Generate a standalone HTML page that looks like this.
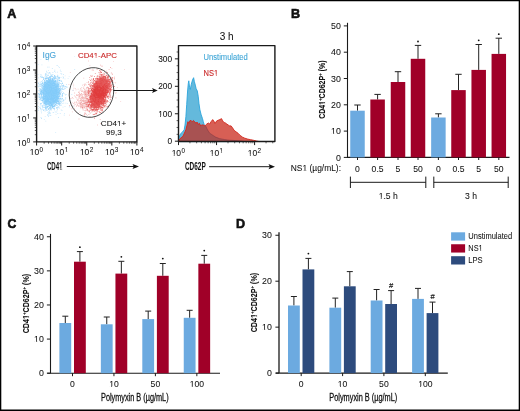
<!DOCTYPE html>
<html><head><meta charset="utf-8"><style>
html,body{margin:0;padding:0;background:#fff;}
svg{display:block;font-family:"Liberation Sans", sans-serif;will-change:transform;}
</style></head><body>
<svg width="520" height="411" viewBox="0 0 520 411">
<rect width="520" height="411" fill="#fff"/>
<text x="7.30" y="18.10" font-size="12.6" text-anchor="start" fill="#111" font-weight="bold" stroke="#111" stroke-width="0.6" >A</text>
<text x="291.10" y="17.90" font-size="12.6" text-anchor="start" fill="#111" font-weight="bold" stroke="#111" stroke-width="0.6" >B</text>
<text x="7.60" y="227.80" font-size="13.0" text-anchor="start" fill="#111" font-weight="bold" stroke="#111" stroke-width="0.6" textLength="8.8" lengthAdjust="spacingAndGlyphs">C</text>
<text x="235.90" y="228.40" font-size="12.6" text-anchor="start" fill="#111" font-weight="bold" stroke="#111" stroke-width="0.6" >D</text>
<path fill="#68c0fa" fill-opacity="0.72" d="M49.4 95.2h0.8v0.8h-0.8zM49.5 90.3h0.8v0.8h-0.8zM46.8 90.9h0.8v0.8h-0.8zM54.7 94.7h0.8v0.8h-0.8zM54.4 93.7h0.8v0.8h-0.8zM51.9 93.3h0.8v0.8h-0.8zM43.9 97.2h0.8v0.8h-0.8zM52.4 95.1h0.8v0.8h-0.8zM43.8 81.9h0.8v0.8h-0.8zM46.9 89.4h0.8v0.8h-0.8zM51.6 91.9h0.8v0.8h-0.8zM52.4 88.4h0.8v0.8h-0.8zM51.6 94.5h0.8v0.8h-0.8zM47.8 102.3h0.8v0.8h-0.8zM52.6 99.3h0.8v0.8h-0.8zM48.0 87.8h0.8v0.8h-0.8zM49.1 91.6h0.8v0.8h-0.8zM52.9 93.7h0.8v0.8h-0.8zM48.7 86.6h0.8v0.8h-0.8zM48.4 99.4h0.8v0.8h-0.8zM47.2 93.6h0.8v0.8h-0.8zM52.1 83.4h0.8v0.8h-0.8zM50.6 99.9h0.8v0.8h-0.8zM42.5 90.3h0.8v0.8h-0.8zM50.0 87.4h0.8v0.8h-0.8zM52.3 91.8h0.8v0.8h-0.8zM44.7 97.1h0.8v0.8h-0.8zM53.0 97.8h0.8v0.8h-0.8zM56.0 94.3h0.8v0.8h-0.8zM50.9 84.5h0.8v0.8h-0.8zM52.8 88.6h0.8v0.8h-0.8zM48.6 84.7h0.8v0.8h-0.8zM46.6 89.1h0.8v0.8h-0.8zM55.4 80.2h0.8v0.8h-0.8zM44.7 93.6h0.8v0.8h-0.8zM56.0 95.6h0.8v0.8h-0.8zM43.0 77.3h0.8v0.8h-0.8zM51.8 87.9h0.8v0.8h-0.8zM46.0 98.0h0.8v0.8h-0.8zM54.7 93.1h0.8v0.8h-0.8zM51.4 94.8h0.8v0.8h-0.8zM56.6 95.9h0.8v0.8h-0.8zM52.4 95.4h0.8v0.8h-0.8zM44.3 99.8h0.8v0.8h-0.8zM54.1 95.3h0.8v0.8h-0.8zM42.7 88.5h0.8v0.8h-0.8zM53.7 81.5h0.8v0.8h-0.8zM49.7 98.2h0.8v0.8h-0.8zM45.3 101.7h0.8v0.8h-0.8zM52.6 91.3h0.8v0.8h-0.8zM51.7 96.0h0.8v0.8h-0.8zM50.9 99.0h0.8v0.8h-0.8zM47.8 89.8h0.8v0.8h-0.8zM54.5 92.4h0.8v0.8h-0.8zM47.0 97.8h0.8v0.8h-0.8zM56.1 89.6h0.8v0.8h-0.8zM45.0 91.4h0.8v0.8h-0.8zM49.8 90.4h0.8v0.8h-0.8zM55.9 86.1h0.8v0.8h-0.8zM55.3 84.7h0.8v0.8h-0.8zM47.3 95.9h0.8v0.8h-0.8zM54.8 97.3h0.8v0.8h-0.8zM51.7 93.0h0.8v0.8h-0.8zM51.0 95.6h0.8v0.8h-0.8zM49.7 93.8h0.8v0.8h-0.8zM52.6 92.2h0.8v0.8h-0.8zM53.4 95.5h0.8v0.8h-0.8zM58.2 94.1h0.8v0.8h-0.8zM48.7 90.0h0.8v0.8h-0.8zM50.3 97.7h0.8v0.8h-0.8zM49.1 94.5h0.8v0.8h-0.8zM57.6 77.1h0.8v0.8h-0.8zM46.0 93.6h0.8v0.8h-0.8zM52.0 93.6h0.8v0.8h-0.8zM48.7 96.1h0.8v0.8h-0.8zM51.5 89.1h0.8v0.8h-0.8zM59.9 94.3h0.8v0.8h-0.8zM48.2 91.6h0.8v0.8h-0.8zM49.5 91.8h0.8v0.8h-0.8zM39.8 89.3h0.8v0.8h-0.8zM54.3 85.3h0.8v0.8h-0.8zM50.1 97.8h0.8v0.8h-0.8zM53.7 101.0h0.8v0.8h-0.8zM43.8 90.1h0.8v0.8h-0.8zM49.1 95.9h0.8v0.8h-0.8zM54.7 76.4h0.8v0.8h-0.8zM54.6 83.7h0.8v0.8h-0.8zM53.1 83.4h0.8v0.8h-0.8zM51.1 99.2h0.8v0.8h-0.8zM49.8 93.3h0.8v0.8h-0.8zM53.5 93.0h0.8v0.8h-0.8zM50.1 101.2h0.8v0.8h-0.8zM54.5 90.5h0.8v0.8h-0.8zM61.1 85.4h0.8v0.8h-0.8zM54.0 90.6h0.8v0.8h-0.8zM50.9 96.4h0.8v0.8h-0.8zM51.3 96.0h0.8v0.8h-0.8zM44.4 83.3h0.8v0.8h-0.8zM52.8 86.5h0.8v0.8h-0.8zM46.4 83.5h0.8v0.8h-0.8zM55.3 96.6h0.8v0.8h-0.8zM56.1 86.7h0.8v0.8h-0.8zM50.4 85.5h0.8v0.8h-0.8zM53.4 101.6h0.8v0.8h-0.8zM46.9 101.4h0.8v0.8h-0.8zM54.3 91.2h0.8v0.8h-0.8zM42.7 100.5h0.8v0.8h-0.8zM50.0 88.6h0.8v0.8h-0.8zM52.0 94.6h0.8v0.8h-0.8zM56.2 86.2h0.8v0.8h-0.8zM54.8 101.0h0.8v0.8h-0.8zM56.1 91.1h0.8v0.8h-0.8zM47.5 98.2h0.8v0.8h-0.8zM50.8 92.9h0.8v0.8h-0.8zM56.0 90.6h0.8v0.8h-0.8zM41.4 89.9h0.8v0.8h-0.8zM43.2 97.0h0.8v0.8h-0.8zM51.6 88.6h0.8v0.8h-0.8zM50.4 97.1h0.8v0.8h-0.8zM50.7 100.0h0.8v0.8h-0.8zM50.2 98.3h0.8v0.8h-0.8zM56.2 101.7h0.8v0.8h-0.8zM47.8 97.4h0.8v0.8h-0.8zM43.1 85.8h0.8v0.8h-0.8zM42.7 98.5h0.8v0.8h-0.8zM45.6 92.1h0.8v0.8h-0.8zM49.7 92.0h0.8v0.8h-0.8zM48.1 93.6h0.8v0.8h-0.8zM57.4 92.5h0.8v0.8h-0.8zM52.5 98.1h0.8v0.8h-0.8zM49.6 84.8h0.8v0.8h-0.8zM48.2 98.5h0.8v0.8h-0.8zM44.0 88.7h0.8v0.8h-0.8zM54.3 96.9h0.8v0.8h-0.8zM50.4 97.0h0.8v0.8h-0.8zM51.0 85.2h0.8v0.8h-0.8zM44.3 88.4h0.8v0.8h-0.8zM54.0 88.9h0.8v0.8h-0.8zM46.9 87.7h0.8v0.8h-0.8zM44.4 91.5h0.8v0.8h-0.8zM45.8 94.3h0.8v0.8h-0.8zM41.2 94.1h0.8v0.8h-0.8zM47.9 80.7h0.8v0.8h-0.8zM53.2 90.6h0.8v0.8h-0.8zM41.7 87.0h0.8v0.8h-0.8zM51.5 89.5h0.8v0.8h-0.8zM53.4 96.6h0.8v0.8h-0.8zM53.0 94.1h0.8v0.8h-0.8zM55.6 96.1h0.8v0.8h-0.8zM52.2 79.9h0.8v0.8h-0.8zM53.9 99.9h0.8v0.8h-0.8zM49.2 89.4h0.8v0.8h-0.8zM58.0 81.8h0.8v0.8h-0.8zM52.2 106.5h0.8v0.8h-0.8zM46.8 96.3h0.8v0.8h-0.8zM57.8 91.5h0.8v0.8h-0.8zM52.6 97.5h0.8v0.8h-0.8zM46.9 91.7h0.8v0.8h-0.8zM51.5 97.1h0.8v0.8h-0.8zM50.3 91.0h0.8v0.8h-0.8zM46.4 90.1h0.8v0.8h-0.8zM53.9 92.8h0.8v0.8h-0.8zM47.1 87.2h0.8v0.8h-0.8zM60.8 98.9h0.8v0.8h-0.8zM52.9 76.9h0.8v0.8h-0.8zM52.8 95.0h0.8v0.8h-0.8zM57.0 94.7h0.8v0.8h-0.8zM50.1 95.3h0.8v0.8h-0.8zM42.8 98.3h0.8v0.8h-0.8zM51.7 88.1h0.8v0.8h-0.8zM55.6 102.9h0.8v0.8h-0.8zM44.9 88.3h0.8v0.8h-0.8zM51.5 93.3h0.8v0.8h-0.8zM48.8 86.5h0.8v0.8h-0.8zM58.7 98.3h0.8v0.8h-0.8zM45.7 84.3h0.8v0.8h-0.8zM57.0 98.0h0.8v0.8h-0.8zM57.5 97.0h0.8v0.8h-0.8zM47.0 93.7h0.8v0.8h-0.8zM42.0 87.8h0.8v0.8h-0.8zM50.2 95.3h0.8v0.8h-0.8zM47.6 91.5h0.8v0.8h-0.8zM52.2 94.4h0.8v0.8h-0.8zM52.9 93.4h0.8v0.8h-0.8zM49.1 96.9h0.8v0.8h-0.8zM50.6 87.3h0.8v0.8h-0.8zM48.0 92.2h0.8v0.8h-0.8zM50.0 93.1h0.8v0.8h-0.8zM50.4 93.2h0.8v0.8h-0.8zM49.9 84.8h0.8v0.8h-0.8zM52.0 98.4h0.8v0.8h-0.8zM52.1 91.1h0.8v0.8h-0.8zM52.1 86.5h0.8v0.8h-0.8zM43.0 92.6h0.8v0.8h-0.8zM46.8 96.6h0.8v0.8h-0.8zM46.2 76.7h0.8v0.8h-0.8zM46.3 101.5h0.8v0.8h-0.8zM48.9 84.1h0.8v0.8h-0.8zM47.4 95.3h0.8v0.8h-0.8zM52.3 93.2h0.8v0.8h-0.8zM56.2 96.4h0.8v0.8h-0.8zM50.3 95.7h0.8v0.8h-0.8zM56.9 97.9h0.8v0.8h-0.8zM54.4 85.8h0.8v0.8h-0.8zM49.8 96.5h0.8v0.8h-0.8zM49.2 98.5h0.8v0.8h-0.8zM52.7 97.6h0.8v0.8h-0.8zM49.6 107.2h0.8v0.8h-0.8zM55.2 90.9h0.8v0.8h-0.8zM50.8 107.5h0.8v0.8h-0.8zM49.1 97.4h0.8v0.8h-0.8zM54.2 92.2h0.8v0.8h-0.8zM45.8 93.3h0.8v0.8h-0.8zM51.8 98.9h0.8v0.8h-0.8zM53.5 92.3h0.8v0.8h-0.8zM53.7 95.4h0.8v0.8h-0.8zM51.2 92.5h0.8v0.8h-0.8zM49.5 96.2h0.8v0.8h-0.8zM46.3 88.5h0.8v0.8h-0.8zM50.4 83.6h0.8v0.8h-0.8zM48.7 80.3h0.8v0.8h-0.8zM47.7 95.6h0.8v0.8h-0.8zM52.6 91.9h0.8v0.8h-0.8zM49.5 83.8h0.8v0.8h-0.8zM57.5 95.2h0.8v0.8h-0.8zM54.7 87.0h0.8v0.8h-0.8zM49.7 81.5h0.8v0.8h-0.8zM53.4 97.7h0.8v0.8h-0.8zM43.0 91.9h0.8v0.8h-0.8zM52.9 81.8h0.8v0.8h-0.8zM43.3 85.9h0.8v0.8h-0.8zM47.9 83.9h0.8v0.8h-0.8zM50.5 93.7h0.8v0.8h-0.8zM52.9 96.3h0.8v0.8h-0.8zM56.3 99.1h0.8v0.8h-0.8zM45.3 89.2h0.8v0.8h-0.8zM46.3 85.8h0.8v0.8h-0.8zM50.1 92.2h0.8v0.8h-0.8zM52.3 82.8h0.8v0.8h-0.8zM45.6 92.1h0.8v0.8h-0.8zM49.6 90.4h0.8v0.8h-0.8zM50.2 87.7h0.8v0.8h-0.8zM53.1 94.3h0.8v0.8h-0.8zM50.1 88.2h0.8v0.8h-0.8zM49.7 76.1h0.8v0.8h-0.8zM46.6 92.4h0.8v0.8h-0.8zM44.5 93.4h0.8v0.8h-0.8zM51.0 84.1h0.8v0.8h-0.8zM49.4 90.3h0.8v0.8h-0.8zM52.2 95.8h0.8v0.8h-0.8zM50.3 87.2h0.8v0.8h-0.8zM49.8 91.8h0.8v0.8h-0.8zM53.3 93.9h0.8v0.8h-0.8zM47.6 84.2h0.8v0.8h-0.8zM48.9 87.8h0.8v0.8h-0.8zM46.1 91.5h0.8v0.8h-0.8zM48.5 92.8h0.8v0.8h-0.8zM52.4 89.8h0.8v0.8h-0.8zM59.5 90.3h0.8v0.8h-0.8zM54.7 92.9h0.8v0.8h-0.8zM54.8 78.2h0.8v0.8h-0.8zM47.5 93.7h0.8v0.8h-0.8zM52.7 106.0h0.8v0.8h-0.8zM51.7 99.8h0.8v0.8h-0.8zM53.4 97.8h0.8v0.8h-0.8zM52.4 91.3h0.8v0.8h-0.8zM52.4 85.8h0.8v0.8h-0.8zM55.0 86.2h0.8v0.8h-0.8zM51.4 104.7h0.8v0.8h-0.8zM49.5 92.3h0.8v0.8h-0.8zM54.9 92.4h0.8v0.8h-0.8zM47.3 93.7h0.8v0.8h-0.8zM52.7 96.4h0.8v0.8h-0.8zM47.4 102.5h0.8v0.8h-0.8zM56.9 92.3h0.8v0.8h-0.8zM51.4 89.7h0.8v0.8h-0.8zM55.9 88.0h0.8v0.8h-0.8zM53.0 89.4h0.8v0.8h-0.8zM47.7 96.4h0.8v0.8h-0.8zM55.6 92.1h0.8v0.8h-0.8zM47.8 97.0h0.8v0.8h-0.8zM50.2 94.0h0.8v0.8h-0.8zM56.3 98.9h0.8v0.8h-0.8zM48.4 105.7h0.8v0.8h-0.8zM50.4 96.8h0.8v0.8h-0.8zM47.9 91.9h0.8v0.8h-0.8zM43.6 102.7h0.8v0.8h-0.8zM55.7 85.0h0.8v0.8h-0.8zM44.5 82.6h0.8v0.8h-0.8zM55.0 89.5h0.8v0.8h-0.8zM50.2 90.4h0.8v0.8h-0.8zM49.9 85.8h0.8v0.8h-0.8zM50.5 83.7h0.8v0.8h-0.8zM50.1 94.0h0.8v0.8h-0.8zM52.2 90.8h0.8v0.8h-0.8zM46.9 93.1h0.8v0.8h-0.8zM48.5 101.4h0.8v0.8h-0.8zM53.4 91.5h0.8v0.8h-0.8zM48.6 88.1h0.8v0.8h-0.8zM46.7 90.1h0.8v0.8h-0.8zM51.5 95.2h0.8v0.8h-0.8zM52.6 104.6h0.8v0.8h-0.8zM47.7 92.3h0.8v0.8h-0.8zM61.3 81.2h0.8v0.8h-0.8zM48.4 93.2h0.8v0.8h-0.8zM51.0 94.6h0.8v0.8h-0.8zM49.5 94.4h0.8v0.8h-0.8zM50.6 96.8h0.8v0.8h-0.8zM43.0 87.0h0.8v0.8h-0.8zM50.4 86.1h0.8v0.8h-0.8zM46.3 95.9h0.8v0.8h-0.8zM47.9 95.9h0.8v0.8h-0.8zM53.3 94.0h0.8v0.8h-0.8zM52.4 91.6h0.8v0.8h-0.8zM44.9 92.0h0.8v0.8h-0.8zM52.2 89.1h0.8v0.8h-0.8zM50.0 96.6h0.8v0.8h-0.8zM47.0 96.0h0.8v0.8h-0.8zM57.7 88.9h0.8v0.8h-0.8zM51.0 91.3h0.8v0.8h-0.8zM56.4 94.1h0.8v0.8h-0.8zM53.9 88.1h0.8v0.8h-0.8zM50.3 92.1h0.8v0.8h-0.8zM43.5 100.7h0.8v0.8h-0.8zM53.9 81.9h0.8v0.8h-0.8zM53.3 91.4h0.8v0.8h-0.8zM52.1 94.4h0.8v0.8h-0.8zM44.6 90.9h0.8v0.8h-0.8zM56.2 88.8h0.8v0.8h-0.8zM46.4 84.2h0.8v0.8h-0.8zM45.6 94.2h0.8v0.8h-0.8zM57.0 94.7h0.8v0.8h-0.8zM51.4 105.4h0.8v0.8h-0.8zM48.4 88.2h0.8v0.8h-0.8zM52.5 95.4h0.8v0.8h-0.8zM46.4 85.3h0.8v0.8h-0.8zM51.5 93.7h0.8v0.8h-0.8zM45.3 91.0h0.8v0.8h-0.8zM48.3 94.9h0.8v0.8h-0.8zM49.9 91.7h0.8v0.8h-0.8zM49.0 98.4h0.8v0.8h-0.8zM55.8 90.0h0.8v0.8h-0.8zM53.7 87.7h0.8v0.8h-0.8zM50.7 96.6h0.8v0.8h-0.8zM56.3 89.9h0.8v0.8h-0.8zM50.1 93.4h0.8v0.8h-0.8zM44.6 92.3h0.8v0.8h-0.8zM47.8 94.4h0.8v0.8h-0.8zM46.0 80.5h0.8v0.8h-0.8zM50.5 93.7h0.8v0.8h-0.8zM48.3 97.4h0.8v0.8h-0.8zM49.3 88.6h0.8v0.8h-0.8zM52.3 82.9h0.8v0.8h-0.8zM47.8 92.1h0.8v0.8h-0.8zM53.7 91.2h0.8v0.8h-0.8zM51.6 88.3h0.8v0.8h-0.8zM51.6 102.0h0.8v0.8h-0.8zM47.7 106.2h0.8v0.8h-0.8zM47.9 92.3h0.8v0.8h-0.8zM51.1 98.2h0.8v0.8h-0.8zM45.6 79.8h0.8v0.8h-0.8zM52.8 96.9h0.8v0.8h-0.8zM52.8 107.7h0.8v0.8h-0.8zM51.2 93.7h0.8v0.8h-0.8zM54.0 94.4h0.8v0.8h-0.8zM56.9 84.9h0.8v0.8h-0.8zM48.9 71.9h0.8v0.8h-0.8zM53.6 90.0h0.8v0.8h-0.8zM54.0 104.9h0.8v0.8h-0.8zM50.4 90.7h0.8v0.8h-0.8zM48.5 87.3h0.8v0.8h-0.8zM47.9 96.0h0.8v0.8h-0.8zM50.5 92.6h0.8v0.8h-0.8zM49.7 97.6h0.8v0.8h-0.8zM52.3 91.4h0.8v0.8h-0.8zM53.0 91.3h0.8v0.8h-0.8zM45.9 100.8h0.8v0.8h-0.8zM52.2 86.6h0.8v0.8h-0.8zM54.6 94.2h0.8v0.8h-0.8zM44.3 101.7h0.8v0.8h-0.8zM51.7 97.5h0.8v0.8h-0.8zM51.2 91.3h0.8v0.8h-0.8zM44.4 97.9h0.8v0.8h-0.8zM50.5 90.5h0.8v0.8h-0.8zM51.8 92.7h0.8v0.8h-0.8zM53.0 90.0h0.8v0.8h-0.8zM50.3 79.6h0.8v0.8h-0.8zM48.7 96.2h0.8v0.8h-0.8zM55.6 90.1h0.8v0.8h-0.8zM49.9 101.5h0.8v0.8h-0.8zM49.1 96.5h0.8v0.8h-0.8zM56.9 92.4h0.8v0.8h-0.8zM55.2 88.0h0.8v0.8h-0.8zM51.2 91.7h0.8v0.8h-0.8zM50.8 98.9h0.8v0.8h-0.8zM59.7 88.3h0.8v0.8h-0.8zM48.2 95.1h0.8v0.8h-0.8zM46.3 95.1h0.8v0.8h-0.8zM52.6 90.6h0.8v0.8h-0.8zM52.5 83.1h0.8v0.8h-0.8zM53.4 83.1h0.8v0.8h-0.8zM47.7 88.9h0.8v0.8h-0.8zM48.8 97.3h0.8v0.8h-0.8zM50.7 89.9h0.8v0.8h-0.8zM52.5 101.5h0.8v0.8h-0.8zM50.4 94.4h0.8v0.8h-0.8zM55.2 93.8h0.8v0.8h-0.8zM45.4 106.9h0.8v0.8h-0.8zM59.0 80.5h0.8v0.8h-0.8zM50.2 94.7h0.8v0.8h-0.8zM54.2 96.1h0.8v0.8h-0.8zM49.3 86.0h0.8v0.8h-0.8zM50.8 98.3h0.8v0.8h-0.8zM46.2 86.1h0.8v0.8h-0.8zM50.3 80.8h0.8v0.8h-0.8zM49.4 89.6h0.8v0.8h-0.8zM52.2 88.1h0.8v0.8h-0.8zM47.0 89.9h0.8v0.8h-0.8zM50.2 88.3h0.8v0.8h-0.8zM50.4 96.6h0.8v0.8h-0.8zM55.0 102.3h0.8v0.8h-0.8zM47.3 89.7h0.8v0.8h-0.8zM40.7 103.4h0.8v0.8h-0.8zM47.6 92.0h0.8v0.8h-0.8zM52.4 84.2h0.8v0.8h-0.8zM52.2 92.0h0.8v0.8h-0.8zM43.3 93.9h0.8v0.8h-0.8zM55.1 81.2h0.8v0.8h-0.8zM53.5 93.4h0.8v0.8h-0.8zM52.3 94.8h0.8v0.8h-0.8zM55.5 90.9h0.8v0.8h-0.8zM53.8 89.8h0.8v0.8h-0.8zM53.2 87.4h0.8v0.8h-0.8zM50.0 102.4h0.8v0.8h-0.8zM52.1 91.3h0.8v0.8h-0.8zM45.9 87.5h0.8v0.8h-0.8zM51.2 97.7h0.8v0.8h-0.8zM52.1 95.3h0.8v0.8h-0.8zM50.2 100.2h0.8v0.8h-0.8zM48.9 89.0h0.8v0.8h-0.8zM53.9 92.6h0.8v0.8h-0.8zM49.3 88.8h0.8v0.8h-0.8zM49.4 95.9h0.8v0.8h-0.8zM51.8 85.1h0.8v0.8h-0.8zM52.1 93.3h0.8v0.8h-0.8zM46.5 96.8h0.8v0.8h-0.8zM49.3 90.2h0.8v0.8h-0.8zM53.5 100.0h0.8v0.8h-0.8zM47.7 94.8h0.8v0.8h-0.8zM47.0 105.9h0.8v0.8h-0.8zM48.5 99.3h0.8v0.8h-0.8zM47.9 97.0h0.8v0.8h-0.8zM59.1 77.2h0.8v0.8h-0.8zM48.7 95.2h0.8v0.8h-0.8zM50.0 88.3h0.8v0.8h-0.8zM58.8 92.7h0.8v0.8h-0.8zM44.0 97.2h0.8v0.8h-0.8zM43.7 99.0h0.8v0.8h-0.8zM48.1 93.1h0.8v0.8h-0.8zM55.3 92.9h0.8v0.8h-0.8zM45.0 82.2h0.8v0.8h-0.8zM55.0 96.6h0.8v0.8h-0.8zM47.2 97.3h0.8v0.8h-0.8zM52.3 96.0h0.8v0.8h-0.8zM41.6 90.4h0.8v0.8h-0.8zM53.9 96.5h0.8v0.8h-0.8zM53.8 77.7h0.8v0.8h-0.8zM51.1 95.1h0.8v0.8h-0.8zM60.4 86.6h0.8v0.8h-0.8zM49.1 92.4h0.8v0.8h-0.8zM53.9 89.6h0.8v0.8h-0.8zM54.9 87.6h0.8v0.8h-0.8zM51.4 89.1h0.8v0.8h-0.8zM51.0 88.1h0.8v0.8h-0.8zM44.2 98.6h0.8v0.8h-0.8zM51.6 88.9h0.8v0.8h-0.8zM51.2 98.0h0.8v0.8h-0.8zM46.6 91.5h0.8v0.8h-0.8zM52.5 95.3h0.8v0.8h-0.8zM49.1 79.8h0.8v0.8h-0.8zM55.2 94.1h0.8v0.8h-0.8zM50.5 90.6h0.8v0.8h-0.8zM51.4 89.7h0.8v0.8h-0.8zM46.4 87.8h0.8v0.8h-0.8zM48.1 88.6h0.8v0.8h-0.8zM45.9 96.0h0.8v0.8h-0.8zM45.3 96.1h0.8v0.8h-0.8zM46.4 94.3h0.8v0.8h-0.8zM55.8 93.4h0.8v0.8h-0.8zM47.5 92.5h0.8v0.8h-0.8zM51.0 82.0h0.8v0.8h-0.8zM48.0 93.2h0.8v0.8h-0.8zM48.6 92.7h0.8v0.8h-0.8zM53.3 96.7h0.8v0.8h-0.8zM53.9 95.7h0.8v0.8h-0.8zM49.3 92.1h0.8v0.8h-0.8zM49.3 90.4h0.8v0.8h-0.8zM49.7 82.0h0.8v0.8h-0.8zM49.1 92.1h0.8v0.8h-0.8zM46.6 92.1h0.8v0.8h-0.8zM52.4 91.2h0.8v0.8h-0.8zM58.5 76.8h0.8v0.8h-0.8zM49.6 81.4h0.8v0.8h-0.8zM54.2 107.9h0.8v0.8h-0.8zM40.6 93.0h0.8v0.8h-0.8zM52.4 90.4h0.8v0.8h-0.8zM52.6 79.0h0.8v0.8h-0.8zM53.7 94.4h0.8v0.8h-0.8zM50.5 88.7h0.8v0.8h-0.8zM52.9 89.3h0.8v0.8h-0.8zM51.3 89.2h0.8v0.8h-0.8zM41.6 92.0h0.8v0.8h-0.8zM51.2 96.7h0.8v0.8h-0.8zM47.0 92.0h0.8v0.8h-0.8zM52.8 93.1h0.8v0.8h-0.8zM55.2 104.0h0.8v0.8h-0.8zM46.9 80.9h0.8v0.8h-0.8zM53.7 101.2h0.8v0.8h-0.8zM54.0 97.0h0.8v0.8h-0.8zM48.0 88.0h0.8v0.8h-0.8zM53.9 86.8h0.8v0.8h-0.8zM43.3 86.3h0.8v0.8h-0.8zM60.1 103.5h0.8v0.8h-0.8zM47.7 87.9h0.8v0.8h-0.8zM51.3 87.8h0.8v0.8h-0.8zM55.5 91.7h0.8v0.8h-0.8zM46.2 99.9h0.8v0.8h-0.8zM48.1 93.5h0.8v0.8h-0.8zM50.4 90.3h0.8v0.8h-0.8zM51.7 88.1h0.8v0.8h-0.8zM43.2 79.2h0.8v0.8h-0.8zM45.5 87.7h0.8v0.8h-0.8zM50.3 92.5h0.8v0.8h-0.8zM52.6 92.9h0.8v0.8h-0.8zM47.3 88.0h0.8v0.8h-0.8zM42.1 91.2h0.8v0.8h-0.8zM52.3 95.3h0.8v0.8h-0.8zM49.9 91.2h0.8v0.8h-0.8zM54.1 92.3h0.8v0.8h-0.8zM53.3 95.6h0.8v0.8h-0.8zM51.2 99.9h0.8v0.8h-0.8zM48.2 90.1h0.8v0.8h-0.8zM47.2 87.5h0.8v0.8h-0.8zM56.5 102.6h0.8v0.8h-0.8zM50.5 95.6h0.8v0.8h-0.8zM55.0 97.0h0.8v0.8h-0.8zM55.1 84.7h0.8v0.8h-0.8zM47.9 94.9h0.8v0.8h-0.8zM56.0 92.8h0.8v0.8h-0.8zM47.1 90.1h0.8v0.8h-0.8zM47.8 87.1h0.8v0.8h-0.8zM56.3 88.5h0.8v0.8h-0.8zM50.5 105.0h0.8v0.8h-0.8zM55.0 94.2h0.8v0.8h-0.8zM48.0 94.6h0.8v0.8h-0.8zM56.7 95.9h0.8v0.8h-0.8zM55.3 92.8h0.8v0.8h-0.8zM52.4 91.0h0.8v0.8h-0.8zM52.1 99.9h0.8v0.8h-0.8zM44.8 91.8h0.8v0.8h-0.8zM51.3 88.8h0.8v0.8h-0.8zM49.2 96.8h0.8v0.8h-0.8zM58.2 95.9h0.8v0.8h-0.8zM51.7 83.0h0.8v0.8h-0.8zM57.9 92.7h0.8v0.8h-0.8zM50.3 85.6h0.8v0.8h-0.8zM50.2 85.7h0.8v0.8h-0.8zM50.7 95.0h0.8v0.8h-0.8zM50.5 93.8h0.8v0.8h-0.8zM47.1 100.6h0.8v0.8h-0.8zM47.9 81.5h0.8v0.8h-0.8zM49.7 87.7h0.8v0.8h-0.8zM46.5 90.1h0.8v0.8h-0.8zM51.5 85.2h0.8v0.8h-0.8zM49.9 100.6h0.8v0.8h-0.8zM53.1 91.3h0.8v0.8h-0.8zM50.9 91.5h0.8v0.8h-0.8zM50.2 96.5h0.8v0.8h-0.8zM50.0 78.0h0.8v0.8h-0.8zM50.3 87.0h0.8v0.8h-0.8zM52.9 88.6h0.8v0.8h-0.8zM51.0 105.0h0.8v0.8h-0.8zM46.3 85.6h0.8v0.8h-0.8zM44.9 78.1h0.8v0.8h-0.8zM43.1 94.4h0.8v0.8h-0.8zM47.9 81.2h0.8v0.8h-0.8zM44.6 95.8h0.8v0.8h-0.8zM47.4 90.0h0.8v0.8h-0.8zM51.7 100.2h0.8v0.8h-0.8zM58.0 98.3h0.8v0.8h-0.8zM51.0 93.3h0.8v0.8h-0.8zM57.4 100.6h0.8v0.8h-0.8zM49.2 94.9h0.8v0.8h-0.8zM51.5 92.5h0.8v0.8h-0.8zM48.4 84.4h0.8v0.8h-0.8zM48.3 83.1h0.8v0.8h-0.8zM55.2 95.4h0.8v0.8h-0.8zM45.7 100.4h0.8v0.8h-0.8zM53.9 80.9h0.8v0.8h-0.8zM57.6 97.0h0.8v0.8h-0.8zM58.5 84.9h0.8v0.8h-0.8zM52.5 94.7h0.8v0.8h-0.8zM51.2 93.2h0.8v0.8h-0.8zM54.5 83.4h0.8v0.8h-0.8zM45.6 84.0h0.8v0.8h-0.8zM48.2 88.6h0.8v0.8h-0.8zM51.8 93.8h0.8v0.8h-0.8zM50.5 88.2h0.8v0.8h-0.8zM48.7 97.8h0.8v0.8h-0.8zM53.4 92.8h0.8v0.8h-0.8zM49.1 101.4h0.8v0.8h-0.8zM48.1 96.0h0.8v0.8h-0.8zM54.9 90.6h0.8v0.8h-0.8zM53.6 85.6h0.8v0.8h-0.8zM54.3 93.4h0.8v0.8h-0.8zM44.2 96.2h0.8v0.8h-0.8zM46.9 99.8h0.8v0.8h-0.8zM47.8 91.2h0.8v0.8h-0.8zM51.5 90.2h0.8v0.8h-0.8zM51.4 88.9h0.8v0.8h-0.8zM53.0 92.2h0.8v0.8h-0.8zM51.2 76.0h0.8v0.8h-0.8zM54.9 92.4h0.8v0.8h-0.8zM43.4 92.8h0.8v0.8h-0.8zM52.2 98.5h0.8v0.8h-0.8zM46.2 101.3h0.8v0.8h-0.8zM49.8 106.3h0.8v0.8h-0.8zM49.8 96.2h0.8v0.8h-0.8zM49.0 85.6h0.8v0.8h-0.8zM54.7 97.5h0.8v0.8h-0.8zM56.4 97.3h0.8v0.8h-0.8zM48.2 82.4h0.8v0.8h-0.8zM47.9 88.2h0.8v0.8h-0.8zM47.2 95.6h0.8v0.8h-0.8zM51.7 90.6h0.8v0.8h-0.8zM51.1 91.3h0.8v0.8h-0.8zM51.2 96.6h0.8v0.8h-0.8zM54.1 88.2h0.8v0.8h-0.8zM44.5 100.6h0.8v0.8h-0.8zM50.8 98.7h0.8v0.8h-0.8zM44.0 90.3h0.8v0.8h-0.8zM50.5 83.7h0.8v0.8h-0.8zM48.4 96.5h0.8v0.8h-0.8zM54.6 101.6h0.8v0.8h-0.8zM47.0 83.9h0.8v0.8h-0.8zM52.4 97.7h0.8v0.8h-0.8zM51.2 84.5h0.8v0.8h-0.8zM53.5 96.9h0.8v0.8h-0.8zM52.6 89.3h0.8v0.8h-0.8zM51.6 96.9h0.8v0.8h-0.8zM48.2 81.3h0.8v0.8h-0.8zM51.7 95.0h0.8v0.8h-0.8zM50.5 97.4h0.8v0.8h-0.8zM48.1 91.7h0.8v0.8h-0.8zM49.2 95.6h0.8v0.8h-0.8zM56.6 90.7h0.8v0.8h-0.8zM58.4 101.2h0.8v0.8h-0.8zM53.5 95.7h0.8v0.8h-0.8zM57.3 91.1h0.8v0.8h-0.8zM50.0 85.9h0.8v0.8h-0.8zM52.2 100.1h0.8v0.8h-0.8zM52.5 94.7h0.8v0.8h-0.8zM49.6 93.2h0.8v0.8h-0.8zM44.8 98.4h0.8v0.8h-0.8zM48.8 85.7h0.8v0.8h-0.8zM47.5 87.3h0.8v0.8h-0.8zM53.7 98.4h0.8v0.8h-0.8zM45.1 97.7h0.8v0.8h-0.8zM53.9 88.8h0.8v0.8h-0.8zM44.6 87.8h0.8v0.8h-0.8zM47.9 94.2h0.8v0.8h-0.8zM49.0 80.2h0.8v0.8h-0.8zM51.3 83.1h0.8v0.8h-0.8zM53.9 85.1h0.8v0.8h-0.8zM47.7 87.2h0.8v0.8h-0.8zM48.3 99.9h0.8v0.8h-0.8zM53.7 95.8h0.8v0.8h-0.8zM51.6 83.1h0.8v0.8h-0.8zM48.4 88.9h0.8v0.8h-0.8zM46.6 95.2h0.8v0.8h-0.8zM47.5 88.0h0.8v0.8h-0.8zM46.3 80.1h0.8v0.8h-0.8zM52.7 100.1h0.8v0.8h-0.8zM51.1 86.4h0.8v0.8h-0.8zM39.9 93.2h0.8v0.8h-0.8zM55.1 94.0h0.8v0.8h-0.8zM54.0 100.9h0.8v0.8h-0.8zM54.8 89.6h0.8v0.8h-0.8zM54.5 96.8h0.8v0.8h-0.8zM44.4 89.8h0.8v0.8h-0.8zM44.8 91.6h0.8v0.8h-0.8zM52.7 85.9h0.8v0.8h-0.8zM42.4 99.9h0.8v0.8h-0.8zM51.9 100.9h0.8v0.8h-0.8zM45.2 98.5h0.8v0.8h-0.8zM58.5 104.0h0.8v0.8h-0.8zM49.6 93.8h0.8v0.8h-0.8zM49.8 98.1h0.8v0.8h-0.8zM54.4 92.7h0.8v0.8h-0.8zM45.1 96.6h0.8v0.8h-0.8zM48.6 95.9h0.8v0.8h-0.8zM51.4 101.8h0.8v0.8h-0.8zM54.8 89.5h0.8v0.8h-0.8zM51.8 102.6h0.8v0.8h-0.8zM48.3 94.8h0.8v0.8h-0.8zM55.0 99.6h0.8v0.8h-0.8zM52.4 84.4h0.8v0.8h-0.8zM45.5 93.7h0.8v0.8h-0.8zM51.9 107.2h0.8v0.8h-0.8zM47.0 98.9h0.8v0.8h-0.8zM53.4 82.3h0.8v0.8h-0.8zM47.2 93.2h0.8v0.8h-0.8zM48.5 91.3h0.8v0.8h-0.8zM52.2 87.4h0.8v0.8h-0.8zM52.2 88.4h0.8v0.8h-0.8zM48.3 95.4h0.8v0.8h-0.8zM48.2 93.9h0.8v0.8h-0.8zM56.6 92.4h0.8v0.8h-0.8zM49.8 96.5h0.8v0.8h-0.8zM49.0 98.6h0.8v0.8h-0.8zM45.4 95.8h0.8v0.8h-0.8zM48.4 87.5h0.8v0.8h-0.8zM57.3 87.2h0.8v0.8h-0.8zM57.3 96.1h0.8v0.8h-0.8zM56.1 86.4h0.8v0.8h-0.8zM55.1 100.8h0.8v0.8h-0.8zM49.9 91.4h0.8v0.8h-0.8zM60.0 93.2h0.8v0.8h-0.8zM48.8 88.5h0.8v0.8h-0.8zM52.1 94.1h0.8v0.8h-0.8zM51.1 102.4h0.8v0.8h-0.8zM49.1 95.0h0.8v0.8h-0.8zM56.1 86.3h0.8v0.8h-0.8zM54.5 103.0h0.8v0.8h-0.8zM45.1 85.7h0.8v0.8h-0.8zM46.4 81.3h0.8v0.8h-0.8zM52.2 81.2h0.8v0.8h-0.8zM52.3 100.8h0.8v0.8h-0.8zM44.1 90.3h0.8v0.8h-0.8zM42.9 96.8h0.8v0.8h-0.8zM47.5 90.6h0.8v0.8h-0.8zM50.6 95.4h0.8v0.8h-0.8zM49.0 92.3h0.8v0.8h-0.8zM48.3 92.9h0.8v0.8h-0.8zM45.8 92.6h0.8v0.8h-0.8zM42.9 89.3h0.8v0.8h-0.8zM57.9 92.7h0.8v0.8h-0.8zM45.5 93.7h0.8v0.8h-0.8zM46.6 82.5h0.8v0.8h-0.8zM47.5 96.5h0.8v0.8h-0.8zM51.9 91.6h0.8v0.8h-0.8zM46.8 85.8h0.8v0.8h-0.8zM55.7 93.6h0.8v0.8h-0.8zM46.7 79.7h0.8v0.8h-0.8zM45.1 106.8h0.8v0.8h-0.8zM45.9 91.7h0.8v0.8h-0.8zM51.2 91.3h0.8v0.8h-0.8zM49.3 84.1h0.8v0.8h-0.8zM46.3 102.2h0.8v0.8h-0.8zM47.5 97.2h0.8v0.8h-0.8zM43.8 90.6h0.8v0.8h-0.8zM51.4 98.3h0.8v0.8h-0.8zM46.0 95.7h0.8v0.8h-0.8zM51.9 87.8h0.8v0.8h-0.8zM52.3 86.9h0.8v0.8h-0.8zM47.3 92.1h0.8v0.8h-0.8zM39.8 91.6h0.8v0.8h-0.8zM46.5 83.6h0.8v0.8h-0.8zM48.7 96.7h0.8v0.8h-0.8zM48.8 99.7h0.8v0.8h-0.8zM45.9 84.5h0.8v0.8h-0.8zM56.4 94.6h0.8v0.8h-0.8zM54.1 87.3h0.8v0.8h-0.8zM53.5 93.7h0.8v0.8h-0.8zM52.9 92.3h0.8v0.8h-0.8zM55.1 88.4h0.8v0.8h-0.8zM46.6 83.5h0.8v0.8h-0.8zM54.9 87.8h0.8v0.8h-0.8zM46.3 86.7h0.8v0.8h-0.8zM48.7 84.7h0.8v0.8h-0.8zM49.3 88.5h0.8v0.8h-0.8zM48.3 86.5h0.8v0.8h-0.8zM50.5 89.5h0.8v0.8h-0.8zM50.8 93.7h0.8v0.8h-0.8zM51.7 79.3h0.8v0.8h-0.8zM48.3 87.5h0.8v0.8h-0.8zM53.4 82.9h0.8v0.8h-0.8zM47.6 90.5h0.8v0.8h-0.8zM49.1 98.0h0.8v0.8h-0.8zM48.7 97.9h0.8v0.8h-0.8zM44.7 81.5h0.8v0.8h-0.8zM55.2 94.8h0.8v0.8h-0.8zM52.3 92.9h0.8v0.8h-0.8zM52.3 85.0h0.8v0.8h-0.8zM54.1 89.1h0.8v0.8h-0.8zM54.2 92.7h0.8v0.8h-0.8zM42.7 84.6h0.8v0.8h-0.8zM54.8 91.4h0.8v0.8h-0.8zM48.9 93.6h0.8v0.8h-0.8zM48.7 89.0h0.8v0.8h-0.8zM50.8 93.1h0.8v0.8h-0.8zM56.3 92.5h0.8v0.8h-0.8zM57.7 102.8h0.8v0.8h-0.8zM57.1 98.5h0.8v0.8h-0.8zM50.9 93.0h0.8v0.8h-0.8zM49.8 87.9h0.8v0.8h-0.8zM50.1 88.4h0.8v0.8h-0.8zM56.8 95.4h0.8v0.8h-0.8zM48.7 80.9h0.8v0.8h-0.8zM50.2 89.7h0.8v0.8h-0.8zM46.2 85.5h0.8v0.8h-0.8zM41.6 95.6h0.8v0.8h-0.8zM50.1 107.4h0.8v0.8h-0.8zM50.3 91.3h0.8v0.8h-0.8zM56.0 93.0h0.8v0.8h-0.8zM51.1 90.0h0.8v0.8h-0.8zM48.0 101.0h0.8v0.8h-0.8zM54.3 102.3h0.8v0.8h-0.8zM49.0 92.4h0.8v0.8h-0.8zM47.0 97.9h0.8v0.8h-0.8zM45.0 95.5h0.8v0.8h-0.8zM54.7 100.5h0.8v0.8h-0.8zM46.7 98.6h0.8v0.8h-0.8zM47.6 87.7h0.8v0.8h-0.8zM45.2 99.0h0.8v0.8h-0.8zM56.8 88.7h0.8v0.8h-0.8zM47.4 90.2h0.8v0.8h-0.8zM60.2 98.1h0.8v0.8h-0.8zM48.3 81.6h0.8v0.8h-0.8zM47.8 99.2h0.8v0.8h-0.8zM57.7 90.6h0.8v0.8h-0.8zM47.7 89.2h0.8v0.8h-0.8zM43.0 97.6h0.8v0.8h-0.8zM46.2 98.5h0.8v0.8h-0.8zM43.7 84.7h0.8v0.8h-0.8zM51.5 87.7h0.8v0.8h-0.8zM53.4 92.2h0.8v0.8h-0.8zM45.8 95.9h0.8v0.8h-0.8zM53.7 80.9h0.8v0.8h-0.8zM57.5 95.1h0.8v0.8h-0.8zM53.4 81.2h0.8v0.8h-0.8zM47.6 90.1h0.8v0.8h-0.8zM54.6 83.6h0.8v0.8h-0.8zM47.0 80.2h0.8v0.8h-0.8zM49.5 94.2h0.8v0.8h-0.8zM43.8 88.7h0.8v0.8h-0.8zM52.4 101.6h0.8v0.8h-0.8zM53.0 90.4h0.8v0.8h-0.8zM45.8 86.7h0.8v0.8h-0.8zM47.8 93.1h0.8v0.8h-0.8zM50.2 102.0h0.8v0.8h-0.8zM51.5 85.9h0.8v0.8h-0.8zM56.4 97.8h0.8v0.8h-0.8zM50.8 87.9h0.8v0.8h-0.8zM43.1 86.2h0.8v0.8h-0.8zM54.0 87.5h0.8v0.8h-0.8zM45.3 93.4h0.8v0.8h-0.8zM51.4 95.8h0.8v0.8h-0.8zM53.0 100.5h0.8v0.8h-0.8zM47.1 98.0h0.8v0.8h-0.8zM46.5 96.3h0.8v0.8h-0.8zM51.1 93.6h0.8v0.8h-0.8zM54.2 92.1h0.8v0.8h-0.8zM54.7 97.4h0.8v0.8h-0.8zM50.9 88.9h0.8v0.8h-0.8zM47.5 89.1h0.8v0.8h-0.8zM49.6 92.1h0.8v0.8h-0.8zM62.0 96.0h0.8v0.8h-0.8zM53.4 87.1h0.8v0.8h-0.8zM47.6 90.3h0.8v0.8h-0.8zM51.1 86.1h0.8v0.8h-0.8zM56.7 88.9h0.8v0.8h-0.8zM54.6 78.4h0.8v0.8h-0.8zM50.4 93.8h0.8v0.8h-0.8zM51.1 95.8h0.8v0.8h-0.8zM51.5 93.2h0.8v0.8h-0.8zM43.0 88.0h0.8v0.8h-0.8zM41.3 95.9h0.8v0.8h-0.8zM51.6 91.0h0.8v0.8h-0.8zM47.2 88.8h0.8v0.8h-0.8zM57.6 102.4h0.8v0.8h-0.8zM50.2 99.8h0.8v0.8h-0.8zM44.2 80.8h0.8v0.8h-0.8zM48.5 87.0h0.8v0.8h-0.8zM48.2 93.3h0.8v0.8h-0.8zM62.2 88.3h0.8v0.8h-0.8zM50.6 93.8h0.8v0.8h-0.8zM50.3 97.7h0.8v0.8h-0.8zM57.3 84.9h0.8v0.8h-0.8zM51.0 90.6h0.8v0.8h-0.8zM51.8 83.2h0.8v0.8h-0.8zM43.5 78.5h0.8v0.8h-0.8zM52.4 93.3h0.8v0.8h-0.8zM50.7 78.2h0.8v0.8h-0.8zM48.9 87.7h0.8v0.8h-0.8zM44.9 86.8h0.8v0.8h-0.8zM53.1 95.4h0.8v0.8h-0.8zM50.3 95.2h0.8v0.8h-0.8zM48.0 92.6h0.8v0.8h-0.8zM50.6 95.5h0.8v0.8h-0.8zM50.1 91.4h0.8v0.8h-0.8zM49.9 88.4h0.8v0.8h-0.8zM59.1 95.2h0.8v0.8h-0.8zM52.1 105.7h0.8v0.8h-0.8zM55.9 83.0h0.8v0.8h-0.8zM53.1 97.1h0.8v0.8h-0.8zM57.8 100.0h0.8v0.8h-0.8zM53.4 85.3h0.8v0.8h-0.8zM47.0 93.8h0.8v0.8h-0.8zM52.4 86.2h0.8v0.8h-0.8zM48.9 89.8h0.8v0.8h-0.8zM50.6 94.2h0.8v0.8h-0.8zM49.3 84.9h0.8v0.8h-0.8zM55.2 101.6h0.8v0.8h-0.8zM50.0 98.2h0.8v0.8h-0.8zM52.1 96.1h0.8v0.8h-0.8zM52.3 87.7h0.8v0.8h-0.8zM52.6 98.2h0.8v0.8h-0.8zM46.9 103.8h0.8v0.8h-0.8zM58.6 103.0h0.8v0.8h-0.8zM58.2 96.6h0.8v0.8h-0.8zM49.1 88.7h0.8v0.8h-0.8zM47.2 92.9h0.8v0.8h-0.8zM50.3 96.2h0.8v0.8h-0.8zM42.5 105.8h0.8v0.8h-0.8zM59.3 92.0h0.8v0.8h-0.8zM53.0 95.0h0.8v0.8h-0.8zM51.5 91.0h0.8v0.8h-0.8zM49.9 87.3h0.8v0.8h-0.8zM51.1 92.1h0.8v0.8h-0.8zM51.6 87.2h0.8v0.8h-0.8zM50.6 92.5h0.8v0.8h-0.8zM52.8 85.9h0.8v0.8h-0.8zM52.0 98.0h0.8v0.8h-0.8zM52.7 90.0h0.8v0.8h-0.8zM48.5 90.8h0.8v0.8h-0.8zM53.2 101.4h0.8v0.8h-0.8zM49.8 88.4h0.8v0.8h-0.8zM51.9 93.4h0.8v0.8h-0.8zM46.9 87.8h0.8v0.8h-0.8zM50.0 96.2h0.8v0.8h-0.8zM45.7 86.2h0.8v0.8h-0.8zM52.3 85.0h0.8v0.8h-0.8zM50.8 94.3h0.8v0.8h-0.8zM50.0 86.2h0.8v0.8h-0.8zM50.2 90.2h0.8v0.8h-0.8zM51.7 87.3h0.8v0.8h-0.8zM54.7 82.3h0.8v0.8h-0.8zM49.7 92.2h0.8v0.8h-0.8zM54.2 88.6h0.8v0.8h-0.8zM52.5 88.9h0.8v0.8h-0.8zM53.3 102.4h0.8v0.8h-0.8zM48.8 94.8h0.8v0.8h-0.8zM46.8 97.9h0.8v0.8h-0.8zM55.1 92.4h0.8v0.8h-0.8zM46.0 94.6h0.8v0.8h-0.8zM54.9 98.6h0.8v0.8h-0.8zM53.6 81.4h0.8v0.8h-0.8zM47.7 100.6h0.8v0.8h-0.8zM45.6 98.9h0.8v0.8h-0.8zM57.7 96.7h0.8v0.8h-0.8zM54.8 90.2h0.8v0.8h-0.8zM45.6 91.6h0.8v0.8h-0.8zM49.6 91.9h0.8v0.8h-0.8zM53.1 91.3h0.8v0.8h-0.8zM51.1 94.7h0.8v0.8h-0.8zM50.4 103.1h0.8v0.8h-0.8zM52.1 92.7h0.8v0.8h-0.8zM49.6 88.5h0.8v0.8h-0.8zM55.6 93.1h0.8v0.8h-0.8zM46.2 88.9h0.8v0.8h-0.8zM49.9 89.6h0.8v0.8h-0.8zM54.6 85.3h0.8v0.8h-0.8zM52.3 93.0h0.8v0.8h-0.8zM45.8 92.5h0.8v0.8h-0.8zM50.0 95.2h0.8v0.8h-0.8zM48.6 94.0h0.8v0.8h-0.8zM43.9 85.8h0.8v0.8h-0.8zM53.5 98.3h0.8v0.8h-0.8zM50.3 88.7h0.8v0.8h-0.8zM54.6 79.9h0.8v0.8h-0.8zM47.3 96.2h0.8v0.8h-0.8zM52.9 86.1h0.8v0.8h-0.8zM43.0 100.8h0.8v0.8h-0.8zM51.0 86.9h0.8v0.8h-0.8zM50.6 97.5h0.8v0.8h-0.8zM40.3 98.8h0.8v0.8h-0.8zM53.3 79.9h0.8v0.8h-0.8zM53.4 81.7h0.8v0.8h-0.8zM54.8 94.6h0.8v0.8h-0.8zM59.2 88.6h0.8v0.8h-0.8zM50.4 98.4h0.8v0.8h-0.8zM47.9 88.0h0.8v0.8h-0.8zM48.9 91.8h0.8v0.8h-0.8zM46.2 95.1h0.8v0.8h-0.8zM52.5 92.6h0.8v0.8h-0.8zM57.0 90.3h0.8v0.8h-0.8zM55.5 89.0h0.8v0.8h-0.8zM53.3 80.8h0.8v0.8h-0.8zM51.2 91.2h0.8v0.8h-0.8zM48.5 88.6h0.8v0.8h-0.8zM49.0 88.0h0.8v0.8h-0.8zM41.8 88.7h0.8v0.8h-0.8zM48.3 89.1h0.8v0.8h-0.8zM46.3 91.4h0.8v0.8h-0.8zM53.5 90.7h0.8v0.8h-0.8zM48.5 100.2h0.8v0.8h-0.8zM54.2 97.6h0.8v0.8h-0.8zM54.9 90.3h0.8v0.8h-0.8zM49.9 98.8h0.8v0.8h-0.8zM48.2 91.5h0.8v0.8h-0.8zM51.9 94.4h0.8v0.8h-0.8zM49.3 98.0h0.8v0.8h-0.8zM49.7 96.5h0.8v0.8h-0.8zM54.6 96.1h0.8v0.8h-0.8zM53.3 85.4h0.8v0.8h-0.8zM45.3 88.5h0.8v0.8h-0.8zM52.3 101.1h0.8v0.8h-0.8zM45.6 94.0h0.8v0.8h-0.8zM47.1 87.9h0.8v0.8h-0.8zM49.3 96.3h0.8v0.8h-0.8zM51.2 99.2h0.8v0.8h-0.8zM46.6 97.4h0.8v0.8h-0.8zM54.0 92.6h0.8v0.8h-0.8zM52.3 88.9h0.8v0.8h-0.8zM46.1 89.8h0.8v0.8h-0.8zM47.9 109.3h0.8v0.8h-0.8zM48.5 101.9h0.8v0.8h-0.8zM51.2 94.0h0.8v0.8h-0.8zM53.3 87.6h0.8v0.8h-0.8zM54.0 94.4h0.8v0.8h-0.8zM44.5 95.7h0.8v0.8h-0.8zM52.6 94.9h0.8v0.8h-0.8zM56.6 89.8h0.8v0.8h-0.8zM52.4 96.6h0.8v0.8h-0.8zM46.9 99.3h0.8v0.8h-0.8zM44.7 84.5h0.8v0.8h-0.8zM52.4 85.8h0.8v0.8h-0.8zM49.9 82.5h0.8v0.8h-0.8zM50.7 85.5h0.8v0.8h-0.8zM51.7 83.2h0.8v0.8h-0.8zM52.1 90.6h0.8v0.8h-0.8zM50.6 91.8h0.8v0.8h-0.8zM50.9 84.4h0.8v0.8h-0.8zM40.4 92.4h0.8v0.8h-0.8zM46.8 89.5h0.8v0.8h-0.8zM52.1 80.5h0.8v0.8h-0.8zM47.4 88.6h0.8v0.8h-0.8zM46.3 94.1h0.8v0.8h-0.8zM49.9 87.4h0.8v0.8h-0.8zM46.6 97.0h0.8v0.8h-0.8zM47.8 95.7h0.8v0.8h-0.8zM52.2 81.0h0.8v0.8h-0.8zM46.2 92.2h0.8v0.8h-0.8zM51.7 96.8h0.8v0.8h-0.8zM53.5 98.3h0.8v0.8h-0.8zM48.9 91.0h0.8v0.8h-0.8zM53.4 89.7h0.8v0.8h-0.8zM54.5 82.8h0.8v0.8h-0.8zM52.9 91.2h0.8v0.8h-0.8zM42.7 98.0h0.8v0.8h-0.8zM51.6 92.3h0.8v0.8h-0.8zM46.2 89.5h0.8v0.8h-0.8zM56.3 87.3h0.8v0.8h-0.8zM45.7 91.4h0.8v0.8h-0.8zM48.9 86.8h0.8v0.8h-0.8zM47.1 98.4h0.8v0.8h-0.8zM44.8 103.7h0.8v0.8h-0.8zM48.3 85.8h0.8v0.8h-0.8zM53.5 95.5h0.8v0.8h-0.8zM46.3 96.6h0.8v0.8h-0.8zM43.2 86.8h0.8v0.8h-0.8zM54.8 90.7h0.8v0.8h-0.8zM45.3 95.2h0.8v0.8h-0.8zM54.0 92.1h0.8v0.8h-0.8zM43.4 90.2h0.8v0.8h-0.8zM52.0 96.7h0.8v0.8h-0.8zM57.6 90.7h0.8v0.8h-0.8zM48.5 92.0h0.8v0.8h-0.8zM55.1 86.6h0.8v0.8h-0.8zM55.5 76.0h0.8v0.8h-0.8zM53.5 88.2h0.8v0.8h-0.8zM52.2 96.3h0.8v0.8h-0.8zM45.8 91.7h0.8v0.8h-0.8zM51.3 95.7h0.8v0.8h-0.8zM46.8 86.3h0.8v0.8h-0.8zM42.9 107.2h0.8v0.8h-0.8zM49.6 90.9h0.8v0.8h-0.8zM44.6 97.7h0.8v0.8h-0.8zM48.3 100.7h0.8v0.8h-0.8zM53.7 92.3h0.8v0.8h-0.8zM53.2 85.6h0.8v0.8h-0.8zM49.1 88.8h0.8v0.8h-0.8zM45.4 92.3h0.8v0.8h-0.8zM49.8 100.7h0.8v0.8h-0.8zM46.8 89.5h0.8v0.8h-0.8zM52.0 94.6h0.8v0.8h-0.8zM50.5 89.4h0.8v0.8h-0.8zM52.3 94.3h0.8v0.8h-0.8zM43.2 90.7h0.8v0.8h-0.8zM45.0 85.2h0.8v0.8h-0.8zM51.0 92.6h0.8v0.8h-0.8zM50.8 87.0h0.8v0.8h-0.8zM49.6 86.8h0.8v0.8h-0.8zM51.9 96.3h0.8v0.8h-0.8zM57.2 99.7h0.8v0.8h-0.8zM47.3 89.5h0.8v0.8h-0.8zM46.7 94.0h0.8v0.8h-0.8zM58.1 96.4h0.8v0.8h-0.8zM41.8 84.8h0.8v0.8h-0.8zM45.4 95.2h0.8v0.8h-0.8zM50.4 94.0h0.8v0.8h-0.8zM57.3 87.3h0.8v0.8h-0.8zM47.1 103.8h0.8v0.8h-0.8zM51.7 87.6h0.8v0.8h-0.8zM42.5 83.2h0.8v0.8h-0.8zM40.9 92.6h0.8v0.8h-0.8zM50.6 98.1h0.8v0.8h-0.8zM49.9 88.1h0.8v0.8h-0.8zM47.5 103.4h0.8v0.8h-0.8zM43.5 93.2h0.8v0.8h-0.8zM50.5 95.8h0.8v0.8h-0.8zM48.8 95.1h0.8v0.8h-0.8zM53.6 91.3h0.8v0.8h-0.8zM48.6 91.1h0.8v0.8h-0.8zM46.6 91.0h0.8v0.8h-0.8zM49.2 93.4h0.8v0.8h-0.8zM55.6 99.9h0.8v0.8h-0.8zM48.7 95.8h0.8v0.8h-0.8zM51.6 96.7h0.8v0.8h-0.8zM50.5 93.8h0.8v0.8h-0.8zM48.6 87.6h0.8v0.8h-0.8zM53.8 99.9h0.8v0.8h-0.8zM53.0 94.8h0.8v0.8h-0.8zM51.4 89.5h0.8v0.8h-0.8zM43.4 96.1h0.8v0.8h-0.8zM51.2 88.9h0.8v0.8h-0.8zM46.6 99.7h0.8v0.8h-0.8zM43.4 102.6h0.8v0.8h-0.8zM52.9 106.2h0.8v0.8h-0.8zM47.6 92.1h0.8v0.8h-0.8zM48.4 93.1h0.8v0.8h-0.8zM49.6 87.8h0.8v0.8h-0.8zM54.6 87.6h0.8v0.8h-0.8zM48.4 95.5h0.8v0.8h-0.8zM48.3 89.6h0.8v0.8h-0.8zM51.8 90.0h0.8v0.8h-0.8zM45.5 91.6h0.8v0.8h-0.8zM49.5 102.3h0.8v0.8h-0.8zM46.1 97.9h0.8v0.8h-0.8zM47.3 90.1h0.8v0.8h-0.8zM49.1 93.8h0.8v0.8h-0.8zM53.8 102.5h0.8v0.8h-0.8zM47.9 100.0h0.8v0.8h-0.8zM54.3 97.0h0.8v0.8h-0.8zM47.4 97.5h0.8v0.8h-0.8zM50.0 94.3h0.8v0.8h-0.8zM49.4 96.1h0.8v0.8h-0.8zM54.7 98.9h0.8v0.8h-0.8zM49.6 98.1h0.8v0.8h-0.8zM56.1 86.7h0.8v0.8h-0.8zM56.1 84.3h0.8v0.8h-0.8zM52.5 95.7h0.8v0.8h-0.8zM56.2 93.8h0.8v0.8h-0.8zM48.5 87.5h0.8v0.8h-0.8zM45.5 96.7h0.8v0.8h-0.8zM49.5 88.0h0.8v0.8h-0.8zM52.5 87.7h0.8v0.8h-0.8zM48.7 89.5h0.8v0.8h-0.8zM56.9 100.8h0.8v0.8h-0.8zM49.8 82.9h0.8v0.8h-0.8zM51.5 92.6h0.8v0.8h-0.8zM51.8 95.5h0.8v0.8h-0.8zM49.2 97.7h0.8v0.8h-0.8zM53.7 93.4h0.8v0.8h-0.8zM48.8 89.4h0.8v0.8h-0.8zM53.1 85.7h0.8v0.8h-0.8zM49.8 87.8h0.8v0.8h-0.8zM45.0 95.8h0.8v0.8h-0.8zM50.3 92.4h0.8v0.8h-0.8zM53.8 83.4h0.8v0.8h-0.8zM50.1 93.9h0.8v0.8h-0.8zM53.6 85.8h0.8v0.8h-0.8zM53.2 93.5h0.8v0.8h-0.8zM55.7 98.9h0.8v0.8h-0.8zM52.5 104.9h0.8v0.8h-0.8zM50.4 89.7h0.8v0.8h-0.8zM49.1 86.7h0.8v0.8h-0.8zM50.3 81.1h0.8v0.8h-0.8zM50.1 94.7h0.8v0.8h-0.8zM54.3 90.2h0.8v0.8h-0.8zM55.8 88.4h0.8v0.8h-0.8zM49.9 81.1h0.8v0.8h-0.8zM47.4 87.5h0.8v0.8h-0.8zM56.1 95.3h0.8v0.8h-0.8zM46.2 95.3h0.8v0.8h-0.8zM52.2 90.9h0.8v0.8h-0.8zM50.5 90.4h0.8v0.8h-0.8zM48.3 82.0h0.8v0.8h-0.8zM50.1 99.6h0.8v0.8h-0.8zM55.9 90.6h0.8v0.8h-0.8zM47.6 91.0h0.8v0.8h-0.8zM53.8 94.2h0.8v0.8h-0.8zM48.2 94.3h0.8v0.8h-0.8zM49.6 95.2h0.8v0.8h-0.8zM48.8 83.7h0.8v0.8h-0.8zM50.6 96.6h0.8v0.8h-0.8zM46.2 91.6h0.8v0.8h-0.8zM53.7 90.0h0.8v0.8h-0.8zM47.9 103.9h0.8v0.8h-0.8zM53.6 98.1h0.8v0.8h-0.8zM46.8 101.6h0.8v0.8h-0.8zM44.1 89.2h0.8v0.8h-0.8zM53.2 99.8h0.8v0.8h-0.8zM46.9 88.4h0.8v0.8h-0.8zM51.1 81.1h0.8v0.8h-0.8zM52.8 95.4h0.8v0.8h-0.8zM48.7 95.3h0.8v0.8h-0.8zM53.3 94.0h0.8v0.8h-0.8zM52.4 100.9h0.8v0.8h-0.8zM48.6 93.1h0.8v0.8h-0.8zM48.4 98.1h0.8v0.8h-0.8zM48.9 94.9h0.8v0.8h-0.8zM50.9 92.6h0.8v0.8h-0.8zM56.9 91.7h0.8v0.8h-0.8zM55.8 96.9h0.8v0.8h-0.8zM55.4 91.3h0.8v0.8h-0.8zM53.9 96.5h0.8v0.8h-0.8zM48.1 93.7h0.8v0.8h-0.8zM49.9 92.0h0.8v0.8h-0.8zM55.3 88.1h0.8v0.8h-0.8zM44.1 82.3h0.8v0.8h-0.8zM48.7 88.5h0.8v0.8h-0.8zM50.5 95.4h0.8v0.8h-0.8zM57.0 94.0h0.8v0.8h-0.8zM52.1 88.0h0.8v0.8h-0.8zM52.6 99.9h0.8v0.8h-0.8zM55.4 81.1h0.8v0.8h-0.8zM53.8 101.2h0.8v0.8h-0.8zM53.5 83.7h0.8v0.8h-0.8zM49.2 95.5h0.8v0.8h-0.8zM52.0 87.6h0.8v0.8h-0.8zM47.1 97.7h0.8v0.8h-0.8zM45.4 100.3h0.8v0.8h-0.8zM50.5 93.9h0.8v0.8h-0.8zM45.4 88.8h0.8v0.8h-0.8zM53.0 83.8h0.8v0.8h-0.8zM58.2 84.2h0.8v0.8h-0.8zM45.8 92.4h0.8v0.8h-0.8zM52.2 96.4h0.8v0.8h-0.8zM49.0 91.0h0.8v0.8h-0.8zM49.5 88.9h0.8v0.8h-0.8zM40.7 97.7h0.8v0.8h-0.8zM51.3 93.1h0.8v0.8h-0.8zM48.0 93.6h0.8v0.8h-0.8zM50.4 91.8h0.8v0.8h-0.8zM54.5 82.4h0.8v0.8h-0.8zM51.3 86.2h0.8v0.8h-0.8zM49.2 100.7h0.8v0.8h-0.8zM46.3 91.6h0.8v0.8h-0.8zM48.2 97.6h0.8v0.8h-0.8zM46.7 82.7h0.8v0.8h-0.8zM52.3 90.2h0.8v0.8h-0.8zM49.2 98.3h0.8v0.8h-0.8zM47.1 90.1h0.8v0.8h-0.8zM51.0 94.5h0.8v0.8h-0.8zM48.5 98.1h0.8v0.8h-0.8zM58.8 89.9h0.8v0.8h-0.8zM57.4 80.2h0.8v0.8h-0.8zM55.7 90.3h0.8v0.8h-0.8zM50.9 90.3h0.8v0.8h-0.8zM48.0 85.0h0.8v0.8h-0.8zM48.9 99.5h0.8v0.8h-0.8zM54.7 90.2h0.8v0.8h-0.8zM48.4 88.2h0.8v0.8h-0.8zM45.9 102.4h0.8v0.8h-0.8zM52.9 92.9h0.8v0.8h-0.8zM48.6 86.4h0.8v0.8h-0.8zM55.3 96.6h0.8v0.8h-0.8zM46.8 97.8h0.8v0.8h-0.8zM46.3 95.8h0.8v0.8h-0.8zM46.8 89.9h0.8v0.8h-0.8zM52.3 94.6h0.8v0.8h-0.8zM54.2 87.5h0.8v0.8h-0.8zM56.3 99.8h0.8v0.8h-0.8zM50.4 94.8h0.8v0.8h-0.8zM47.5 91.3h0.8v0.8h-0.8zM45.5 92.7h0.8v0.8h-0.8zM51.1 99.8h0.8v0.8h-0.8zM53.9 96.8h0.8v0.8h-0.8zM49.0 90.9h0.8v0.8h-0.8zM49.1 93.5h0.8v0.8h-0.8zM43.2 96.6h0.8v0.8h-0.8zM44.5 89.3h0.8v0.8h-0.8zM50.5 89.3h0.8v0.8h-0.8zM56.6 91.6h0.8v0.8h-0.8zM56.3 98.8h0.8v0.8h-0.8zM48.5 94.5h0.8v0.8h-0.8zM55.3 90.3h0.8v0.8h-0.8zM50.7 89.0h0.8v0.8h-0.8zM50.6 90.2h0.8v0.8h-0.8zM50.7 97.9h0.8v0.8h-0.8zM55.6 93.0h0.8v0.8h-0.8zM51.2 97.0h0.8v0.8h-0.8zM49.3 86.2h0.8v0.8h-0.8zM54.6 86.9h0.8v0.8h-0.8zM53.9 86.7h0.8v0.8h-0.8zM57.3 86.3h0.8v0.8h-0.8zM53.6 100.7h0.8v0.8h-0.8zM46.8 100.6h0.8v0.8h-0.8zM47.3 82.2h0.8v0.8h-0.8zM53.1 96.2h0.8v0.8h-0.8zM49.6 77.9h0.8v0.8h-0.8zM50.2 90.5h0.8v0.8h-0.8zM49.0 90.6h0.8v0.8h-0.8zM43.7 89.0h0.8v0.8h-0.8zM57.1 101.0h0.8v0.8h-0.8zM49.0 88.2h0.8v0.8h-0.8zM51.9 98.2h0.8v0.8h-0.8zM53.1 85.6h0.8v0.8h-0.8zM51.0 93.0h0.8v0.8h-0.8zM55.8 99.0h0.8v0.8h-0.8zM52.4 99.1h0.8v0.8h-0.8zM48.9 100.9h0.8v0.8h-0.8zM48.8 94.4h0.8v0.8h-0.8zM53.8 87.0h0.8v0.8h-0.8zM47.8 82.2h0.8v0.8h-0.8zM51.0 91.9h0.8v0.8h-0.8zM49.2 95.0h0.8v0.8h-0.8zM42.5 92.1h0.8v0.8h-0.8zM50.7 90.7h0.8v0.8h-0.8zM53.4 102.1h0.8v0.8h-0.8zM48.7 86.9h0.8v0.8h-0.8zM48.1 92.7h0.8v0.8h-0.8zM52.6 87.3h0.8v0.8h-0.8zM54.1 86.4h0.8v0.8h-0.8zM53.5 94.6h0.8v0.8h-0.8zM52.1 104.4h0.8v0.8h-0.8zM49.4 91.3h0.8v0.8h-0.8zM52.2 97.1h0.8v0.8h-0.8zM45.4 93.8h0.8v0.8h-0.8zM47.6 95.8h0.8v0.8h-0.8zM55.5 92.5h0.8v0.8h-0.8zM50.0 93.2h0.8v0.8h-0.8zM39.3 96.6h0.8v0.8h-0.8zM52.5 93.1h0.8v0.8h-0.8zM48.9 88.1h0.8v0.8h-0.8zM49.7 99.1h0.8v0.8h-0.8zM50.0 99.8h0.8v0.8h-0.8zM40.8 89.6h0.8v0.8h-0.8zM51.4 92.1h0.8v0.8h-0.8zM44.2 88.4h0.8v0.8h-0.8zM55.1 84.9h0.8v0.8h-0.8zM46.7 86.0h0.8v0.8h-0.8zM48.3 95.8h0.8v0.8h-0.8zM52.6 80.7h0.8v0.8h-0.8zM55.9 88.8h0.8v0.8h-0.8zM48.2 101.6h0.8v0.8h-0.8zM50.1 85.2h0.8v0.8h-0.8zM48.0 88.1h0.8v0.8h-0.8zM46.6 90.3h0.8v0.8h-0.8zM53.7 94.2h0.8v0.8h-0.8zM45.2 108.0h0.8v0.8h-0.8zM46.7 92.9h0.8v0.8h-0.8zM50.5 96.5h0.8v0.8h-0.8zM49.2 94.8h0.8v0.8h-0.8zM58.3 92.7h0.8v0.8h-0.8zM46.3 94.1h0.8v0.8h-0.8zM47.4 90.1h0.8v0.8h-0.8zM51.1 94.1h0.8v0.8h-0.8zM49.3 97.0h0.8v0.8h-0.8zM49.7 84.8h0.8v0.8h-0.8zM53.7 90.1h0.8v0.8h-0.8zM54.9 88.5h0.8v0.8h-0.8zM52.5 94.0h0.8v0.8h-0.8zM40.3 83.7h0.8v0.8h-0.8zM46.2 100.2h0.8v0.8h-0.8zM43.3 97.4h0.8v0.8h-0.8zM54.5 95.0h0.8v0.8h-0.8zM52.9 89.4h0.8v0.8h-0.8zM50.4 93.5h0.8v0.8h-0.8zM52.0 96.2h0.8v0.8h-0.8zM49.6 88.2h0.8v0.8h-0.8zM48.3 94.5h0.8v0.8h-0.8zM44.2 85.1h0.8v0.8h-0.8zM48.9 89.1h0.8v0.8h-0.8zM49.4 77.1h0.8v0.8h-0.8zM49.1 90.8h0.8v0.8h-0.8zM53.3 81.0h0.8v0.8h-0.8zM49.3 94.9h0.8v0.8h-0.8zM52.2 99.0h0.8v0.8h-0.8zM54.4 86.3h0.8v0.8h-0.8zM52.8 90.3h0.8v0.8h-0.8zM47.4 100.9h0.8v0.8h-0.8zM48.0 87.4h0.8v0.8h-0.8zM48.9 87.4h0.8v0.8h-0.8zM54.2 94.4h0.8v0.8h-0.8zM55.7 94.5h0.8v0.8h-0.8zM48.1 98.1h0.8v0.8h-0.8zM47.9 89.6h0.8v0.8h-0.8zM49.8 92.4h0.8v0.8h-0.8zM54.9 88.8h0.8v0.8h-0.8zM51.7 92.0h0.8v0.8h-0.8zM45.7 86.0h0.8v0.8h-0.8zM49.6 94.5h0.8v0.8h-0.8zM51.6 94.9h0.8v0.8h-0.8zM50.6 89.7h0.8v0.8h-0.8zM52.0 86.5h0.8v0.8h-0.8zM45.4 90.3h0.8v0.8h-0.8zM45.0 89.3h0.8v0.8h-0.8zM47.6 89.0h0.8v0.8h-0.8zM50.2 87.7h0.8v0.8h-0.8zM48.8 82.5h0.8v0.8h-0.8zM50.9 87.2h0.8v0.8h-0.8zM51.9 76.1h0.8v0.8h-0.8zM47.4 93.6h0.8v0.8h-0.8zM41.2 90.2h0.8v0.8h-0.8zM50.8 92.8h0.8v0.8h-0.8zM44.8 93.5h0.8v0.8h-0.8zM51.0 86.7h0.8v0.8h-0.8zM53.2 91.9h0.8v0.8h-0.8zM50.5 89.6h0.8v0.8h-0.8zM52.5 92.8h0.8v0.8h-0.8zM54.7 94.8h0.8v0.8h-0.8zM48.1 90.9h0.8v0.8h-0.8zM53.9 90.1h0.8v0.8h-0.8zM51.8 95.2h0.8v0.8h-0.8zM49.7 78.9h0.8v0.8h-0.8zM50.9 93.4h0.8v0.8h-0.8zM50.9 87.9h0.8v0.8h-0.8zM55.0 91.4h0.8v0.8h-0.8zM48.0 88.1h0.8v0.8h-0.8zM51.8 86.0h0.8v0.8h-0.8zM46.6 103.6h0.8v0.8h-0.8zM55.3 98.2h0.8v0.8h-0.8zM55.5 95.6h0.8v0.8h-0.8zM44.0 99.0h0.8v0.8h-0.8zM55.1 95.0h0.8v0.8h-0.8zM43.0 99.3h0.8v0.8h-0.8zM55.6 89.4h0.8v0.8h-0.8zM50.9 96.6h0.8v0.8h-0.8zM50.1 98.5h0.8v0.8h-0.8zM50.7 96.1h0.8v0.8h-0.8zM50.7 83.7h0.8v0.8h-0.8zM46.6 110.3h0.8v0.8h-0.8zM51.5 99.7h0.8v0.8h-0.8zM54.7 102.0h0.8v0.8h-0.8zM52.5 88.8h0.8v0.8h-0.8zM50.5 81.2h0.8v0.8h-0.8zM49.7 97.4h0.8v0.8h-0.8zM42.2 93.3h0.8v0.8h-0.8zM53.5 99.8h0.8v0.8h-0.8zM46.9 88.5h0.8v0.8h-0.8zM43.3 86.4h0.8v0.8h-0.8zM52.4 104.0h0.8v0.8h-0.8zM46.1 100.1h0.8v0.8h-0.8zM52.0 89.4h0.8v0.8h-0.8zM58.7 77.8h0.8v0.8h-0.8zM50.1 93.5h0.8v0.8h-0.8zM58.5 102.5h0.8v0.8h-0.8zM59.0 93.0h0.8v0.8h-0.8zM54.1 100.0h0.8v0.8h-0.8zM52.3 94.3h0.8v0.8h-0.8zM49.7 89.9h0.8v0.8h-0.8zM45.7 103.4h0.8v0.8h-0.8zM48.7 80.3h0.8v0.8h-0.8zM51.4 92.0h0.8v0.8h-0.8zM51.1 102.6h0.8v0.8h-0.8zM50.0 90.7h0.8v0.8h-0.8zM47.6 92.1h0.8v0.8h-0.8zM48.7 93.4h0.8v0.8h-0.8zM62.2 94.5h0.8v0.8h-0.8zM47.2 103.3h0.8v0.8h-0.8zM53.7 96.9h0.8v0.8h-0.8zM53.1 96.9h0.8v0.8h-0.8zM53.0 100.3h0.8v0.8h-0.8zM54.2 99.9h0.8v0.8h-0.8zM48.5 92.2h0.8v0.8h-0.8zM47.6 97.7h0.8v0.8h-0.8zM53.6 89.5h0.8v0.8h-0.8zM52.6 107.3h0.8v0.8h-0.8zM55.1 85.8h0.8v0.8h-0.8zM50.0 95.8h0.8v0.8h-0.8zM50.3 94.4h0.8v0.8h-0.8zM54.9 94.1h0.8v0.8h-0.8zM46.2 96.3h0.8v0.8h-0.8zM50.0 92.9h0.8v0.8h-0.8zM48.2 84.3h0.8v0.8h-0.8zM45.7 90.2h0.8v0.8h-0.8zM46.3 76.6h0.8v0.8h-0.8zM54.8 85.5h0.8v0.8h-0.8zM47.6 95.3h0.8v0.8h-0.8zM41.2 99.9h0.8v0.8h-0.8zM47.5 96.0h0.8v0.8h-0.8zM48.6 94.0h0.8v0.8h-0.8zM50.8 92.2h0.8v0.8h-0.8zM43.5 83.8h0.8v0.8h-0.8zM50.2 100.3h0.8v0.8h-0.8zM48.3 95.3h0.8v0.8h-0.8zM51.0 95.0h0.8v0.8h-0.8zM54.2 83.6h0.8v0.8h-0.8zM51.4 91.2h0.8v0.8h-0.8zM49.2 87.3h0.8v0.8h-0.8zM47.4 86.3h0.8v0.8h-0.8zM46.2 106.6h0.8v0.8h-0.8zM56.9 92.3h0.8v0.8h-0.8zM53.2 86.6h0.8v0.8h-0.8zM39.8 81.7h0.8v0.8h-0.8zM50.9 100.5h0.8v0.8h-0.8zM50.2 86.4h0.8v0.8h-0.8zM49.5 86.5h0.8v0.8h-0.8zM45.1 90.9h0.8v0.8h-0.8zM48.9 87.5h0.8v0.8h-0.8zM47.0 86.9h0.8v0.8h-0.8zM51.3 100.2h0.8v0.8h-0.8zM49.6 105.1h0.8v0.8h-0.8zM44.3 93.8h0.8v0.8h-0.8zM46.0 91.3h0.8v0.8h-0.8zM50.8 95.4h0.8v0.8h-0.8zM54.7 89.0h0.8v0.8h-0.8zM45.7 91.1h0.8v0.8h-0.8zM51.5 88.2h0.8v0.8h-0.8zM53.8 101.9h0.8v0.8h-0.8zM45.0 94.3h0.8v0.8h-0.8zM54.3 81.2h0.8v0.8h-0.8zM51.2 90.9h0.8v0.8h-0.8zM45.0 99.8h0.8v0.8h-0.8zM51.2 89.4h0.8v0.8h-0.8zM52.1 95.9h0.8v0.8h-0.8zM53.3 95.5h0.8v0.8h-0.8zM52.0 85.4h0.8v0.8h-0.8zM48.8 92.9h0.8v0.8h-0.8zM39.9 104.5h0.8v0.8h-0.8zM49.0 86.1h0.8v0.8h-0.8zM43.5 93.6h0.8v0.8h-0.8zM50.5 88.8h0.8v0.8h-0.8zM48.8 87.1h0.8v0.8h-0.8zM47.6 91.6h0.8v0.8h-0.8zM48.0 96.1h0.8v0.8h-0.8zM49.9 93.0h0.8v0.8h-0.8zM51.9 99.5h0.8v0.8h-0.8zM52.7 93.5h0.8v0.8h-0.8zM49.8 87.6h0.8v0.8h-0.8zM49.1 96.1h0.8v0.8h-0.8zM51.3 90.0h0.8v0.8h-0.8zM45.3 83.4h0.8v0.8h-0.8zM51.6 98.1h0.8v0.8h-0.8zM51.8 84.3h0.8v0.8h-0.8zM49.6 93.5h0.8v0.8h-0.8zM46.9 94.2h0.8v0.8h-0.8zM49.6 87.4h0.8v0.8h-0.8zM45.7 96.9h0.8v0.8h-0.8zM51.8 87.1h0.8v0.8h-0.8zM46.5 97.3h0.8v0.8h-0.8zM52.7 90.4h0.8v0.8h-0.8zM56.5 90.5h0.8v0.8h-0.8zM46.4 98.5h0.8v0.8h-0.8zM49.7 94.2h0.8v0.8h-0.8zM50.5 86.4h0.8v0.8h-0.8zM45.9 91.1h0.8v0.8h-0.8zM55.7 86.4h0.8v0.8h-0.8zM55.6 93.5h0.8v0.8h-0.8zM46.2 93.7h0.8v0.8h-0.8zM52.6 87.0h0.8v0.8h-0.8zM42.3 94.2h0.8v0.8h-0.8zM46.2 94.7h0.8v0.8h-0.8zM43.1 91.4h0.8v0.8h-0.8zM47.3 83.7h0.8v0.8h-0.8zM49.5 93.2h0.8v0.8h-0.8zM48.3 85.4h0.8v0.8h-0.8zM51.2 82.2h0.8v0.8h-0.8zM52.4 95.0h0.8v0.8h-0.8zM56.8 97.3h0.8v0.8h-0.8zM51.7 93.7h0.8v0.8h-0.8zM50.5 84.6h0.8v0.8h-0.8zM55.9 95.2h0.8v0.8h-0.8zM49.3 85.6h0.8v0.8h-0.8zM56.0 95.3h0.8v0.8h-0.8zM45.9 96.1h0.8v0.8h-0.8zM57.6 92.1h0.8v0.8h-0.8zM51.9 89.8h0.8v0.8h-0.8zM48.0 98.4h0.8v0.8h-0.8zM62.1 92.9h0.8v0.8h-0.8zM49.9 96.7h0.8v0.8h-0.8zM49.2 96.4h0.8v0.8h-0.8zM53.5 86.4h0.8v0.8h-0.8zM46.3 91.8h0.8v0.8h-0.8zM53.6 93.8h0.8v0.8h-0.8zM55.1 84.3h0.8v0.8h-0.8zM52.3 88.6h0.8v0.8h-0.8zM50.8 94.0h0.8v0.8h-0.8zM46.7 90.9h0.8v0.8h-0.8zM46.0 93.7h0.8v0.8h-0.8zM47.2 89.4h0.8v0.8h-0.8zM51.2 88.5h0.8v0.8h-0.8zM54.7 88.6h0.8v0.8h-0.8zM53.6 93.8h0.8v0.8h-0.8zM46.5 91.0h0.8v0.8h-0.8zM47.2 90.1h0.8v0.8h-0.8zM49.4 102.6h0.8v0.8h-0.8zM48.8 101.2h0.8v0.8h-0.8zM52.1 84.7h0.8v0.8h-0.8zM41.7 96.1h0.8v0.8h-0.8zM42.9 96.3h0.8v0.8h-0.8zM54.3 94.4h0.8v0.8h-0.8zM49.6 90.8h0.8v0.8h-0.8zM51.4 90.5h0.8v0.8h-0.8zM48.4 90.1h0.8v0.8h-0.8zM54.8 88.7h0.8v0.8h-0.8zM51.8 85.6h0.8v0.8h-0.8zM47.7 84.3h0.8v0.8h-0.8zM49.7 96.1h0.8v0.8h-0.8zM51.6 89.4h0.8v0.8h-0.8zM52.7 90.2h0.8v0.8h-0.8zM51.8 93.8h0.8v0.8h-0.8zM52.4 78.1h0.8v0.8h-0.8zM45.5 96.6h0.8v0.8h-0.8zM50.0 105.0h0.8v0.8h-0.8zM49.5 89.1h0.8v0.8h-0.8zM56.0 95.4h0.8v0.8h-0.8zM57.6 95.1h0.8v0.8h-0.8zM49.6 96.3h0.8v0.8h-0.8zM47.4 89.7h0.8v0.8h-0.8zM48.3 90.9h0.8v0.8h-0.8zM53.3 89.5h0.8v0.8h-0.8zM51.6 89.4h0.8v0.8h-0.8zM53.7 76.5h0.8v0.8h-0.8zM49.6 93.2h0.8v0.8h-0.8zM46.3 98.0h0.8v0.8h-0.8zM51.2 99.5h0.8v0.8h-0.8zM54.0 95.9h0.8v0.8h-0.8zM49.8 86.0h0.8v0.8h-0.8zM49.6 89.6h0.8v0.8h-0.8zM51.3 89.5h0.8v0.8h-0.8zM61.9 83.1h0.8v0.8h-0.8zM54.8 89.5h0.8v0.8h-0.8zM49.5 97.5h0.8v0.8h-0.8zM50.4 85.3h0.8v0.8h-0.8zM52.0 91.1h0.8v0.8h-0.8zM42.6 93.3h0.8v0.8h-0.8zM46.4 88.0h0.8v0.8h-0.8zM52.2 93.9h0.8v0.8h-0.8zM49.3 104.6h0.8v0.8h-0.8zM52.0 88.7h0.8v0.8h-0.8zM51.3 91.5h0.8v0.8h-0.8zM42.1 83.2h0.8v0.8h-0.8zM45.2 104.0h0.8v0.8h-0.8zM49.7 90.6h0.8v0.8h-0.8zM48.3 97.8h0.8v0.8h-0.8zM50.5 101.9h0.8v0.8h-0.8zM53.4 101.6h0.8v0.8h-0.8zM50.0 94.3h0.8v0.8h-0.8zM48.8 91.2h0.8v0.8h-0.8zM43.9 88.9h0.8v0.8h-0.8zM46.8 88.5h0.8v0.8h-0.8zM55.0 93.7h0.8v0.8h-0.8zM55.0 97.1h0.8v0.8h-0.8zM53.9 97.9h0.8v0.8h-0.8zM48.1 96.8h0.8v0.8h-0.8zM49.2 89.2h0.8v0.8h-0.8zM54.9 104.5h0.8v0.8h-0.8zM46.7 102.1h0.8v0.8h-0.8zM53.5 87.4h0.8v0.8h-0.8zM51.4 94.3h0.8v0.8h-0.8zM51.8 90.2h0.8v0.8h-0.8zM45.6 92.4h0.8v0.8h-0.8zM53.6 96.7h0.8v0.8h-0.8zM52.9 98.5h0.8v0.8h-0.8zM46.7 92.0h0.8v0.8h-0.8zM51.7 97.9h0.8v0.8h-0.8zM51.0 95.1h0.8v0.8h-0.8zM50.9 104.1h0.8v0.8h-0.8zM42.2 92.1h0.8v0.8h-0.8zM59.7 93.5h0.8v0.8h-0.8zM43.5 93.0h0.8v0.8h-0.8zM45.0 88.3h0.8v0.8h-0.8zM51.2 101.9h0.8v0.8h-0.8zM52.1 96.0h0.8v0.8h-0.8zM54.2 93.3h0.8v0.8h-0.8zM47.2 91.6h0.8v0.8h-0.8zM51.7 90.6h0.8v0.8h-0.8zM47.9 90.2h0.8v0.8h-0.8zM44.8 86.4h0.8v0.8h-0.8zM50.1 90.2h0.8v0.8h-0.8zM50.5 100.2h0.8v0.8h-0.8zM51.5 92.0h0.8v0.8h-0.8zM46.0 86.1h0.8v0.8h-0.8zM51.8 87.2h0.8v0.8h-0.8zM52.0 86.1h0.8v0.8h-0.8zM50.9 91.8h0.8v0.8h-0.8zM54.1 90.0h0.8v0.8h-0.8zM49.0 93.6h0.8v0.8h-0.8zM50.6 101.8h0.8v0.8h-0.8zM49.4 89.2h0.8v0.8h-0.8zM49.2 94.9h0.8v0.8h-0.8zM51.3 96.1h0.8v0.8h-0.8zM45.2 106.3h0.8v0.8h-0.8zM57.3 92.0h0.8v0.8h-0.8zM45.9 93.1h0.8v0.8h-0.8zM52.0 79.5h0.8v0.8h-0.8zM50.5 83.8h0.8v0.8h-0.8zM52.1 100.0h0.8v0.8h-0.8zM54.3 83.6h0.8v0.8h-0.8zM55.6 97.3h0.8v0.8h-0.8zM49.0 95.1h0.8v0.8h-0.8zM56.1 90.3h0.8v0.8h-0.8zM50.3 89.0h0.8v0.8h-0.8zM54.7 80.0h0.8v0.8h-0.8zM55.7 86.7h0.8v0.8h-0.8zM53.9 83.0h0.8v0.8h-0.8zM46.9 88.8h0.8v0.8h-0.8zM53.5 83.0h0.8v0.8h-0.8zM52.7 88.6h0.8v0.8h-0.8zM55.1 90.4h0.8v0.8h-0.8zM52.2 91.2h0.8v0.8h-0.8zM57.1 90.2h0.8v0.8h-0.8zM50.3 103.5h0.8v0.8h-0.8zM50.7 96.1h0.8v0.8h-0.8zM47.6 93.3h0.8v0.8h-0.8zM41.9 92.8h0.8v0.8h-0.8zM48.0 83.7h0.8v0.8h-0.8zM45.1 98.7h0.8v0.8h-0.8zM52.0 83.6h0.8v0.8h-0.8zM57.2 88.3h0.8v0.8h-0.8zM49.0 93.6h0.8v0.8h-0.8zM46.1 83.0h0.8v0.8h-0.8zM47.6 98.9h0.8v0.8h-0.8zM54.0 83.2h0.8v0.8h-0.8zM54.9 92.4h0.8v0.8h-0.8zM52.3 92.5h0.8v0.8h-0.8zM52.0 86.5h0.8v0.8h-0.8zM47.0 88.2h0.8v0.8h-0.8zM49.0 95.7h0.8v0.8h-0.8zM45.8 101.3h0.8v0.8h-0.8zM48.0 88.9h0.8v0.8h-0.8zM53.0 94.7h0.8v0.8h-0.8zM49.1 86.1h0.8v0.8h-0.8zM46.6 83.1h0.8v0.8h-0.8zM54.7 98.4h0.8v0.8h-0.8zM57.4 95.0h0.8v0.8h-0.8zM51.6 96.5h0.8v0.8h-0.8zM54.0 90.7h0.8v0.8h-0.8zM51.7 104.4h0.8v0.8h-0.8zM44.0 84.2h0.8v0.8h-0.8zM46.8 96.5h0.8v0.8h-0.8zM54.9 90.3h0.8v0.8h-0.8zM52.9 91.9h0.8v0.8h-0.8zM51.5 89.1h0.8v0.8h-0.8zM50.3 92.2h0.8v0.8h-0.8zM54.6 104.9h0.8v0.8h-0.8zM43.6 95.2h0.8v0.8h-0.8zM50.4 97.7h0.8v0.8h-0.8zM54.4 96.6h0.8v0.8h-0.8zM53.4 86.8h0.8v0.8h-0.8zM44.0 101.7h0.8v0.8h-0.8zM54.9 86.8h0.8v0.8h-0.8zM55.2 96.0h0.8v0.8h-0.8zM41.2 97.3h0.8v0.8h-0.8zM46.7 98.8h0.8v0.8h-0.8zM47.8 88.0h0.8v0.8h-0.8zM44.6 91.0h0.8v0.8h-0.8zM54.2 88.4h0.8v0.8h-0.8zM43.4 104.4h0.8v0.8h-0.8zM57.3 96.1h0.8v0.8h-0.8zM48.4 85.3h0.8v0.8h-0.8zM44.2 95.4h0.8v0.8h-0.8zM55.3 86.2h0.8v0.8h-0.8zM50.4 90.6h0.8v0.8h-0.8zM49.4 95.1h0.8v0.8h-0.8zM58.3 88.6h0.8v0.8h-0.8zM53.6 98.4h0.8v0.8h-0.8zM49.3 91.4h0.8v0.8h-0.8zM45.4 98.3h0.8v0.8h-0.8zM48.4 88.5h0.8v0.8h-0.8zM50.7 87.3h0.8v0.8h-0.8zM46.5 90.5h0.8v0.8h-0.8zM56.0 91.0h0.8v0.8h-0.8zM52.4 83.9h0.8v0.8h-0.8zM43.1 102.5h0.8v0.8h-0.8zM48.9 83.4h0.8v0.8h-0.8zM50.0 95.7h0.8v0.8h-0.8zM43.9 87.2h0.8v0.8h-0.8zM51.4 87.0h0.8v0.8h-0.8zM53.4 97.7h0.8v0.8h-0.8zM52.1 89.8h0.8v0.8h-0.8zM50.2 88.6h0.8v0.8h-0.8zM49.9 94.0h0.8v0.8h-0.8zM49.3 97.7h0.8v0.8h-0.8zM60.2 89.1h0.8v0.8h-0.8zM51.7 96.9h0.8v0.8h-0.8zM52.8 90.8h0.8v0.8h-0.8zM48.6 97.9h0.8v0.8h-0.8zM52.8 95.1h0.8v0.8h-0.8zM47.4 95.8h0.8v0.8h-0.8zM53.4 91.1h0.8v0.8h-0.8zM52.8 104.6h0.8v0.8h-0.8zM43.3 95.7h0.8v0.8h-0.8zM46.0 84.4h0.8v0.8h-0.8zM49.5 95.3h0.8v0.8h-0.8zM50.6 85.6h0.8v0.8h-0.8zM45.0 89.0h0.8v0.8h-0.8zM50.5 87.5h0.8v0.8h-0.8zM44.7 102.2h0.8v0.8h-0.8zM47.2 91.3h0.8v0.8h-0.8zM48.3 88.9h0.8v0.8h-0.8zM50.6 90.5h0.8v0.8h-0.8zM52.7 85.4h0.8v0.8h-0.8zM44.8 103.3h0.8v0.8h-0.8zM50.1 96.6h0.8v0.8h-0.8zM54.9 95.4h0.8v0.8h-0.8zM50.5 83.3h0.8v0.8h-0.8zM44.4 97.8h0.8v0.8h-0.8zM53.0 95.5h0.8v0.8h-0.8zM44.1 80.0h0.8v0.8h-0.8zM46.4 85.4h0.8v0.8h-0.8zM51.0 86.4h0.8v0.8h-0.8zM56.4 88.6h0.8v0.8h-0.8zM48.3 97.1h0.8v0.8h-0.8zM51.6 87.1h0.8v0.8h-0.8zM53.5 103.2h0.8v0.8h-0.8zM45.8 90.8h0.8v0.8h-0.8zM46.3 81.1h0.8v0.8h-0.8zM52.8 96.2h0.8v0.8h-0.8zM54.1 94.7h0.8v0.8h-0.8zM42.8 92.0h0.8v0.8h-0.8zM47.9 85.5h0.8v0.8h-0.8zM46.2 96.6h0.8v0.8h-0.8zM49.3 103.5h0.8v0.8h-0.8zM52.2 81.3h0.8v0.8h-0.8zM53.8 99.4h0.8v0.8h-0.8zM50.5 85.2h0.8v0.8h-0.8zM57.1 84.7h0.8v0.8h-0.8zM50.1 81.3h0.8v0.8h-0.8zM45.6 82.4h0.8v0.8h-0.8zM54.5 99.0h0.8v0.8h-0.8zM48.9 84.4h0.8v0.8h-0.8zM50.2 94.4h0.8v0.8h-0.8zM44.6 85.5h0.8v0.8h-0.8zM50.0 96.2h0.8v0.8h-0.8zM50.7 94.8h0.8v0.8h-0.8zM45.7 77.9h0.8v0.8h-0.8zM51.6 86.9h0.8v0.8h-0.8zM49.9 90.0h0.8v0.8h-0.8zM52.2 87.8h0.8v0.8h-0.8zM55.9 92.4h0.8v0.8h-0.8zM52.4 95.8h0.8v0.8h-0.8zM54.3 94.5h0.8v0.8h-0.8zM43.7 88.6h0.8v0.8h-0.8zM57.5 94.9h0.8v0.8h-0.8zM52.5 94.9h0.8v0.8h-0.8zM48.0 88.3h0.8v0.8h-0.8zM47.9 98.9h0.8v0.8h-0.8zM51.8 102.5h0.8v0.8h-0.8zM52.3 103.1h0.8v0.8h-0.8zM52.1 85.4h0.8v0.8h-0.8zM57.0 94.1h0.8v0.8h-0.8zM54.9 93.4h0.8v0.8h-0.8zM49.2 93.2h0.8v0.8h-0.8zM46.1 85.3h0.8v0.8h-0.8zM47.0 89.2h0.8v0.8h-0.8zM45.2 91.6h0.8v0.8h-0.8zM51.6 103.9h0.8v0.8h-0.8zM57.4 91.9h0.8v0.8h-0.8zM53.8 90.9h0.8v0.8h-0.8zM51.9 92.0h0.8v0.8h-0.8zM48.3 92.6h0.8v0.8h-0.8zM44.7 94.7h0.8v0.8h-0.8zM49.3 85.9h0.8v0.8h-0.8zM49.0 95.4h0.8v0.8h-0.8zM47.8 95.0h0.8v0.8h-0.8zM52.6 101.2h0.8v0.8h-0.8zM46.2 91.6h0.8v0.8h-0.8zM52.4 100.9h0.8v0.8h-0.8zM51.4 96.6h0.8v0.8h-0.8zM44.8 88.8h0.8v0.8h-0.8zM56.8 90.5h0.8v0.8h-0.8zM58.7 88.0h0.8v0.8h-0.8zM49.3 82.9h0.8v0.8h-0.8zM52.8 93.7h0.8v0.8h-0.8zM58.2 93.2h0.8v0.8h-0.8zM49.4 84.0h0.8v0.8h-0.8zM50.1 97.7h0.8v0.8h-0.8zM53.2 99.3h0.8v0.8h-0.8zM53.7 91.9h0.8v0.8h-0.8zM52.7 93.2h0.8v0.8h-0.8zM45.3 102.2h0.8v0.8h-0.8zM51.8 86.1h0.8v0.8h-0.8zM51.9 93.9h0.8v0.8h-0.8zM54.2 100.6h0.8v0.8h-0.8zM38.7 95.4h0.8v0.8h-0.8zM56.3 86.7h0.8v0.8h-0.8zM43.2 93.8h0.8v0.8h-0.8zM51.7 94.2h0.8v0.8h-0.8zM46.1 89.5h0.8v0.8h-0.8zM51.2 96.5h0.8v0.8h-0.8zM58.9 93.9h0.8v0.8h-0.8zM48.1 78.4h0.8v0.8h-0.8zM54.5 91.4h0.8v0.8h-0.8zM50.0 86.4h0.8v0.8h-0.8zM53.2 81.7h0.8v0.8h-0.8zM50.8 92.9h0.8v0.8h-0.8zM51.6 99.8h0.8v0.8h-0.8zM50.0 92.8h0.8v0.8h-0.8zM53.7 83.1h0.8v0.8h-0.8zM49.3 92.6h0.8v0.8h-0.8zM54.1 87.5h0.8v0.8h-0.8zM53.5 94.4h0.8v0.8h-0.8zM44.6 83.5h0.8v0.8h-0.8zM44.9 93.0h0.8v0.8h-0.8zM51.2 96.4h0.8v0.8h-0.8zM53.6 89.0h0.8v0.8h-0.8zM54.5 97.0h0.8v0.8h-0.8zM52.2 95.0h0.8v0.8h-0.8zM45.4 94.3h0.8v0.8h-0.8zM46.4 85.2h0.8v0.8h-0.8zM49.0 93.0h0.8v0.8h-0.8zM50.2 90.3h0.8v0.8h-0.8zM46.5 93.3h0.8v0.8h-0.8zM47.5 83.9h0.8v0.8h-0.8zM50.8 100.7h0.8v0.8h-0.8zM48.8 86.0h0.8v0.8h-0.8zM55.8 102.2h0.8v0.8h-0.8zM49.3 91.0h0.8v0.8h-0.8zM51.2 109.5h0.8v0.8h-0.8zM50.9 98.0h0.8v0.8h-0.8zM52.1 81.5h0.8v0.8h-0.8zM46.1 85.0h0.8v0.8h-0.8zM52.1 92.8h0.8v0.8h-0.8zM57.3 90.6h0.8v0.8h-0.8zM51.6 92.6h0.8v0.8h-0.8zM50.9 105.8h0.8v0.8h-0.8zM51.5 100.8h0.8v0.8h-0.8zM55.4 88.6h0.8v0.8h-0.8zM53.1 90.0h0.8v0.8h-0.8zM50.8 93.1h0.8v0.8h-0.8zM50.5 89.4h0.8v0.8h-0.8zM56.4 90.6h0.8v0.8h-0.8zM53.1 102.1h0.8v0.8h-0.8zM52.8 98.2h0.8v0.8h-0.8zM55.8 98.6h0.8v0.8h-0.8zM57.1 83.8h0.8v0.8h-0.8zM58.0 92.4h0.8v0.8h-0.8zM43.6 88.4h0.8v0.8h-0.8zM45.0 92.1h0.8v0.8h-0.8zM44.6 86.3h0.8v0.8h-0.8zM51.6 93.1h0.8v0.8h-0.8zM47.3 90.8h0.8v0.8h-0.8zM50.0 92.6h0.8v0.8h-0.8zM50.4 90.9h0.8v0.8h-0.8zM53.8 82.7h0.8v0.8h-0.8zM48.5 93.0h0.8v0.8h-0.8zM48.8 88.9h0.8v0.8h-0.8zM48.7 93.4h0.8v0.8h-0.8zM55.2 91.1h0.8v0.8h-0.8zM49.4 94.3h0.8v0.8h-0.8zM49.5 80.8h0.8v0.8h-0.8zM51.4 90.0h0.8v0.8h-0.8zM48.2 95.9h0.8v0.8h-0.8zM50.6 88.9h0.8v0.8h-0.8zM41.9 82.1h0.8v0.8h-0.8zM50.5 91.5h0.8v0.8h-0.8zM52.1 93.5h0.8v0.8h-0.8zM48.5 84.7h0.8v0.8h-0.8zM46.1 91.4h0.8v0.8h-0.8zM45.9 96.7h0.8v0.8h-0.8zM45.2 81.6h0.8v0.8h-0.8zM49.6 81.7h0.8v0.8h-0.8zM56.7 86.3h0.8v0.8h-0.8zM50.2 90.8h0.8v0.8h-0.8zM47.2 81.8h0.8v0.8h-0.8zM43.1 97.3h0.8v0.8h-0.8zM54.4 105.0h0.8v0.8h-0.8zM44.7 95.5h0.8v0.8h-0.8zM50.3 97.2h0.8v0.8h-0.8zM48.4 96.5h0.8v0.8h-0.8zM53.9 95.8h0.8v0.8h-0.8zM56.0 91.2h0.8v0.8h-0.8zM56.4 88.1h0.8v0.8h-0.8zM56.9 76.0h0.8v0.8h-0.8zM50.5 87.5h0.8v0.8h-0.8zM50.4 98.3h0.8v0.8h-0.8zM53.2 92.8h0.8v0.8h-0.8zM57.0 83.5h0.8v0.8h-0.8zM47.2 101.1h0.8v0.8h-0.8zM51.7 80.0h0.8v0.8h-0.8zM51.7 85.2h0.8v0.8h-0.8zM56.2 98.9h0.8v0.8h-0.8zM48.3 99.8h0.8v0.8h-0.8zM47.1 97.6h0.8v0.8h-0.8zM52.7 91.5h0.8v0.8h-0.8zM44.9 90.5h0.8v0.8h-0.8zM41.5 88.9h0.8v0.8h-0.8zM43.2 99.4h0.8v0.8h-0.8zM46.6 77.9h0.8v0.8h-0.8zM52.7 94.4h0.8v0.8h-0.8zM48.4 104.7h0.8v0.8h-0.8zM53.4 92.6h0.8v0.8h-0.8zM47.9 74.8h0.8v0.8h-0.8zM52.3 97.9h0.8v0.8h-0.8zM48.1 83.9h0.8v0.8h-0.8zM50.2 82.3h0.8v0.8h-0.8zM50.4 96.7h0.8v0.8h-0.8zM56.3 93.8h0.8v0.8h-0.8zM51.2 96.6h0.8v0.8h-0.8zM55.9 90.3h0.8v0.8h-0.8zM45.6 87.5h0.8v0.8h-0.8zM45.5 87.0h0.8v0.8h-0.8zM49.9 94.2h0.8v0.8h-0.8zM51.0 92.6h0.8v0.8h-0.8zM49.0 94.7h0.8v0.8h-0.8zM53.9 96.7h0.8v0.8h-0.8zM56.2 90.5h0.8v0.8h-0.8zM49.4 102.2h0.8v0.8h-0.8zM51.2 94.6h0.8v0.8h-0.8zM49.1 97.9h0.8v0.8h-0.8zM48.8 86.3h0.8v0.8h-0.8zM50.2 89.6h0.8v0.8h-0.8zM53.7 90.0h0.8v0.8h-0.8zM50.9 90.9h0.8v0.8h-0.8zM51.7 88.5h0.8v0.8h-0.8zM54.7 83.8h0.8v0.8h-0.8zM48.9 88.0h0.8v0.8h-0.8zM52.9 92.4h0.8v0.8h-0.8zM52.3 90.3h0.8v0.8h-0.8zM47.6 85.6h0.8v0.8h-0.8zM49.1 89.0h0.8v0.8h-0.8zM51.5 94.3h0.8v0.8h-0.8zM54.2 91.6h0.8v0.8h-0.8zM47.5 85.9h0.8v0.8h-0.8zM50.6 94.3h0.8v0.8h-0.8zM58.0 93.3h0.8v0.8h-0.8zM57.3 103.3h0.8v0.8h-0.8zM46.3 99.3h0.8v0.8h-0.8zM54.8 100.1h0.8v0.8h-0.8zM50.4 97.8h0.8v0.8h-0.8zM48.5 91.8h0.8v0.8h-0.8zM50.5 102.7h0.8v0.8h-0.8zM49.6 97.8h0.8v0.8h-0.8zM50.7 88.0h0.8v0.8h-0.8zM51.3 96.1h0.8v0.8h-0.8zM47.6 95.9h0.8v0.8h-0.8zM47.6 87.0h0.8v0.8h-0.8zM51.3 90.8h0.8v0.8h-0.8zM46.6 82.6h0.8v0.8h-0.8zM50.5 93.6h0.8v0.8h-0.8zM48.6 93.3h0.8v0.8h-0.8zM44.4 94.5h0.8v0.8h-0.8zM52.0 93.8h0.8v0.8h-0.8zM48.0 92.7h0.8v0.8h-0.8zM50.9 98.5h0.8v0.8h-0.8zM51.5 93.7h0.8v0.8h-0.8zM47.6 97.3h0.8v0.8h-0.8zM55.0 89.3h0.8v0.8h-0.8zM52.9 94.0h0.8v0.8h-0.8zM50.2 84.6h0.8v0.8h-0.8zM57.3 81.2h0.8v0.8h-0.8zM51.6 90.0h0.8v0.8h-0.8zM54.9 89.7h0.8v0.8h-0.8zM50.6 95.8h0.8v0.8h-0.8zM52.2 89.1h0.8v0.8h-0.8zM53.1 94.5h0.8v0.8h-0.8zM54.3 89.2h0.8v0.8h-0.8zM50.2 89.9h0.8v0.8h-0.8zM47.1 93.7h0.8v0.8h-0.8zM52.0 100.6h0.8v0.8h-0.8zM49.1 94.5h0.8v0.8h-0.8zM54.8 91.5h0.8v0.8h-0.8zM50.6 93.0h0.8v0.8h-0.8zM47.7 86.4h0.8v0.8h-0.8zM54.7 93.2h0.8v0.8h-0.8zM50.1 84.9h0.8v0.8h-0.8zM50.9 99.1h0.8v0.8h-0.8zM45.9 87.0h0.8v0.8h-0.8zM54.7 100.6h0.8v0.8h-0.8zM56.4 89.0h0.8v0.8h-0.8zM52.7 87.8h0.8v0.8h-0.8zM52.4 90.1h0.8v0.8h-0.8zM51.2 100.1h0.8v0.8h-0.8zM51.7 90.8h0.8v0.8h-0.8zM50.6 93.8h0.8v0.8h-0.8zM48.4 93.4h0.8v0.8h-0.8zM52.7 101.4h0.8v0.8h-0.8zM42.4 85.2h0.8v0.8h-0.8zM45.6 97.3h0.8v0.8h-0.8zM59.9 93.3h0.8v0.8h-0.8zM50.9 98.9h0.8v0.8h-0.8zM40.9 91.1h0.8v0.8h-0.8zM38.3 93.1h0.8v0.8h-0.8zM48.4 89.4h0.8v0.8h-0.8zM51.7 88.8h0.8v0.8h-0.8zM54.7 92.2h0.8v0.8h-0.8zM51.9 107.1h0.8v0.8h-0.8zM48.7 97.6h0.8v0.8h-0.8zM47.2 99.5h0.8v0.8h-0.8zM54.1 93.0h0.8v0.8h-0.8zM54.2 101.6h0.8v0.8h-0.8zM55.7 92.2h0.8v0.8h-0.8zM50.2 98.7h0.8v0.8h-0.8zM44.7 88.7h0.8v0.8h-0.8zM52.3 95.5h0.8v0.8h-0.8zM57.6 102.5h0.8v0.8h-0.8zM51.7 94.8h0.8v0.8h-0.8zM45.3 91.1h0.8v0.8h-0.8zM51.4 90.9h0.8v0.8h-0.8zM50.6 95.8h0.8v0.8h-0.8zM46.7 88.9h0.8v0.8h-0.8zM43.5 98.9h0.8v0.8h-0.8zM46.3 82.3h0.8v0.8h-0.8zM53.4 91.0h0.8v0.8h-0.8zM54.1 90.0h0.8v0.8h-0.8zM58.6 96.4h0.8v0.8h-0.8zM51.0 92.9h0.8v0.8h-0.8zM49.6 96.9h0.8v0.8h-0.8zM58.1 89.7h0.8v0.8h-0.8zM46.2 95.7h0.8v0.8h-0.8zM54.5 83.5h0.8v0.8h-0.8zM47.7 86.4h0.8v0.8h-0.8zM52.6 95.1h0.8v0.8h-0.8zM47.6 85.6h0.8v0.8h-0.8zM53.0 80.2h0.8v0.8h-0.8zM52.9 91.3h0.8v0.8h-0.8zM57.8 98.0h0.8v0.8h-0.8zM48.2 90.6h0.8v0.8h-0.8zM49.3 88.0h0.8v0.8h-0.8zM50.7 97.8h0.8v0.8h-0.8zM44.6 90.9h0.8v0.8h-0.8zM56.1 96.5h0.8v0.8h-0.8zM47.3 87.5h0.8v0.8h-0.8zM47.1 82.9h0.8v0.8h-0.8zM54.8 92.6h0.8v0.8h-0.8zM47.7 83.9h0.8v0.8h-0.8zM48.9 89.2h0.8v0.8h-0.8zM57.0 89.5h0.8v0.8h-0.8zM50.8 98.4h0.8v0.8h-0.8zM53.0 91.1h0.8v0.8h-0.8zM42.0 100.3h0.8v0.8h-0.8zM52.7 89.7h0.8v0.8h-0.8zM50.1 86.7h0.8v0.8h-0.8zM47.0 83.6h0.8v0.8h-0.8zM52.3 95.2h0.8v0.8h-0.8zM51.1 96.7h0.8v0.8h-0.8zM52.5 92.9h0.8v0.8h-0.8zM47.0 95.6h0.8v0.8h-0.8zM55.0 95.9h0.8v0.8h-0.8zM55.2 89.5h0.8v0.8h-0.8zM46.6 99.5h0.8v0.8h-0.8zM48.2 93.6h0.8v0.8h-0.8zM49.7 92.3h0.8v0.8h-0.8zM49.4 89.1h0.8v0.8h-0.8zM43.6 103.2h0.8v0.8h-0.8zM51.2 81.1h0.8v0.8h-0.8zM46.9 85.7h0.8v0.8h-0.8zM47.6 77.4h0.8v0.8h-0.8zM52.6 101.7h0.8v0.8h-0.8zM49.5 96.5h0.8v0.8h-0.8zM52.7 85.0h0.8v0.8h-0.8zM55.1 82.4h0.8v0.8h-0.8zM48.2 90.1h0.8v0.8h-0.8zM55.2 92.9h0.8v0.8h-0.8zM49.9 87.5h0.8v0.8h-0.8zM50.7 92.4h0.8v0.8h-0.8zM53.2 100.3h0.8v0.8h-0.8zM53.2 92.3h0.8v0.8h-0.8zM49.8 101.5h0.8v0.8h-0.8zM51.2 92.1h0.8v0.8h-0.8zM57.3 101.3h0.8v0.8h-0.8zM52.6 91.6h0.8v0.8h-0.8zM48.0 98.4h0.8v0.8h-0.8zM48.7 97.7h0.8v0.8h-0.8zM47.4 92.8h0.8v0.8h-0.8zM51.9 93.0h0.8v0.8h-0.8zM51.3 94.4h0.8v0.8h-0.8zM46.1 85.8h0.8v0.8h-0.8zM49.8 102.6h0.8v0.8h-0.8zM49.9 86.9h0.8v0.8h-0.8zM47.9 92.4h0.8v0.8h-0.8zM54.9 88.9h0.8v0.8h-0.8zM52.5 93.3h0.8v0.8h-0.8zM49.0 86.8h0.8v0.8h-0.8zM49.8 88.0h0.8v0.8h-0.8zM52.4 82.0h0.8v0.8h-0.8zM54.7 96.6h0.8v0.8h-0.8zM52.6 100.8h0.8v0.8h-0.8zM52.7 82.4h0.8v0.8h-0.8zM50.6 94.8h0.8v0.8h-0.8zM47.8 85.7h0.8v0.8h-0.8zM52.0 95.1h0.8v0.8h-0.8zM48.8 90.8h0.8v0.8h-0.8zM48.5 88.9h0.8v0.8h-0.8zM50.2 98.4h0.8v0.8h-0.8zM44.3 90.2h0.8v0.8h-0.8zM56.5 94.0h0.8v0.8h-0.8zM51.0 97.0h0.8v0.8h-0.8zM46.6 85.2h0.8v0.8h-0.8zM44.1 83.8h0.8v0.8h-0.8zM51.3 97.1h0.8v0.8h-0.8zM48.8 88.3h0.8v0.8h-0.8zM51.9 95.7h0.8v0.8h-0.8zM51.4 81.2h0.8v0.8h-0.8zM48.3 77.6h0.8v0.8h-0.8zM51.3 87.3h0.8v0.8h-0.8zM47.9 100.8h0.8v0.8h-0.8zM55.4 95.0h0.8v0.8h-0.8zM51.4 93.2h0.8v0.8h-0.8zM48.2 91.9h0.8v0.8h-0.8zM57.7 87.2h0.8v0.8h-0.8zM47.9 93.1h0.8v0.8h-0.8zM53.8 97.0h0.8v0.8h-0.8zM46.7 91.5h0.8v0.8h-0.8zM49.4 85.1h0.8v0.8h-0.8zM50.7 89.4h0.8v0.8h-0.8zM53.9 94.7h0.8v0.8h-0.8zM47.4 92.7h0.8v0.8h-0.8zM49.0 88.6h0.8v0.8h-0.8zM48.6 98.3h0.8v0.8h-0.8zM48.8 82.4h0.8v0.8h-0.8zM47.5 96.8h0.8v0.8h-0.8zM58.6 86.2h0.8v0.8h-0.8zM49.1 90.3h0.8v0.8h-0.8zM45.1 94.5h0.8v0.8h-0.8zM50.2 93.8h0.8v0.8h-0.8zM58.9 90.7h0.8v0.8h-0.8zM53.4 97.0h0.8v0.8h-0.8zM48.0 88.8h0.8v0.8h-0.8zM56.3 96.3h0.8v0.8h-0.8zM50.9 85.9h0.8v0.8h-0.8zM53.8 95.2h0.8v0.8h-0.8zM58.7 100.7h0.8v0.8h-0.8zM53.4 93.7h0.8v0.8h-0.8zM50.6 89.0h0.8v0.8h-0.8zM51.6 93.6h0.8v0.8h-0.8zM52.9 98.4h0.8v0.8h-0.8zM51.6 89.1h0.8v0.8h-0.8zM53.5 101.1h0.8v0.8h-0.8zM47.2 94.6h0.8v0.8h-0.8zM52.5 95.3h0.8v0.8h-0.8zM52.3 91.7h0.8v0.8h-0.8zM50.0 101.9h0.8v0.8h-0.8zM57.0 84.2h0.8v0.8h-0.8zM40.8 94.7h0.8v0.8h-0.8zM47.8 89.2h0.8v0.8h-0.8zM44.4 94.2h0.8v0.8h-0.8zM50.2 89.1h0.8v0.8h-0.8zM53.8 106.1h0.8v0.8h-0.8zM56.0 98.9h0.8v0.8h-0.8zM48.8 96.0h0.8v0.8h-0.8zM50.3 98.8h0.8v0.8h-0.8zM52.6 92.0h0.8v0.8h-0.8zM52.5 88.1h0.8v0.8h-0.8zM53.4 100.8h0.8v0.8h-0.8zM49.0 95.4h0.8v0.8h-0.8zM44.1 97.6h0.8v0.8h-0.8zM53.7 86.3h0.8v0.8h-0.8zM57.0 92.9h0.8v0.8h-0.8zM43.8 84.4h0.8v0.8h-0.8zM53.7 90.6h0.8v0.8h-0.8zM54.6 83.3h0.8v0.8h-0.8zM50.0 97.8h0.8v0.8h-0.8zM47.8 96.1h0.8v0.8h-0.8zM49.0 94.2h0.8v0.8h-0.8zM51.6 105.0h0.8v0.8h-0.8zM45.7 96.7h0.8v0.8h-0.8zM55.4 85.8h0.8v0.8h-0.8zM50.7 105.4h0.8v0.8h-0.8zM54.4 75.2h0.8v0.8h-0.8zM49.5 82.4h0.8v0.8h-0.8zM51.5 88.0h0.8v0.8h-0.8zM48.3 87.4h0.8v0.8h-0.8zM51.5 89.5h0.8v0.8h-0.8zM47.0 90.9h0.8v0.8h-0.8zM51.9 87.3h0.8v0.8h-0.8zM54.6 82.7h0.8v0.8h-0.8zM51.9 90.0h0.8v0.8h-0.8zM56.4 88.5h0.8v0.8h-0.8zM47.9 84.5h0.8v0.8h-0.8zM57.9 95.7h0.8v0.8h-0.8zM46.3 90.3h0.8v0.8h-0.8zM46.8 100.9h0.8v0.8h-0.8zM52.0 80.5h0.8v0.8h-0.8zM51.2 97.4h0.8v0.8h-0.8zM50.4 94.9h0.8v0.8h-0.8zM50.0 93.4h0.8v0.8h-0.8zM51.2 88.1h0.8v0.8h-0.8zM51.7 93.1h0.8v0.8h-0.8zM50.3 88.3h0.8v0.8h-0.8zM46.6 93.6h0.8v0.8h-0.8zM53.5 78.3h0.8v0.8h-0.8zM48.4 100.0h0.8v0.8h-0.8zM53.9 88.1h0.8v0.8h-0.8zM55.5 86.5h0.8v0.8h-0.8zM47.4 103.3h0.8v0.8h-0.8zM48.7 91.0h0.8v0.8h-0.8zM44.1 86.4h0.8v0.8h-0.8zM45.9 91.4h0.8v0.8h-0.8zM43.4 98.3h0.8v0.8h-0.8zM49.1 88.7h0.8v0.8h-0.8zM48.0 96.5h0.8v0.8h-0.8zM56.2 89.9h0.8v0.8h-0.8zM56.5 101.4h0.8v0.8h-0.8zM55.5 93.9h0.8v0.8h-0.8zM44.8 96.1h0.8v0.8h-0.8zM48.8 93.3h0.8v0.8h-0.8zM43.3 90.6h0.8v0.8h-0.8zM51.3 86.8h0.8v0.8h-0.8zM51.5 101.8h0.8v0.8h-0.8zM51.3 88.3h0.8v0.8h-0.8zM59.4 79.8h0.8v0.8h-0.8zM46.9 94.5h0.8v0.8h-0.8zM48.2 79.0h0.8v0.8h-0.8zM51.4 97.0h0.8v0.8h-0.8zM47.4 100.6h0.8v0.8h-0.8zM52.3 99.0h0.8v0.8h-0.8zM44.6 92.2h0.8v0.8h-0.8zM56.5 103.8h0.8v0.8h-0.8zM55.4 92.2h0.8v0.8h-0.8zM51.1 88.6h0.8v0.8h-0.8zM54.6 88.2h0.8v0.8h-0.8zM50.9 80.3h0.8v0.8h-0.8zM44.7 102.4h0.8v0.8h-0.8zM50.6 93.4h0.8v0.8h-0.8zM42.1 92.0h0.8v0.8h-0.8zM58.3 83.6h0.8v0.8h-0.8zM41.4 91.3h0.8v0.8h-0.8zM48.4 91.0h0.8v0.8h-0.8zM45.6 84.4h0.8v0.8h-0.8zM45.7 95.9h0.8v0.8h-0.8zM50.2 96.9h0.8v0.8h-0.8zM46.3 95.6h0.8v0.8h-0.8zM48.7 92.7h0.8v0.8h-0.8zM54.0 92.4h0.8v0.8h-0.8zM49.1 82.6h0.8v0.8h-0.8zM50.6 96.7h0.8v0.8h-0.8zM48.0 91.8h0.8v0.8h-0.8zM43.7 84.5h0.8v0.8h-0.8zM51.9 99.7h0.8v0.8h-0.8zM49.2 82.6h0.8v0.8h-0.8zM49.0 83.2h0.8v0.8h-0.8zM49.3 103.4h0.8v0.8h-0.8zM51.5 91.3h0.8v0.8h-0.8zM54.4 90.0h0.8v0.8h-0.8zM51.7 93.4h0.8v0.8h-0.8zM52.1 83.7h0.8v0.8h-0.8zM53.1 97.3h0.8v0.8h-0.8zM41.7 76.5h0.8v0.8h-0.8zM47.0 100.8h0.8v0.8h-0.8zM50.5 96.1h0.8v0.8h-0.8zM52.5 97.3h0.8v0.8h-0.8zM48.0 88.8h0.8v0.8h-0.8zM51.8 95.7h0.8v0.8h-0.8zM52.6 94.2h0.8v0.8h-0.8zM48.5 98.6h0.8v0.8h-0.8zM52.2 98.4h0.8v0.8h-0.8zM40.7 98.1h0.8v0.8h-0.8zM41.0 93.4h0.8v0.8h-0.8zM47.9 92.9h0.8v0.8h-0.8zM48.6 90.4h0.8v0.8h-0.8zM51.1 94.2h0.8v0.8h-0.8zM47.3 77.5h0.8v0.8h-0.8zM47.4 95.3h0.8v0.8h-0.8zM47.2 94.7h0.8v0.8h-0.8zM49.0 86.7h0.8v0.8h-0.8zM54.9 101.8h0.8v0.8h-0.8zM50.0 91.9h0.8v0.8h-0.8zM54.1 84.5h0.8v0.8h-0.8zM47.0 98.8h0.8v0.8h-0.8zM53.9 89.3h0.8v0.8h-0.8zM47.4 94.2h0.8v0.8h-0.8zM45.0 89.3h0.8v0.8h-0.8zM49.5 77.9h0.8v0.8h-0.8zM52.7 96.7h0.8v0.8h-0.8zM54.5 83.8h0.8v0.8h-0.8zM45.4 87.4h0.8v0.8h-0.8zM45.4 104.2h0.8v0.8h-0.8zM46.6 90.4h0.8v0.8h-0.8zM51.2 94.9h0.8v0.8h-0.8zM56.0 85.8h0.8v0.8h-0.8zM53.8 93.1h0.8v0.8h-0.8zM45.9 93.1h0.8v0.8h-0.8zM45.0 101.7h0.8v0.8h-0.8zM47.6 98.1h0.8v0.8h-0.8zM55.4 88.6h0.8v0.8h-0.8zM46.9 93.0h0.8v0.8h-0.8zM46.3 97.5h0.8v0.8h-0.8zM51.1 87.7h0.8v0.8h-0.8zM47.7 96.4h0.8v0.8h-0.8zM44.8 102.1h0.8v0.8h-0.8zM47.4 91.1h0.8v0.8h-0.8zM46.8 101.7h0.8v0.8h-0.8zM53.6 99.8h0.8v0.8h-0.8zM52.9 92.7h0.8v0.8h-0.8zM57.0 96.1h0.8v0.8h-0.8zM52.1 95.6h0.8v0.8h-0.8zM53.3 93.8h0.8v0.8h-0.8zM49.8 82.8h0.8v0.8h-0.8zM58.4 84.6h0.8v0.8h-0.8zM42.0 88.0h0.8v0.8h-0.8zM57.9 99.4h0.8v0.8h-0.8zM48.1 93.8h0.8v0.8h-0.8zM50.3 80.5h0.8v0.8h-0.8zM49.1 93.9h0.8v0.8h-0.8zM55.0 85.1h0.8v0.8h-0.8zM41.6 82.9h0.8v0.8h-0.8zM51.7 92.7h0.8v0.8h-0.8zM51.0 93.1h0.8v0.8h-0.8zM49.0 84.2h0.8v0.8h-0.8zM52.2 94.5h0.8v0.8h-0.8zM52.6 99.5h0.8v0.8h-0.8zM45.6 78.4h0.8v0.8h-0.8zM43.5 104.8h0.8v0.8h-0.8zM46.8 94.6h0.8v0.8h-0.8zM50.3 96.5h0.8v0.8h-0.8zM62.9 89.2h0.8v0.8h-0.8zM49.7 88.7h0.8v0.8h-0.8zM51.4 95.3h0.8v0.8h-0.8zM46.6 100.0h0.8v0.8h-0.8zM54.9 94.8h0.8v0.8h-0.8zM50.0 90.8h0.8v0.8h-0.8zM44.0 96.1h0.8v0.8h-0.8zM46.6 89.2h0.8v0.8h-0.8zM54.3 86.8h0.8v0.8h-0.8zM48.4 97.3h0.8v0.8h-0.8zM57.6 88.1h0.8v0.8h-0.8zM54.7 88.3h0.8v0.8h-0.8zM51.9 95.1h0.8v0.8h-0.8zM46.0 98.2h0.8v0.8h-0.8zM57.4 92.5h0.8v0.8h-0.8zM51.5 85.3h0.8v0.8h-0.8zM57.4 92.6h0.8v0.8h-0.8zM45.4 96.7h0.8v0.8h-0.8zM44.7 88.2h0.8v0.8h-0.8zM42.1 100.3h0.8v0.8h-0.8zM59.0 88.5h0.8v0.8h-0.8zM47.9 88.8h0.8v0.8h-0.8zM48.2 95.5h0.8v0.8h-0.8zM56.1 86.3h0.8v0.8h-0.8zM52.1 81.6h0.8v0.8h-0.8zM56.3 91.7h0.8v0.8h-0.8zM47.7 101.2h0.8v0.8h-0.8zM50.0 100.3h0.8v0.8h-0.8zM54.6 102.0h0.8v0.8h-0.8zM47.3 92.5h0.8v0.8h-0.8zM51.8 91.1h0.8v0.8h-0.8zM56.3 88.0h0.8v0.8h-0.8zM54.3 100.2h0.8v0.8h-0.8zM42.8 86.5h0.8v0.8h-0.8zM46.9 89.0h0.8v0.8h-0.8zM51.9 91.2h0.8v0.8h-0.8zM50.7 89.5h0.8v0.8h-0.8zM50.1 95.1h0.8v0.8h-0.8zM53.3 87.6h0.8v0.8h-0.8zM50.0 87.7h0.8v0.8h-0.8zM49.7 83.7h0.8v0.8h-0.8zM54.1 96.2h0.8v0.8h-0.8zM49.9 88.2h0.8v0.8h-0.8zM48.6 88.3h0.8v0.8h-0.8zM44.4 101.8h0.8v0.8h-0.8zM63.2 84.9h0.8v0.8h-0.8zM45.8 95.6h0.8v0.8h-0.8zM52.8 82.9h0.8v0.8h-0.8zM42.9 95.4h0.8v0.8h-0.8zM42.6 100.6h0.8v0.8h-0.8zM48.5 92.7h0.8v0.8h-0.8zM50.4 88.9h0.8v0.8h-0.8zM49.8 90.4h0.8v0.8h-0.8zM55.3 91.7h0.8v0.8h-0.8zM50.3 89.1h0.8v0.8h-0.8zM47.9 87.9h0.8v0.8h-0.8zM50.4 103.0h0.8v0.8h-0.8zM54.7 93.6h0.8v0.8h-0.8zM56.9 98.2h0.8v0.8h-0.8zM51.2 91.2h0.8v0.8h-0.8zM46.1 93.7h0.8v0.8h-0.8zM49.2 82.8h0.8v0.8h-0.8zM45.4 103.6h0.8v0.8h-0.8zM51.2 95.1h0.8v0.8h-0.8zM51.2 89.5h0.8v0.8h-0.8zM52.2 98.6h0.8v0.8h-0.8zM49.2 95.2h0.8v0.8h-0.8zM54.4 89.3h0.8v0.8h-0.8zM51.1 87.8h0.8v0.8h-0.8zM52.8 90.0h0.8v0.8h-0.8zM54.9 87.7h0.8v0.8h-0.8zM57.0 90.4h0.8v0.8h-0.8zM47.1 86.9h0.8v0.8h-0.8zM53.0 87.1h0.8v0.8h-0.8zM57.4 99.8h0.8v0.8h-0.8zM52.4 83.8h0.8v0.8h-0.8zM50.3 87.9h0.8v0.8h-0.8zM43.3 94.7h0.8v0.8h-0.8zM59.0 89.0h0.8v0.8h-0.8zM53.6 99.8h0.8v0.8h-0.8zM46.7 90.2h0.8v0.8h-0.8zM51.4 95.0h0.8v0.8h-0.8zM45.9 93.5h0.8v0.8h-0.8zM50.0 97.8h0.8v0.8h-0.8zM44.2 88.9h0.8v0.8h-0.8zM48.4 90.3h0.8v0.8h-0.8zM53.2 88.5h0.8v0.8h-0.8zM61.1 88.0h0.8v0.8h-0.8zM53.7 98.2h0.8v0.8h-0.8zM54.2 91.0h0.8v0.8h-0.8zM47.2 90.7h0.8v0.8h-0.8zM53.0 92.9h0.8v0.8h-0.8zM52.7 95.6h0.8v0.8h-0.8zM47.0 86.7h0.8v0.8h-0.8zM56.0 89.3h0.8v0.8h-0.8zM44.2 103.2h0.8v0.8h-0.8zM47.1 86.7h0.8v0.8h-0.8zM54.2 85.5h0.8v0.8h-0.8zM47.0 98.4h0.8v0.8h-0.8zM47.2 107.0h0.8v0.8h-0.8zM50.8 108.0h0.8v0.8h-0.8zM50.9 92.5h0.8v0.8h-0.8zM47.9 90.9h0.8v0.8h-0.8zM48.4 92.1h0.8v0.8h-0.8zM53.4 84.7h0.8v0.8h-0.8zM46.8 79.8h0.8v0.8h-0.8zM56.3 91.8h0.8v0.8h-0.8zM50.3 91.9h0.8v0.8h-0.8zM54.3 94.1h0.8v0.8h-0.8zM53.7 91.2h0.8v0.8h-0.8zM49.9 91.9h0.8v0.8h-0.8zM43.1 98.6h0.8v0.8h-0.8zM44.2 86.3h0.8v0.8h-0.8zM53.0 92.5h0.8v0.8h-0.8zM53.6 102.3h0.8v0.8h-0.8zM57.7 100.4h0.8v0.8h-0.8zM49.5 104.3h0.8v0.8h-0.8zM47.0 91.7h0.8v0.8h-0.8zM54.3 90.9h0.8v0.8h-0.8zM49.9 90.1h0.8v0.8h-0.8zM55.7 77.6h0.8v0.8h-0.8zM55.4 98.5h0.8v0.8h-0.8zM50.1 95.5h0.8v0.8h-0.8zM46.6 98.7h0.8v0.8h-0.8zM62.3 86.8h0.8v0.8h-0.8zM55.8 91.9h0.8v0.8h-0.8zM49.1 89.3h0.8v0.8h-0.8zM49.7 84.8h0.8v0.8h-0.8zM45.1 102.0h0.8v0.8h-0.8zM50.3 95.5h0.8v0.8h-0.8zM51.6 95.0h0.8v0.8h-0.8zM44.4 86.6h0.8v0.8h-0.8zM52.9 98.1h0.8v0.8h-0.8zM45.9 88.8h0.8v0.8h-0.8zM46.2 96.1h0.8v0.8h-0.8zM51.7 92.4h0.8v0.8h-0.8zM47.9 94.2h0.8v0.8h-0.8zM50.5 87.8h0.8v0.8h-0.8zM51.7 88.3h0.8v0.8h-0.8zM54.1 95.9h0.8v0.8h-0.8zM47.7 95.7h0.8v0.8h-0.8zM50.7 88.0h0.8v0.8h-0.8zM46.8 82.4h0.8v0.8h-0.8zM46.0 94.2h0.8v0.8h-0.8zM55.1 88.5h0.8v0.8h-0.8zM51.0 94.2h0.8v0.8h-0.8zM53.4 94.8h0.8v0.8h-0.8zM55.2 96.7h0.8v0.8h-0.8zM47.4 94.5h0.8v0.8h-0.8zM41.3 91.1h0.8v0.8h-0.8zM50.5 95.6h0.8v0.8h-0.8zM49.2 97.1h0.8v0.8h-0.8zM55.6 87.2h0.8v0.8h-0.8zM48.3 93.7h0.8v0.8h-0.8zM52.3 93.0h0.8v0.8h-0.8zM53.6 85.2h0.8v0.8h-0.8zM53.4 99.1h0.8v0.8h-0.8zM54.7 94.7h0.8v0.8h-0.8zM49.5 94.6h0.8v0.8h-0.8zM50.1 82.8h0.8v0.8h-0.8zM48.0 92.0h0.8v0.8h-0.8zM48.4 86.7h0.8v0.8h-0.8zM49.5 90.0h0.8v0.8h-0.8zM50.7 91.9h0.8v0.8h-0.8zM51.1 98.1h0.8v0.8h-0.8zM50.9 94.6h0.8v0.8h-0.8zM45.6 74.8h0.8v0.8h-0.8zM48.8 96.2h0.8v0.8h-0.8zM49.1 88.5h0.8v0.8h-0.8zM45.6 97.5h0.8v0.8h-0.8zM48.3 93.6h0.8v0.8h-0.8zM54.8 95.4h0.8v0.8h-0.8zM59.1 91.4h0.8v0.8h-0.8zM54.1 96.3h0.8v0.8h-0.8zM47.8 92.5h0.8v0.8h-0.8zM48.2 86.2h0.8v0.8h-0.8zM51.6 87.6h0.8v0.8h-0.8zM57.0 87.8h0.8v0.8h-0.8zM48.3 92.7h0.8v0.8h-0.8zM48.4 92.5h0.8v0.8h-0.8zM48.0 83.8h0.8v0.8h-0.8zM41.0 84.6h0.8v0.8h-0.8zM56.3 94.8h0.8v0.8h-0.8zM51.0 89.5h0.8v0.8h-0.8zM49.8 94.0h0.8v0.8h-0.8zM45.0 87.5h0.8v0.8h-0.8zM46.9 99.6h0.8v0.8h-0.8zM46.3 99.1h0.8v0.8h-0.8zM48.6 108.3h0.8v0.8h-0.8zM50.1 92.4h0.8v0.8h-0.8zM55.7 97.4h0.8v0.8h-0.8zM54.1 85.9h0.8v0.8h-0.8zM54.8 102.1h0.8v0.8h-0.8zM50.0 89.3h0.8v0.8h-0.8zM46.1 98.2h0.8v0.8h-0.8zM51.5 92.2h0.8v0.8h-0.8zM45.6 101.8h0.8v0.8h-0.8zM53.8 92.1h0.8v0.8h-0.8zM56.2 86.6h0.8v0.8h-0.8zM53.8 86.3h0.8v0.8h-0.8zM55.9 90.6h0.8v0.8h-0.8zM55.2 89.7h0.8v0.8h-0.8zM52.0 98.9h0.8v0.8h-0.8zM46.9 92.8h0.8v0.8h-0.8zM47.1 97.2h0.8v0.8h-0.8zM48.0 90.0h0.8v0.8h-0.8zM49.6 99.1h0.8v0.8h-0.8zM46.3 92.0h0.8v0.8h-0.8zM49.1 89.0h0.8v0.8h-0.8zM47.3 91.3h0.8v0.8h-0.8zM51.2 83.1h0.8v0.8h-0.8zM51.3 85.2h0.8v0.8h-0.8zM50.5 105.6h0.8v0.8h-0.8zM46.6 91.8h0.8v0.8h-0.8zM49.4 98.0h0.8v0.8h-0.8zM48.6 81.7h0.8v0.8h-0.8zM44.1 93.2h0.8v0.8h-0.8zM51.4 98.5h0.8v0.8h-0.8zM48.3 96.1h0.8v0.8h-0.8zM46.2 99.8h0.8v0.8h-0.8zM50.1 88.2h0.8v0.8h-0.8zM51.1 102.5h0.8v0.8h-0.8zM47.1 84.9h0.8v0.8h-0.8zM46.4 85.4h0.8v0.8h-0.8zM50.2 94.3h0.8v0.8h-0.8zM49.8 93.4h0.8v0.8h-0.8zM55.0 90.5h0.8v0.8h-0.8zM45.5 78.7h0.8v0.8h-0.8zM51.3 88.2h0.8v0.8h-0.8zM49.4 94.6h0.8v0.8h-0.8zM52.2 82.9h0.8v0.8h-0.8zM46.7 92.6h0.8v0.8h-0.8zM49.8 99.0h0.8v0.8h-0.8zM48.4 80.0h0.8v0.8h-0.8zM55.0 82.5h0.8v0.8h-0.8zM46.6 94.5h0.8v0.8h-0.8zM46.3 106.9h0.8v0.8h-0.8zM51.3 95.4h0.8v0.8h-0.8zM48.7 105.3h0.8v0.8h-0.8zM52.5 88.0h0.8v0.8h-0.8zM55.3 82.2h0.8v0.8h-0.8zM48.1 93.9h0.8v0.8h-0.8zM50.9 86.5h0.8v0.8h-0.8zM56.6 100.9h0.8v0.8h-0.8zM46.8 94.4h0.8v0.8h-0.8zM47.9 89.6h0.8v0.8h-0.8zM54.2 92.9h0.8v0.8h-0.8zM50.0 92.8h0.8v0.8h-0.8zM45.8 99.4h0.8v0.8h-0.8zM47.5 99.9h0.8v0.8h-0.8zM48.6 89.5h0.8v0.8h-0.8zM56.2 93.3h0.8v0.8h-0.8zM47.9 89.0h0.8v0.8h-0.8zM52.8 103.2h0.8v0.8h-0.8zM52.8 89.9h0.8v0.8h-0.8zM46.0 88.2h0.8v0.8h-0.8zM49.9 93.6h0.8v0.8h-0.8zM47.8 99.8h0.8v0.8h-0.8zM46.7 88.0h0.8v0.8h-0.8zM52.3 95.0h0.8v0.8h-0.8zM48.9 97.9h0.8v0.8h-0.8zM44.9 101.8h0.8v0.8h-0.8zM58.9 103.7h0.8v0.8h-0.8zM50.9 103.8h0.8v0.8h-0.8zM50.6 100.0h0.8v0.8h-0.8zM49.6 93.3h0.8v0.8h-0.8zM52.4 81.9h0.8v0.8h-0.8zM49.6 102.3h0.8v0.8h-0.8zM39.0 94.5h0.8v0.8h-0.8zM54.0 94.1h0.8v0.8h-0.8zM51.2 100.4h0.8v0.8h-0.8zM51.7 81.0h0.8v0.8h-0.8zM46.7 90.5h0.8v0.8h-0.8zM51.0 89.6h0.8v0.8h-0.8zM50.0 102.0h0.8v0.8h-0.8zM39.0 99.0h0.8v0.8h-0.8zM54.1 95.8h0.8v0.8h-0.8zM50.5 92.6h0.8v0.8h-0.8zM51.8 93.6h0.8v0.8h-0.8zM47.6 96.8h0.8v0.8h-0.8zM47.2 92.0h0.8v0.8h-0.8zM49.0 85.4h0.8v0.8h-0.8zM52.8 91.8h0.8v0.8h-0.8zM45.9 91.7h0.8v0.8h-0.8zM45.0 100.7h0.8v0.8h-0.8zM52.4 103.9h0.8v0.8h-0.8zM48.2 96.4h0.8v0.8h-0.8zM46.6 87.2h0.8v0.8h-0.8zM50.1 94.6h0.8v0.8h-0.8zM54.0 90.6h0.8v0.8h-0.8zM54.7 97.9h0.8v0.8h-0.8zM47.0 91.2h0.8v0.8h-0.8zM46.8 102.2h0.8v0.8h-0.8zM48.3 97.4h0.8v0.8h-0.8zM54.0 90.7h0.8v0.8h-0.8zM48.5 94.2h0.8v0.8h-0.8zM47.4 84.8h0.8v0.8h-0.8zM46.6 94.2h0.8v0.8h-0.8zM51.1 102.6h0.8v0.8h-0.8zM43.3 95.2h0.8v0.8h-0.8zM45.9 99.0h0.8v0.8h-0.8zM53.1 92.9h0.8v0.8h-0.8zM56.1 90.0h0.8v0.8h-0.8zM48.3 86.0h0.8v0.8h-0.8zM47.9 92.9h0.8v0.8h-0.8zM53.0 99.7h0.8v0.8h-0.8zM49.4 87.9h0.8v0.8h-0.8zM49.1 89.7h0.8v0.8h-0.8zM48.6 89.8h0.8v0.8h-0.8zM47.0 91.9h0.8v0.8h-0.8zM48.4 91.2h0.8v0.8h-0.8zM45.0 93.1h0.8v0.8h-0.8zM52.6 96.0h0.8v0.8h-0.8zM48.3 85.5h0.8v0.8h-0.8zM45.4 85.3h0.8v0.8h-0.8zM47.9 90.4h0.8v0.8h-0.8zM43.5 96.1h0.8v0.8h-0.8zM44.4 88.2h0.8v0.8h-0.8zM47.6 97.1h0.8v0.8h-0.8zM57.5 90.1h0.8v0.8h-0.8zM49.3 89.9h0.8v0.8h-0.8zM49.6 91.2h0.8v0.8h-0.8zM59.9 85.8h0.8v0.8h-0.8zM50.0 87.6h0.8v0.8h-0.8zM51.8 89.2h0.8v0.8h-0.8zM52.6 85.9h0.8v0.8h-0.8zM58.6 93.4h0.8v0.8h-0.8zM43.6 96.3h0.8v0.8h-0.8zM48.6 85.5h0.8v0.8h-0.8zM52.1 89.2h0.8v0.8h-0.8zM53.3 89.0h0.8v0.8h-0.8zM53.9 93.1h0.8v0.8h-0.8zM51.8 93.1h0.8v0.8h-0.8zM49.0 90.1h0.8v0.8h-0.8zM52.1 96.3h0.8v0.8h-0.8zM48.8 105.2h0.8v0.8h-0.8zM56.9 85.5h0.8v0.8h-0.8zM54.6 91.8h0.8v0.8h-0.8zM51.3 87.6h0.8v0.8h-0.8zM56.8 87.4h0.8v0.8h-0.8zM50.1 88.0h0.8v0.8h-0.8zM57.9 99.5h0.8v0.8h-0.8zM45.3 89.6h0.8v0.8h-0.8zM51.8 89.7h0.8v0.8h-0.8zM49.0 85.9h0.8v0.8h-0.8zM51.4 85.9h0.8v0.8h-0.8zM53.6 106.1h0.8v0.8h-0.8zM49.1 101.8h0.8v0.8h-0.8zM51.8 88.3h0.8v0.8h-0.8zM49.1 86.6h0.8v0.8h-0.8zM50.8 96.3h0.8v0.8h-0.8zM54.0 90.6h0.8v0.8h-0.8zM45.8 91.8h0.8v0.8h-0.8zM56.8 93.8h0.8v0.8h-0.8zM50.2 80.2h0.8v0.8h-0.8zM48.7 95.4h0.8v0.8h-0.8zM46.8 100.0h0.8v0.8h-0.8zM48.2 87.2h0.8v0.8h-0.8zM48.2 91.7h0.8v0.8h-0.8zM54.2 88.9h0.8v0.8h-0.8zM43.5 91.8h0.8v0.8h-0.8zM52.4 101.1h0.8v0.8h-0.8zM46.1 100.8h0.8v0.8h-0.8zM53.0 94.8h0.8v0.8h-0.8zM47.5 87.1h0.8v0.8h-0.8zM46.7 97.6h0.8v0.8h-0.8zM51.2 98.4h0.8v0.8h-0.8zM57.4 92.3h0.8v0.8h-0.8zM50.2 103.3h0.8v0.8h-0.8zM45.4 89.6h0.8v0.8h-0.8zM49.0 90.0h0.8v0.8h-0.8zM51.0 87.4h0.8v0.8h-0.8zM54.9 84.3h0.8v0.8h-0.8zM47.3 82.4h0.8v0.8h-0.8zM45.0 95.6h0.8v0.8h-0.8zM52.8 91.1h0.8v0.8h-0.8zM53.6 95.8h0.8v0.8h-0.8zM48.2 92.0h0.8v0.8h-0.8zM51.8 103.8h0.8v0.8h-0.8zM48.7 94.4h0.8v0.8h-0.8zM52.5 99.3h0.8v0.8h-0.8zM52.0 98.4h0.8v0.8h-0.8zM46.3 90.7h0.8v0.8h-0.8zM43.0 91.9h0.8v0.8h-0.8zM59.3 93.6h0.8v0.8h-0.8zM50.7 93.8h0.8v0.8h-0.8zM51.0 84.6h0.8v0.8h-0.8zM47.7 91.2h0.8v0.8h-0.8zM51.0 87.2h0.8v0.8h-0.8zM50.0 88.0h0.8v0.8h-0.8zM45.3 88.4h0.8v0.8h-0.8zM47.3 97.1h0.8v0.8h-0.8zM55.5 95.6h0.8v0.8h-0.8zM49.6 89.0h0.8v0.8h-0.8zM44.4 89.2h0.8v0.8h-0.8zM56.4 98.9h0.8v0.8h-0.8zM51.3 90.8h0.8v0.8h-0.8zM50.4 94.7h0.8v0.8h-0.8zM50.4 94.7h0.8v0.8h-0.8zM47.4 92.5h0.8v0.8h-0.8zM49.1 98.4h0.8v0.8h-0.8zM45.6 99.7h0.8v0.8h-0.8zM50.1 89.3h0.8v0.8h-0.8zM50.5 92.9h0.8v0.8h-0.8zM49.5 94.7h0.8v0.8h-0.8zM48.2 82.5h0.8v0.8h-0.8zM53.1 92.1h0.8v0.8h-0.8zM56.8 94.5h0.8v0.8h-0.8zM42.7 99.4h0.8v0.8h-0.8zM47.8 95.4h0.8v0.8h-0.8zM58.9 98.5h0.8v0.8h-0.8zM46.2 91.7h0.8v0.8h-0.8zM44.2 96.1h0.8v0.8h-0.8zM52.6 86.3h0.8v0.8h-0.8zM52.1 97.6h0.8v0.8h-0.8zM53.5 88.4h0.8v0.8h-0.8zM47.7 85.8h0.8v0.8h-0.8zM45.4 94.1h0.8v0.8h-0.8zM50.6 99.7h0.8v0.8h-0.8zM51.5 90.4h0.8v0.8h-0.8zM44.9 101.1h0.8v0.8h-0.8zM51.0 92.1h0.8v0.8h-0.8zM46.6 86.2h0.8v0.8h-0.8zM52.8 86.7h0.8v0.8h-0.8zM52.6 95.9h0.8v0.8h-0.8zM48.9 82.9h0.8v0.8h-0.8zM52.0 100.3h0.8v0.8h-0.8zM47.2 85.0h0.8v0.8h-0.8zM54.6 93.1h0.8v0.8h-0.8zM48.0 99.3h0.8v0.8h-0.8zM49.3 94.8h0.8v0.8h-0.8zM48.9 87.9h0.8v0.8h-0.8zM51.2 87.3h0.8v0.8h-0.8zM43.6 89.2h0.8v0.8h-0.8zM55.1 98.5h0.8v0.8h-0.8zM58.7 97.9h0.8v0.8h-0.8zM56.6 93.7h0.8v0.8h-0.8zM48.7 94.9h0.8v0.8h-0.8zM46.8 96.5h0.8v0.8h-0.8zM48.7 93.7h0.8v0.8h-0.8zM47.1 91.5h0.8v0.8h-0.8zM54.2 91.0h0.8v0.8h-0.8zM47.8 93.9h0.8v0.8h-0.8zM53.8 91.2h0.8v0.8h-0.8zM45.9 83.3h0.8v0.8h-0.8zM45.3 98.4h0.8v0.8h-0.8zM50.1 95.0h0.8v0.8h-0.8zM54.5 93.9h0.8v0.8h-0.8zM52.2 89.4h0.8v0.8h-0.8zM44.2 95.9h0.8v0.8h-0.8zM50.0 95.6h0.8v0.8h-0.8zM46.3 91.5h0.8v0.8h-0.8zM58.1 87.5h0.8v0.8h-0.8zM50.8 99.7h0.8v0.8h-0.8zM49.5 93.0h0.8v0.8h-0.8zM42.3 96.7h0.8v0.8h-0.8zM48.7 99.6h0.8v0.8h-0.8zM50.1 90.1h0.8v0.8h-0.8zM52.1 90.9h0.8v0.8h-0.8zM48.4 101.1h0.8v0.8h-0.8zM54.2 92.9h0.8v0.8h-0.8zM53.5 97.0h0.8v0.8h-0.8zM52.6 92.5h0.8v0.8h-0.8zM50.7 94.6h0.8v0.8h-0.8zM52.6 94.3h0.8v0.8h-0.8zM48.3 91.8h0.8v0.8h-0.8zM52.2 86.7h0.8v0.8h-0.8zM50.4 96.6h0.8v0.8h-0.8zM51.0 90.7h0.8v0.8h-0.8zM50.3 89.5h0.8v0.8h-0.8zM54.2 90.1h0.8v0.8h-0.8zM44.0 85.4h0.8v0.8h-0.8zM51.5 93.5h0.8v0.8h-0.8zM48.6 84.8h0.8v0.8h-0.8zM49.8 87.5h0.8v0.8h-0.8zM47.9 92.3h0.8v0.8h-0.8zM47.5 94.0h0.8v0.8h-0.8zM47.6 89.6h0.8v0.8h-0.8zM49.5 100.6h0.8v0.8h-0.8zM56.4 97.6h0.8v0.8h-0.8zM47.6 92.3h0.8v0.8h-0.8zM53.9 96.9h0.8v0.8h-0.8zM44.2 92.0h0.8v0.8h-0.8zM47.6 96.5h0.8v0.8h-0.8zM52.8 89.3h0.8v0.8h-0.8zM58.6 90.7h0.8v0.8h-0.8zM59.7 91.3h0.8v0.8h-0.8zM50.1 103.0h0.8v0.8h-0.8zM48.4 89.6h0.8v0.8h-0.8zM56.0 92.1h0.8v0.8h-0.8zM52.2 85.2h0.8v0.8h-0.8zM57.2 97.8h0.8v0.8h-0.8zM51.8 96.3h0.8v0.8h-0.8zM48.5 89.6h0.8v0.8h-0.8zM44.4 94.4h0.8v0.8h-0.8zM55.1 97.1h0.8v0.8h-0.8zM53.9 96.3h0.8v0.8h-0.8zM46.9 84.9h0.8v0.8h-0.8zM52.8 93.2h0.8v0.8h-0.8zM54.2 90.7h0.8v0.8h-0.8zM47.0 94.8h0.8v0.8h-0.8zM48.3 83.1h0.8v0.8h-0.8zM48.1 87.4h0.8v0.8h-0.8zM46.1 89.2h0.8v0.8h-0.8zM54.0 105.5h0.8v0.8h-0.8zM57.0 90.0h0.8v0.8h-0.8zM54.8 91.9h0.8v0.8h-0.8zM51.9 88.5h0.8v0.8h-0.8zM50.1 82.9h0.8v0.8h-0.8zM57.2 88.0h0.8v0.8h-0.8zM52.6 89.0h0.8v0.8h-0.8zM51.4 85.7h0.8v0.8h-0.8zM49.0 97.4h0.8v0.8h-0.8zM52.7 81.4h0.8v0.8h-0.8zM53.7 84.9h0.8v0.8h-0.8zM51.5 95.2h0.8v0.8h-0.8zM47.9 90.5h0.8v0.8h-0.8zM49.5 94.5h0.8v0.8h-0.8zM53.9 99.9h0.8v0.8h-0.8zM51.6 103.5h0.8v0.8h-0.8zM46.8 102.3h0.8v0.8h-0.8zM49.4 96.6h0.8v0.8h-0.8zM49.9 92.8h0.8v0.8h-0.8zM46.9 94.5h0.8v0.8h-0.8zM58.1 93.1h0.8v0.8h-0.8zM50.3 92.3h0.8v0.8h-0.8zM53.1 91.2h0.8v0.8h-0.8zM50.4 93.5h0.8v0.8h-0.8zM55.4 97.6h0.8v0.8h-0.8zM46.4 88.8h0.8v0.8h-0.8zM50.5 97.0h0.8v0.8h-0.8zM54.1 91.1h0.8v0.8h-0.8zM58.5 91.4h0.8v0.8h-0.8zM55.8 100.3h0.8v0.8h-0.8zM56.5 93.4h0.8v0.8h-0.8zM52.6 83.7h0.8v0.8h-0.8zM43.6 88.9h0.8v0.8h-0.8zM53.1 98.3h0.8v0.8h-0.8zM50.0 98.1h0.8v0.8h-0.8zM52.6 100.8h0.8v0.8h-0.8zM44.3 87.7h0.8v0.8h-0.8zM46.7 86.4h0.8v0.8h-0.8zM56.7 87.1h0.8v0.8h-0.8zM47.2 90.1h0.8v0.8h-0.8zM53.8 89.7h0.8v0.8h-0.8zM53.2 95.4h0.8v0.8h-0.8zM48.0 79.1h0.8v0.8h-0.8zM46.9 85.3h0.8v0.8h-0.8zM56.6 88.3h0.8v0.8h-0.8zM46.3 94.4h0.8v0.8h-0.8zM50.6 87.1h0.8v0.8h-0.8zM54.6 97.4h0.8v0.8h-0.8zM51.5 88.0h0.8v0.8h-0.8zM47.1 80.8h0.8v0.8h-0.8zM51.9 94.5h0.8v0.8h-0.8zM46.9 92.4h0.8v0.8h-0.8zM62.9 86.0h0.8v0.8h-0.8zM43.9 95.7h0.8v0.8h-0.8zM48.8 89.5h0.8v0.8h-0.8zM52.8 91.6h0.8v0.8h-0.8zM54.2 95.2h0.8v0.8h-0.8zM54.8 93.0h0.8v0.8h-0.8zM42.2 99.9h0.8v0.8h-0.8zM43.9 98.1h0.8v0.8h-0.8zM51.4 84.5h0.8v0.8h-0.8zM50.7 97.2h0.8v0.8h-0.8zM46.5 92.5h0.8v0.8h-0.8zM47.6 86.7h0.8v0.8h-0.8zM48.0 99.4h0.8v0.8h-0.8zM53.0 92.1h0.8v0.8h-0.8zM50.1 93.0h0.8v0.8h-0.8zM51.5 93.3h0.8v0.8h-0.8zM43.8 97.4h0.8v0.8h-0.8zM47.1 77.7h0.8v0.8h-0.8zM53.1 85.5h0.8v0.8h-0.8zM49.9 91.7h0.8v0.8h-0.8zM48.1 95.3h0.8v0.8h-0.8zM49.4 90.7h0.8v0.8h-0.8zM46.7 90.7h0.8v0.8h-0.8zM46.4 92.5h0.8v0.8h-0.8zM55.5 97.9h0.8v0.8h-0.8zM52.0 84.6h0.8v0.8h-0.8zM54.3 97.5h0.8v0.8h-0.8zM58.3 79.6h0.8v0.8h-0.8zM50.5 90.4h0.8v0.8h-0.8zM54.6 86.2h0.8v0.8h-0.8zM48.9 105.3h0.8v0.8h-0.8zM54.2 81.1h0.8v0.8h-0.8zM50.5 99.9h0.8v0.8h-0.8zM48.0 95.6h0.8v0.8h-0.8zM50.8 84.1h0.8v0.8h-0.8zM48.0 98.6h0.8v0.8h-0.8zM54.9 88.9h0.8v0.8h-0.8zM54.7 88.3h0.8v0.8h-0.8zM51.3 92.1h0.8v0.8h-0.8zM45.6 94.1h0.8v0.8h-0.8zM48.9 76.8h0.8v0.8h-0.8zM47.2 87.5h0.8v0.8h-0.8zM47.2 86.8h0.8v0.8h-0.8zM47.8 78.5h0.8v0.8h-0.8zM53.8 92.7h0.8v0.8h-0.8zM51.4 90.7h0.8v0.8h-0.8zM50.6 90.8h0.8v0.8h-0.8zM46.2 83.7h0.8v0.8h-0.8zM50.7 98.0h0.8v0.8h-0.8zM51.3 101.3h0.8v0.8h-0.8zM45.2 90.8h0.8v0.8h-0.8zM48.0 99.2h0.8v0.8h-0.8zM56.9 89.3h0.8v0.8h-0.8zM53.2 90.9h0.8v0.8h-0.8zM46.6 91.6h0.8v0.8h-0.8zM46.4 101.0h0.8v0.8h-0.8zM52.7 98.9h0.8v0.8h-0.8zM51.8 78.5h0.8v0.8h-0.8zM53.5 92.7h0.8v0.8h-0.8zM41.3 92.8h0.8v0.8h-0.8zM54.3 101.9h0.8v0.8h-0.8zM46.5 96.7h0.8v0.8h-0.8zM51.7 91.3h0.8v0.8h-0.8zM49.3 95.2h0.8v0.8h-0.8zM52.6 95.9h0.8v0.8h-0.8zM48.8 84.8h0.8v0.8h-0.8zM55.5 99.5h0.8v0.8h-0.8zM48.2 92.0h0.8v0.8h-0.8zM53.5 82.3h0.8v0.8h-0.8zM52.3 105.9h0.8v0.8h-0.8zM51.4 88.2h0.8v0.8h-0.8zM58.2 92.3h0.8v0.8h-0.8zM51.2 89.8h0.8v0.8h-0.8zM51.1 82.1h0.8v0.8h-0.8zM45.5 83.9h0.8v0.8h-0.8zM53.9 91.7h0.8v0.8h-0.8zM54.8 80.7h0.8v0.8h-0.8zM48.1 100.4h0.8v0.8h-0.8zM47.4 81.7h0.8v0.8h-0.8zM47.5 90.3h0.8v0.8h-0.8zM50.3 99.6h0.8v0.8h-0.8zM55.5 101.0h0.8v0.8h-0.8zM52.6 89.4h0.8v0.8h-0.8zM48.5 83.9h0.8v0.8h-0.8zM55.3 99.3h0.8v0.8h-0.8zM50.7 87.2h0.8v0.8h-0.8zM53.0 95.0h0.8v0.8h-0.8zM51.0 85.6h0.8v0.8h-0.8zM51.3 89.0h0.8v0.8h-0.8zM53.2 95.6h0.8v0.8h-0.8zM52.1 89.8h0.8v0.8h-0.8zM56.2 96.6h0.8v0.8h-0.8zM55.3 97.0h0.8v0.8h-0.8zM52.9 94.4h0.8v0.8h-0.8zM46.3 81.9h0.8v0.8h-0.8zM46.8 95.7h0.8v0.8h-0.8zM53.9 93.2h0.8v0.8h-0.8zM50.7 102.6h0.8v0.8h-0.8zM48.9 82.1h0.8v0.8h-0.8zM44.5 90.4h0.8v0.8h-0.8zM53.1 96.4h0.8v0.8h-0.8zM49.6 96.8h0.8v0.8h-0.8zM50.2 88.1h0.8v0.8h-0.8zM49.0 96.5h0.8v0.8h-0.8zM54.1 85.9h0.8v0.8h-0.8zM46.6 92.9h0.8v0.8h-0.8zM58.5 85.6h0.8v0.8h-0.8zM45.6 94.6h0.8v0.8h-0.8zM52.3 88.7h0.8v0.8h-0.8zM50.3 94.9h0.8v0.8h-0.8zM43.7 92.1h0.8v0.8h-0.8zM52.7 97.4h0.8v0.8h-0.8zM54.9 91.8h0.8v0.8h-0.8zM44.9 99.8h0.8v0.8h-0.8zM53.4 88.6h0.8v0.8h-0.8zM54.4 98.1h0.8v0.8h-0.8zM49.9 78.9h0.8v0.8h-0.8zM48.6 87.9h0.8v0.8h-0.8zM47.2 91.7h0.8v0.8h-0.8zM46.3 94.4h0.8v0.8h-0.8zM57.6 85.5h0.8v0.8h-0.8zM54.4 89.2h0.8v0.8h-0.8zM52.5 91.5h0.8v0.8h-0.8zM55.3 88.2h0.8v0.8h-0.8zM53.2 87.8h0.8v0.8h-0.8zM51.3 92.1h0.8v0.8h-0.8zM54.6 83.3h0.8v0.8h-0.8zM45.2 100.1h0.8v0.8h-0.8zM51.9 101.8h0.8v0.8h-0.8zM46.5 93.4h0.8v0.8h-0.8zM52.7 102.2h0.8v0.8h-0.8zM50.2 89.7h0.8v0.8h-0.8zM53.1 91.6h0.8v0.8h-0.8zM47.5 96.5h0.8v0.8h-0.8zM43.1 86.5h0.8v0.8h-0.8zM55.6 89.4h0.8v0.8h-0.8zM49.2 94.3h0.8v0.8h-0.8zM54.7 95.2h0.8v0.8h-0.8zM46.7 89.0h0.8v0.8h-0.8zM54.4 91.5h0.8v0.8h-0.8zM48.0 97.1h0.8v0.8h-0.8zM54.8 104.5h0.8v0.8h-0.8zM46.3 88.2h0.8v0.8h-0.8zM47.8 94.2h0.8v0.8h-0.8zM48.6 98.5h0.8v0.8h-0.8zM40.2 97.6h0.8v0.8h-0.8zM47.9 90.6h0.8v0.8h-0.8zM52.6 93.3h0.8v0.8h-0.8zM46.5 100.7h0.8v0.8h-0.8zM52.6 89.4h0.8v0.8h-0.8zM51.2 85.9h0.8v0.8h-0.8zM45.7 90.5h0.8v0.8h-0.8zM51.8 92.8h0.8v0.8h-0.8zM47.4 84.4h0.8v0.8h-0.8zM44.0 101.2h0.8v0.8h-0.8zM51.8 87.7h0.8v0.8h-0.8zM54.9 95.3h0.8v0.8h-0.8zM48.8 88.7h0.8v0.8h-0.8zM54.7 94.1h0.8v0.8h-0.8zM56.6 94.3h0.8v0.8h-0.8zM48.2 88.8h0.8v0.8h-0.8zM47.7 93.6h0.8v0.8h-0.8zM51.4 95.6h0.8v0.8h-0.8zM52.1 86.3h0.8v0.8h-0.8zM49.6 86.9h0.8v0.8h-0.8zM52.2 84.8h0.8v0.8h-0.8zM48.2 87.3h0.8v0.8h-0.8zM48.1 90.7h0.8v0.8h-0.8zM56.1 90.8h0.8v0.8h-0.8zM45.0 90.5h0.8v0.8h-0.8zM53.2 95.3h0.8v0.8h-0.8zM51.3 103.5h0.8v0.8h-0.8zM54.6 92.7h0.8v0.8h-0.8zM55.0 84.6h0.8v0.8h-0.8zM49.8 87.3h0.8v0.8h-0.8zM51.1 101.4h0.8v0.8h-0.8zM48.5 101.2h0.8v0.8h-0.8zM46.5 100.3h0.8v0.8h-0.8zM44.0 87.4h0.8v0.8h-0.8zM54.2 91.7h0.8v0.8h-0.8zM50.9 92.1h0.8v0.8h-0.8zM51.1 91.2h0.8v0.8h-0.8zM46.7 90.6h0.8v0.8h-0.8zM50.8 87.1h0.8v0.8h-0.8zM52.2 102.2h0.8v0.8h-0.8zM44.2 89.1h0.8v0.8h-0.8zM49.3 92.3h0.8v0.8h-0.8zM50.8 88.1h0.8v0.8h-0.8zM50.3 92.2h0.8v0.8h-0.8zM50.1 100.9h0.8v0.8h-0.8zM50.9 83.8h0.8v0.8h-0.8zM44.5 95.5h0.8v0.8h-0.8zM49.1 88.7h0.8v0.8h-0.8zM45.3 90.5h0.8v0.8h-0.8zM50.1 88.3h0.8v0.8h-0.8zM49.1 97.2h0.8v0.8h-0.8zM53.4 95.3h0.8v0.8h-0.8zM49.7 84.5h0.8v0.8h-0.8zM53.3 100.7h0.8v0.8h-0.8zM55.2 98.8h0.8v0.8h-0.8zM51.5 94.3h0.8v0.8h-0.8zM50.3 99.3h0.8v0.8h-0.8zM49.4 104.4h0.8v0.8h-0.8zM53.3 90.4h0.8v0.8h-0.8zM50.4 83.1h0.8v0.8h-0.8zM47.6 90.5h0.8v0.8h-0.8zM59.7 87.6h0.8v0.8h-0.8zM53.9 92.6h0.8v0.8h-0.8zM49.3 95.7h0.8v0.8h-0.8zM42.9 97.6h0.8v0.8h-0.8zM57.7 93.9h0.8v0.8h-0.8zM50.2 93.1h0.8v0.8h-0.8zM52.9 89.4h0.8v0.8h-0.8zM50.9 95.1h0.8v0.8h-0.8zM49.1 94.4h0.8v0.8h-0.8zM51.7 96.2h0.8v0.8h-0.8zM46.7 89.2h0.8v0.8h-0.8zM48.8 99.0h0.8v0.8h-0.8zM51.3 82.8h0.8v0.8h-0.8zM45.6 103.2h0.8v0.8h-0.8zM51.7 84.9h0.8v0.8h-0.8zM47.0 93.0h0.8v0.8h-0.8zM55.8 101.4h0.8v0.8h-0.8zM49.0 90.5h0.8v0.8h-0.8zM57.7 86.6h0.8v0.8h-0.8zM56.3 94.1h0.8v0.8h-0.8zM50.8 99.5h0.8v0.8h-0.8zM52.2 87.5h0.8v0.8h-0.8zM44.6 92.3h0.8v0.8h-0.8zM52.3 99.9h0.8v0.8h-0.8zM40.5 99.8h0.8v0.8h-0.8zM52.7 100.8h0.8v0.8h-0.8zM53.4 93.4h0.8v0.8h-0.8zM52.0 94.5h0.8v0.8h-0.8zM48.0 91.6h0.8v0.8h-0.8zM50.9 89.6h0.8v0.8h-0.8zM44.9 84.0h0.8v0.8h-0.8zM52.3 95.2h0.8v0.8h-0.8zM50.8 85.6h0.8v0.8h-0.8zM53.6 90.0h0.8v0.8h-0.8zM42.5 101.1h0.8v0.8h-0.8zM44.8 105.0h0.8v0.8h-0.8zM52.4 89.7h0.8v0.8h-0.8zM41.5 88.2h0.8v0.8h-0.8zM56.0 99.9h0.8v0.8h-0.8zM51.4 82.5h0.8v0.8h-0.8zM49.0 90.6h0.8v0.8h-0.8zM52.2 91.5h0.8v0.8h-0.8zM51.7 83.0h0.8v0.8h-0.8zM48.0 100.4h0.8v0.8h-0.8zM44.9 97.4h0.8v0.8h-0.8zM59.1 95.9h0.8v0.8h-0.8zM45.1 99.3h0.8v0.8h-0.8zM43.4 94.1h0.8v0.8h-0.8zM48.9 99.2h0.8v0.8h-0.8zM54.9 93.3h0.8v0.8h-0.8zM57.2 97.8h0.8v0.8h-0.8zM48.6 86.6h0.8v0.8h-0.8zM59.7 89.9h0.8v0.8h-0.8zM52.0 91.5h0.8v0.8h-0.8zM48.6 83.1h0.8v0.8h-0.8zM49.9 91.5h0.8v0.8h-0.8zM54.1 89.3h0.8v0.8h-0.8zM44.5 86.1h0.8v0.8h-0.8zM50.3 93.6h0.8v0.8h-0.8zM53.1 90.0h0.8v0.8h-0.8zM52.4 93.0h0.8v0.8h-0.8zM56.8 91.9h0.8v0.8h-0.8zM50.9 95.4h0.8v0.8h-0.8zM55.0 87.0h0.8v0.8h-0.8zM48.6 90.6h0.8v0.8h-0.8zM42.3 99.6h0.8v0.8h-0.8zM54.5 92.3h0.8v0.8h-0.8zM63.2 99.4h0.8v0.8h-0.8zM58.1 101.1h0.8v0.8h-0.8zM53.8 84.2h0.8v0.8h-0.8zM56.2 94.6h0.8v0.8h-0.8zM45.9 92.5h0.8v0.8h-0.8zM53.3 97.8h0.8v0.8h-0.8zM51.1 89.2h0.8v0.8h-0.8zM53.3 87.9h0.8v0.8h-0.8zM50.1 96.5h0.8v0.8h-0.8zM44.9 94.3h0.8v0.8h-0.8zM43.0 86.9h0.8v0.8h-0.8zM45.7 91.7h0.8v0.8h-0.8zM53.1 91.9h0.8v0.8h-0.8zM53.9 92.7h0.8v0.8h-0.8zM49.6 95.0h0.8v0.8h-0.8zM49.5 93.0h0.8v0.8h-0.8zM54.3 89.0h0.8v0.8h-0.8zM54.8 85.9h0.8v0.8h-0.8zM49.6 82.3h0.8v0.8h-0.8zM48.4 101.2h0.8v0.8h-0.8zM51.8 99.4h0.8v0.8h-0.8zM44.8 86.4h0.8v0.8h-0.8zM52.2 96.9h0.8v0.8h-0.8zM53.6 82.7h0.8v0.8h-0.8zM52.3 91.8h0.8v0.8h-0.8zM50.9 94.9h0.8v0.8h-0.8zM49.3 82.6h0.8v0.8h-0.8zM46.3 84.0h0.8v0.8h-0.8zM45.4 91.4h0.8v0.8h-0.8zM55.4 88.1h0.8v0.8h-0.8zM47.5 85.7h0.8v0.8h-0.8zM43.8 92.6h0.8v0.8h-0.8zM48.6 90.8h0.8v0.8h-0.8zM46.8 95.0h0.8v0.8h-0.8zM45.8 95.3h0.8v0.8h-0.8zM47.9 96.7h0.8v0.8h-0.8zM47.0 94.7h0.8v0.8h-0.8zM52.1 91.7h0.8v0.8h-0.8zM56.6 93.2h0.8v0.8h-0.8zM47.0 96.1h0.8v0.8h-0.8zM47.3 89.1h0.8v0.8h-0.8zM50.4 93.2h0.8v0.8h-0.8zM56.9 82.3h0.8v0.8h-0.8zM49.4 98.6h0.8v0.8h-0.8zM49.8 94.0h0.8v0.8h-0.8zM56.2 85.2h0.8v0.8h-0.8zM50.6 96.7h0.8v0.8h-0.8zM48.2 82.2h0.8v0.8h-0.8zM46.6 93.3h0.8v0.8h-0.8zM51.1 102.7h0.8v0.8h-0.8zM55.4 83.4h0.8v0.8h-0.8zM54.3 97.4h0.8v0.8h-0.8zM56.6 91.3h0.8v0.8h-0.8zM48.3 93.0h0.8v0.8h-0.8zM56.3 95.8h0.8v0.8h-0.8zM56.8 96.7h0.8v0.8h-0.8zM48.2 86.4h0.8v0.8h-0.8zM57.4 83.6h0.8v0.8h-0.8zM49.1 90.4h0.8v0.8h-0.8zM46.9 88.9h0.8v0.8h-0.8zM50.4 105.8h0.8v0.8h-0.8zM50.2 89.2h0.8v0.8h-0.8zM50.9 97.6h0.8v0.8h-0.8zM47.3 89.9h0.8v0.8h-0.8zM43.8 96.2h0.8v0.8h-0.8zM53.0 100.8h0.8v0.8h-0.8zM45.8 104.6h0.8v0.8h-0.8zM53.7 90.6h0.8v0.8h-0.8zM48.9 90.4h0.8v0.8h-0.8zM45.8 96.6h0.8v0.8h-0.8zM48.1 88.1h0.8v0.8h-0.8zM52.4 92.8h0.8v0.8h-0.8zM48.2 90.9h0.8v0.8h-0.8zM48.5 99.9h0.8v0.8h-0.8zM54.2 88.1h0.8v0.8h-0.8zM50.2 100.0h0.8v0.8h-0.8zM49.3 102.4h0.8v0.8h-0.8zM52.1 96.0h0.8v0.8h-0.8zM42.5 97.0h0.8v0.8h-0.8zM51.7 95.5h0.8v0.8h-0.8zM52.2 95.2h0.8v0.8h-0.8zM48.5 97.3h0.8v0.8h-0.8zM50.6 86.2h0.8v0.8h-0.8zM46.5 93.1h0.8v0.8h-0.8zM51.7 79.6h0.8v0.8h-0.8zM42.6 98.2h0.8v0.8h-0.8zM50.4 108.5h0.8v0.8h-0.8zM44.6 90.8h0.8v0.8h-0.8zM48.1 95.4h0.8v0.8h-0.8zM55.8 101.4h0.8v0.8h-0.8zM46.6 99.3h0.8v0.8h-0.8zM45.8 94.0h0.8v0.8h-0.8zM51.1 95.7h0.8v0.8h-0.8zM47.4 99.8h0.8v0.8h-0.8zM50.1 92.1h0.8v0.8h-0.8zM49.4 86.1h0.8v0.8h-0.8zM53.1 94.1h0.8v0.8h-0.8zM52.1 102.9h0.8v0.8h-0.8zM47.1 90.6h0.8v0.8h-0.8zM50.4 97.1h0.8v0.8h-0.8zM49.7 97.5h0.8v0.8h-0.8zM52.1 82.1h0.8v0.8h-0.8zM47.8 80.6h0.8v0.8h-0.8zM49.3 89.8h0.8v0.8h-0.8zM52.6 93.2h0.8v0.8h-0.8zM50.2 99.4h0.8v0.8h-0.8zM52.7 85.2h0.8v0.8h-0.8zM47.8 94.1h0.8v0.8h-0.8zM56.9 91.1h0.8v0.8h-0.8zM49.8 93.7h0.8v0.8h-0.8zM53.4 91.7h0.8v0.8h-0.8zM51.5 89.8h0.8v0.8h-0.8zM48.3 87.7h0.8v0.8h-0.8zM52.9 89.0h0.8v0.8h-0.8zM52.5 94.5h0.8v0.8h-0.8zM54.1 76.8h0.8v0.8h-0.8zM46.7 85.2h0.8v0.8h-0.8zM49.8 96.8h0.8v0.8h-0.8zM60.0 101.0h0.8v0.8h-0.8zM55.6 94.4h0.8v0.8h-0.8zM48.9 95.3h0.8v0.8h-0.8zM42.1 97.5h0.8v0.8h-0.8zM50.4 95.7h0.8v0.8h-0.8zM46.5 85.9h0.8v0.8h-0.8zM48.0 92.0h0.8v0.8h-0.8zM51.7 90.2h0.8v0.8h-0.8zM51.7 96.1h0.8v0.8h-0.8zM46.0 91.6h0.8v0.8h-0.8zM44.5 89.1h0.8v0.8h-0.8zM53.8 88.1h0.8v0.8h-0.8zM57.5 95.1h0.8v0.8h-0.8zM53.8 92.8h0.8v0.8h-0.8zM53.7 98.5h0.8v0.8h-0.8zM50.8 89.2h0.8v0.8h-0.8zM48.3 103.3h0.8v0.8h-0.8zM49.7 89.6h0.8v0.8h-0.8zM47.7 82.5h0.8v0.8h-0.8zM48.5 94.1h0.8v0.8h-0.8zM48.5 87.8h0.8v0.8h-0.8zM52.0 94.8h0.8v0.8h-0.8zM48.7 94.0h0.8v0.8h-0.8zM46.7 97.1h0.8v0.8h-0.8zM46.6 90.3h0.8v0.8h-0.8zM50.9 89.8h0.8v0.8h-0.8zM46.0 104.2h0.8v0.8h-0.8zM56.2 82.2h0.8v0.8h-0.8zM50.9 84.9h0.8v0.8h-0.8zM51.6 84.7h0.8v0.8h-0.8zM52.6 95.3h0.8v0.8h-0.8zM56.9 99.1h0.8v0.8h-0.8zM48.7 97.6h0.8v0.8h-0.8zM48.7 91.6h0.8v0.8h-0.8zM48.5 82.1h0.8v0.8h-0.8zM52.7 80.5h0.8v0.8h-0.8zM49.5 95.2h0.8v0.8h-0.8zM50.8 83.2h0.8v0.8h-0.8zM47.9 96.1h0.8v0.8h-0.8zM54.6 101.4h0.8v0.8h-0.8z"/>
<path fill="#74c4f8" fill-opacity="0.55" d="M39.8 96.4h0.8v0.8h-0.8zM47.6 99.1h0.8v0.8h-0.8zM40.5 91.2h0.8v0.8h-0.8zM54.5 86.8h0.8v0.8h-0.8zM48.3 83.8h0.8v0.8h-0.8zM56.9 80.8h0.8v0.8h-0.8zM45.0 89.5h0.8v0.8h-0.8zM48.5 110.9h0.8v0.8h-0.8zM52.0 85.1h0.8v0.8h-0.8zM53.8 95.4h0.8v0.8h-0.8zM52.1 91.8h0.8v0.8h-0.8zM53.1 82.1h0.8v0.8h-0.8zM43.4 88.7h0.8v0.8h-0.8zM43.9 98.5h0.8v0.8h-0.8zM61.8 103.2h0.8v0.8h-0.8zM53.0 95.4h0.8v0.8h-0.8zM46.4 81.0h0.8v0.8h-0.8zM53.6 79.4h0.8v0.8h-0.8zM52.2 91.2h0.8v0.8h-0.8zM54.8 92.8h0.8v0.8h-0.8zM51.0 87.3h0.8v0.8h-0.8zM40.3 89.4h0.8v0.8h-0.8zM54.5 101.6h0.8v0.8h-0.8zM58.5 83.7h0.8v0.8h-0.8zM44.9 98.5h0.8v0.8h-0.8zM47.7 114.9h0.8v0.8h-0.8zM52.2 79.1h0.8v0.8h-0.8zM47.1 106.2h0.8v0.8h-0.8zM39.7 93.7h0.8v0.8h-0.8zM42.3 106.4h0.8v0.8h-0.8zM47.8 83.4h0.8v0.8h-0.8zM40.4 86.2h0.8v0.8h-0.8zM63.2 93.3h0.8v0.8h-0.8zM48.8 82.2h0.8v0.8h-0.8zM52.4 88.3h0.8v0.8h-0.8zM45.4 104.5h0.8v0.8h-0.8zM53.0 84.6h0.8v0.8h-0.8zM59.1 91.9h0.8v0.8h-0.8zM53.4 93.7h0.8v0.8h-0.8zM57.3 97.8h0.8v0.8h-0.8zM48.4 98.7h0.8v0.8h-0.8zM48.1 93.6h0.8v0.8h-0.8zM60.0 83.1h0.8v0.8h-0.8zM44.3 88.9h0.8v0.8h-0.8zM47.5 103.8h0.8v0.8h-0.8zM41.1 112.5h0.8v0.8h-0.8zM59.7 88.5h0.8v0.8h-0.8zM51.5 89.2h0.8v0.8h-0.8zM54.3 98.2h0.8v0.8h-0.8zM54.8 99.1h0.8v0.8h-0.8zM61.7 90.9h0.8v0.8h-0.8zM54.5 90.8h0.8v0.8h-0.8zM50.6 94.3h0.8v0.8h-0.8zM50.1 95.4h0.8v0.8h-0.8zM45.4 91.1h0.8v0.8h-0.8zM46.9 82.2h0.8v0.8h-0.8zM46.3 88.0h0.8v0.8h-0.8zM49.5 78.7h0.8v0.8h-0.8zM48.9 82.5h0.8v0.8h-0.8zM45.6 94.1h0.8v0.8h-0.8zM56.9 94.9h0.8v0.8h-0.8zM47.5 88.5h0.8v0.8h-0.8zM58.3 78.1h0.8v0.8h-0.8zM57.1 79.2h0.8v0.8h-0.8zM46.7 92.8h0.8v0.8h-0.8zM49.1 107.0h0.8v0.8h-0.8zM53.3 92.0h0.8v0.8h-0.8zM56.0 92.7h0.8v0.8h-0.8zM45.7 102.3h0.8v0.8h-0.8zM59.2 103.6h0.8v0.8h-0.8zM43.5 109.1h0.8v0.8h-0.8zM48.0 99.1h0.8v0.8h-0.8zM57.4 113.3h0.8v0.8h-0.8zM40.9 83.4h0.8v0.8h-0.8zM57.3 96.7h0.8v0.8h-0.8zM48.6 66.7h0.8v0.8h-0.8zM53.0 90.8h0.8v0.8h-0.8zM50.4 94.4h0.8v0.8h-0.8zM54.8 90.1h0.8v0.8h-0.8zM45.1 89.2h0.8v0.8h-0.8zM38.0 82.6h0.8v0.8h-0.8zM62.0 86.4h0.8v0.8h-0.8zM49.9 109.1h0.8v0.8h-0.8zM56.6 93.5h0.8v0.8h-0.8zM54.7 90.0h0.8v0.8h-0.8zM45.1 101.2h0.8v0.8h-0.8zM51.2 106.5h0.8v0.8h-0.8zM48.9 89.1h0.8v0.8h-0.8zM52.4 90.7h0.8v0.8h-0.8zM48.6 84.5h0.8v0.8h-0.8zM51.9 95.2h0.8v0.8h-0.8zM61.2 92.2h0.8v0.8h-0.8zM40.1 96.5h0.8v0.8h-0.8zM63.9 88.5h0.8v0.8h-0.8zM45.7 90.9h0.8v0.8h-0.8zM49.3 79.1h0.8v0.8h-0.8zM53.8 84.7h0.8v0.8h-0.8zM39.5 86.1h0.8v0.8h-0.8zM54.1 109.3h0.8v0.8h-0.8zM57.8 94.1h0.8v0.8h-0.8zM47.4 90.1h0.8v0.8h-0.8zM56.1 87.8h0.8v0.8h-0.8zM52.9 100.9h0.8v0.8h-0.8zM45.1 87.2h0.8v0.8h-0.8zM53.0 92.5h0.8v0.8h-0.8zM49.7 87.7h0.8v0.8h-0.8zM50.0 108.7h0.8v0.8h-0.8zM58.4 78.2h0.8v0.8h-0.8zM50.7 93.2h0.8v0.8h-0.8zM50.6 80.2h0.8v0.8h-0.8zM49.6 93.7h0.8v0.8h-0.8zM46.4 95.2h0.8v0.8h-0.8zM51.0 95.8h0.8v0.8h-0.8zM49.4 88.4h0.8v0.8h-0.8zM51.5 101.9h0.8v0.8h-0.8zM55.7 91.7h0.8v0.8h-0.8zM47.7 101.8h0.8v0.8h-0.8zM53.6 100.2h0.8v0.8h-0.8zM48.8 84.8h0.8v0.8h-0.8zM51.5 86.9h0.8v0.8h-0.8zM57.2 99.9h0.8v0.8h-0.8zM58.2 101.5h0.8v0.8h-0.8zM47.6 84.8h0.8v0.8h-0.8zM56.1 101.3h0.8v0.8h-0.8zM50.8 82.2h0.8v0.8h-0.8zM41.4 94.8h0.8v0.8h-0.8zM45.5 86.4h0.8v0.8h-0.8zM53.0 101.6h0.8v0.8h-0.8zM38.2 86.5h0.8v0.8h-0.8zM58.1 92.0h0.8v0.8h-0.8zM48.4 98.0h0.8v0.8h-0.8zM43.7 81.6h0.8v0.8h-0.8zM50.5 106.2h0.8v0.8h-0.8zM56.4 92.4h0.8v0.8h-0.8zM56.4 88.8h0.8v0.8h-0.8zM43.5 77.6h0.8v0.8h-0.8zM52.0 100.3h0.8v0.8h-0.8zM52.6 92.1h0.8v0.8h-0.8zM48.0 102.0h0.8v0.8h-0.8zM50.1 79.7h0.8v0.8h-0.8zM58.5 86.7h0.8v0.8h-0.8zM52.7 92.4h0.8v0.8h-0.8zM56.6 94.6h0.8v0.8h-0.8zM57.6 94.3h0.8v0.8h-0.8zM47.7 87.9h0.8v0.8h-0.8zM54.2 85.1h0.8v0.8h-0.8zM55.9 90.3h0.8v0.8h-0.8zM44.9 84.7h0.8v0.8h-0.8zM49.5 108.0h0.8v0.8h-0.8zM54.9 92.6h0.8v0.8h-0.8zM45.1 109.2h0.8v0.8h-0.8zM48.8 92.4h0.8v0.8h-0.8zM47.9 104.2h0.8v0.8h-0.8zM51.4 88.4h0.8v0.8h-0.8zM51.5 83.6h0.8v0.8h-0.8zM44.2 91.0h0.8v0.8h-0.8zM62.1 82.6h0.8v0.8h-0.8zM49.6 78.5h0.8v0.8h-0.8zM51.4 94.3h0.8v0.8h-0.8zM54.8 80.6h0.8v0.8h-0.8zM46.9 86.7h0.8v0.8h-0.8zM49.0 112.6h0.8v0.8h-0.8zM49.2 92.0h0.8v0.8h-0.8zM47.4 99.4h0.8v0.8h-0.8zM65.5 102.7h0.8v0.8h-0.8zM59.4 82.9h0.8v0.8h-0.8zM56.6 92.6h0.8v0.8h-0.8zM57.8 101.7h0.8v0.8h-0.8zM54.3 77.6h0.8v0.8h-0.8zM51.2 88.0h0.8v0.8h-0.8zM53.0 92.7h0.8v0.8h-0.8zM56.6 78.3h0.8v0.8h-0.8zM46.0 91.7h0.8v0.8h-0.8zM52.3 88.8h0.8v0.8h-0.8zM50.2 92.9h0.8v0.8h-0.8zM56.6 91.4h0.8v0.8h-0.8zM51.8 76.4h0.8v0.8h-0.8zM52.5 72.0h0.8v0.8h-0.8zM52.8 91.6h0.8v0.8h-0.8zM50.4 86.0h0.8v0.8h-0.8zM47.9 99.7h0.8v0.8h-0.8zM52.5 92.2h0.8v0.8h-0.8zM47.5 94.3h0.8v0.8h-0.8zM57.4 92.2h0.8v0.8h-0.8zM48.2 82.0h0.8v0.8h-0.8zM51.0 84.3h0.8v0.8h-0.8zM41.9 100.1h0.8v0.8h-0.8zM46.7 74.4h0.8v0.8h-0.8zM46.2 108.7h0.8v0.8h-0.8zM49.8 80.7h0.8v0.8h-0.8zM43.9 98.8h0.8v0.8h-0.8zM52.8 94.3h0.8v0.8h-0.8zM49.2 96.7h0.8v0.8h-0.8zM59.5 96.7h0.8v0.8h-0.8zM49.4 80.0h0.8v0.8h-0.8zM53.0 106.3h0.8v0.8h-0.8zM54.2 81.3h0.8v0.8h-0.8zM51.5 103.9h0.8v0.8h-0.8zM46.7 96.8h0.8v0.8h-0.8zM57.5 106.9h0.8v0.8h-0.8zM41.0 77.0h0.8v0.8h-0.8zM52.6 98.6h0.8v0.8h-0.8zM48.3 92.2h0.8v0.8h-0.8zM48.0 103.0h0.8v0.8h-0.8zM42.8 86.4h0.8v0.8h-0.8zM41.3 84.4h0.8v0.8h-0.8zM50.3 92.6h0.8v0.8h-0.8zM61.0 90.4h0.8v0.8h-0.8zM52.4 95.5h0.8v0.8h-0.8zM51.9 105.4h0.8v0.8h-0.8zM51.2 93.7h0.8v0.8h-0.8zM49.7 92.4h0.8v0.8h-0.8zM50.1 101.2h0.8v0.8h-0.8zM50.5 93.0h0.8v0.8h-0.8zM50.1 99.1h0.8v0.8h-0.8zM47.6 100.7h0.8v0.8h-0.8zM47.0 98.5h0.8v0.8h-0.8zM61.8 94.5h0.8v0.8h-0.8zM49.9 81.9h0.8v0.8h-0.8zM54.8 92.5h0.8v0.8h-0.8zM55.8 86.6h0.8v0.8h-0.8zM53.5 108.4h0.8v0.8h-0.8zM52.8 89.5h0.8v0.8h-0.8zM42.7 92.3h0.8v0.8h-0.8zM54.3 97.7h0.8v0.8h-0.8zM43.8 83.3h0.8v0.8h-0.8zM44.6 83.4h0.8v0.8h-0.8zM48.8 94.8h0.8v0.8h-0.8zM61.8 94.1h0.8v0.8h-0.8zM59.0 77.7h0.8v0.8h-0.8zM59.5 99.5h0.8v0.8h-0.8zM53.0 99.7h0.8v0.8h-0.8zM54.1 109.4h0.8v0.8h-0.8zM55.2 77.0h0.8v0.8h-0.8zM40.1 106.7h0.8v0.8h-0.8zM49.9 104.1h0.8v0.8h-0.8zM48.4 86.6h0.8v0.8h-0.8zM48.4 95.2h0.8v0.8h-0.8zM51.5 86.9h0.8v0.8h-0.8zM53.6 97.9h0.8v0.8h-0.8zM45.0 82.5h0.8v0.8h-0.8zM38.8 89.7h0.8v0.8h-0.8zM50.5 86.2h0.8v0.8h-0.8zM46.8 91.2h0.8v0.8h-0.8zM50.6 97.5h0.8v0.8h-0.8zM55.3 96.3h0.8v0.8h-0.8zM57.0 83.8h0.8v0.8h-0.8zM54.0 95.7h0.8v0.8h-0.8zM44.2 86.4h0.8v0.8h-0.8zM53.0 93.1h0.8v0.8h-0.8zM43.0 87.5h0.8v0.8h-0.8zM59.4 99.9h0.8v0.8h-0.8zM50.9 104.4h0.8v0.8h-0.8zM45.0 90.9h0.8v0.8h-0.8zM56.1 89.4h0.8v0.8h-0.8zM43.8 97.6h0.8v0.8h-0.8zM59.9 69.8h0.8v0.8h-0.8zM51.3 81.3h0.8v0.8h-0.8zM48.6 79.8h0.8v0.8h-0.8zM65.8 86.4h0.8v0.8h-0.8zM50.7 86.1h0.8v0.8h-0.8zM44.5 88.4h0.8v0.8h-0.8zM51.6 108.0h0.8v0.8h-0.8zM52.1 106.3h0.8v0.8h-0.8zM44.1 93.0h0.8v0.8h-0.8zM47.8 78.5h0.8v0.8h-0.8zM72.5 90.2h0.8v0.8h-0.8zM51.8 85.7h0.8v0.8h-0.8zM47.0 83.2h0.8v0.8h-0.8zM56.5 88.8h0.8v0.8h-0.8zM49.5 94.0h0.8v0.8h-0.8zM43.1 94.5h0.8v0.8h-0.8zM49.4 96.4h0.8v0.8h-0.8zM48.1 92.7h0.8v0.8h-0.8zM53.5 101.0h0.8v0.8h-0.8zM46.3 101.0h0.8v0.8h-0.8zM44.6 90.7h0.8v0.8h-0.8zM51.2 93.7h0.8v0.8h-0.8zM49.3 100.6h0.8v0.8h-0.8zM46.2 105.8h0.8v0.8h-0.8zM39.7 93.1h0.8v0.8h-0.8zM53.6 92.6h0.8v0.8h-0.8zM52.0 100.7h0.8v0.8h-0.8zM45.6 97.6h0.8v0.8h-0.8zM56.7 90.3h0.8v0.8h-0.8zM45.3 83.0h0.8v0.8h-0.8zM53.0 85.2h0.8v0.8h-0.8zM65.1 97.5h0.8v0.8h-0.8zM42.7 89.9h0.8v0.8h-0.8zM59.5 98.4h0.8v0.8h-0.8zM44.4 101.6h0.8v0.8h-0.8zM47.6 112.1h0.8v0.8h-0.8zM47.1 97.7h0.8v0.8h-0.8zM53.7 88.4h0.8v0.8h-0.8zM49.5 102.7h0.8v0.8h-0.8zM53.4 91.9h0.8v0.8h-0.8zM53.0 107.9h0.8v0.8h-0.8zM55.9 96.6h0.8v0.8h-0.8zM52.4 78.5h0.8v0.8h-0.8zM51.2 88.1h0.8v0.8h-0.8zM54.7 87.0h0.8v0.8h-0.8zM53.1 83.0h0.8v0.8h-0.8zM55.7 85.9h0.8v0.8h-0.8zM50.2 97.5h0.8v0.8h-0.8zM48.5 92.5h0.8v0.8h-0.8zM56.7 108.1h0.8v0.8h-0.8zM39.7 84.4h0.8v0.8h-0.8zM54.4 100.8h0.8v0.8h-0.8zM47.6 93.2h0.8v0.8h-0.8zM49.3 112.6h0.8v0.8h-0.8zM49.2 81.8h0.8v0.8h-0.8zM41.2 81.0h0.8v0.8h-0.8zM58.1 88.9h0.8v0.8h-0.8zM62.0 98.1h0.8v0.8h-0.8zM52.7 98.1h0.8v0.8h-0.8zM55.1 100.6h0.8v0.8h-0.8zM44.6 87.4h0.8v0.8h-0.8zM47.2 93.3h0.8v0.8h-0.8zM48.9 81.4h0.8v0.8h-0.8zM46.3 108.3h0.8v0.8h-0.8zM63.0 84.8h0.8v0.8h-0.8zM52.7 92.1h0.8v0.8h-0.8zM45.4 98.7h0.8v0.8h-0.8zM50.0 107.2h0.8v0.8h-0.8zM53.1 89.6h0.8v0.8h-0.8zM55.4 86.1h0.8v0.8h-0.8zM55.6 98.5h0.8v0.8h-0.8zM39.9 90.7h0.8v0.8h-0.8zM52.3 99.1h0.8v0.8h-0.8zM51.3 92.3h0.8v0.8h-0.8zM48.3 89.8h0.8v0.8h-0.8zM50.4 83.0h0.8v0.8h-0.8zM54.2 89.5h0.8v0.8h-0.8zM53.5 87.9h0.8v0.8h-0.8zM52.8 93.5h0.8v0.8h-0.8zM55.7 96.5h0.8v0.8h-0.8zM55.9 90.9h0.8v0.8h-0.8zM50.1 90.1h0.8v0.8h-0.8zM43.0 91.3h0.8v0.8h-0.8zM56.9 99.2h0.8v0.8h-0.8zM45.4 95.1h0.8v0.8h-0.8zM54.9 80.3h0.8v0.8h-0.8zM52.5 95.3h0.8v0.8h-0.8zM54.8 94.7h0.8v0.8h-0.8zM40.1 74.5h0.8v0.8h-0.8zM62.2 88.9h0.8v0.8h-0.8zM57.9 103.6h0.8v0.8h-0.8zM50.9 82.2h0.8v0.8h-0.8zM58.5 92.1h0.8v0.8h-0.8zM53.5 96.6h0.8v0.8h-0.8zM56.1 101.4h0.8v0.8h-0.8zM42.0 79.9h0.8v0.8h-0.8zM51.2 92.5h0.8v0.8h-0.8zM55.0 91.2h0.8v0.8h-0.8zM49.3 110.4h0.8v0.8h-0.8zM58.5 102.7h0.8v0.8h-0.8zM56.5 85.4h0.8v0.8h-0.8zM49.9 91.8h0.8v0.8h-0.8zM43.9 84.7h0.8v0.8h-0.8zM51.4 81.6h0.8v0.8h-0.8zM53.6 96.6h0.8v0.8h-0.8zM49.0 89.4h0.8v0.8h-0.8zM54.0 96.7h0.8v0.8h-0.8zM52.6 81.6h0.8v0.8h-0.8zM40.8 110.6h0.8v0.8h-0.8zM46.5 89.2h0.8v0.8h-0.8zM39.6 85.3h0.8v0.8h-0.8zM46.1 99.5h0.8v0.8h-0.8zM48.0 88.0h0.8v0.8h-0.8zM45.8 88.5h0.8v0.8h-0.8zM41.1 94.8h0.8v0.8h-0.8zM57.5 93.8h0.8v0.8h-0.8zM47.2 103.6h0.8v0.8h-0.8zM53.3 83.3h0.8v0.8h-0.8zM47.0 87.0h0.8v0.8h-0.8zM50.1 103.1h0.8v0.8h-0.8zM46.2 91.1h0.8v0.8h-0.8zM51.1 81.9h0.8v0.8h-0.8zM47.6 97.8h0.8v0.8h-0.8zM57.1 75.8h0.8v0.8h-0.8zM54.6 89.8h0.8v0.8h-0.8zM58.0 97.9h0.8v0.8h-0.8zM62.1 95.1h0.8v0.8h-0.8zM48.1 85.0h0.8v0.8h-0.8zM41.9 97.3h0.8v0.8h-0.8zM53.5 99.6h0.8v0.8h-0.8zM52.5 79.2h0.8v0.8h-0.8zM48.0 90.3h0.8v0.8h-0.8zM51.3 99.2h0.8v0.8h-0.8zM58.8 94.9h0.8v0.8h-0.8zM38.2 83.4h0.8v0.8h-0.8zM37.7 85.6h0.8v0.8h-0.8zM43.3 94.5h0.8v0.8h-0.8zM49.1 102.3h0.8v0.8h-0.8zM56.8 88.4h0.8v0.8h-0.8zM56.0 92.5h0.8v0.8h-0.8zM53.1 104.3h0.8v0.8h-0.8zM43.6 91.8h0.8v0.8h-0.8zM59.5 85.7h0.8v0.8h-0.8zM51.7 93.6h0.8v0.8h-0.8zM47.9 80.8h0.8v0.8h-0.8zM46.3 83.7h0.8v0.8h-0.8zM56.8 94.6h0.8v0.8h-0.8zM54.6 81.9h0.8v0.8h-0.8zM53.4 93.7h0.8v0.8h-0.8zM56.6 86.0h0.8v0.8h-0.8zM55.2 104.5h0.8v0.8h-0.8zM61.1 84.2h0.8v0.8h-0.8zM43.7 79.5h0.8v0.8h-0.8zM56.1 97.7h0.8v0.8h-0.8zM52.4 84.8h0.8v0.8h-0.8zM57.8 106.6h0.8v0.8h-0.8zM50.2 91.3h0.8v0.8h-0.8zM57.5 96.9h0.8v0.8h-0.8zM58.4 88.8h0.8v0.8h-0.8zM52.4 89.4h0.8v0.8h-0.8zM47.0 89.8h0.8v0.8h-0.8zM48.7 96.9h0.8v0.8h-0.8zM48.6 93.0h0.8v0.8h-0.8zM45.6 81.6h0.8v0.8h-0.8zM58.9 83.7h0.8v0.8h-0.8zM61.2 100.7h0.8v0.8h-0.8zM47.9 92.6h0.8v0.8h-0.8zM49.3 87.1h0.8v0.8h-0.8zM57.8 91.3h0.8v0.8h-0.8zM56.1 86.4h0.8v0.8h-0.8zM46.3 104.2h0.8v0.8h-0.8zM48.7 82.7h0.8v0.8h-0.8zM49.4 101.7h0.8v0.8h-0.8zM49.5 86.1h0.8v0.8h-0.8zM54.2 101.1h0.8v0.8h-0.8zM49.2 89.6h0.8v0.8h-0.8zM48.2 116.2h0.8v0.8h-0.8zM49.3 107.8h0.8v0.8h-0.8zM49.5 96.0h0.8v0.8h-0.8zM38.3 94.0h0.8v0.8h-0.8zM50.7 89.6h0.8v0.8h-0.8zM48.0 80.4h0.8v0.8h-0.8zM41.6 93.9h0.8v0.8h-0.8zM46.6 91.6h0.8v0.8h-0.8zM49.3 87.9h0.8v0.8h-0.8zM46.1 108.8h0.8v0.8h-0.8zM43.9 87.9h0.8v0.8h-0.8zM48.7 82.2h0.8v0.8h-0.8zM44.7 100.0h0.8v0.8h-0.8zM55.9 93.6h0.8v0.8h-0.8zM69.6 99.7h0.8v0.8h-0.8zM57.7 85.2h0.8v0.8h-0.8zM56.8 107.2h0.8v0.8h-0.8zM48.2 108.3h0.8v0.8h-0.8zM45.6 82.4h0.8v0.8h-0.8zM50.1 85.3h0.8v0.8h-0.8zM54.2 82.7h0.8v0.8h-0.8zM50.9 75.2h0.8v0.8h-0.8zM50.2 101.7h0.8v0.8h-0.8zM48.9 95.2h0.8v0.8h-0.8zM56.9 82.8h0.8v0.8h-0.8zM42.9 93.1h0.8v0.8h-0.8zM52.1 90.1h0.8v0.8h-0.8zM44.7 103.1h0.8v0.8h-0.8zM43.5 90.1h0.8v0.8h-0.8zM50.2 98.8h0.8v0.8h-0.8zM47.8 85.2h0.8v0.8h-0.8zM62.3 85.0h0.8v0.8h-0.8zM55.1 91.1h0.8v0.8h-0.8zM47.6 92.0h0.8v0.8h-0.8zM48.9 95.1h0.8v0.8h-0.8zM50.8 83.9h0.8v0.8h-0.8zM48.1 113.0h0.8v0.8h-0.8zM61.4 98.0h0.8v0.8h-0.8zM51.8 89.7h0.8v0.8h-0.8zM58.6 88.5h0.8v0.8h-0.8zM45.6 98.5h0.8v0.8h-0.8zM44.7 85.5h0.8v0.8h-0.8zM59.0 78.3h0.8v0.8h-0.8zM50.0 93.5h0.8v0.8h-0.8zM52.0 79.6h0.8v0.8h-0.8zM49.1 89.5h0.8v0.8h-0.8zM61.8 101.2h0.8v0.8h-0.8zM45.9 100.1h0.8v0.8h-0.8zM54.3 91.4h0.8v0.8h-0.8zM49.0 90.0h0.8v0.8h-0.8zM41.3 86.9h0.8v0.8h-0.8zM56.0 105.1h0.8v0.8h-0.8zM61.4 89.1h0.8v0.8h-0.8zM54.1 71.3h0.8v0.8h-0.8zM48.8 81.3h0.8v0.8h-0.8zM55.3 77.8h0.8v0.8h-0.8zM44.3 82.7h0.8v0.8h-0.8zM52.8 99.8h0.8v0.8h-0.8zM45.0 108.2h0.8v0.8h-0.8zM51.4 85.1h0.8v0.8h-0.8zM52.5 92.3h0.8v0.8h-0.8zM55.4 95.4h0.8v0.8h-0.8zM63.4 102.7h0.8v0.8h-0.8zM46.6 99.3h0.8v0.8h-0.8zM54.9 83.6h0.8v0.8h-0.8zM46.0 85.3h0.8v0.8h-0.8zM49.1 103.2h0.8v0.8h-0.8zM47.1 93.1h0.8v0.8h-0.8zM54.7 100.9h0.8v0.8h-0.8zM52.3 83.3h0.8v0.8h-0.8zM63.5 100.0h0.8v0.8h-0.8zM58.5 106.6h0.8v0.8h-0.8zM58.7 96.1h0.8v0.8h-0.8zM53.2 98.0h0.8v0.8h-0.8zM41.5 99.5h0.8v0.8h-0.8zM44.7 96.1h0.8v0.8h-0.8zM44.4 98.7h0.8v0.8h-0.8zM47.6 114.2h0.8v0.8h-0.8zM51.6 96.9h0.8v0.8h-0.8zM45.1 89.9h0.8v0.8h-0.8zM50.1 89.9h0.8v0.8h-0.8zM47.9 84.7h0.8v0.8h-0.8zM54.9 89.0h0.8v0.8h-0.8zM45.6 95.6h0.8v0.8h-0.8zM45.6 90.9h0.8v0.8h-0.8zM47.4 84.3h0.8v0.8h-0.8zM49.1 85.2h0.8v0.8h-0.8zM43.0 95.5h0.8v0.8h-0.8zM48.7 79.6h0.8v0.8h-0.8zM48.1 94.0h0.8v0.8h-0.8zM53.0 95.7h0.8v0.8h-0.8zM51.9 97.6h0.8v0.8h-0.8zM47.5 85.4h0.8v0.8h-0.8zM54.1 88.8h0.8v0.8h-0.8zM50.5 98.1h0.8v0.8h-0.8zM56.0 103.1h0.8v0.8h-0.8zM46.4 89.2h0.8v0.8h-0.8zM53.7 79.9h0.8v0.8h-0.8zM43.0 97.7h0.8v0.8h-0.8zM46.8 84.3h0.8v0.8h-0.8zM55.2 97.1h0.8v0.8h-0.8zM55.9 89.5h0.8v0.8h-0.8zM48.7 89.4h0.8v0.8h-0.8zM52.2 74.6h0.8v0.8h-0.8zM46.4 98.6h0.8v0.8h-0.8zM45.8 91.8h0.8v0.8h-0.8zM51.2 97.0h0.8v0.8h-0.8zM47.6 82.5h0.8v0.8h-0.8zM65.2 86.1h0.8v0.8h-0.8zM60.6 77.0h0.8v0.8h-0.8zM51.1 90.7h0.8v0.8h-0.8zM61.6 110.3h0.8v0.8h-0.8zM56.2 83.5h0.8v0.8h-0.8zM45.7 85.8h0.8v0.8h-0.8zM47.4 94.7h0.8v0.8h-0.8zM45.8 90.3h0.8v0.8h-0.8zM59.1 105.0h0.8v0.8h-0.8zM39.5 84.1h0.8v0.8h-0.8zM48.3 103.8h0.8v0.8h-0.8zM48.5 109.1h0.8v0.8h-0.8zM52.6 105.0h0.8v0.8h-0.8zM45.4 89.7h0.8v0.8h-0.8zM56.5 97.4h0.8v0.8h-0.8zM39.4 90.0h0.8v0.8h-0.8zM51.5 97.9h0.8v0.8h-0.8zM46.7 107.6h0.8v0.8h-0.8zM51.4 105.1h0.8v0.8h-0.8zM52.8 93.1h0.8v0.8h-0.8zM48.6 82.2h0.8v0.8h-0.8zM55.6 99.0h0.8v0.8h-0.8zM56.0 89.1h0.8v0.8h-0.8zM44.5 89.1h0.8v0.8h-0.8zM48.6 92.3h0.8v0.8h-0.8zM56.3 84.4h0.8v0.8h-0.8zM47.6 98.4h0.8v0.8h-0.8zM55.8 111.7h0.8v0.8h-0.8zM53.6 85.0h0.8v0.8h-0.8zM44.3 85.5h0.8v0.8h-0.8zM50.9 94.6h0.8v0.8h-0.8zM50.1 87.1h0.8v0.8h-0.8zM49.4 91.7h0.8v0.8h-0.8zM54.0 93.1h0.8v0.8h-0.8zM45.7 82.2h0.8v0.8h-0.8zM59.2 91.7h0.8v0.8h-0.8zM49.4 92.2h0.8v0.8h-0.8zM57.1 89.7h0.8v0.8h-0.8zM51.5 90.3h0.8v0.8h-0.8zM53.9 83.6h0.8v0.8h-0.8zM51.7 101.4h0.8v0.8h-0.8zM57.4 97.8h0.8v0.8h-0.8zM52.2 106.1h0.8v0.8h-0.8zM54.6 104.6h0.8v0.8h-0.8zM43.4 82.8h0.8v0.8h-0.8zM55.2 90.1h0.8v0.8h-0.8zM47.9 84.1h0.8v0.8h-0.8zM59.2 82.0h0.8v0.8h-0.8zM51.1 80.3h0.8v0.8h-0.8zM49.5 112.0h0.8v0.8h-0.8zM64.8 88.1h0.8v0.8h-0.8zM44.5 106.6h0.8v0.8h-0.8zM45.4 76.9h0.8v0.8h-0.8zM52.5 83.0h0.8v0.8h-0.8zM41.9 102.2h0.8v0.8h-0.8zM46.2 83.1h0.8v0.8h-0.8zM51.5 90.8h0.8v0.8h-0.8zM57.1 93.2h0.8v0.8h-0.8zM59.8 102.3h0.8v0.8h-0.8zM61.0 102.2h0.8v0.8h-0.8zM50.9 97.2h0.8v0.8h-0.8zM50.6 78.9h0.8v0.8h-0.8zM43.6 98.9h0.8v0.8h-0.8zM42.9 91.9h0.8v0.8h-0.8zM44.4 94.6h0.8v0.8h-0.8zM49.3 88.3h0.8v0.8h-0.8zM45.5 73.1h0.8v0.8h-0.8zM50.9 81.2h0.8v0.8h-0.8zM48.8 95.6h0.8v0.8h-0.8zM56.6 98.5h0.8v0.8h-0.8zM59.2 80.1h0.8v0.8h-0.8zM54.5 106.1h0.8v0.8h-0.8zM52.8 82.8h0.8v0.8h-0.8zM52.8 87.9h0.8v0.8h-0.8zM46.7 101.7h0.8v0.8h-0.8zM49.4 82.7h0.8v0.8h-0.8zM46.5 109.5h0.8v0.8h-0.8zM45.5 98.3h0.8v0.8h-0.8zM51.5 102.6h0.8v0.8h-0.8zM48.9 84.2h0.8v0.8h-0.8zM46.7 83.5h0.8v0.8h-0.8zM65.7 94.1h0.8v0.8h-0.8zM48.6 103.4h0.8v0.8h-0.8zM54.3 90.8h0.8v0.8h-0.8zM54.1 94.8h0.8v0.8h-0.8zM57.1 106.8h0.8v0.8h-0.8zM48.7 92.1h0.8v0.8h-0.8zM49.4 103.1h0.8v0.8h-0.8zM52.7 99.2h0.8v0.8h-0.8zM55.8 86.9h0.8v0.8h-0.8zM51.3 104.5h0.8v0.8h-0.8zM55.9 99.5h0.8v0.8h-0.8zM48.9 89.3h0.8v0.8h-0.8zM45.5 90.1h0.8v0.8h-0.8zM50.1 80.0h0.8v0.8h-0.8zM57.3 85.8h0.8v0.8h-0.8zM52.0 97.7h0.8v0.8h-0.8zM47.3 76.7h0.8v0.8h-0.8zM56.2 96.0h0.8v0.8h-0.8zM49.0 102.3h0.8v0.8h-0.8zM55.7 84.1h0.8v0.8h-0.8zM50.0 77.1h0.8v0.8h-0.8zM49.0 104.7h0.8v0.8h-0.8zM45.6 99.6h0.8v0.8h-0.8zM41.7 89.9h0.8v0.8h-0.8zM56.0 107.4h0.8v0.8h-0.8zM53.2 99.0h0.8v0.8h-0.8zM60.6 71.2h0.8v0.8h-0.8zM40.5 108.9h0.8v0.8h-0.8zM64.9 97.6h0.8v0.8h-0.8zM50.9 94.7h0.8v0.8h-0.8zM50.7 87.1h0.8v0.8h-0.8zM50.4 91.3h0.8v0.8h-0.8zM54.4 98.3h0.8v0.8h-0.8zM56.2 97.5h0.8v0.8h-0.8zM44.8 104.5h0.8v0.8h-0.8zM52.4 87.8h0.8v0.8h-0.8zM61.5 82.9h0.8v0.8h-0.8zM43.7 88.0h0.8v0.8h-0.8zM52.9 99.3h0.8v0.8h-0.8zM51.1 98.2h0.8v0.8h-0.8zM46.4 87.2h0.8v0.8h-0.8zM51.3 80.7h0.8v0.8h-0.8zM51.6 89.0h0.8v0.8h-0.8zM54.5 83.6h0.8v0.8h-0.8zM47.4 87.5h0.8v0.8h-0.8zM48.4 83.7h0.8v0.8h-0.8zM49.0 80.7h0.8v0.8h-0.8zM53.6 98.3h0.8v0.8h-0.8zM50.4 90.8h0.8v0.8h-0.8zM45.3 84.1h0.8v0.8h-0.8zM49.2 84.6h0.8v0.8h-0.8zM43.6 93.9h0.8v0.8h-0.8zM50.4 88.9h0.8v0.8h-0.8zM45.8 92.0h0.8v0.8h-0.8zM46.5 88.7h0.8v0.8h-0.8zM51.6 98.7h0.8v0.8h-0.8zM54.9 87.1h0.8v0.8h-0.8zM57.5 82.4h0.8v0.8h-0.8zM49.5 103.8h0.8v0.8h-0.8zM64.3 93.5h0.8v0.8h-0.8zM48.4 89.2h0.8v0.8h-0.8zM43.4 91.2h0.8v0.8h-0.8zM48.0 85.9h0.8v0.8h-0.8zM57.5 85.7h0.8v0.8h-0.8zM60.4 99.7h0.8v0.8h-0.8zM54.2 87.3h0.8v0.8h-0.8zM47.5 75.1h0.8v0.8h-0.8zM52.1 90.1h0.8v0.8h-0.8zM52.8 86.6h0.8v0.8h-0.8zM53.3 79.4h0.8v0.8h-0.8zM37.8 96.6h0.8v0.8h-0.8zM56.7 65.1h0.8v0.8h-0.8zM58.0 89.4h0.8v0.8h-0.8zM49.6 79.0h0.8v0.8h-0.8zM44.7 98.6h0.8v0.8h-0.8zM46.2 92.1h0.8v0.8h-0.8zM49.6 109.7h0.8v0.8h-0.8zM55.7 80.9h0.8v0.8h-0.8zM47.7 82.4h0.8v0.8h-0.8zM42.4 86.5h0.8v0.8h-0.8zM56.9 92.8h0.8v0.8h-0.8zM54.4 91.2h0.8v0.8h-0.8zM48.0 93.1h0.8v0.8h-0.8zM50.0 109.2h0.8v0.8h-0.8zM60.9 95.7h0.8v0.8h-0.8zM54.0 75.1h0.8v0.8h-0.8zM49.8 113.2h0.8v0.8h-0.8zM45.9 99.5h0.8v0.8h-0.8zM57.6 89.0h0.8v0.8h-0.8zM49.2 88.5h0.8v0.8h-0.8zM55.1 92.6h0.8v0.8h-0.8zM59.2 102.7h0.8v0.8h-0.8zM50.4 115.0h0.8v0.8h-0.8zM48.7 87.1h0.8v0.8h-0.8zM49.1 84.8h0.8v0.8h-0.8zM48.0 91.8h0.8v0.8h-0.8zM55.6 78.7h0.8v0.8h-0.8zM42.4 85.7h0.8v0.8h-0.8zM48.7 96.4h0.8v0.8h-0.8zM45.9 105.6h0.8v0.8h-0.8zM47.4 90.5h0.8v0.8h-0.8zM50.8 102.6h0.8v0.8h-0.8zM52.2 92.6h0.8v0.8h-0.8zM47.3 93.9h0.8v0.8h-0.8zM52.8 89.4h0.8v0.8h-0.8zM50.4 76.4h0.8v0.8h-0.8zM47.4 102.7h0.8v0.8h-0.8zM58.7 91.8h0.8v0.8h-0.8zM38.0 108.4h0.8v0.8h-0.8zM49.5 114.8h0.8v0.8h-0.8zM48.1 101.2h0.8v0.8h-0.8zM46.9 104.4h0.8v0.8h-0.8zM57.2 83.1h0.8v0.8h-0.8zM58.0 117.3h0.8v0.8h-0.8zM49.2 81.9h0.8v0.8h-0.8zM52.1 88.9h0.8v0.8h-0.8zM41.8 83.3h0.8v0.8h-0.8zM51.9 79.1h0.8v0.8h-0.8zM56.7 96.3h0.8v0.8h-0.8zM49.4 104.6h0.8v0.8h-0.8zM45.1 98.4h0.8v0.8h-0.8zM42.6 89.6h0.8v0.8h-0.8zM54.2 87.7h0.8v0.8h-0.8zM49.8 98.1h0.8v0.8h-0.8zM59.3 103.8h0.8v0.8h-0.8zM53.1 90.1h0.8v0.8h-0.8zM42.1 107.4h0.8v0.8h-0.8zM61.3 73.6h0.8v0.8h-0.8zM55.5 92.0h0.8v0.8h-0.8zM54.6 95.2h0.8v0.8h-0.8zM49.3 92.4h0.8v0.8h-0.8zM50.2 102.6h0.8v0.8h-0.8zM49.0 87.7h0.8v0.8h-0.8zM54.2 98.0h0.8v0.8h-0.8zM53.0 94.9h0.8v0.8h-0.8zM59.0 102.1h0.8v0.8h-0.8zM51.7 90.6h0.8v0.8h-0.8zM54.3 76.1h0.8v0.8h-0.8zM47.4 86.2h0.8v0.8h-0.8zM51.5 89.0h0.8v0.8h-0.8zM64.7 98.9h0.8v0.8h-0.8zM52.8 112.1h0.8v0.8h-0.8zM50.4 89.6h0.8v0.8h-0.8zM57.6 99.7h0.8v0.8h-0.8zM55.8 103.0h0.8v0.8h-0.8zM48.4 86.6h0.8v0.8h-0.8zM46.3 93.3h0.8v0.8h-0.8zM56.2 83.2h0.8v0.8h-0.8zM47.4 80.7h0.8v0.8h-0.8zM62.0 99.4h0.8v0.8h-0.8zM51.7 81.8h0.8v0.8h-0.8zM44.5 86.8h0.8v0.8h-0.8zM50.7 81.3h0.8v0.8h-0.8zM49.1 103.1h0.8v0.8h-0.8zM50.5 93.3h0.8v0.8h-0.8zM38.4 90.0h0.8v0.8h-0.8zM49.6 86.3h0.8v0.8h-0.8zM42.5 91.8h0.8v0.8h-0.8zM44.6 87.6h0.8v0.8h-0.8zM41.3 91.6h0.8v0.8h-0.8zM55.7 85.0h0.8v0.8h-0.8zM52.3 79.1h0.8v0.8h-0.8zM53.8 97.2h0.8v0.8h-0.8zM48.2 100.2h0.8v0.8h-0.8zM45.4 92.8h0.8v0.8h-0.8zM60.2 92.2h0.8v0.8h-0.8zM44.0 102.5h0.8v0.8h-0.8zM53.5 90.0h0.8v0.8h-0.8zM40.0 75.9h0.8v0.8h-0.8zM41.7 105.4h0.8v0.8h-0.8zM52.1 84.9h0.8v0.8h-0.8zM57.1 105.2h0.8v0.8h-0.8zM45.6 96.6h0.8v0.8h-0.8zM41.0 95.7h0.8v0.8h-0.8zM60.9 80.0h0.8v0.8h-0.8zM50.8 86.8h0.8v0.8h-0.8zM49.9 93.2h0.8v0.8h-0.8zM52.1 100.2h0.8v0.8h-0.8zM53.4 101.6h0.8v0.8h-0.8zM56.3 102.0h0.8v0.8h-0.8zM46.6 96.0h0.8v0.8h-0.8zM48.3 85.0h0.8v0.8h-0.8zM61.7 95.0h0.8v0.8h-0.8zM50.7 73.9h0.8v0.8h-0.8zM49.1 99.2h0.8v0.8h-0.8zM49.3 87.6h0.8v0.8h-0.8zM58.9 89.7h0.8v0.8h-0.8zM48.5 91.5h0.8v0.8h-0.8zM49.1 101.6h0.8v0.8h-0.8zM53.7 91.8h0.8v0.8h-0.8zM48.4 90.4h0.8v0.8h-0.8zM60.2 89.7h0.8v0.8h-0.8zM54.2 78.6h0.8v0.8h-0.8zM52.3 98.4h0.8v0.8h-0.8zM57.8 95.2h0.8v0.8h-0.8zM53.8 95.2h0.8v0.8h-0.8zM56.6 110.4h0.8v0.8h-0.8zM51.6 85.2h0.8v0.8h-0.8zM53.9 91.4h0.8v0.8h-0.8zM54.1 99.2h0.8v0.8h-0.8zM51.3 88.5h0.8v0.8h-0.8zM52.2 81.5h0.8v0.8h-0.8zM52.0 84.6h0.8v0.8h-0.8zM53.0 93.5h0.8v0.8h-0.8zM49.2 81.8h0.8v0.8h-0.8zM50.7 86.4h0.8v0.8h-0.8zM49.6 98.5h0.8v0.8h-0.8zM55.9 81.1h0.8v0.8h-0.8zM55.8 104.4h0.8v0.8h-0.8zM56.9 94.8h0.8v0.8h-0.8zM49.9 107.7h0.8v0.8h-0.8zM48.6 79.0h0.8v0.8h-0.8zM51.0 94.9h0.8v0.8h-0.8zM44.5 81.7h0.8v0.8h-0.8zM61.8 93.4h0.8v0.8h-0.8zM54.9 87.3h0.8v0.8h-0.8zM41.8 90.8h0.8v0.8h-0.8zM58.2 86.5h0.8v0.8h-0.8zM40.2 90.9h0.8v0.8h-0.8zM48.9 92.5h0.8v0.8h-0.8zM44.5 89.7h0.8v0.8h-0.8zM47.3 100.2h0.8v0.8h-0.8zM51.3 100.1h0.8v0.8h-0.8zM50.2 73.7h0.8v0.8h-0.8zM39.2 97.1h0.8v0.8h-0.8zM55.5 100.1h0.8v0.8h-0.8zM50.0 76.7h0.8v0.8h-0.8zM47.6 96.0h0.8v0.8h-0.8zM58.4 89.4h0.8v0.8h-0.8zM47.2 85.6h0.8v0.8h-0.8zM56.3 100.0h0.8v0.8h-0.8zM40.0 103.1h0.8v0.8h-0.8zM45.2 79.5h0.8v0.8h-0.8zM41.3 86.0h0.8v0.8h-0.8zM63.8 114.8h0.8v0.8h-0.8zM43.3 86.5h0.8v0.8h-0.8zM51.4 96.1h0.8v0.8h-0.8zM47.7 78.5h0.8v0.8h-0.8zM48.1 86.4h0.8v0.8h-0.8zM40.2 93.7h0.8v0.8h-0.8zM42.1 77.1h0.8v0.8h-0.8zM59.2 100.7h0.8v0.8h-0.8zM58.8 93.4h0.8v0.8h-0.8zM48.1 91.6h0.8v0.8h-0.8zM42.6 98.9h0.8v0.8h-0.8zM52.0 89.7h0.8v0.8h-0.8zM39.7 91.4h0.8v0.8h-0.8zM59.8 105.1h0.8v0.8h-0.8zM55.5 89.3h0.8v0.8h-0.8zM51.3 97.3h0.8v0.8h-0.8zM51.6 101.6h0.8v0.8h-0.8zM46.6 72.0h0.8v0.8h-0.8zM42.5 98.2h0.8v0.8h-0.8zM56.6 92.4h0.8v0.8h-0.8zM53.6 93.1h0.8v0.8h-0.8zM51.5 88.3h0.8v0.8h-0.8zM48.1 102.9h0.8v0.8h-0.8zM48.9 92.0h0.8v0.8h-0.8zM57.3 101.1h0.8v0.8h-0.8zM48.2 94.6h0.8v0.8h-0.8zM44.7 93.6h0.8v0.8h-0.8zM52.3 92.4h0.8v0.8h-0.8zM51.4 95.6h0.8v0.8h-0.8zM50.9 88.1h0.8v0.8h-0.8zM44.9 90.3h0.8v0.8h-0.8zM59.7 90.4h0.8v0.8h-0.8zM46.7 88.2h0.8v0.8h-0.8zM43.6 96.7h0.8v0.8h-0.8zM44.8 100.4h0.8v0.8h-0.8zM55.7 97.4h0.8v0.8h-0.8zM56.4 91.7h0.8v0.8h-0.8zM40.4 91.8h0.8v0.8h-0.8zM54.1 78.8h0.8v0.8h-0.8zM43.5 102.0h0.8v0.8h-0.8zM53.0 104.3h0.8v0.8h-0.8zM54.3 93.0h0.8v0.8h-0.8zM52.9 99.9h0.8v0.8h-0.8zM50.3 90.6h0.8v0.8h-0.8zM52.3 89.6h0.8v0.8h-0.8zM64.3 85.7h0.8v0.8h-0.8zM41.8 81.0h0.8v0.8h-0.8zM56.5 88.8h0.8v0.8h-0.8zM51.4 90.5h0.8v0.8h-0.8zM52.1 79.6h0.8v0.8h-0.8zM51.0 87.4h0.8v0.8h-0.8zM56.7 97.9h0.8v0.8h-0.8zM43.2 83.9h0.8v0.8h-0.8zM53.7 102.9h0.8v0.8h-0.8zM54.9 91.1h0.8v0.8h-0.8zM56.9 71.7h0.8v0.8h-0.8zM47.4 83.8h0.8v0.8h-0.8zM44.5 97.4h0.8v0.8h-0.8zM52.1 94.9h0.8v0.8h-0.8zM49.7 97.9h0.8v0.8h-0.8zM55.0 87.4h0.8v0.8h-0.8zM55.9 84.2h0.8v0.8h-0.8zM60.6 80.9h0.8v0.8h-0.8zM48.8 82.9h0.8v0.8h-0.8zM50.7 104.0h0.8v0.8h-0.8zM46.1 108.0h0.8v0.8h-0.8zM58.6 95.8h0.8v0.8h-0.8zM47.1 100.4h0.8v0.8h-0.8zM56.0 92.1h0.8v0.8h-0.8zM64.8 86.5h0.8v0.8h-0.8zM42.8 90.5h0.8v0.8h-0.8zM53.8 107.4h0.8v0.8h-0.8zM40.3 93.8h0.8v0.8h-0.8zM57.8 86.5h0.8v0.8h-0.8zM47.8 81.7h0.8v0.8h-0.8zM54.9 99.7h0.8v0.8h-0.8zM53.9 94.6h0.8v0.8h-0.8zM56.2 91.3h0.8v0.8h-0.8zM54.6 99.6h0.8v0.8h-0.8zM58.0 96.9h0.8v0.8h-0.8zM51.0 98.6h0.8v0.8h-0.8zM41.5 76.9h0.8v0.8h-0.8zM59.9 93.6h0.8v0.8h-0.8zM44.4 87.3h0.8v0.8h-0.8zM49.6 93.0h0.8v0.8h-0.8zM46.0 101.2h0.8v0.8h-0.8zM40.6 117.2h0.8v0.8h-0.8zM44.2 107.1h0.8v0.8h-0.8zM54.4 77.5h0.8v0.8h-0.8zM43.4 92.9h0.8v0.8h-0.8zM52.1 88.7h0.8v0.8h-0.8zM50.6 93.8h0.8v0.8h-0.8zM43.8 92.9h0.8v0.8h-0.8zM63.7 86.7h0.8v0.8h-0.8zM44.6 98.3h0.8v0.8h-0.8zM58.3 101.6h0.8v0.8h-0.8zM46.8 91.7h0.8v0.8h-0.8zM51.7 90.5h0.8v0.8h-0.8zM52.8 102.0h0.8v0.8h-0.8zM53.7 92.3h0.8v0.8h-0.8zM49.3 108.2h0.8v0.8h-0.8zM43.3 110.1h0.8v0.8h-0.8zM54.8 93.2h0.8v0.8h-0.8zM46.1 108.7h0.8v0.8h-0.8zM57.6 100.5h0.8v0.8h-0.8zM62.7 76.5h0.8v0.8h-0.8zM51.1 89.7h0.8v0.8h-0.8zM46.2 93.1h0.8v0.8h-0.8zM53.6 97.1h0.8v0.8h-0.8zM49.7 80.7h0.8v0.8h-0.8zM53.8 97.8h0.8v0.8h-0.8zM62.9 100.7h0.8v0.8h-0.8zM50.6 82.2h0.8v0.8h-0.8zM66.5 86.4h0.8v0.8h-0.8zM51.6 99.0h0.8v0.8h-0.8zM53.4 104.2h0.8v0.8h-0.8zM44.4 86.3h0.8v0.8h-0.8zM51.5 81.5h0.8v0.8h-0.8zM46.9 104.7h0.8v0.8h-0.8zM52.2 91.5h0.8v0.8h-0.8zM47.1 92.8h0.8v0.8h-0.8zM50.3 82.8h0.8v0.8h-0.8zM55.1 81.0h0.8v0.8h-0.8zM58.0 89.4h0.8v0.8h-0.8zM52.2 84.7h0.8v0.8h-0.8zM61.2 104.7h0.8v0.8h-0.8zM62.9 100.3h0.8v0.8h-0.8zM58.5 87.0h0.8v0.8h-0.8zM58.2 88.5h0.8v0.8h-0.8zM50.2 80.3h0.8v0.8h-0.8zM50.8 96.0h0.8v0.8h-0.8zM50.1 82.5h0.8v0.8h-0.8zM55.8 100.5h0.8v0.8h-0.8zM50.0 99.4h0.8v0.8h-0.8zM56.3 83.6h0.8v0.8h-0.8zM50.3 75.8h0.8v0.8h-0.8zM44.3 96.2h0.8v0.8h-0.8zM45.3 95.9h0.8v0.8h-0.8zM52.6 74.0h0.8v0.8h-0.8zM47.6 105.9h0.8v0.8h-0.8zM50.6 93.5h0.8v0.8h-0.8zM46.3 78.1h0.8v0.8h-0.8zM41.0 118.1h0.8v0.8h-0.8zM49.4 84.6h0.8v0.8h-0.8zM51.1 75.1h0.8v0.8h-0.8zM58.8 107.7h0.8v0.8h-0.8zM46.0 95.3h0.8v0.8h-0.8zM45.1 100.1h0.8v0.8h-0.8zM45.5 91.1h0.8v0.8h-0.8zM58.3 97.1h0.8v0.8h-0.8zM48.5 78.8h0.8v0.8h-0.8zM41.0 103.2h0.8v0.8h-0.8zM53.5 92.9h0.8v0.8h-0.8zM58.0 93.7h0.8v0.8h-0.8zM46.1 91.5h0.8v0.8h-0.8zM49.9 92.3h0.8v0.8h-0.8zM65.4 97.6h0.8v0.8h-0.8zM52.1 90.2h0.8v0.8h-0.8zM46.4 83.5h0.8v0.8h-0.8zM39.2 88.3h0.8v0.8h-0.8zM41.4 75.8h0.8v0.8h-0.8zM44.9 74.2h0.8v0.8h-0.8zM58.7 103.6h0.8v0.8h-0.8zM44.7 110.8h0.8v0.8h-0.8zM54.4 69.8h0.8v0.8h-0.8zM50.6 83.4h0.8v0.8h-0.8zM40.0 90.1h0.8v0.8h-0.8zM57.4 96.4h0.8v0.8h-0.8zM41.7 86.5h0.8v0.8h-0.8zM45.9 102.7h0.8v0.8h-0.8zM49.9 83.6h0.8v0.8h-0.8zM45.0 74.7h0.8v0.8h-0.8zM45.4 100.4h0.8v0.8h-0.8zM39.0 94.1h0.8v0.8h-0.8zM49.8 99.7h0.8v0.8h-0.8zM43.6 100.6h0.8v0.8h-0.8zM59.8 113.0h0.8v0.8h-0.8zM40.7 92.1h0.8v0.8h-0.8zM49.2 93.5h0.8v0.8h-0.8zM44.5 100.1h0.8v0.8h-0.8zM64.6 105.9h0.8v0.8h-0.8zM44.7 87.2h0.8v0.8h-0.8zM54.8 93.6h0.8v0.8h-0.8zM45.9 103.5h0.8v0.8h-0.8zM53.6 101.6h0.8v0.8h-0.8zM49.4 103.9h0.8v0.8h-0.8zM47.7 82.3h0.8v0.8h-0.8zM50.4 79.8h0.8v0.8h-0.8zM58.0 99.0h0.8v0.8h-0.8zM40.3 93.9h0.8v0.8h-0.8zM55.6 89.2h0.8v0.8h-0.8zM53.0 87.1h0.8v0.8h-0.8zM50.0 91.6h0.8v0.8h-0.8zM53.4 83.7h0.8v0.8h-0.8zM43.6 95.4h0.8v0.8h-0.8zM47.4 97.1h0.8v0.8h-0.8zM47.4 80.6h0.8v0.8h-0.8zM54.9 94.8h0.8v0.8h-0.8zM54.8 89.3h0.8v0.8h-0.8zM48.3 103.8h0.8v0.8h-0.8zM40.2 108.1h0.8v0.8h-0.8zM53.5 91.9h0.8v0.8h-0.8zM51.0 97.8h0.8v0.8h-0.8zM45.8 94.9h0.8v0.8h-0.8zM44.7 75.7h0.8v0.8h-0.8zM51.6 93.3h0.8v0.8h-0.8zM54.3 97.4h0.8v0.8h-0.8zM54.7 99.5h0.8v0.8h-0.8zM44.1 103.4h0.8v0.8h-0.8zM66.6 87.3h0.8v0.8h-0.8zM42.8 98.6h0.8v0.8h-0.8zM56.0 101.5h0.8v0.8h-0.8zM59.7 79.9h0.8v0.8h-0.8zM52.7 96.6h0.8v0.8h-0.8zM58.0 84.4h0.8v0.8h-0.8zM50.6 89.1h0.8v0.8h-0.8zM49.5 91.1h0.8v0.8h-0.8zM49.5 76.4h0.8v0.8h-0.8zM50.2 93.0h0.8v0.8h-0.8zM48.1 60.4h0.8v0.8h-0.8zM46.2 86.5h0.8v0.8h-0.8zM45.2 106.9h0.8v0.8h-0.8zM56.0 90.7h0.8v0.8h-0.8z"/>
<path fill="#8ed0f8" fill-opacity="0.5" d="M55.3 132.0h0.8v0.8h-0.8zM42.6 98.1h0.8v0.8h-0.8zM45.6 110.3h0.8v0.8h-0.8zM59.3 90.9h0.8v0.8h-0.8zM55.4 82.8h0.8v0.8h-0.8zM37.7 102.6h0.8v0.8h-0.8zM63.6 88.7h0.8v0.8h-0.8zM46.2 70.8h0.8v0.8h-0.8zM67.7 77.9h0.8v0.8h-0.8zM42.6 90.1h0.8v0.8h-0.8zM60.2 93.0h0.8v0.8h-0.8zM50.3 92.7h0.8v0.8h-0.8zM57.3 92.0h0.8v0.8h-0.8zM51.7 91.5h0.8v0.8h-0.8zM41.5 108.6h0.8v0.8h-0.8zM44.8 76.5h0.8v0.8h-0.8zM46.9 92.8h0.8v0.8h-0.8zM57.0 74.7h0.8v0.8h-0.8zM40.2 94.5h0.8v0.8h-0.8zM53.5 79.2h0.8v0.8h-0.8zM41.3 94.5h0.8v0.8h-0.8zM49.3 72.9h0.8v0.8h-0.8zM43.4 110.3h0.8v0.8h-0.8zM41.9 105.1h0.8v0.8h-0.8zM38.1 110.3h0.8v0.8h-0.8zM63.3 84.8h0.8v0.8h-0.8zM44.9 100.0h0.8v0.8h-0.8zM40.4 99.0h0.8v0.8h-0.8zM60.2 95.6h0.8v0.8h-0.8zM53.0 90.5h0.8v0.8h-0.8zM58.5 82.5h0.8v0.8h-0.8zM63.2 92.1h0.8v0.8h-0.8zM47.8 72.7h0.8v0.8h-0.8zM46.9 95.3h0.8v0.8h-0.8zM60.4 73.0h0.8v0.8h-0.8zM49.4 84.1h0.8v0.8h-0.8zM40.8 92.5h0.8v0.8h-0.8zM44.3 102.9h0.8v0.8h-0.8zM54.6 88.3h0.8v0.8h-0.8zM51.4 80.7h0.8v0.8h-0.8zM42.0 83.5h0.8v0.8h-0.8zM50.0 82.3h0.8v0.8h-0.8zM47.0 82.0h0.8v0.8h-0.8zM52.3 78.7h0.8v0.8h-0.8zM50.3 93.6h0.8v0.8h-0.8zM58.1 83.5h0.8v0.8h-0.8zM41.2 74.4h0.8v0.8h-0.8zM56.5 84.9h0.8v0.8h-0.8zM58.3 91.4h0.8v0.8h-0.8zM48.2 70.0h0.8v0.8h-0.8zM45.0 101.9h0.8v0.8h-0.8zM45.5 100.6h0.8v0.8h-0.8zM72.8 105.8h0.8v0.8h-0.8zM53.0 77.5h0.8v0.8h-0.8zM46.2 84.5h0.8v0.8h-0.8zM51.9 68.1h0.8v0.8h-0.8zM43.5 101.9h0.8v0.8h-0.8zM51.6 101.3h0.8v0.8h-0.8zM57.3 78.6h0.8v0.8h-0.8zM39.6 98.0h0.8v0.8h-0.8zM50.7 93.4h0.8v0.8h-0.8zM43.9 104.7h0.8v0.8h-0.8zM54.4 106.1h0.8v0.8h-0.8zM47.6 100.7h0.8v0.8h-0.8zM49.9 81.1h0.8v0.8h-0.8zM49.8 72.5h0.8v0.8h-0.8zM49.0 94.5h0.8v0.8h-0.8zM56.0 79.7h0.8v0.8h-0.8zM39.7 83.6h0.8v0.8h-0.8zM71.4 94.1h0.8v0.8h-0.8zM44.3 84.2h0.8v0.8h-0.8zM64.6 78.4h0.8v0.8h-0.8zM49.5 91.5h0.8v0.8h-0.8zM44.5 83.7h0.8v0.8h-0.8zM60.8 109.5h0.8v0.8h-0.8zM48.1 100.9h0.8v0.8h-0.8zM54.1 93.7h0.8v0.8h-0.8zM49.3 107.0h0.8v0.8h-0.8zM55.0 89.7h0.8v0.8h-0.8zM48.5 103.6h0.8v0.8h-0.8zM45.6 83.8h0.8v0.8h-0.8zM48.2 86.4h0.8v0.8h-0.8zM60.5 96.7h0.8v0.8h-0.8zM49.7 86.1h0.8v0.8h-0.8zM61.8 97.7h0.8v0.8h-0.8zM67.1 103.3h0.8v0.8h-0.8zM48.7 85.8h0.8v0.8h-0.8zM48.1 94.6h0.8v0.8h-0.8zM56.7 98.3h0.8v0.8h-0.8zM63.0 74.1h0.8v0.8h-0.8zM50.6 75.3h0.8v0.8h-0.8zM42.1 85.2h0.8v0.8h-0.8zM45.2 80.7h0.8v0.8h-0.8zM38.2 106.1h0.8v0.8h-0.8zM47.8 104.0h0.8v0.8h-0.8zM41.5 64.5h0.8v0.8h-0.8zM45.6 103.0h0.8v0.8h-0.8zM45.9 97.2h0.8v0.8h-0.8zM41.8 109.2h0.8v0.8h-0.8zM53.9 105.0h0.8v0.8h-0.8zM48.2 107.8h0.8v0.8h-0.8zM51.0 86.5h0.8v0.8h-0.8zM45.3 93.1h0.8v0.8h-0.8zM43.1 78.0h0.8v0.8h-0.8zM51.4 100.9h0.8v0.8h-0.8zM48.1 102.5h0.8v0.8h-0.8zM63.1 77.1h0.8v0.8h-0.8zM52.5 80.8h0.8v0.8h-0.8zM45.2 94.5h0.8v0.8h-0.8zM57.1 98.9h0.8v0.8h-0.8zM55.6 114.2h0.8v0.8h-0.8zM47.5 105.6h0.8v0.8h-0.8zM62.0 98.3h0.8v0.8h-0.8zM48.0 72.9h0.8v0.8h-0.8zM49.9 101.5h0.8v0.8h-0.8zM48.3 90.2h0.8v0.8h-0.8zM62.2 85.0h0.8v0.8h-0.8zM42.8 92.9h0.8v0.8h-0.8zM59.4 99.5h0.8v0.8h-0.8zM51.0 86.5h0.8v0.8h-0.8zM60.3 103.0h0.8v0.8h-0.8zM55.3 84.8h0.8v0.8h-0.8zM40.0 88.8h0.8v0.8h-0.8zM46.3 71.1h0.8v0.8h-0.8zM50.2 106.6h0.8v0.8h-0.8zM40.2 88.1h0.8v0.8h-0.8zM65.0 94.6h0.8v0.8h-0.8zM45.9 94.7h0.8v0.8h-0.8zM56.6 80.3h0.8v0.8h-0.8zM49.6 72.7h0.8v0.8h-0.8zM37.7 73.9h0.8v0.8h-0.8zM57.2 96.1h0.8v0.8h-0.8zM56.3 107.0h0.8v0.8h-0.8zM50.8 95.2h0.8v0.8h-0.8zM53.6 98.0h0.8v0.8h-0.8zM41.9 89.1h0.8v0.8h-0.8zM49.2 92.8h0.8v0.8h-0.8zM44.4 90.8h0.8v0.8h-0.8zM52.7 94.6h0.8v0.8h-0.8zM55.1 102.3h0.8v0.8h-0.8zM54.9 104.0h0.8v0.8h-0.8zM57.1 109.1h0.8v0.8h-0.8zM55.4 84.9h0.8v0.8h-0.8zM69.1 106.0h0.8v0.8h-0.8zM60.4 101.2h0.8v0.8h-0.8zM50.8 78.6h0.8v0.8h-0.8zM53.9 88.1h0.8v0.8h-0.8zM47.2 66.7h0.8v0.8h-0.8zM62.8 78.3h0.8v0.8h-0.8zM41.6 98.0h0.8v0.8h-0.8zM54.9 82.9h0.8v0.8h-0.8zM50.3 95.4h0.8v0.8h-0.8zM51.7 98.7h0.8v0.8h-0.8zM56.6 88.0h0.8v0.8h-0.8zM47.3 80.5h0.8v0.8h-0.8zM56.4 99.4h0.8v0.8h-0.8zM45.4 120.7h0.8v0.8h-0.8zM50.1 96.1h0.8v0.8h-0.8zM52.9 89.6h0.8v0.8h-0.8zM52.9 76.7h0.8v0.8h-0.8zM47.2 114.6h0.8v0.8h-0.8zM57.4 87.5h0.8v0.8h-0.8zM45.8 74.3h0.8v0.8h-0.8zM49.4 90.2h0.8v0.8h-0.8zM45.3 73.6h0.8v0.8h-0.8zM51.6 97.4h0.8v0.8h-0.8zM59.5 98.6h0.8v0.8h-0.8zM62.6 106.8h0.8v0.8h-0.8zM49.6 79.8h0.8v0.8h-0.8zM53.9 103.9h0.8v0.8h-0.8zM38.0 77.5h0.8v0.8h-0.8zM55.9 85.7h0.8v0.8h-0.8zM62.1 95.0h0.8v0.8h-0.8zM46.0 76.4h0.8v0.8h-0.8zM55.2 71.7h0.8v0.8h-0.8zM39.9 76.6h0.8v0.8h-0.8zM64.1 112.9h0.8v0.8h-0.8zM48.6 87.8h0.8v0.8h-0.8zM56.0 107.4h0.8v0.8h-0.8zM43.9 118.9h0.8v0.8h-0.8zM48.7 106.0h0.8v0.8h-0.8zM44.8 116.3h0.8v0.8h-0.8zM48.7 77.0h0.8v0.8h-0.8zM66.1 84.1h0.8v0.8h-0.8zM50.4 77.3h0.8v0.8h-0.8zM55.8 94.7h0.8v0.8h-0.8zM48.1 87.5h0.8v0.8h-0.8zM45.8 83.7h0.8v0.8h-0.8zM39.1 106.9h0.8v0.8h-0.8zM57.6 75.6h0.8v0.8h-0.8zM41.0 97.3h0.8v0.8h-0.8zM68.6 89.9h0.8v0.8h-0.8zM47.9 89.4h0.8v0.8h-0.8zM52.4 90.3h0.8v0.8h-0.8zM59.1 104.2h0.8v0.8h-0.8zM54.8 111.4h0.8v0.8h-0.8zM48.5 85.8h0.8v0.8h-0.8zM74.3 69.1h0.8v0.8h-0.8zM37.9 64.0h0.8v0.8h-0.8zM53.3 79.5h0.8v0.8h-0.8zM58.9 67.1h0.8v0.8h-0.8zM49.3 87.7h0.8v0.8h-0.8zM41.7 105.8h0.8v0.8h-0.8z"/>
<path fill="#a8d8f7" fill-opacity="0.5" d="M52.0 89.0h0.8v0.8h-0.8zM49.4 83.0h0.8v0.8h-0.8zM51.0 81.5h0.8v0.8h-0.8zM58.0 66.3h0.8v0.8h-0.8zM68.8 76.3h0.8v0.8h-0.8zM40.5 58.9h0.8v0.8h-0.8zM68.9 106.7h0.8v0.8h-0.8zM69.0 100.9h0.8v0.8h-0.8zM74.3 56.2h0.8v0.8h-0.8zM60.7 98.0h0.8v0.8h-0.8zM64.8 75.5h0.8v0.8h-0.8z"/>
<path fill="#e56060" fill-opacity="0.45" d="M79.5 100.2h0.8v0.8h-0.8zM86.6 99.2h0.8v0.8h-0.8zM96.5 107.3h0.8v0.8h-0.8zM82.0 100.6h0.8v0.8h-0.8zM85.0 99.7h0.8v0.8h-0.8zM97.3 105.4h0.8v0.8h-0.8zM87.3 94.4h0.8v0.8h-0.8zM86.0 101.5h0.8v0.8h-0.8zM83.8 106.7h0.8v0.8h-0.8zM87.1 90.7h0.8v0.8h-0.8zM99.9 78.6h0.8v0.8h-0.8zM85.3 98.1h0.8v0.8h-0.8zM93.3 106.8h0.8v0.8h-0.8zM96.2 110.0h0.8v0.8h-0.8zM89.0 99.8h0.8v0.8h-0.8zM93.4 98.8h0.8v0.8h-0.8zM79.0 95.8h0.8v0.8h-0.8zM91.2 103.3h0.8v0.8h-0.8zM80.0 107.4h0.8v0.8h-0.8zM89.0 88.4h0.8v0.8h-0.8zM90.0 106.1h0.8v0.8h-0.8zM90.4 96.8h0.8v0.8h-0.8zM81.9 106.9h0.8v0.8h-0.8zM88.4 99.0h0.8v0.8h-0.8zM84.5 91.7h0.8v0.8h-0.8zM75.1 96.6h0.8v0.8h-0.8zM94.0 104.4h0.8v0.8h-0.8zM82.7 109.7h0.8v0.8h-0.8zM85.6 91.9h0.8v0.8h-0.8zM93.2 108.7h0.8v0.8h-0.8zM84.5 90.4h0.8v0.8h-0.8zM86.6 81.9h0.8v0.8h-0.8zM87.3 109.7h0.8v0.8h-0.8zM88.7 93.8h0.8v0.8h-0.8zM91.5 95.5h0.8v0.8h-0.8zM95.0 96.5h0.8v0.8h-0.8zM99.9 96.5h0.8v0.8h-0.8zM88.2 92.4h0.8v0.8h-0.8zM78.9 101.4h0.8v0.8h-0.8zM89.2 92.2h0.8v0.8h-0.8zM90.5 96.1h0.8v0.8h-0.8zM83.5 98.5h0.8v0.8h-0.8zM89.5 104.1h0.8v0.8h-0.8zM94.8 101.7h0.8v0.8h-0.8zM82.4 94.2h0.8v0.8h-0.8zM89.3 90.6h0.8v0.8h-0.8zM85.9 96.3h0.8v0.8h-0.8zM86.4 100.3h0.8v0.8h-0.8zM93.6 110.5h0.8v0.8h-0.8zM92.6 106.1h0.8v0.8h-0.8zM80.2 106.3h0.8v0.8h-0.8zM95.2 89.5h0.8v0.8h-0.8zM103.0 95.0h0.8v0.8h-0.8zM71.9 111.4h0.8v0.8h-0.8zM87.4 93.4h0.8v0.8h-0.8zM83.4 106.5h0.8v0.8h-0.8zM88.6 96.4h0.8v0.8h-0.8zM94.3 92.4h0.8v0.8h-0.8zM81.6 95.1h0.8v0.8h-0.8zM82.3 103.8h0.8v0.8h-0.8zM85.5 91.6h0.8v0.8h-0.8zM84.1 85.1h0.8v0.8h-0.8zM88.0 99.7h0.8v0.8h-0.8zM90.9 97.3h0.8v0.8h-0.8zM89.5 92.4h0.8v0.8h-0.8zM87.2 100.1h0.8v0.8h-0.8zM79.3 103.1h0.8v0.8h-0.8zM87.9 99.4h0.8v0.8h-0.8zM84.0 113.0h0.8v0.8h-0.8zM87.0 93.6h0.8v0.8h-0.8zM81.6 103.1h0.8v0.8h-0.8zM85.7 93.5h0.8v0.8h-0.8zM82.4 105.5h0.8v0.8h-0.8zM87.5 106.4h0.8v0.8h-0.8zM86.9 90.7h0.8v0.8h-0.8zM92.5 101.2h0.8v0.8h-0.8zM82.9 96.8h0.8v0.8h-0.8zM80.9 104.8h0.8v0.8h-0.8zM84.4 102.3h0.8v0.8h-0.8zM88.6 97.2h0.8v0.8h-0.8zM89.3 97.3h0.8v0.8h-0.8zM79.5 96.1h0.8v0.8h-0.8zM79.6 104.3h0.8v0.8h-0.8zM91.1 94.9h0.8v0.8h-0.8zM90.9 100.7h0.8v0.8h-0.8zM93.1 92.5h0.8v0.8h-0.8zM87.2 92.0h0.8v0.8h-0.8zM82.7 108.6h0.8v0.8h-0.8zM74.3 92.6h0.8v0.8h-0.8zM90.1 104.4h0.8v0.8h-0.8zM82.0 84.8h0.8v0.8h-0.8zM76.2 101.6h0.8v0.8h-0.8zM94.0 105.4h0.8v0.8h-0.8zM82.4 108.5h0.8v0.8h-0.8zM85.8 103.3h0.8v0.8h-0.8zM85.8 110.1h0.8v0.8h-0.8zM83.7 84.0h0.8v0.8h-0.8zM85.0 100.3h0.8v0.8h-0.8zM88.7 94.0h0.8v0.8h-0.8zM85.5 91.1h0.8v0.8h-0.8zM85.5 99.6h0.8v0.8h-0.8zM88.5 110.5h0.8v0.8h-0.8zM74.4 102.6h0.8v0.8h-0.8zM89.7 90.9h0.8v0.8h-0.8zM87.4 98.9h0.8v0.8h-0.8zM80.7 104.0h0.8v0.8h-0.8zM99.0 103.7h0.8v0.8h-0.8zM91.9 106.5h0.8v0.8h-0.8zM86.2 105.8h0.8v0.8h-0.8zM81.9 100.2h0.8v0.8h-0.8zM91.4 108.1h0.8v0.8h-0.8zM85.2 97.0h0.8v0.8h-0.8zM89.9 98.4h0.8v0.8h-0.8zM87.9 104.6h0.8v0.8h-0.8zM82.2 105.1h0.8v0.8h-0.8zM89.4 97.2h0.8v0.8h-0.8zM79.1 94.6h0.8v0.8h-0.8zM86.7 105.6h0.8v0.8h-0.8zM74.6 104.0h0.8v0.8h-0.8zM88.2 91.1h0.8v0.8h-0.8zM92.4 101.8h0.8v0.8h-0.8zM89.7 92.2h0.8v0.8h-0.8zM80.0 105.3h0.8v0.8h-0.8zM95.8 101.5h0.8v0.8h-0.8zM85.8 95.9h0.8v0.8h-0.8zM76.2 105.9h0.8v0.8h-0.8zM86.4 107.6h0.8v0.8h-0.8zM82.5 106.3h0.8v0.8h-0.8zM82.5 103.1h0.8v0.8h-0.8zM95.6 94.1h0.8v0.8h-0.8zM92.7 98.9h0.8v0.8h-0.8zM81.1 100.4h0.8v0.8h-0.8zM91.0 94.0h0.8v0.8h-0.8zM85.3 95.0h0.8v0.8h-0.8zM82.2 97.5h0.8v0.8h-0.8zM92.2 95.5h0.8v0.8h-0.8zM94.8 96.4h0.8v0.8h-0.8zM82.7 106.4h0.8v0.8h-0.8zM95.8 94.5h0.8v0.8h-0.8zM90.7 90.9h0.8v0.8h-0.8zM84.5 96.4h0.8v0.8h-0.8zM91.4 90.3h0.8v0.8h-0.8zM83.8 94.2h0.8v0.8h-0.8zM87.6 90.5h0.8v0.8h-0.8zM78.6 118.6h0.8v0.8h-0.8zM88.3 88.6h0.8v0.8h-0.8zM92.2 89.9h0.8v0.8h-0.8zM75.2 110.6h0.8v0.8h-0.8zM94.8 93.2h0.8v0.8h-0.8zM80.2 102.3h0.8v0.8h-0.8zM99.7 103.2h0.8v0.8h-0.8zM91.1 90.8h0.8v0.8h-0.8zM75.9 101.7h0.8v0.8h-0.8zM93.3 99.9h0.8v0.8h-0.8zM87.0 108.6h0.8v0.8h-0.8zM81.8 106.6h0.8v0.8h-0.8zM92.2 94.7h0.8v0.8h-0.8zM87.8 99.8h0.8v0.8h-0.8zM90.6 92.2h0.8v0.8h-0.8zM85.6 99.6h0.8v0.8h-0.8zM87.2 99.1h0.8v0.8h-0.8zM88.6 97.7h0.8v0.8h-0.8zM83.9 106.1h0.8v0.8h-0.8zM83.0 96.8h0.8v0.8h-0.8zM81.5 91.1h0.8v0.8h-0.8zM89.8 98.7h0.8v0.8h-0.8zM86.2 102.1h0.8v0.8h-0.8zM85.9 103.7h0.8v0.8h-0.8zM98.2 101.4h0.8v0.8h-0.8zM85.3 110.4h0.8v0.8h-0.8zM91.4 87.5h0.8v0.8h-0.8zM95.3 100.5h0.8v0.8h-0.8zM92.3 91.0h0.8v0.8h-0.8zM81.7 94.5h0.8v0.8h-0.8zM90.4 91.2h0.8v0.8h-0.8zM82.6 105.6h0.8v0.8h-0.8zM83.0 99.8h0.8v0.8h-0.8zM81.4 87.3h0.8v0.8h-0.8zM86.5 98.2h0.8v0.8h-0.8zM78.1 105.7h0.8v0.8h-0.8zM92.1 105.1h0.8v0.8h-0.8zM83.8 91.1h0.8v0.8h-0.8zM86.4 100.1h0.8v0.8h-0.8zM85.9 95.0h0.8v0.8h-0.8zM80.8 93.9h0.8v0.8h-0.8zM86.5 95.6h0.8v0.8h-0.8zM97.3 97.1h0.8v0.8h-0.8zM89.8 95.8h0.8v0.8h-0.8zM85.9 92.3h0.8v0.8h-0.8zM84.0 88.7h0.8v0.8h-0.8zM74.1 108.2h0.8v0.8h-0.8zM80.5 102.0h0.8v0.8h-0.8zM86.2 95.1h0.8v0.8h-0.8zM91.5 95.2h0.8v0.8h-0.8zM89.7 96.5h0.8v0.8h-0.8zM93.0 105.6h0.8v0.8h-0.8zM87.4 106.5h0.8v0.8h-0.8zM90.1 109.7h0.8v0.8h-0.8zM86.2 88.4h0.8v0.8h-0.8zM88.3 100.6h0.8v0.8h-0.8zM84.7 97.6h0.8v0.8h-0.8zM85.3 90.4h0.8v0.8h-0.8zM97.6 93.7h0.8v0.8h-0.8zM80.4 88.1h0.8v0.8h-0.8zM81.8 98.7h0.8v0.8h-0.8zM96.1 103.1h0.8v0.8h-0.8zM82.5 90.5h0.8v0.8h-0.8zM80.1 98.4h0.8v0.8h-0.8zM92.3 95.7h0.8v0.8h-0.8zM96.9 112.3h0.8v0.8h-0.8zM88.0 84.1h0.8v0.8h-0.8zM93.7 98.3h0.8v0.8h-0.8zM91.1 105.8h0.8v0.8h-0.8zM80.8 99.4h0.8v0.8h-0.8zM88.1 93.8h0.8v0.8h-0.8zM91.3 98.1h0.8v0.8h-0.8zM84.5 111.9h0.8v0.8h-0.8zM88.0 110.2h0.8v0.8h-0.8zM86.0 106.1h0.8v0.8h-0.8zM82.3 100.0h0.8v0.8h-0.8zM93.7 84.1h0.8v0.8h-0.8zM90.3 97.1h0.8v0.8h-0.8zM93.7 100.2h0.8v0.8h-0.8zM86.5 90.2h0.8v0.8h-0.8zM105.1 93.9h0.8v0.8h-0.8zM85.0 94.0h0.8v0.8h-0.8zM85.1 100.5h0.8v0.8h-0.8zM78.7 106.2h0.8v0.8h-0.8zM85.4 103.1h0.8v0.8h-0.8zM74.0 95.4h0.8v0.8h-0.8zM85.1 96.3h0.8v0.8h-0.8zM82.9 101.1h0.8v0.8h-0.8zM89.5 92.3h0.8v0.8h-0.8zM74.9 104.0h0.8v0.8h-0.8zM85.0 106.3h0.8v0.8h-0.8zM92.3 98.3h0.8v0.8h-0.8zM78.2 96.5h0.8v0.8h-0.8zM82.5 107.5h0.8v0.8h-0.8zM76.5 105.3h0.8v0.8h-0.8zM77.5 95.1h0.8v0.8h-0.8zM78.3 94.2h0.8v0.8h-0.8zM84.3 101.5h0.8v0.8h-0.8zM83.3 103.7h0.8v0.8h-0.8zM97.7 100.1h0.8v0.8h-0.8zM79.9 97.8h0.8v0.8h-0.8zM86.3 96.5h0.8v0.8h-0.8zM94.1 106.9h0.8v0.8h-0.8zM99.3 102.6h0.8v0.8h-0.8zM70.6 98.1h0.8v0.8h-0.8zM91.1 93.5h0.8v0.8h-0.8zM83.3 105.2h0.8v0.8h-0.8zM87.9 91.3h0.8v0.8h-0.8zM83.4 77.8h0.8v0.8h-0.8zM86.9 90.6h0.8v0.8h-0.8zM86.6 90.8h0.8v0.8h-0.8zM81.3 95.4h0.8v0.8h-0.8zM104.1 90.8h0.8v0.8h-0.8zM79.7 95.3h0.8v0.8h-0.8zM93.5 104.5h0.8v0.8h-0.8zM91.2 96.8h0.8v0.8h-0.8zM87.7 93.7h0.8v0.8h-0.8zM85.8 93.4h0.8v0.8h-0.8zM78.0 92.2h0.8v0.8h-0.8zM98.8 101.7h0.8v0.8h-0.8zM82.3 98.2h0.8v0.8h-0.8zM84.2 107.3h0.8v0.8h-0.8zM86.8 94.6h0.8v0.8h-0.8zM91.1 101.2h0.8v0.8h-0.8zM82.8 93.7h0.8v0.8h-0.8zM87.8 87.8h0.8v0.8h-0.8zM81.3 105.9h0.8v0.8h-0.8zM92.3 106.6h0.8v0.8h-0.8zM84.2 94.9h0.8v0.8h-0.8zM85.3 95.7h0.8v0.8h-0.8zM94.8 97.4h0.8v0.8h-0.8zM95.3 94.1h0.8v0.8h-0.8zM89.3 110.1h0.8v0.8h-0.8zM82.4 94.5h0.8v0.8h-0.8zM83.3 87.9h0.8v0.8h-0.8zM85.1 94.6h0.8v0.8h-0.8zM100.5 95.7h0.8v0.8h-0.8zM73.8 105.4h0.8v0.8h-0.8zM92.8 98.7h0.8v0.8h-0.8zM88.7 103.9h0.8v0.8h-0.8zM83.5 99.3h0.8v0.8h-0.8zM87.8 110.3h0.8v0.8h-0.8zM95.6 100.1h0.8v0.8h-0.8zM78.7 105.0h0.8v0.8h-0.8zM86.6 107.0h0.8v0.8h-0.8zM87.3 100.2h0.8v0.8h-0.8zM91.0 94.0h0.8v0.8h-0.8zM82.9 114.7h0.8v0.8h-0.8zM81.6 105.4h0.8v0.8h-0.8zM91.1 104.6h0.8v0.8h-0.8zM95.3 89.8h0.8v0.8h-0.8zM92.8 84.9h0.8v0.8h-0.8zM87.2 101.3h0.8v0.8h-0.8zM93.2 106.4h0.8v0.8h-0.8zM81.2 97.1h0.8v0.8h-0.8zM86.0 94.2h0.8v0.8h-0.8zM81.9 94.4h0.8v0.8h-0.8zM94.0 108.3h0.8v0.8h-0.8zM91.5 110.5h0.8v0.8h-0.8zM87.5 91.5h0.8v0.8h-0.8zM82.9 100.4h0.8v0.8h-0.8zM93.2 107.3h0.8v0.8h-0.8zM81.4 105.5h0.8v0.8h-0.8zM83.7 103.1h0.8v0.8h-0.8zM92.6 109.1h0.8v0.8h-0.8zM83.7 100.6h0.8v0.8h-0.8zM89.5 96.1h0.8v0.8h-0.8zM87.5 103.1h0.8v0.8h-0.8zM76.8 94.6h0.8v0.8h-0.8zM101.1 102.1h0.8v0.8h-0.8zM83.5 86.4h0.8v0.8h-0.8zM81.0 102.5h0.8v0.8h-0.8zM91.1 102.0h0.8v0.8h-0.8zM90.6 94.8h0.8v0.8h-0.8zM96.7 91.3h0.8v0.8h-0.8zM90.0 97.2h0.8v0.8h-0.8zM76.4 105.2h0.8v0.8h-0.8zM85.2 103.9h0.8v0.8h-0.8zM94.7 100.1h0.8v0.8h-0.8zM82.9 97.5h0.8v0.8h-0.8zM86.5 108.9h0.8v0.8h-0.8zM92.2 109.9h0.8v0.8h-0.8zM91.6 93.7h0.8v0.8h-0.8zM92.6 105.6h0.8v0.8h-0.8zM86.2 102.2h0.8v0.8h-0.8zM85.0 90.3h0.8v0.8h-0.8zM86.4 104.2h0.8v0.8h-0.8zM84.7 83.6h0.8v0.8h-0.8zM82.0 106.5h0.8v0.8h-0.8zM88.3 106.7h0.8v0.8h-0.8zM82.3 96.1h0.8v0.8h-0.8zM80.8 93.6h0.8v0.8h-0.8zM90.0 99.9h0.8v0.8h-0.8zM83.9 101.0h0.8v0.8h-0.8zM78.9 96.3h0.8v0.8h-0.8zM77.7 88.7h0.8v0.8h-0.8zM78.6 91.4h0.8v0.8h-0.8zM96.6 108.4h0.8v0.8h-0.8zM94.6 95.0h0.8v0.8h-0.8zM90.7 91.2h0.8v0.8h-0.8zM83.6 100.7h0.8v0.8h-0.8zM77.1 100.3h0.8v0.8h-0.8zM90.7 84.7h0.8v0.8h-0.8zM71.9 97.1h0.8v0.8h-0.8zM86.2 100.0h0.8v0.8h-0.8zM80.0 102.9h0.8v0.8h-0.8zM87.7 93.9h0.8v0.8h-0.8zM97.0 100.8h0.8v0.8h-0.8zM91.4 111.8h0.8v0.8h-0.8zM83.9 97.5h0.8v0.8h-0.8zM76.3 97.4h0.8v0.8h-0.8zM89.6 116.2h0.8v0.8h-0.8zM90.3 100.4h0.8v0.8h-0.8zM79.2 93.1h0.8v0.8h-0.8zM75.6 89.5h0.8v0.8h-0.8zM87.6 101.0h0.8v0.8h-0.8zM81.3 97.5h0.8v0.8h-0.8zM82.0 103.3h0.8v0.8h-0.8zM90.8 95.1h0.8v0.8h-0.8zM84.1 90.5h0.8v0.8h-0.8zM84.0 114.1h0.8v0.8h-0.8zM86.8 104.9h0.8v0.8h-0.8zM90.5 109.2h0.8v0.8h-0.8zM84.9 92.7h0.8v0.8h-0.8zM93.3 105.3h0.8v0.8h-0.8zM82.8 106.6h0.8v0.8h-0.8zM86.8 98.7h0.8v0.8h-0.8zM98.2 102.7h0.8v0.8h-0.8zM88.8 96.8h0.8v0.8h-0.8zM88.1 106.3h0.8v0.8h-0.8zM89.7 93.8h0.8v0.8h-0.8zM89.6 98.2h0.8v0.8h-0.8zM88.8 97.7h0.8v0.8h-0.8zM73.5 87.8h0.8v0.8h-0.8zM84.5 83.7h0.8v0.8h-0.8zM77.7 113.0h0.8v0.8h-0.8zM91.1 95.8h0.8v0.8h-0.8zM88.9 83.5h0.8v0.8h-0.8zM88.4 105.8h0.8v0.8h-0.8zM88.1 89.9h0.8v0.8h-0.8zM92.8 95.3h0.8v0.8h-0.8zM83.4 100.4h0.8v0.8h-0.8zM85.0 113.1h0.8v0.8h-0.8zM86.0 113.9h0.8v0.8h-0.8zM89.7 90.4h0.8v0.8h-0.8zM86.9 99.4h0.8v0.8h-0.8zM95.7 107.9h0.8v0.8h-0.8zM102.6 94.4h0.8v0.8h-0.8zM84.2 115.2h0.8v0.8h-0.8zM81.4 101.5h0.8v0.8h-0.8zM96.8 92.0h0.8v0.8h-0.8zM84.8 93.8h0.8v0.8h-0.8zM90.1 101.8h0.8v0.8h-0.8zM86.7 103.6h0.8v0.8h-0.8zM82.1 96.4h0.8v0.8h-0.8zM89.8 113.0h0.8v0.8h-0.8zM86.7 99.4h0.8v0.8h-0.8zM95.0 99.5h0.8v0.8h-0.8zM94.9 100.7h0.8v0.8h-0.8zM94.0 100.3h0.8v0.8h-0.8zM81.2 93.1h0.8v0.8h-0.8zM89.5 112.1h0.8v0.8h-0.8zM98.4 96.8h0.8v0.8h-0.8zM102.3 91.3h0.8v0.8h-0.8zM81.7 105.5h0.8v0.8h-0.8zM77.5 105.3h0.8v0.8h-0.8zM89.2 103.4h0.8v0.8h-0.8zM79.5 101.7h0.8v0.8h-0.8zM92.7 98.6h0.8v0.8h-0.8zM93.2 99.2h0.8v0.8h-0.8zM89.0 96.8h0.8v0.8h-0.8zM78.5 97.9h0.8v0.8h-0.8zM90.0 93.7h0.8v0.8h-0.8zM74.9 88.2h0.8v0.8h-0.8zM95.0 97.4h0.8v0.8h-0.8zM82.2 107.6h0.8v0.8h-0.8zM85.8 88.5h0.8v0.8h-0.8zM84.2 92.9h0.8v0.8h-0.8zM85.8 92.6h0.8v0.8h-0.8zM87.3 102.2h0.8v0.8h-0.8zM83.4 97.6h0.8v0.8h-0.8zM85.9 104.8h0.8v0.8h-0.8zM82.5 104.2h0.8v0.8h-0.8zM94.6 97.6h0.8v0.8h-0.8zM80.9 96.8h0.8v0.8h-0.8zM76.0 95.2h0.8v0.8h-0.8zM79.5 97.8h0.8v0.8h-0.8zM84.6 102.6h0.8v0.8h-0.8zM87.6 101.9h0.8v0.8h-0.8zM86.6 101.0h0.8v0.8h-0.8zM79.9 103.6h0.8v0.8h-0.8zM95.0 106.8h0.8v0.8h-0.8zM78.6 101.9h0.8v0.8h-0.8zM76.9 104.3h0.8v0.8h-0.8zM85.6 95.8h0.8v0.8h-0.8zM82.3 97.3h0.8v0.8h-0.8zM86.9 92.3h0.8v0.8h-0.8zM87.3 100.8h0.8v0.8h-0.8zM90.2 98.7h0.8v0.8h-0.8zM86.9 115.2h0.8v0.8h-0.8zM93.1 101.3h0.8v0.8h-0.8zM78.3 103.3h0.8v0.8h-0.8zM90.5 80.4h0.8v0.8h-0.8zM85.9 101.7h0.8v0.8h-0.8zM87.1 99.7h0.8v0.8h-0.8zM86.0 108.7h0.8v0.8h-0.8zM89.3 97.0h0.8v0.8h-0.8zM85.5 113.6h0.8v0.8h-0.8zM81.6 95.3h0.8v0.8h-0.8zM88.9 100.0h0.8v0.8h-0.8zM88.8 108.5h0.8v0.8h-0.8zM94.0 101.9h0.8v0.8h-0.8zM87.2 98.6h0.8v0.8h-0.8zM85.5 106.0h0.8v0.8h-0.8zM79.1 91.7h0.8v0.8h-0.8zM84.1 92.3h0.8v0.8h-0.8zM82.4 107.4h0.8v0.8h-0.8zM73.0 103.0h0.8v0.8h-0.8zM78.8 97.3h0.8v0.8h-0.8zM83.4 92.1h0.8v0.8h-0.8zM77.7 99.5h0.8v0.8h-0.8zM68.5 84.2h0.8v0.8h-0.8zM84.5 106.7h0.8v0.8h-0.8zM98.4 97.0h0.8v0.8h-0.8zM81.9 97.0h0.8v0.8h-0.8zM89.8 105.5h0.8v0.8h-0.8zM81.0 102.3h0.8v0.8h-0.8zM86.7 107.0h0.8v0.8h-0.8zM84.4 97.5h0.8v0.8h-0.8zM81.6 89.7h0.8v0.8h-0.8zM88.6 104.0h0.8v0.8h-0.8zM93.9 100.9h0.8v0.8h-0.8zM84.1 92.6h0.8v0.8h-0.8zM79.7 93.9h0.8v0.8h-0.8zM89.0 99.6h0.8v0.8h-0.8zM72.7 98.3h0.8v0.8h-0.8zM85.1 91.7h0.8v0.8h-0.8zM86.8 102.7h0.8v0.8h-0.8zM80.5 89.5h0.8v0.8h-0.8zM84.9 100.8h0.8v0.8h-0.8zM85.3 109.8h0.8v0.8h-0.8zM87.8 92.0h0.8v0.8h-0.8zM91.8 94.5h0.8v0.8h-0.8zM91.2 99.7h0.8v0.8h-0.8zM94.6 92.0h0.8v0.8h-0.8zM91.4 102.0h0.8v0.8h-0.8zM81.3 103.9h0.8v0.8h-0.8zM101.0 101.5h0.8v0.8h-0.8zM82.2 97.9h0.8v0.8h-0.8zM95.0 100.8h0.8v0.8h-0.8zM96.2 94.4h0.8v0.8h-0.8zM95.1 88.0h0.8v0.8h-0.8zM85.9 96.9h0.8v0.8h-0.8zM83.9 107.6h0.8v0.8h-0.8zM83.2 101.5h0.8v0.8h-0.8zM98.5 104.8h0.8v0.8h-0.8zM84.4 93.9h0.8v0.8h-0.8zM74.4 101.7h0.8v0.8h-0.8zM92.5 106.8h0.8v0.8h-0.8zM88.5 114.1h0.8v0.8h-0.8zM91.8 82.8h0.8v0.8h-0.8zM81.4 104.6h0.8v0.8h-0.8zM84.5 104.9h0.8v0.8h-0.8zM103.0 93.7h0.8v0.8h-0.8zM100.8 98.4h0.8v0.8h-0.8zM77.8 99.7h0.8v0.8h-0.8zM92.6 94.9h0.8v0.8h-0.8zM96.8 92.9h0.8v0.8h-0.8zM85.7 105.5h0.8v0.8h-0.8zM85.6 95.1h0.8v0.8h-0.8zM86.8 103.6h0.8v0.8h-0.8zM97.8 108.5h0.8v0.8h-0.8zM98.7 98.8h0.8v0.8h-0.8zM76.6 98.7h0.8v0.8h-0.8zM84.4 92.0h0.8v0.8h-0.8zM83.7 98.5h0.8v0.8h-0.8zM87.3 105.4h0.8v0.8h-0.8zM81.2 107.0h0.8v0.8h-0.8zM87.2 104.1h0.8v0.8h-0.8zM94.8 90.3h0.8v0.8h-0.8zM97.0 94.0h0.8v0.8h-0.8zM89.5 106.6h0.8v0.8h-0.8zM92.7 88.0h0.8v0.8h-0.8zM88.0 107.0h0.8v0.8h-0.8zM86.2 98.4h0.8v0.8h-0.8zM87.4 110.5h0.8v0.8h-0.8zM83.6 92.4h0.8v0.8h-0.8zM80.0 95.3h0.8v0.8h-0.8zM85.5 101.4h0.8v0.8h-0.8zM86.5 87.0h0.8v0.8h-0.8zM77.1 103.8h0.8v0.8h-0.8zM91.5 89.5h0.8v0.8h-0.8zM92.9 82.0h0.8v0.8h-0.8zM101.6 103.1h0.8v0.8h-0.8zM76.6 102.6h0.8v0.8h-0.8zM86.8 95.8h0.8v0.8h-0.8zM84.7 97.4h0.8v0.8h-0.8zM86.3 92.7h0.8v0.8h-0.8zM83.4 102.9h0.8v0.8h-0.8zM90.3 89.7h0.8v0.8h-0.8zM83.9 110.0h0.8v0.8h-0.8zM91.5 110.6h0.8v0.8h-0.8zM78.5 91.7h0.8v0.8h-0.8zM73.3 85.4h0.8v0.8h-0.8zM84.6 91.6h0.8v0.8h-0.8zM80.1 94.1h0.8v0.8h-0.8zM85.8 104.8h0.8v0.8h-0.8zM90.5 86.7h0.8v0.8h-0.8zM96.4 96.7h0.8v0.8h-0.8zM80.7 98.8h0.8v0.8h-0.8zM84.5 89.3h0.8v0.8h-0.8zM96.8 94.9h0.8v0.8h-0.8zM83.2 102.8h0.8v0.8h-0.8zM97.5 102.4h0.8v0.8h-0.8zM81.3 102.1h0.8v0.8h-0.8zM94.0 101.7h0.8v0.8h-0.8zM91.1 95.6h0.8v0.8h-0.8zM86.6 87.2h0.8v0.8h-0.8zM82.5 91.0h0.8v0.8h-0.8zM87.0 109.5h0.8v0.8h-0.8zM72.8 89.7h0.8v0.8h-0.8zM81.1 98.4h0.8v0.8h-0.8zM94.3 93.5h0.8v0.8h-0.8zM82.0 107.5h0.8v0.8h-0.8zM89.3 102.7h0.8v0.8h-0.8zM92.2 93.8h0.8v0.8h-0.8zM88.4 94.4h0.8v0.8h-0.8zM82.4 99.9h0.8v0.8h-0.8zM89.7 90.1h0.8v0.8h-0.8zM82.1 103.3h0.8v0.8h-0.8zM88.0 103.7h0.8v0.8h-0.8zM85.0 93.4h0.8v0.8h-0.8zM91.9 103.2h0.8v0.8h-0.8zM69.1 105.1h0.8v0.8h-0.8zM82.2 103.7h0.8v0.8h-0.8zM96.9 97.0h0.8v0.8h-0.8zM80.9 100.8h0.8v0.8h-0.8zM87.6 103.0h0.8v0.8h-0.8zM78.1 100.7h0.8v0.8h-0.8zM92.6 103.9h0.8v0.8h-0.8zM91.0 107.4h0.8v0.8h-0.8zM81.8 107.6h0.8v0.8h-0.8zM88.3 92.0h0.8v0.8h-0.8zM85.1 100.9h0.8v0.8h-0.8zM89.1 108.5h0.8v0.8h-0.8zM88.2 95.4h0.8v0.8h-0.8zM100.8 96.7h0.8v0.8h-0.8zM81.8 105.5h0.8v0.8h-0.8zM84.4 93.5h0.8v0.8h-0.8zM80.3 107.3h0.8v0.8h-0.8zM80.3 99.7h0.8v0.8h-0.8zM84.1 97.7h0.8v0.8h-0.8zM81.8 100.1h0.8v0.8h-0.8zM90.8 106.4h0.8v0.8h-0.8zM84.7 90.8h0.8v0.8h-0.8zM77.6 99.1h0.8v0.8h-0.8zM71.3 108.4h0.8v0.8h-0.8zM87.2 99.9h0.8v0.8h-0.8zM78.2 94.5h0.8v0.8h-0.8zM82.3 103.8h0.8v0.8h-0.8zM84.4 103.4h0.8v0.8h-0.8zM90.3 85.5h0.8v0.8h-0.8zM85.5 107.9h0.8v0.8h-0.8zM83.8 99.9h0.8v0.8h-0.8zM86.2 90.4h0.8v0.8h-0.8zM100.8 98.1h0.8v0.8h-0.8zM91.0 95.9h0.8v0.8h-0.8zM95.9 107.1h0.8v0.8h-0.8zM94.5 105.7h0.8v0.8h-0.8zM91.4 108.8h0.8v0.8h-0.8zM89.5 100.0h0.8v0.8h-0.8zM92.1 92.8h0.8v0.8h-0.8zM71.0 104.7h0.8v0.8h-0.8zM88.0 94.1h0.8v0.8h-0.8zM85.3 92.4h0.8v0.8h-0.8zM81.7 100.4h0.8v0.8h-0.8zM87.8 104.9h0.8v0.8h-0.8zM86.4 103.5h0.8v0.8h-0.8zM91.3 94.1h0.8v0.8h-0.8zM76.3 94.2h0.8v0.8h-0.8zM85.4 95.3h0.8v0.8h-0.8zM101.0 94.3h0.8v0.8h-0.8zM90.0 93.7h0.8v0.8h-0.8zM91.4 90.2h0.8v0.8h-0.8zM93.0 100.3h0.8v0.8h-0.8zM84.5 90.7h0.8v0.8h-0.8zM97.5 95.0h0.8v0.8h-0.8zM96.1 82.2h0.8v0.8h-0.8zM79.4 111.7h0.8v0.8h-0.8zM98.3 99.2h0.8v0.8h-0.8zM93.3 103.3h0.8v0.8h-0.8zM84.7 100.0h0.8v0.8h-0.8zM79.7 89.7h0.8v0.8h-0.8zM87.8 104.2h0.8v0.8h-0.8zM88.0 90.5h0.8v0.8h-0.8zM92.4 99.7h0.8v0.8h-0.8zM91.8 97.1h0.8v0.8h-0.8zM85.3 106.4h0.8v0.8h-0.8zM95.7 90.7h0.8v0.8h-0.8zM80.0 105.9h0.8v0.8h-0.8zM89.3 99.4h0.8v0.8h-0.8zM80.8 106.2h0.8v0.8h-0.8zM88.2 100.6h0.8v0.8h-0.8zM89.4 95.4h0.8v0.8h-0.8zM89.5 100.0h0.8v0.8h-0.8zM91.5 101.7h0.8v0.8h-0.8z"/>
<path fill="#df3132" fill-opacity="0.78" d="M97.8 82.0h0.8v0.8h-0.8zM98.4 91.7h0.8v0.8h-0.8zM97.1 91.1h0.8v0.8h-0.8zM103.7 92.2h0.8v0.8h-0.8zM109.4 89.8h0.8v0.8h-0.8zM100.4 92.8h0.8v0.8h-0.8zM101.1 91.9h0.8v0.8h-0.8zM98.5 93.1h0.8v0.8h-0.8zM105.7 78.7h0.8v0.8h-0.8zM105.5 87.4h0.8v0.8h-0.8zM98.6 84.4h0.8v0.8h-0.8zM98.4 91.7h0.8v0.8h-0.8zM102.6 87.0h0.8v0.8h-0.8zM102.7 82.8h0.8v0.8h-0.8zM99.7 83.9h0.8v0.8h-0.8zM102.4 81.3h0.8v0.8h-0.8zM98.2 90.8h0.8v0.8h-0.8zM102.9 87.5h0.8v0.8h-0.8zM102.9 86.2h0.8v0.8h-0.8zM95.6 89.3h0.8v0.8h-0.8zM108.5 92.1h0.8v0.8h-0.8zM99.7 98.8h0.8v0.8h-0.8zM96.1 87.6h0.8v0.8h-0.8zM100.5 85.2h0.8v0.8h-0.8zM95.5 84.3h0.8v0.8h-0.8zM105.3 80.2h0.8v0.8h-0.8zM101.3 84.4h0.8v0.8h-0.8zM96.7 88.4h0.8v0.8h-0.8zM106.5 90.9h0.8v0.8h-0.8zM103.7 91.6h0.8v0.8h-0.8zM100.1 89.4h0.8v0.8h-0.8zM106.7 86.7h0.8v0.8h-0.8zM103.0 80.5h0.8v0.8h-0.8zM95.9 80.8h0.8v0.8h-0.8zM103.9 89.7h0.8v0.8h-0.8zM100.1 93.1h0.8v0.8h-0.8zM92.7 90.8h0.8v0.8h-0.8zM100.3 90.5h0.8v0.8h-0.8zM107.6 85.0h0.8v0.8h-0.8zM97.5 87.5h0.8v0.8h-0.8zM102.0 84.2h0.8v0.8h-0.8zM102.0 83.5h0.8v0.8h-0.8zM102.4 85.3h0.8v0.8h-0.8zM109.1 84.4h0.8v0.8h-0.8zM103.2 88.0h0.8v0.8h-0.8zM108.5 84.6h0.8v0.8h-0.8zM96.8 94.0h0.8v0.8h-0.8zM99.5 84.3h0.8v0.8h-0.8zM101.5 82.0h0.8v0.8h-0.8zM103.2 95.2h0.8v0.8h-0.8zM102.0 83.3h0.8v0.8h-0.8zM95.3 88.1h0.8v0.8h-0.8zM98.5 88.6h0.8v0.8h-0.8zM93.3 81.8h0.8v0.8h-0.8zM102.8 89.6h0.8v0.8h-0.8zM90.5 84.4h0.8v0.8h-0.8zM101.8 86.9h0.8v0.8h-0.8zM100.8 84.4h0.8v0.8h-0.8zM101.0 89.3h0.8v0.8h-0.8zM90.0 82.7h0.8v0.8h-0.8zM105.0 87.1h0.8v0.8h-0.8zM107.2 84.3h0.8v0.8h-0.8zM106.6 93.7h0.8v0.8h-0.8zM95.3 98.6h0.8v0.8h-0.8zM103.9 95.8h0.8v0.8h-0.8zM97.2 84.8h0.8v0.8h-0.8zM101.3 92.2h0.8v0.8h-0.8zM103.7 81.2h0.8v0.8h-0.8zM105.9 87.7h0.8v0.8h-0.8zM103.4 86.0h0.8v0.8h-0.8zM103.1 80.6h0.8v0.8h-0.8zM104.7 84.9h0.8v0.8h-0.8zM94.2 86.4h0.8v0.8h-0.8zM99.6 91.1h0.8v0.8h-0.8zM106.2 82.5h0.8v0.8h-0.8zM100.6 86.6h0.8v0.8h-0.8zM103.3 82.3h0.8v0.8h-0.8zM100.0 91.3h0.8v0.8h-0.8zM103.4 95.0h0.8v0.8h-0.8zM108.1 76.6h0.8v0.8h-0.8zM101.2 84.1h0.8v0.8h-0.8zM88.4 90.0h0.8v0.8h-0.8zM104.6 88.0h0.8v0.8h-0.8zM101.8 89.5h0.8v0.8h-0.8zM98.3 92.7h0.8v0.8h-0.8zM106.5 92.9h0.8v0.8h-0.8zM98.9 87.3h0.8v0.8h-0.8zM103.6 91.3h0.8v0.8h-0.8zM97.3 90.2h0.8v0.8h-0.8zM102.9 90.4h0.8v0.8h-0.8zM99.8 86.2h0.8v0.8h-0.8zM94.5 84.2h0.8v0.8h-0.8zM100.2 85.0h0.8v0.8h-0.8zM100.8 85.1h0.8v0.8h-0.8zM101.4 87.4h0.8v0.8h-0.8zM99.3 85.5h0.8v0.8h-0.8zM100.2 88.9h0.8v0.8h-0.8zM103.4 85.8h0.8v0.8h-0.8zM101.0 78.5h0.8v0.8h-0.8zM96.1 87.0h0.8v0.8h-0.8zM95.4 92.8h0.8v0.8h-0.8zM101.3 84.9h0.8v0.8h-0.8zM101.6 84.2h0.8v0.8h-0.8zM98.9 86.3h0.8v0.8h-0.8zM95.9 85.6h0.8v0.8h-0.8zM102.4 82.7h0.8v0.8h-0.8zM104.4 89.8h0.8v0.8h-0.8zM106.3 85.3h0.8v0.8h-0.8zM98.8 79.9h0.8v0.8h-0.8zM98.7 76.4h0.8v0.8h-0.8zM107.7 86.8h0.8v0.8h-0.8zM102.8 84.7h0.8v0.8h-0.8zM98.2 93.7h0.8v0.8h-0.8zM96.7 80.2h0.8v0.8h-0.8zM103.2 83.0h0.8v0.8h-0.8zM101.7 93.5h0.8v0.8h-0.8zM103.3 91.3h0.8v0.8h-0.8zM99.1 91.1h0.8v0.8h-0.8zM100.3 80.5h0.8v0.8h-0.8zM100.8 85.4h0.8v0.8h-0.8zM107.3 84.0h0.8v0.8h-0.8zM106.6 84.9h0.8v0.8h-0.8zM99.5 77.6h0.8v0.8h-0.8zM103.5 80.4h0.8v0.8h-0.8zM102.0 87.3h0.8v0.8h-0.8zM103.0 77.7h0.8v0.8h-0.8zM98.7 88.2h0.8v0.8h-0.8zM93.8 87.6h0.8v0.8h-0.8zM102.2 84.4h0.8v0.8h-0.8zM101.0 90.0h0.8v0.8h-0.8zM102.5 83.3h0.8v0.8h-0.8zM105.2 84.8h0.8v0.8h-0.8zM101.0 91.6h0.8v0.8h-0.8zM103.4 95.6h0.8v0.8h-0.8zM104.7 88.8h0.8v0.8h-0.8zM100.3 87.4h0.8v0.8h-0.8zM98.3 100.8h0.8v0.8h-0.8zM105.0 84.0h0.8v0.8h-0.8zM109.3 81.7h0.8v0.8h-0.8zM107.0 82.4h0.8v0.8h-0.8zM98.2 83.2h0.8v0.8h-0.8zM102.5 80.4h0.8v0.8h-0.8zM103.7 87.1h0.8v0.8h-0.8zM107.8 84.0h0.8v0.8h-0.8zM93.7 87.5h0.8v0.8h-0.8zM98.9 90.9h0.8v0.8h-0.8zM94.9 78.2h0.8v0.8h-0.8zM98.4 95.7h0.8v0.8h-0.8zM100.0 76.7h0.8v0.8h-0.8zM97.4 92.5h0.8v0.8h-0.8zM109.2 82.8h0.8v0.8h-0.8zM102.1 77.8h0.8v0.8h-0.8zM99.8 81.4h0.8v0.8h-0.8zM101.0 92.5h0.8v0.8h-0.8zM110.4 88.3h0.8v0.8h-0.8zM103.9 88.9h0.8v0.8h-0.8zM98.6 95.6h0.8v0.8h-0.8zM101.3 94.7h0.8v0.8h-0.8zM101.0 91.1h0.8v0.8h-0.8zM103.3 87.1h0.8v0.8h-0.8zM99.5 84.1h0.8v0.8h-0.8zM102.0 85.1h0.8v0.8h-0.8zM101.2 83.2h0.8v0.8h-0.8zM104.8 86.9h0.8v0.8h-0.8zM101.2 85.7h0.8v0.8h-0.8zM106.9 86.1h0.8v0.8h-0.8zM107.7 84.8h0.8v0.8h-0.8zM105.8 91.5h0.8v0.8h-0.8zM98.8 88.2h0.8v0.8h-0.8zM106.9 84.1h0.8v0.8h-0.8zM100.0 87.9h0.8v0.8h-0.8zM101.0 85.3h0.8v0.8h-0.8zM100.9 88.2h0.8v0.8h-0.8zM101.7 94.4h0.8v0.8h-0.8zM95.4 99.5h0.8v0.8h-0.8zM97.2 94.3h0.8v0.8h-0.8zM103.2 80.2h0.8v0.8h-0.8zM100.3 84.7h0.8v0.8h-0.8zM108.4 79.2h0.8v0.8h-0.8zM99.2 85.4h0.8v0.8h-0.8zM103.0 89.4h0.8v0.8h-0.8zM104.6 87.2h0.8v0.8h-0.8zM98.5 91.9h0.8v0.8h-0.8zM106.8 90.8h0.8v0.8h-0.8zM103.2 83.2h0.8v0.8h-0.8zM108.2 91.3h0.8v0.8h-0.8zM106.1 80.5h0.8v0.8h-0.8zM99.5 98.5h0.8v0.8h-0.8zM101.0 85.7h0.8v0.8h-0.8zM107.1 88.0h0.8v0.8h-0.8zM101.2 96.6h0.8v0.8h-0.8zM98.5 81.6h0.8v0.8h-0.8zM103.5 88.2h0.8v0.8h-0.8zM101.7 86.1h0.8v0.8h-0.8zM101.2 88.6h0.8v0.8h-0.8zM100.1 85.0h0.8v0.8h-0.8zM103.9 82.3h0.8v0.8h-0.8zM106.4 77.6h0.8v0.8h-0.8zM103.8 87.1h0.8v0.8h-0.8zM94.9 91.3h0.8v0.8h-0.8zM93.8 94.5h0.8v0.8h-0.8zM96.7 91.3h0.8v0.8h-0.8zM98.5 93.9h0.8v0.8h-0.8zM98.8 91.1h0.8v0.8h-0.8zM103.2 78.0h0.8v0.8h-0.8zM101.9 89.5h0.8v0.8h-0.8zM100.0 94.8h0.8v0.8h-0.8zM101.0 79.5h0.8v0.8h-0.8zM103.3 84.1h0.8v0.8h-0.8zM100.9 86.7h0.8v0.8h-0.8zM96.6 90.6h0.8v0.8h-0.8zM98.0 94.7h0.8v0.8h-0.8zM100.5 91.9h0.8v0.8h-0.8zM101.3 83.5h0.8v0.8h-0.8zM100.9 82.2h0.8v0.8h-0.8zM102.7 88.0h0.8v0.8h-0.8zM100.0 78.6h0.8v0.8h-0.8zM101.2 77.6h0.8v0.8h-0.8zM100.6 78.9h0.8v0.8h-0.8zM105.7 82.6h0.8v0.8h-0.8zM99.4 85.5h0.8v0.8h-0.8zM100.7 88.8h0.8v0.8h-0.8zM103.0 90.7h0.8v0.8h-0.8zM98.1 92.0h0.8v0.8h-0.8zM103.8 84.1h0.8v0.8h-0.8zM108.5 83.5h0.8v0.8h-0.8zM100.9 93.0h0.8v0.8h-0.8zM101.2 88.5h0.8v0.8h-0.8zM100.7 90.0h0.8v0.8h-0.8zM102.1 87.1h0.8v0.8h-0.8zM106.9 79.3h0.8v0.8h-0.8zM102.7 85.8h0.8v0.8h-0.8zM107.8 90.6h0.8v0.8h-0.8zM97.9 88.9h0.8v0.8h-0.8zM101.9 81.0h0.8v0.8h-0.8zM99.5 88.7h0.8v0.8h-0.8zM103.8 93.0h0.8v0.8h-0.8zM102.4 86.4h0.8v0.8h-0.8zM100.1 92.5h0.8v0.8h-0.8zM99.0 91.8h0.8v0.8h-0.8zM98.5 85.7h0.8v0.8h-0.8zM102.9 91.0h0.8v0.8h-0.8zM102.9 84.8h0.8v0.8h-0.8zM95.7 82.6h0.8v0.8h-0.8zM99.0 83.9h0.8v0.8h-0.8zM108.2 85.4h0.8v0.8h-0.8zM104.3 87.8h0.8v0.8h-0.8zM97.2 85.9h0.8v0.8h-0.8zM105.9 82.5h0.8v0.8h-0.8zM97.8 83.6h0.8v0.8h-0.8zM104.9 85.1h0.8v0.8h-0.8zM102.1 89.4h0.8v0.8h-0.8zM100.6 88.8h0.8v0.8h-0.8zM106.1 87.6h0.8v0.8h-0.8zM104.2 82.5h0.8v0.8h-0.8zM98.9 85.4h0.8v0.8h-0.8zM105.3 84.9h0.8v0.8h-0.8zM94.9 89.2h0.8v0.8h-0.8zM113.9 78.4h0.8v0.8h-0.8zM97.4 86.0h0.8v0.8h-0.8zM104.6 83.2h0.8v0.8h-0.8zM100.7 92.2h0.8v0.8h-0.8zM99.2 89.7h0.8v0.8h-0.8zM103.3 82.8h0.8v0.8h-0.8zM100.1 83.3h0.8v0.8h-0.8zM104.1 93.7h0.8v0.8h-0.8zM104.7 80.2h0.8v0.8h-0.8zM100.2 84.4h0.8v0.8h-0.8zM94.6 84.3h0.8v0.8h-0.8zM104.5 81.3h0.8v0.8h-0.8zM100.6 84.2h0.8v0.8h-0.8zM106.7 92.1h0.8v0.8h-0.8zM103.9 88.2h0.8v0.8h-0.8zM95.3 89.3h0.8v0.8h-0.8zM102.1 77.4h0.8v0.8h-0.8zM104.4 86.2h0.8v0.8h-0.8zM100.5 89.1h0.8v0.8h-0.8zM99.8 88.3h0.8v0.8h-0.8zM106.4 87.0h0.8v0.8h-0.8zM100.0 86.4h0.8v0.8h-0.8zM104.2 85.9h0.8v0.8h-0.8zM102.7 83.9h0.8v0.8h-0.8zM100.2 89.1h0.8v0.8h-0.8zM98.7 85.0h0.8v0.8h-0.8zM97.3 81.8h0.8v0.8h-0.8zM100.7 89.3h0.8v0.8h-0.8zM97.9 85.1h0.8v0.8h-0.8zM97.6 87.0h0.8v0.8h-0.8zM101.5 89.1h0.8v0.8h-0.8zM102.9 80.2h0.8v0.8h-0.8zM101.5 80.1h0.8v0.8h-0.8zM99.0 85.7h0.8v0.8h-0.8zM106.1 85.3h0.8v0.8h-0.8zM98.3 86.7h0.8v0.8h-0.8zM90.9 93.0h0.8v0.8h-0.8zM94.3 89.4h0.8v0.8h-0.8zM103.2 92.3h0.8v0.8h-0.8zM99.8 89.9h0.8v0.8h-0.8zM98.6 90.6h0.8v0.8h-0.8zM100.4 82.4h0.8v0.8h-0.8zM103.4 85.3h0.8v0.8h-0.8zM105.0 83.8h0.8v0.8h-0.8zM103.8 82.8h0.8v0.8h-0.8zM97.5 96.2h0.8v0.8h-0.8zM99.6 80.0h0.8v0.8h-0.8zM96.1 83.8h0.8v0.8h-0.8zM107.7 86.9h0.8v0.8h-0.8zM104.8 87.2h0.8v0.8h-0.8zM95.9 94.9h0.8v0.8h-0.8zM108.0 80.0h0.8v0.8h-0.8zM97.2 87.4h0.8v0.8h-0.8zM103.9 86.6h0.8v0.8h-0.8zM101.5 89.6h0.8v0.8h-0.8zM98.5 90.8h0.8v0.8h-0.8zM97.1 89.1h0.8v0.8h-0.8zM104.2 88.9h0.8v0.8h-0.8zM100.1 86.3h0.8v0.8h-0.8zM93.2 85.1h0.8v0.8h-0.8zM99.6 76.1h0.8v0.8h-0.8zM105.4 83.7h0.8v0.8h-0.8zM102.5 87.5h0.8v0.8h-0.8zM96.7 80.6h0.8v0.8h-0.8zM99.6 88.5h0.8v0.8h-0.8zM103.6 81.3h0.8v0.8h-0.8zM99.3 86.6h0.8v0.8h-0.8zM97.6 83.2h0.8v0.8h-0.8zM102.8 76.7h0.8v0.8h-0.8zM105.9 92.9h0.8v0.8h-0.8zM98.2 90.4h0.8v0.8h-0.8zM95.2 92.3h0.8v0.8h-0.8zM99.8 87.0h0.8v0.8h-0.8zM99.2 86.5h0.8v0.8h-0.8zM102.4 87.4h0.8v0.8h-0.8zM97.2 89.1h0.8v0.8h-0.8zM103.2 87.5h0.8v0.8h-0.8zM106.1 84.9h0.8v0.8h-0.8zM106.0 87.7h0.8v0.8h-0.8zM107.3 86.8h0.8v0.8h-0.8zM100.1 87.4h0.8v0.8h-0.8zM102.8 94.6h0.8v0.8h-0.8zM100.9 83.0h0.8v0.8h-0.8zM101.9 93.3h0.8v0.8h-0.8zM104.3 86.2h0.8v0.8h-0.8zM105.8 88.3h0.8v0.8h-0.8zM100.9 89.8h0.8v0.8h-0.8zM103.0 76.0h0.8v0.8h-0.8zM100.9 90.3h0.8v0.8h-0.8zM101.9 89.8h0.8v0.8h-0.8zM100.2 91.6h0.8v0.8h-0.8zM99.3 93.6h0.8v0.8h-0.8zM100.2 90.4h0.8v0.8h-0.8zM98.9 87.5h0.8v0.8h-0.8zM102.5 88.0h0.8v0.8h-0.8zM106.6 89.0h0.8v0.8h-0.8zM104.6 89.8h0.8v0.8h-0.8zM106.5 84.2h0.8v0.8h-0.8zM98.5 90.6h0.8v0.8h-0.8zM97.8 87.5h0.8v0.8h-0.8zM102.9 88.4h0.8v0.8h-0.8zM101.9 89.8h0.8v0.8h-0.8zM99.8 88.3h0.8v0.8h-0.8zM100.2 84.2h0.8v0.8h-0.8zM96.0 84.4h0.8v0.8h-0.8zM95.4 84.8h0.8v0.8h-0.8zM103.8 82.2h0.8v0.8h-0.8zM101.1 88.2h0.8v0.8h-0.8zM101.6 82.3h0.8v0.8h-0.8zM100.3 88.5h0.8v0.8h-0.8zM101.4 96.6h0.8v0.8h-0.8zM93.9 85.8h0.8v0.8h-0.8zM103.8 84.5h0.8v0.8h-0.8zM99.0 96.5h0.8v0.8h-0.8zM99.5 93.0h0.8v0.8h-0.8zM105.7 86.2h0.8v0.8h-0.8zM91.4 89.1h0.8v0.8h-0.8zM109.5 80.9h0.8v0.8h-0.8zM101.7 83.5h0.8v0.8h-0.8zM101.9 87.3h0.8v0.8h-0.8zM106.2 85.6h0.8v0.8h-0.8zM110.7 81.6h0.8v0.8h-0.8zM97.7 99.0h0.8v0.8h-0.8zM99.9 89.5h0.8v0.8h-0.8zM94.3 100.9h0.8v0.8h-0.8zM105.0 86.4h0.8v0.8h-0.8zM94.3 85.3h0.8v0.8h-0.8zM107.1 78.6h0.8v0.8h-0.8zM98.7 88.7h0.8v0.8h-0.8zM93.3 82.9h0.8v0.8h-0.8zM98.0 78.8h0.8v0.8h-0.8zM100.9 92.4h0.8v0.8h-0.8zM106.4 85.3h0.8v0.8h-0.8zM105.9 79.6h0.8v0.8h-0.8zM95.3 87.4h0.8v0.8h-0.8zM101.6 81.8h0.8v0.8h-0.8zM95.2 83.4h0.8v0.8h-0.8zM112.3 80.6h0.8v0.8h-0.8zM95.9 90.5h0.8v0.8h-0.8zM95.7 81.6h0.8v0.8h-0.8zM99.7 91.9h0.8v0.8h-0.8zM98.1 94.8h0.8v0.8h-0.8zM101.4 86.3h0.8v0.8h-0.8zM102.3 88.9h0.8v0.8h-0.8zM97.7 80.7h0.8v0.8h-0.8zM99.9 88.0h0.8v0.8h-0.8zM98.2 82.1h0.8v0.8h-0.8zM98.2 87.4h0.8v0.8h-0.8zM98.8 89.0h0.8v0.8h-0.8zM104.1 83.2h0.8v0.8h-0.8zM102.3 80.9h0.8v0.8h-0.8zM100.4 90.6h0.8v0.8h-0.8zM100.8 77.7h0.8v0.8h-0.8zM103.6 86.2h0.8v0.8h-0.8zM100.5 88.8h0.8v0.8h-0.8zM101.1 91.4h0.8v0.8h-0.8zM103.3 76.4h0.8v0.8h-0.8zM100.1 84.8h0.8v0.8h-0.8zM99.2 88.0h0.8v0.8h-0.8zM98.3 92.3h0.8v0.8h-0.8zM99.1 86.0h0.8v0.8h-0.8zM96.6 95.8h0.8v0.8h-0.8zM99.6 81.1h0.8v0.8h-0.8zM98.7 89.7h0.8v0.8h-0.8zM101.6 86.0h0.8v0.8h-0.8zM99.6 75.7h0.8v0.8h-0.8zM100.9 85.5h0.8v0.8h-0.8zM106.8 90.7h0.8v0.8h-0.8zM101.2 91.7h0.8v0.8h-0.8zM100.2 80.2h0.8v0.8h-0.8zM97.6 93.0h0.8v0.8h-0.8zM105.7 85.4h0.8v0.8h-0.8zM95.5 89.4h0.8v0.8h-0.8zM106.9 83.3h0.8v0.8h-0.8zM108.2 85.4h0.8v0.8h-0.8zM104.2 86.8h0.8v0.8h-0.8zM101.2 83.6h0.8v0.8h-0.8zM102.7 90.5h0.8v0.8h-0.8zM104.6 86.6h0.8v0.8h-0.8zM94.8 95.3h0.8v0.8h-0.8zM107.6 88.1h0.8v0.8h-0.8zM94.9 92.1h0.8v0.8h-0.8zM101.7 87.2h0.8v0.8h-0.8zM103.7 89.5h0.8v0.8h-0.8zM98.4 95.9h0.8v0.8h-0.8zM93.7 87.3h0.8v0.8h-0.8zM97.7 85.9h0.8v0.8h-0.8zM100.3 87.8h0.8v0.8h-0.8zM91.7 86.8h0.8v0.8h-0.8zM110.1 87.9h0.8v0.8h-0.8zM103.4 90.8h0.8v0.8h-0.8zM103.2 84.9h0.8v0.8h-0.8zM103.1 88.8h0.8v0.8h-0.8zM105.0 92.4h0.8v0.8h-0.8zM103.6 72.8h0.8v0.8h-0.8zM105.8 90.9h0.8v0.8h-0.8zM102.9 84.3h0.8v0.8h-0.8zM107.9 96.0h0.8v0.8h-0.8zM102.2 85.3h0.8v0.8h-0.8zM101.1 93.6h0.8v0.8h-0.8zM101.6 91.7h0.8v0.8h-0.8zM101.6 88.7h0.8v0.8h-0.8zM96.7 85.7h0.8v0.8h-0.8zM101.6 86.5h0.8v0.8h-0.8zM100.0 87.9h0.8v0.8h-0.8zM99.6 85.2h0.8v0.8h-0.8zM92.9 95.5h0.8v0.8h-0.8zM100.1 80.3h0.8v0.8h-0.8zM100.1 84.2h0.8v0.8h-0.8zM101.5 74.5h0.8v0.8h-0.8zM105.4 93.5h0.8v0.8h-0.8zM99.1 88.8h0.8v0.8h-0.8zM100.0 78.1h0.8v0.8h-0.8zM101.5 89.8h0.8v0.8h-0.8zM98.9 85.9h0.8v0.8h-0.8zM90.7 82.3h0.8v0.8h-0.8zM104.7 88.9h0.8v0.8h-0.8zM101.0 89.6h0.8v0.8h-0.8zM96.1 78.3h0.8v0.8h-0.8zM96.4 86.3h0.8v0.8h-0.8zM102.2 77.5h0.8v0.8h-0.8zM104.8 87.1h0.8v0.8h-0.8zM101.5 97.1h0.8v0.8h-0.8zM97.5 78.9h0.8v0.8h-0.8zM102.8 94.5h0.8v0.8h-0.8zM102.1 88.9h0.8v0.8h-0.8zM102.7 90.6h0.8v0.8h-0.8zM95.6 88.5h0.8v0.8h-0.8zM105.5 86.3h0.8v0.8h-0.8zM98.9 83.4h0.8v0.8h-0.8zM98.4 88.4h0.8v0.8h-0.8zM104.0 87.9h0.8v0.8h-0.8zM103.1 78.4h0.8v0.8h-0.8zM101.4 81.8h0.8v0.8h-0.8zM98.8 87.6h0.8v0.8h-0.8zM96.1 102.8h0.8v0.8h-0.8zM99.1 83.3h0.8v0.8h-0.8zM97.7 84.2h0.8v0.8h-0.8zM98.6 90.9h0.8v0.8h-0.8zM92.9 88.4h0.8v0.8h-0.8zM104.4 85.3h0.8v0.8h-0.8zM98.5 86.8h0.8v0.8h-0.8zM103.4 86.8h0.8v0.8h-0.8zM100.7 86.7h0.8v0.8h-0.8zM97.0 86.6h0.8v0.8h-0.8zM103.3 87.8h0.8v0.8h-0.8zM97.3 85.3h0.8v0.8h-0.8zM100.4 88.1h0.8v0.8h-0.8zM98.5 90.0h0.8v0.8h-0.8zM103.8 91.9h0.8v0.8h-0.8zM100.1 92.6h0.8v0.8h-0.8zM101.4 86.0h0.8v0.8h-0.8zM96.2 85.0h0.8v0.8h-0.8zM107.2 84.1h0.8v0.8h-0.8zM106.1 82.1h0.8v0.8h-0.8zM99.4 95.3h0.8v0.8h-0.8zM103.3 81.6h0.8v0.8h-0.8zM102.5 86.5h0.8v0.8h-0.8zM105.0 85.5h0.8v0.8h-0.8zM95.9 82.4h0.8v0.8h-0.8zM101.7 92.1h0.8v0.8h-0.8zM102.2 87.3h0.8v0.8h-0.8zM104.0 86.8h0.8v0.8h-0.8zM99.3 87.2h0.8v0.8h-0.8zM106.0 86.0h0.8v0.8h-0.8zM104.1 84.6h0.8v0.8h-0.8zM98.4 86.6h0.8v0.8h-0.8zM97.9 81.3h0.8v0.8h-0.8zM98.0 82.6h0.8v0.8h-0.8zM94.3 96.0h0.8v0.8h-0.8zM103.3 87.9h0.8v0.8h-0.8zM100.4 74.5h0.8v0.8h-0.8zM103.9 84.6h0.8v0.8h-0.8zM105.6 86.4h0.8v0.8h-0.8zM97.7 82.3h0.8v0.8h-0.8zM98.1 78.6h0.8v0.8h-0.8zM104.7 85.4h0.8v0.8h-0.8zM104.6 85.2h0.8v0.8h-0.8zM101.3 84.1h0.8v0.8h-0.8zM100.4 83.2h0.8v0.8h-0.8zM106.7 88.5h0.8v0.8h-0.8zM91.6 91.8h0.8v0.8h-0.8zM103.9 93.4h0.8v0.8h-0.8zM101.2 86.0h0.8v0.8h-0.8zM99.4 86.7h0.8v0.8h-0.8zM102.9 87.4h0.8v0.8h-0.8zM99.9 81.5h0.8v0.8h-0.8zM104.5 96.4h0.8v0.8h-0.8zM97.9 82.4h0.8v0.8h-0.8zM100.2 89.3h0.8v0.8h-0.8zM100.5 87.7h0.8v0.8h-0.8zM100.7 92.3h0.8v0.8h-0.8zM94.9 89.9h0.8v0.8h-0.8zM102.0 89.7h0.8v0.8h-0.8zM96.3 83.8h0.8v0.8h-0.8zM99.3 89.3h0.8v0.8h-0.8zM102.6 90.7h0.8v0.8h-0.8zM94.7 90.7h0.8v0.8h-0.8zM100.0 91.0h0.8v0.8h-0.8zM102.3 83.7h0.8v0.8h-0.8zM109.5 93.1h0.8v0.8h-0.8zM104.7 85.8h0.8v0.8h-0.8zM98.7 91.4h0.8v0.8h-0.8zM100.1 95.0h0.8v0.8h-0.8zM107.2 83.6h0.8v0.8h-0.8zM93.9 89.9h0.8v0.8h-0.8zM103.8 86.4h0.8v0.8h-0.8zM101.1 84.0h0.8v0.8h-0.8zM107.9 88.4h0.8v0.8h-0.8zM94.9 89.0h0.8v0.8h-0.8zM100.4 88.2h0.8v0.8h-0.8zM99.9 86.1h0.8v0.8h-0.8zM93.7 86.7h0.8v0.8h-0.8zM99.4 84.2h0.8v0.8h-0.8zM100.3 92.8h0.8v0.8h-0.8zM93.8 83.4h0.8v0.8h-0.8zM101.6 91.9h0.8v0.8h-0.8zM97.5 87.0h0.8v0.8h-0.8zM101.2 91.4h0.8v0.8h-0.8zM99.3 85.2h0.8v0.8h-0.8zM97.6 91.1h0.8v0.8h-0.8zM105.8 86.3h0.8v0.8h-0.8zM100.4 87.6h0.8v0.8h-0.8zM98.2 85.1h0.8v0.8h-0.8zM103.1 91.3h0.8v0.8h-0.8zM99.8 83.1h0.8v0.8h-0.8zM103.1 80.3h0.8v0.8h-0.8zM102.1 87.7h0.8v0.8h-0.8zM96.9 84.1h0.8v0.8h-0.8zM99.3 84.8h0.8v0.8h-0.8zM96.0 91.6h0.8v0.8h-0.8zM96.6 88.9h0.8v0.8h-0.8zM99.7 93.3h0.8v0.8h-0.8zM101.0 86.7h0.8v0.8h-0.8zM104.4 78.7h0.8v0.8h-0.8zM110.1 89.0h0.8v0.8h-0.8zM101.9 81.5h0.8v0.8h-0.8zM98.2 93.6h0.8v0.8h-0.8zM97.8 87.7h0.8v0.8h-0.8zM103.4 92.2h0.8v0.8h-0.8zM102.5 78.8h0.8v0.8h-0.8zM101.8 89.8h0.8v0.8h-0.8zM100.7 84.5h0.8v0.8h-0.8zM109.9 82.3h0.8v0.8h-0.8zM100.3 83.5h0.8v0.8h-0.8zM96.7 81.8h0.8v0.8h-0.8zM96.4 91.1h0.8v0.8h-0.8zM97.2 78.6h0.8v0.8h-0.8zM104.6 80.5h0.8v0.8h-0.8zM95.1 81.5h0.8v0.8h-0.8zM98.4 81.1h0.8v0.8h-0.8zM99.9 88.6h0.8v0.8h-0.8zM99.3 84.8h0.8v0.8h-0.8zM104.0 87.1h0.8v0.8h-0.8zM104.8 85.2h0.8v0.8h-0.8zM101.0 92.9h0.8v0.8h-0.8zM91.6 97.9h0.8v0.8h-0.8zM100.6 85.0h0.8v0.8h-0.8zM99.9 88.6h0.8v0.8h-0.8zM96.8 85.4h0.8v0.8h-0.8zM96.9 92.2h0.8v0.8h-0.8zM94.1 87.4h0.8v0.8h-0.8zM101.3 83.2h0.8v0.8h-0.8zM102.1 86.0h0.8v0.8h-0.8zM101.0 87.9h0.8v0.8h-0.8zM106.1 86.7h0.8v0.8h-0.8zM111.4 77.4h0.8v0.8h-0.8zM105.8 94.4h0.8v0.8h-0.8zM106.5 89.7h0.8v0.8h-0.8zM103.8 82.9h0.8v0.8h-0.8zM107.8 83.6h0.8v0.8h-0.8zM98.4 85.8h0.8v0.8h-0.8zM101.5 88.6h0.8v0.8h-0.8zM97.6 83.9h0.8v0.8h-0.8zM101.1 92.5h0.8v0.8h-0.8zM103.3 89.6h0.8v0.8h-0.8zM101.1 84.2h0.8v0.8h-0.8zM99.5 85.8h0.8v0.8h-0.8zM103.9 85.4h0.8v0.8h-0.8zM110.1 85.2h0.8v0.8h-0.8zM104.4 87.0h0.8v0.8h-0.8zM101.3 85.0h0.8v0.8h-0.8zM107.1 87.6h0.8v0.8h-0.8zM103.0 88.1h0.8v0.8h-0.8zM103.0 90.3h0.8v0.8h-0.8zM108.2 85.9h0.8v0.8h-0.8zM95.7 93.0h0.8v0.8h-0.8zM105.6 88.8h0.8v0.8h-0.8zM99.8 87.5h0.8v0.8h-0.8zM107.0 85.3h0.8v0.8h-0.8zM106.5 88.5h0.8v0.8h-0.8zM100.5 84.7h0.8v0.8h-0.8zM93.3 85.5h0.8v0.8h-0.8zM97.4 82.8h0.8v0.8h-0.8zM97.7 86.7h0.8v0.8h-0.8zM103.7 87.9h0.8v0.8h-0.8zM101.2 88.8h0.8v0.8h-0.8zM106.0 91.4h0.8v0.8h-0.8zM106.9 88.6h0.8v0.8h-0.8zM103.5 84.5h0.8v0.8h-0.8zM104.6 84.0h0.8v0.8h-0.8zM103.9 84.8h0.8v0.8h-0.8zM98.1 91.6h0.8v0.8h-0.8zM100.5 90.4h0.8v0.8h-0.8zM103.2 78.6h0.8v0.8h-0.8zM106.7 88.0h0.8v0.8h-0.8zM97.4 90.0h0.8v0.8h-0.8zM98.3 82.2h0.8v0.8h-0.8zM106.4 85.4h0.8v0.8h-0.8zM105.7 87.0h0.8v0.8h-0.8zM100.4 86.9h0.8v0.8h-0.8zM97.8 90.8h0.8v0.8h-0.8zM105.0 88.5h0.8v0.8h-0.8zM102.5 89.9h0.8v0.8h-0.8zM109.7 82.3h0.8v0.8h-0.8zM103.4 92.1h0.8v0.8h-0.8zM100.1 86.5h0.8v0.8h-0.8zM98.1 91.7h0.8v0.8h-0.8zM96.2 87.9h0.8v0.8h-0.8zM104.9 90.9h0.8v0.8h-0.8zM100.2 84.3h0.8v0.8h-0.8zM95.3 79.7h0.8v0.8h-0.8zM106.6 84.2h0.8v0.8h-0.8zM95.8 83.7h0.8v0.8h-0.8zM95.2 86.9h0.8v0.8h-0.8zM96.6 89.8h0.8v0.8h-0.8zM103.0 80.7h0.8v0.8h-0.8zM99.5 83.1h0.8v0.8h-0.8zM96.3 91.0h0.8v0.8h-0.8zM97.1 87.1h0.8v0.8h-0.8zM98.2 88.6h0.8v0.8h-0.8zM98.5 78.3h0.8v0.8h-0.8zM100.8 93.6h0.8v0.8h-0.8zM96.8 83.7h0.8v0.8h-0.8zM100.8 82.2h0.8v0.8h-0.8zM104.6 88.3h0.8v0.8h-0.8zM96.6 84.1h0.8v0.8h-0.8zM107.1 85.6h0.8v0.8h-0.8zM100.7 82.7h0.8v0.8h-0.8zM102.6 84.7h0.8v0.8h-0.8zM105.7 84.5h0.8v0.8h-0.8zM95.3 86.9h0.8v0.8h-0.8zM91.4 78.7h0.8v0.8h-0.8zM101.8 88.3h0.8v0.8h-0.8zM99.8 84.2h0.8v0.8h-0.8zM97.3 103.4h0.8v0.8h-0.8zM98.6 85.1h0.8v0.8h-0.8zM98.7 88.6h0.8v0.8h-0.8zM100.4 89.2h0.8v0.8h-0.8zM107.4 87.8h0.8v0.8h-0.8zM99.6 88.1h0.8v0.8h-0.8zM109.2 88.0h0.8v0.8h-0.8zM105.4 94.1h0.8v0.8h-0.8zM93.0 79.1h0.8v0.8h-0.8zM97.1 87.3h0.8v0.8h-0.8zM105.9 88.8h0.8v0.8h-0.8zM98.4 96.3h0.8v0.8h-0.8zM99.2 96.5h0.8v0.8h-0.8zM95.5 92.7h0.8v0.8h-0.8zM103.2 75.9h0.8v0.8h-0.8zM99.0 83.8h0.8v0.8h-0.8zM99.9 90.0h0.8v0.8h-0.8zM102.9 90.0h0.8v0.8h-0.8zM95.8 93.5h0.8v0.8h-0.8zM105.4 88.6h0.8v0.8h-0.8zM99.3 85.9h0.8v0.8h-0.8zM101.5 83.6h0.8v0.8h-0.8zM102.2 84.0h0.8v0.8h-0.8zM104.5 84.9h0.8v0.8h-0.8zM102.5 88.9h0.8v0.8h-0.8zM101.0 89.3h0.8v0.8h-0.8zM93.6 96.5h0.8v0.8h-0.8zM97.6 89.1h0.8v0.8h-0.8zM102.0 85.0h0.8v0.8h-0.8zM105.7 93.8h0.8v0.8h-0.8zM99.4 88.9h0.8v0.8h-0.8zM101.2 94.5h0.8v0.8h-0.8zM105.1 87.5h0.8v0.8h-0.8zM102.1 81.6h0.8v0.8h-0.8zM100.8 90.9h0.8v0.8h-0.8zM98.8 89.2h0.8v0.8h-0.8zM102.4 85.1h0.8v0.8h-0.8zM95.2 90.0h0.8v0.8h-0.8zM109.4 92.5h0.8v0.8h-0.8zM99.0 81.0h0.8v0.8h-0.8zM101.1 90.0h0.8v0.8h-0.8zM110.4 78.5h0.8v0.8h-0.8zM107.6 90.0h0.8v0.8h-0.8zM101.1 88.7h0.8v0.8h-0.8zM100.4 85.2h0.8v0.8h-0.8zM107.7 80.8h0.8v0.8h-0.8zM100.0 89.1h0.8v0.8h-0.8zM95.6 84.0h0.8v0.8h-0.8zM106.1 90.4h0.8v0.8h-0.8zM102.7 90.8h0.8v0.8h-0.8zM101.5 88.7h0.8v0.8h-0.8zM98.7 84.9h0.8v0.8h-0.8zM109.7 84.0h0.8v0.8h-0.8zM102.6 81.2h0.8v0.8h-0.8zM100.5 82.9h0.8v0.8h-0.8zM96.5 86.3h0.8v0.8h-0.8zM97.0 87.9h0.8v0.8h-0.8zM111.7 78.3h0.8v0.8h-0.8zM103.9 77.7h0.8v0.8h-0.8zM100.2 88.3h0.8v0.8h-0.8zM100.1 92.3h0.8v0.8h-0.8zM104.5 79.7h0.8v0.8h-0.8zM108.1 84.8h0.8v0.8h-0.8zM100.4 88.1h0.8v0.8h-0.8zM98.0 86.1h0.8v0.8h-0.8zM109.2 81.6h0.8v0.8h-0.8zM96.0 82.8h0.8v0.8h-0.8zM102.6 81.2h0.8v0.8h-0.8zM91.6 87.8h0.8v0.8h-0.8zM104.7 81.7h0.8v0.8h-0.8zM103.4 87.3h0.8v0.8h-0.8zM103.9 81.3h0.8v0.8h-0.8zM99.7 88.6h0.8v0.8h-0.8zM96.6 80.1h0.8v0.8h-0.8zM101.6 96.7h0.8v0.8h-0.8zM103.7 87.4h0.8v0.8h-0.8zM98.0 83.7h0.8v0.8h-0.8zM99.7 88.4h0.8v0.8h-0.8zM96.5 97.1h0.8v0.8h-0.8zM109.4 79.1h0.8v0.8h-0.8zM97.1 85.3h0.8v0.8h-0.8zM104.1 89.9h0.8v0.8h-0.8zM94.0 76.2h0.8v0.8h-0.8zM105.2 91.1h0.8v0.8h-0.8zM109.2 93.6h0.8v0.8h-0.8zM100.5 94.0h0.8v0.8h-0.8zM100.5 83.9h0.8v0.8h-0.8zM97.3 86.6h0.8v0.8h-0.8zM101.4 91.4h0.8v0.8h-0.8zM105.5 91.4h0.8v0.8h-0.8zM106.1 87.4h0.8v0.8h-0.8zM96.7 88.7h0.8v0.8h-0.8zM102.8 93.9h0.8v0.8h-0.8zM101.4 84.6h0.8v0.8h-0.8zM99.4 87.9h0.8v0.8h-0.8zM101.4 86.0h0.8v0.8h-0.8zM102.6 85.9h0.8v0.8h-0.8zM103.4 84.7h0.8v0.8h-0.8zM96.2 83.5h0.8v0.8h-0.8zM109.3 85.8h0.8v0.8h-0.8zM102.4 93.8h0.8v0.8h-0.8zM98.9 87.2h0.8v0.8h-0.8zM92.2 86.3h0.8v0.8h-0.8zM106.5 89.6h0.8v0.8h-0.8zM95.1 81.8h0.8v0.8h-0.8zM98.4 86.4h0.8v0.8h-0.8zM102.9 85.4h0.8v0.8h-0.8zM101.4 82.9h0.8v0.8h-0.8zM103.0 88.4h0.8v0.8h-0.8zM103.3 85.1h0.8v0.8h-0.8zM103.5 86.2h0.8v0.8h-0.8zM102.6 86.5h0.8v0.8h-0.8zM100.6 81.2h0.8v0.8h-0.8zM96.8 78.5h0.8v0.8h-0.8zM97.8 101.5h0.8v0.8h-0.8zM96.7 81.2h0.8v0.8h-0.8zM95.6 102.3h0.8v0.8h-0.8zM102.4 81.5h0.8v0.8h-0.8zM99.5 96.4h0.8v0.8h-0.8zM93.1 78.1h0.8v0.8h-0.8zM107.5 83.4h0.8v0.8h-0.8zM101.9 84.0h0.8v0.8h-0.8zM106.3 81.5h0.8v0.8h-0.8zM102.0 88.2h0.8v0.8h-0.8zM102.6 89.4h0.8v0.8h-0.8zM104.6 79.3h0.8v0.8h-0.8zM101.6 82.3h0.8v0.8h-0.8zM103.6 86.5h0.8v0.8h-0.8zM100.1 91.8h0.8v0.8h-0.8zM98.2 94.0h0.8v0.8h-0.8zM106.6 81.5h0.8v0.8h-0.8zM97.3 91.4h0.8v0.8h-0.8zM97.6 91.4h0.8v0.8h-0.8zM99.5 85.6h0.8v0.8h-0.8zM107.5 81.3h0.8v0.8h-0.8zM102.3 85.0h0.8v0.8h-0.8zM99.2 94.5h0.8v0.8h-0.8zM105.2 81.6h0.8v0.8h-0.8zM105.4 86.1h0.8v0.8h-0.8zM100.0 92.1h0.8v0.8h-0.8zM98.7 90.6h0.8v0.8h-0.8zM103.4 83.1h0.8v0.8h-0.8zM102.3 80.5h0.8v0.8h-0.8zM105.3 89.1h0.8v0.8h-0.8zM106.5 83.2h0.8v0.8h-0.8zM106.2 82.7h0.8v0.8h-0.8zM102.3 87.1h0.8v0.8h-0.8zM98.7 87.4h0.8v0.8h-0.8zM102.8 83.1h0.8v0.8h-0.8zM100.7 80.2h0.8v0.8h-0.8zM106.0 89.3h0.8v0.8h-0.8zM98.9 89.4h0.8v0.8h-0.8zM100.1 80.6h0.8v0.8h-0.8zM100.1 94.2h0.8v0.8h-0.8zM102.1 87.9h0.8v0.8h-0.8zM110.0 82.3h0.8v0.8h-0.8zM114.0 86.0h0.8v0.8h-0.8zM103.2 80.9h0.8v0.8h-0.8zM97.3 84.2h0.8v0.8h-0.8zM111.5 85.9h0.8v0.8h-0.8zM98.7 87.2h0.8v0.8h-0.8zM98.1 84.4h0.8v0.8h-0.8zM107.7 78.4h0.8v0.8h-0.8zM100.7 85.1h0.8v0.8h-0.8zM99.7 85.6h0.8v0.8h-0.8zM95.6 82.6h0.8v0.8h-0.8zM101.1 81.6h0.8v0.8h-0.8zM102.6 97.2h0.8v0.8h-0.8zM105.5 84.1h0.8v0.8h-0.8zM105.6 90.8h0.8v0.8h-0.8zM97.4 88.4h0.8v0.8h-0.8zM98.3 88.6h0.8v0.8h-0.8zM102.7 93.0h0.8v0.8h-0.8zM97.7 84.9h0.8v0.8h-0.8zM103.3 81.5h0.8v0.8h-0.8zM101.7 90.4h0.8v0.8h-0.8zM97.2 82.6h0.8v0.8h-0.8zM99.4 79.8h0.8v0.8h-0.8zM95.3 91.4h0.8v0.8h-0.8zM99.6 84.2h0.8v0.8h-0.8zM103.2 92.6h0.8v0.8h-0.8zM109.6 79.6h0.8v0.8h-0.8zM106.8 80.1h0.8v0.8h-0.8zM99.7 84.2h0.8v0.8h-0.8zM96.1 94.7h0.8v0.8h-0.8zM98.8 91.7h0.8v0.8h-0.8zM100.7 86.3h0.8v0.8h-0.8zM102.4 89.4h0.8v0.8h-0.8zM105.8 79.9h0.8v0.8h-0.8zM102.6 88.9h0.8v0.8h-0.8zM103.5 87.4h0.8v0.8h-0.8zM104.8 81.6h0.8v0.8h-0.8zM107.3 83.0h0.8v0.8h-0.8zM104.7 93.1h0.8v0.8h-0.8zM101.5 85.4h0.8v0.8h-0.8zM104.6 86.5h0.8v0.8h-0.8zM96.6 86.5h0.8v0.8h-0.8zM97.7 83.2h0.8v0.8h-0.8zM106.4 92.7h0.8v0.8h-0.8zM99.8 85.9h0.8v0.8h-0.8zM99.0 85.9h0.8v0.8h-0.8zM95.0 87.9h0.8v0.8h-0.8zM102.3 84.1h0.8v0.8h-0.8zM94.9 97.5h0.8v0.8h-0.8zM100.5 84.1h0.8v0.8h-0.8zM100.0 83.9h0.8v0.8h-0.8zM104.9 91.5h0.8v0.8h-0.8zM102.2 89.0h0.8v0.8h-0.8zM101.1 74.7h0.8v0.8h-0.8zM105.5 91.9h0.8v0.8h-0.8zM101.6 88.3h0.8v0.8h-0.8zM102.0 87.2h0.8v0.8h-0.8zM103.9 76.7h0.8v0.8h-0.8zM103.3 87.7h0.8v0.8h-0.8zM104.3 89.4h0.8v0.8h-0.8zM99.3 89.1h0.8v0.8h-0.8zM102.7 85.1h0.8v0.8h-0.8zM100.6 84.5h0.8v0.8h-0.8zM100.9 84.5h0.8v0.8h-0.8zM100.1 100.9h0.8v0.8h-0.8zM99.1 91.6h0.8v0.8h-0.8zM99.4 70.1h0.8v0.8h-0.8zM99.9 85.5h0.8v0.8h-0.8zM100.8 79.9h0.8v0.8h-0.8zM99.1 83.4h0.8v0.8h-0.8zM102.4 85.5h0.8v0.8h-0.8zM97.6 83.6h0.8v0.8h-0.8zM108.1 84.9h0.8v0.8h-0.8zM99.9 91.3h0.8v0.8h-0.8zM99.3 83.3h0.8v0.8h-0.8zM109.7 96.0h0.8v0.8h-0.8zM99.2 86.8h0.8v0.8h-0.8zM101.4 87.6h0.8v0.8h-0.8zM103.4 86.1h0.8v0.8h-0.8zM94.9 79.7h0.8v0.8h-0.8zM104.0 81.0h0.8v0.8h-0.8zM97.7 93.0h0.8v0.8h-0.8zM103.2 84.2h0.8v0.8h-0.8zM100.1 91.6h0.8v0.8h-0.8zM97.2 79.1h0.8v0.8h-0.8zM99.6 84.0h0.8v0.8h-0.8zM101.9 84.1h0.8v0.8h-0.8zM101.5 87.3h0.8v0.8h-0.8zM98.1 82.5h0.8v0.8h-0.8zM96.4 86.5h0.8v0.8h-0.8zM101.2 90.0h0.8v0.8h-0.8zM99.0 83.3h0.8v0.8h-0.8zM93.4 84.0h0.8v0.8h-0.8zM95.0 86.2h0.8v0.8h-0.8zM104.4 90.2h0.8v0.8h-0.8zM103.2 88.6h0.8v0.8h-0.8zM101.1 91.4h0.8v0.8h-0.8zM102.6 97.3h0.8v0.8h-0.8zM99.0 90.1h0.8v0.8h-0.8zM103.7 89.8h0.8v0.8h-0.8zM104.3 81.6h0.8v0.8h-0.8zM106.6 84.3h0.8v0.8h-0.8zM100.3 82.2h0.8v0.8h-0.8zM104.8 83.3h0.8v0.8h-0.8zM102.0 89.9h0.8v0.8h-0.8zM102.2 85.4h0.8v0.8h-0.8zM101.3 93.3h0.8v0.8h-0.8zM101.3 81.6h0.8v0.8h-0.8zM100.6 82.2h0.8v0.8h-0.8zM100.7 85.8h0.8v0.8h-0.8zM90.8 90.2h0.8v0.8h-0.8zM99.1 83.9h0.8v0.8h-0.8zM97.5 75.6h0.8v0.8h-0.8zM97.3 86.5h0.8v0.8h-0.8zM107.2 80.0h0.8v0.8h-0.8zM99.7 93.7h0.8v0.8h-0.8zM98.8 90.4h0.8v0.8h-0.8zM103.9 83.2h0.8v0.8h-0.8zM105.8 85.4h0.8v0.8h-0.8zM103.2 85.5h0.8v0.8h-0.8zM100.3 87.2h0.8v0.8h-0.8zM108.7 81.1h0.8v0.8h-0.8zM97.2 85.8h0.8v0.8h-0.8zM105.1 87.2h0.8v0.8h-0.8zM99.8 88.9h0.8v0.8h-0.8zM108.4 84.9h0.8v0.8h-0.8zM96.1 83.5h0.8v0.8h-0.8zM106.1 82.0h0.8v0.8h-0.8zM103.8 92.4h0.8v0.8h-0.8zM105.5 84.1h0.8v0.8h-0.8zM95.7 88.0h0.8v0.8h-0.8zM101.1 90.1h0.8v0.8h-0.8zM101.2 72.1h0.8v0.8h-0.8zM103.7 92.6h0.8v0.8h-0.8zM100.3 86.4h0.8v0.8h-0.8zM101.7 90.7h0.8v0.8h-0.8zM101.4 84.3h0.8v0.8h-0.8zM96.2 90.0h0.8v0.8h-0.8zM107.1 72.0h0.8v0.8h-0.8zM103.4 84.7h0.8v0.8h-0.8zM97.6 82.9h0.8v0.8h-0.8zM97.5 83.2h0.8v0.8h-0.8zM98.5 88.3h0.8v0.8h-0.8zM100.6 77.5h0.8v0.8h-0.8zM101.3 80.0h0.8v0.8h-0.8zM104.3 86.9h0.8v0.8h-0.8zM96.7 80.8h0.8v0.8h-0.8zM101.3 86.6h0.8v0.8h-0.8zM94.9 83.8h0.8v0.8h-0.8zM100.8 91.5h0.8v0.8h-0.8zM105.4 87.7h0.8v0.8h-0.8zM97.3 83.5h0.8v0.8h-0.8zM105.1 83.6h0.8v0.8h-0.8zM107.3 84.2h0.8v0.8h-0.8zM96.0 89.0h0.8v0.8h-0.8zM100.4 88.1h0.8v0.8h-0.8zM100.2 86.5h0.8v0.8h-0.8zM96.2 94.3h0.8v0.8h-0.8zM103.8 87.1h0.8v0.8h-0.8zM101.7 91.0h0.8v0.8h-0.8zM99.1 86.9h0.8v0.8h-0.8zM102.9 84.6h0.8v0.8h-0.8zM98.9 84.9h0.8v0.8h-0.8zM100.9 84.6h0.8v0.8h-0.8zM94.3 84.6h0.8v0.8h-0.8zM103.5 88.0h0.8v0.8h-0.8zM106.0 92.8h0.8v0.8h-0.8zM101.1 83.4h0.8v0.8h-0.8zM103.7 85.8h0.8v0.8h-0.8zM95.3 85.2h0.8v0.8h-0.8zM100.6 85.4h0.8v0.8h-0.8zM103.2 88.4h0.8v0.8h-0.8zM109.7 86.2h0.8v0.8h-0.8zM100.5 88.0h0.8v0.8h-0.8zM100.5 84.0h0.8v0.8h-0.8zM109.8 82.7h0.8v0.8h-0.8zM105.3 79.6h0.8v0.8h-0.8zM105.6 78.9h0.8v0.8h-0.8zM95.3 90.2h0.8v0.8h-0.8zM106.6 89.4h0.8v0.8h-0.8zM90.0 87.7h0.8v0.8h-0.8zM103.9 82.3h0.8v0.8h-0.8zM102.1 80.6h0.8v0.8h-0.8zM101.1 86.3h0.8v0.8h-0.8zM100.5 90.4h0.8v0.8h-0.8zM102.5 76.3h0.8v0.8h-0.8zM99.1 79.8h0.8v0.8h-0.8zM100.7 84.4h0.8v0.8h-0.8zM99.0 92.7h0.8v0.8h-0.8zM103.1 82.1h0.8v0.8h-0.8zM101.6 82.6h0.8v0.8h-0.8zM99.5 89.0h0.8v0.8h-0.8zM96.2 88.4h0.8v0.8h-0.8zM105.2 95.7h0.8v0.8h-0.8zM106.9 89.3h0.8v0.8h-0.8zM93.3 93.8h0.8v0.8h-0.8zM100.8 87.7h0.8v0.8h-0.8zM101.5 82.2h0.8v0.8h-0.8zM105.7 81.5h0.8v0.8h-0.8zM95.5 87.4h0.8v0.8h-0.8zM101.3 82.7h0.8v0.8h-0.8zM100.8 93.6h0.8v0.8h-0.8zM100.5 85.8h0.8v0.8h-0.8zM101.8 91.6h0.8v0.8h-0.8zM103.9 91.1h0.8v0.8h-0.8zM98.1 88.2h0.8v0.8h-0.8zM104.0 79.4h0.8v0.8h-0.8zM104.8 90.9h0.8v0.8h-0.8zM106.3 88.3h0.8v0.8h-0.8zM104.0 87.4h0.8v0.8h-0.8zM100.4 91.0h0.8v0.8h-0.8zM100.5 89.5h0.8v0.8h-0.8zM99.2 92.1h0.8v0.8h-0.8zM106.2 80.5h0.8v0.8h-0.8zM106.5 90.9h0.8v0.8h-0.8zM100.5 83.4h0.8v0.8h-0.8zM108.2 89.8h0.8v0.8h-0.8zM102.2 90.0h0.8v0.8h-0.8zM96.4 93.6h0.8v0.8h-0.8zM110.0 86.1h0.8v0.8h-0.8zM107.9 81.2h0.8v0.8h-0.8zM100.0 86.6h0.8v0.8h-0.8zM100.6 89.3h0.8v0.8h-0.8zM102.1 88.9h0.8v0.8h-0.8zM100.3 87.9h0.8v0.8h-0.8zM96.2 94.6h0.8v0.8h-0.8zM99.6 92.3h0.8v0.8h-0.8zM101.9 86.3h0.8v0.8h-0.8zM102.7 81.0h0.8v0.8h-0.8zM108.0 91.3h0.8v0.8h-0.8zM102.5 85.0h0.8v0.8h-0.8zM106.4 87.0h0.8v0.8h-0.8zM100.5 83.9h0.8v0.8h-0.8zM106.3 90.1h0.8v0.8h-0.8zM101.8 83.8h0.8v0.8h-0.8zM105.4 89.7h0.8v0.8h-0.8zM98.7 90.2h0.8v0.8h-0.8zM106.0 83.6h0.8v0.8h-0.8zM103.7 93.0h0.8v0.8h-0.8zM102.5 80.7h0.8v0.8h-0.8zM105.7 86.7h0.8v0.8h-0.8zM101.0 85.3h0.8v0.8h-0.8zM99.0 90.1h0.8v0.8h-0.8zM96.6 87.7h0.8v0.8h-0.8zM103.8 92.9h0.8v0.8h-0.8zM103.4 88.9h0.8v0.8h-0.8zM100.8 86.0h0.8v0.8h-0.8zM95.6 92.9h0.8v0.8h-0.8zM102.5 82.3h0.8v0.8h-0.8zM101.9 94.4h0.8v0.8h-0.8zM102.8 85.8h0.8v0.8h-0.8zM96.4 88.2h0.8v0.8h-0.8zM101.5 83.6h0.8v0.8h-0.8zM105.5 82.0h0.8v0.8h-0.8zM107.7 77.3h0.8v0.8h-0.8zM101.4 79.9h0.8v0.8h-0.8zM99.2 89.9h0.8v0.8h-0.8zM94.6 91.0h0.8v0.8h-0.8zM99.7 83.9h0.8v0.8h-0.8zM106.0 85.0h0.8v0.8h-0.8zM106.8 87.8h0.8v0.8h-0.8zM102.5 82.6h0.8v0.8h-0.8zM105.5 88.0h0.8v0.8h-0.8zM101.1 82.1h0.8v0.8h-0.8zM99.2 85.6h0.8v0.8h-0.8zM97.6 89.3h0.8v0.8h-0.8zM102.2 84.1h0.8v0.8h-0.8zM100.7 93.5h0.8v0.8h-0.8zM93.5 85.7h0.8v0.8h-0.8zM104.9 88.8h0.8v0.8h-0.8zM106.6 81.3h0.8v0.8h-0.8zM97.1 90.2h0.8v0.8h-0.8zM100.9 87.0h0.8v0.8h-0.8zM103.0 89.2h0.8v0.8h-0.8zM103.7 85.3h0.8v0.8h-0.8zM98.2 92.1h0.8v0.8h-0.8zM101.9 80.0h0.8v0.8h-0.8zM98.7 90.2h0.8v0.8h-0.8zM107.4 89.8h0.8v0.8h-0.8zM98.2 88.6h0.8v0.8h-0.8zM100.6 92.3h0.8v0.8h-0.8zM102.0 90.7h0.8v0.8h-0.8zM102.5 89.3h0.8v0.8h-0.8zM98.4 85.0h0.8v0.8h-0.8zM104.9 94.6h0.8v0.8h-0.8zM104.1 89.7h0.8v0.8h-0.8zM100.4 88.2h0.8v0.8h-0.8zM98.5 91.1h0.8v0.8h-0.8zM101.4 83.2h0.8v0.8h-0.8zM93.3 91.4h0.8v0.8h-0.8zM100.1 82.2h0.8v0.8h-0.8zM100.0 95.0h0.8v0.8h-0.8zM104.2 86.3h0.8v0.8h-0.8zM104.6 84.0h0.8v0.8h-0.8zM100.4 86.6h0.8v0.8h-0.8zM100.2 90.2h0.8v0.8h-0.8zM100.3 95.6h0.8v0.8h-0.8zM104.7 86.7h0.8v0.8h-0.8zM103.6 83.5h0.8v0.8h-0.8zM99.8 84.6h0.8v0.8h-0.8zM106.0 85.2h0.8v0.8h-0.8zM97.5 80.5h0.8v0.8h-0.8zM97.5 84.5h0.8v0.8h-0.8zM102.1 81.5h0.8v0.8h-0.8zM99.3 84.1h0.8v0.8h-0.8zM101.8 90.0h0.8v0.8h-0.8zM106.4 87.4h0.8v0.8h-0.8zM103.5 88.0h0.8v0.8h-0.8zM98.6 82.8h0.8v0.8h-0.8zM109.2 88.9h0.8v0.8h-0.8zM105.8 92.5h0.8v0.8h-0.8zM107.5 88.1h0.8v0.8h-0.8zM105.1 86.7h0.8v0.8h-0.8zM99.4 80.5h0.8v0.8h-0.8zM105.4 80.5h0.8v0.8h-0.8zM104.0 83.6h0.8v0.8h-0.8zM104.8 81.5h0.8v0.8h-0.8zM104.7 87.0h0.8v0.8h-0.8zM98.3 78.8h0.8v0.8h-0.8zM104.2 80.0h0.8v0.8h-0.8zM101.8 89.3h0.8v0.8h-0.8zM97.0 92.0h0.8v0.8h-0.8zM105.9 90.0h0.8v0.8h-0.8zM102.3 89.4h0.8v0.8h-0.8zM98.5 92.1h0.8v0.8h-0.8zM103.5 75.5h0.8v0.8h-0.8zM100.8 88.8h0.8v0.8h-0.8zM106.0 83.2h0.8v0.8h-0.8zM107.5 85.1h0.8v0.8h-0.8zM102.5 90.8h0.8v0.8h-0.8zM100.3 91.9h0.8v0.8h-0.8zM96.5 95.0h0.8v0.8h-0.8zM103.8 85.7h0.8v0.8h-0.8zM110.4 90.1h0.8v0.8h-0.8zM93.6 90.9h0.8v0.8h-0.8zM107.7 86.3h0.8v0.8h-0.8zM96.3 90.4h0.8v0.8h-0.8zM103.1 82.8h0.8v0.8h-0.8zM99.7 86.5h0.8v0.8h-0.8zM102.4 94.8h0.8v0.8h-0.8zM96.9 92.6h0.8v0.8h-0.8zM95.1 88.0h0.8v0.8h-0.8zM100.3 88.6h0.8v0.8h-0.8zM101.0 83.3h0.8v0.8h-0.8zM100.7 92.0h0.8v0.8h-0.8zM93.7 84.3h0.8v0.8h-0.8zM101.7 81.8h0.8v0.8h-0.8zM96.0 87.4h0.8v0.8h-0.8zM102.4 90.3h0.8v0.8h-0.8zM96.9 77.9h0.8v0.8h-0.8zM100.0 84.2h0.8v0.8h-0.8zM108.1 87.4h0.8v0.8h-0.8zM100.3 91.3h0.8v0.8h-0.8zM106.6 90.6h0.8v0.8h-0.8zM99.6 95.6h0.8v0.8h-0.8zM102.8 78.7h0.8v0.8h-0.8zM99.3 84.6h0.8v0.8h-0.8zM105.5 89.9h0.8v0.8h-0.8zM105.4 88.8h0.8v0.8h-0.8zM102.5 84.5h0.8v0.8h-0.8zM96.4 87.5h0.8v0.8h-0.8zM101.8 89.8h0.8v0.8h-0.8zM100.3 84.4h0.8v0.8h-0.8zM101.8 89.9h0.8v0.8h-0.8zM109.7 85.6h0.8v0.8h-0.8zM103.5 91.9h0.8v0.8h-0.8zM100.3 87.1h0.8v0.8h-0.8zM98.9 93.3h0.8v0.8h-0.8zM109.7 91.4h0.8v0.8h-0.8zM99.1 90.6h0.8v0.8h-0.8zM103.4 86.7h0.8v0.8h-0.8zM102.7 91.5h0.8v0.8h-0.8zM98.8 90.0h0.8v0.8h-0.8zM95.7 78.6h0.8v0.8h-0.8zM100.1 87.2h0.8v0.8h-0.8zM94.1 91.3h0.8v0.8h-0.8zM99.9 87.0h0.8v0.8h-0.8zM100.1 90.0h0.8v0.8h-0.8zM98.3 89.3h0.8v0.8h-0.8zM100.9 79.5h0.8v0.8h-0.8zM103.0 88.2h0.8v0.8h-0.8zM107.5 79.7h0.8v0.8h-0.8zM102.8 84.3h0.8v0.8h-0.8zM101.4 84.9h0.8v0.8h-0.8zM101.2 83.5h0.8v0.8h-0.8zM107.6 80.8h0.8v0.8h-0.8zM95.1 86.2h0.8v0.8h-0.8zM109.6 86.1h0.8v0.8h-0.8zM100.1 80.7h0.8v0.8h-0.8zM96.0 90.9h0.8v0.8h-0.8zM102.4 91.6h0.8v0.8h-0.8zM102.3 88.3h0.8v0.8h-0.8zM100.9 82.0h0.8v0.8h-0.8zM99.7 98.2h0.8v0.8h-0.8zM98.2 91.8h0.8v0.8h-0.8zM99.0 86.1h0.8v0.8h-0.8zM107.4 88.7h0.8v0.8h-0.8zM104.5 85.3h0.8v0.8h-0.8zM109.9 84.0h0.8v0.8h-0.8zM103.8 86.5h0.8v0.8h-0.8zM101.6 88.7h0.8v0.8h-0.8zM104.6 92.3h0.8v0.8h-0.8zM104.5 89.8h0.8v0.8h-0.8zM95.7 91.3h0.8v0.8h-0.8zM106.0 90.9h0.8v0.8h-0.8zM104.6 86.9h0.8v0.8h-0.8zM94.9 89.3h0.8v0.8h-0.8zM96.0 94.1h0.8v0.8h-0.8zM103.9 87.6h0.8v0.8h-0.8zM99.2 86.6h0.8v0.8h-0.8zM98.5 84.0h0.8v0.8h-0.8zM107.4 87.6h0.8v0.8h-0.8zM107.9 88.8h0.8v0.8h-0.8zM104.3 83.4h0.8v0.8h-0.8zM101.1 84.6h0.8v0.8h-0.8zM93.6 93.4h0.8v0.8h-0.8zM103.6 87.2h0.8v0.8h-0.8zM97.6 85.6h0.8v0.8h-0.8zM99.3 81.4h0.8v0.8h-0.8zM97.4 95.9h0.8v0.8h-0.8zM94.6 87.1h0.8v0.8h-0.8zM104.1 73.7h0.8v0.8h-0.8zM96.8 84.5h0.8v0.8h-0.8zM102.8 83.7h0.8v0.8h-0.8zM106.7 91.4h0.8v0.8h-0.8zM101.8 79.0h0.8v0.8h-0.8zM103.1 84.2h0.8v0.8h-0.8zM106.6 83.7h0.8v0.8h-0.8zM106.3 86.4h0.8v0.8h-0.8zM102.5 85.9h0.8v0.8h-0.8zM101.8 92.6h0.8v0.8h-0.8zM101.0 82.3h0.8v0.8h-0.8zM106.5 93.3h0.8v0.8h-0.8zM106.5 93.4h0.8v0.8h-0.8zM99.3 94.0h0.8v0.8h-0.8zM99.8 84.2h0.8v0.8h-0.8zM99.0 89.3h0.8v0.8h-0.8zM98.8 85.0h0.8v0.8h-0.8zM98.9 84.8h0.8v0.8h-0.8zM103.6 93.0h0.8v0.8h-0.8zM96.7 97.5h0.8v0.8h-0.8zM98.3 87.9h0.8v0.8h-0.8zM103.2 76.7h0.8v0.8h-0.8zM95.4 90.7h0.8v0.8h-0.8zM91.1 97.4h0.8v0.8h-0.8zM100.6 87.9h0.8v0.8h-0.8zM105.7 88.6h0.8v0.8h-0.8zM100.2 83.4h0.8v0.8h-0.8zM97.3 88.0h0.8v0.8h-0.8zM99.0 88.5h0.8v0.8h-0.8zM96.9 83.1h0.8v0.8h-0.8zM108.0 91.0h0.8v0.8h-0.8zM99.2 91.8h0.8v0.8h-0.8zM100.0 93.8h0.8v0.8h-0.8zM96.2 88.7h0.8v0.8h-0.8zM96.7 88.4h0.8v0.8h-0.8zM107.5 96.5h0.8v0.8h-0.8zM97.8 87.6h0.8v0.8h-0.8zM104.1 84.3h0.8v0.8h-0.8zM103.9 82.6h0.8v0.8h-0.8zM103.3 92.0h0.8v0.8h-0.8zM99.8 89.6h0.8v0.8h-0.8zM109.9 89.2h0.8v0.8h-0.8zM94.4 85.9h0.8v0.8h-0.8zM101.1 82.9h0.8v0.8h-0.8zM103.0 92.3h0.8v0.8h-0.8zM100.9 94.6h0.8v0.8h-0.8zM99.9 84.3h0.8v0.8h-0.8zM107.1 75.7h0.8v0.8h-0.8zM91.4 84.9h0.8v0.8h-0.8zM100.6 86.8h0.8v0.8h-0.8zM97.7 86.6h0.8v0.8h-0.8zM106.1 85.5h0.8v0.8h-0.8zM103.6 86.9h0.8v0.8h-0.8zM100.7 87.1h0.8v0.8h-0.8zM105.8 91.0h0.8v0.8h-0.8zM103.5 88.4h0.8v0.8h-0.8zM92.4 88.2h0.8v0.8h-0.8zM101.2 87.2h0.8v0.8h-0.8zM102.1 79.6h0.8v0.8h-0.8zM103.7 96.6h0.8v0.8h-0.8zM109.7 80.9h0.8v0.8h-0.8zM105.2 82.5h0.8v0.8h-0.8zM101.6 84.4h0.8v0.8h-0.8zM100.4 82.7h0.8v0.8h-0.8zM98.5 89.6h0.8v0.8h-0.8zM105.5 92.9h0.8v0.8h-0.8zM101.6 86.2h0.8v0.8h-0.8zM100.6 86.4h0.8v0.8h-0.8zM99.5 85.3h0.8v0.8h-0.8zM104.7 86.9h0.8v0.8h-0.8zM98.7 85.3h0.8v0.8h-0.8zM101.8 86.6h0.8v0.8h-0.8zM99.4 89.5h0.8v0.8h-0.8zM102.8 82.4h0.8v0.8h-0.8zM104.5 84.5h0.8v0.8h-0.8zM102.8 91.3h0.8v0.8h-0.8zM102.6 88.8h0.8v0.8h-0.8zM97.0 84.3h0.8v0.8h-0.8zM100.8 89.8h0.8v0.8h-0.8zM97.7 84.7h0.8v0.8h-0.8zM95.7 85.7h0.8v0.8h-0.8zM101.5 87.5h0.8v0.8h-0.8zM106.0 92.1h0.8v0.8h-0.8zM101.6 84.1h0.8v0.8h-0.8zM98.6 89.6h0.8v0.8h-0.8zM105.3 85.8h0.8v0.8h-0.8zM101.6 84.8h0.8v0.8h-0.8zM103.5 88.5h0.8v0.8h-0.8zM100.2 82.1h0.8v0.8h-0.8zM108.1 82.4h0.8v0.8h-0.8zM99.9 71.3h0.8v0.8h-0.8zM109.3 87.1h0.8v0.8h-0.8zM103.5 90.3h0.8v0.8h-0.8zM102.5 92.8h0.8v0.8h-0.8zM99.8 86.2h0.8v0.8h-0.8zM103.9 90.5h0.8v0.8h-0.8zM99.9 82.6h0.8v0.8h-0.8zM95.9 86.1h0.8v0.8h-0.8zM101.9 79.4h0.8v0.8h-0.8zM98.9 87.5h0.8v0.8h-0.8zM102.3 86.1h0.8v0.8h-0.8zM100.9 89.9h0.8v0.8h-0.8zM98.4 81.8h0.8v0.8h-0.8zM103.6 91.2h0.8v0.8h-0.8zM97.6 81.9h0.8v0.8h-0.8zM105.3 91.9h0.8v0.8h-0.8zM99.2 91.0h0.8v0.8h-0.8zM103.9 94.7h0.8v0.8h-0.8zM98.5 79.5h0.8v0.8h-0.8zM99.7 86.0h0.8v0.8h-0.8zM99.7 87.4h0.8v0.8h-0.8zM104.8 93.5h0.8v0.8h-0.8zM104.8 88.1h0.8v0.8h-0.8zM106.4 90.9h0.8v0.8h-0.8zM102.2 87.1h0.8v0.8h-0.8zM91.5 93.8h0.8v0.8h-0.8zM99.9 90.7h0.8v0.8h-0.8zM109.6 88.9h0.8v0.8h-0.8zM95.7 89.7h0.8v0.8h-0.8zM103.7 83.1h0.8v0.8h-0.8zM104.7 88.1h0.8v0.8h-0.8zM102.0 74.7h0.8v0.8h-0.8zM97.3 87.2h0.8v0.8h-0.8zM96.2 89.7h0.8v0.8h-0.8zM108.6 91.0h0.8v0.8h-0.8zM102.3 86.8h0.8v0.8h-0.8zM104.3 88.1h0.8v0.8h-0.8zM102.8 94.3h0.8v0.8h-0.8zM105.9 83.8h0.8v0.8h-0.8zM104.1 86.6h0.8v0.8h-0.8zM100.9 91.4h0.8v0.8h-0.8zM98.7 86.9h0.8v0.8h-0.8zM107.8 85.1h0.8v0.8h-0.8zM99.5 89.7h0.8v0.8h-0.8zM98.9 91.0h0.8v0.8h-0.8zM100.2 79.1h0.8v0.8h-0.8zM102.9 86.7h0.8v0.8h-0.8zM101.0 91.4h0.8v0.8h-0.8zM105.6 86.7h0.8v0.8h-0.8zM103.0 78.0h0.8v0.8h-0.8zM97.5 86.6h0.8v0.8h-0.8zM104.4 80.7h0.8v0.8h-0.8zM104.2 87.7h0.8v0.8h-0.8zM105.8 86.7h0.8v0.8h-0.8zM106.5 83.3h0.8v0.8h-0.8zM96.1 81.0h0.8v0.8h-0.8zM103.2 89.5h0.8v0.8h-0.8zM94.5 85.1h0.8v0.8h-0.8zM101.1 94.9h0.8v0.8h-0.8zM103.3 90.0h0.8v0.8h-0.8zM95.2 86.4h0.8v0.8h-0.8zM94.9 83.0h0.8v0.8h-0.8zM101.6 82.2h0.8v0.8h-0.8zM98.0 84.9h0.8v0.8h-0.8zM104.4 84.8h0.8v0.8h-0.8zM101.3 90.3h0.8v0.8h-0.8zM98.3 95.0h0.8v0.8h-0.8zM101.4 83.3h0.8v0.8h-0.8zM93.0 89.0h0.8v0.8h-0.8zM104.0 86.9h0.8v0.8h-0.8zM102.7 86.7h0.8v0.8h-0.8zM104.5 87.9h0.8v0.8h-0.8zM102.3 86.8h0.8v0.8h-0.8zM101.7 76.2h0.8v0.8h-0.8zM105.2 82.2h0.8v0.8h-0.8zM101.8 90.1h0.8v0.8h-0.8zM109.2 86.1h0.8v0.8h-0.8zM100.4 91.1h0.8v0.8h-0.8zM99.9 83.5h0.8v0.8h-0.8zM99.7 96.3h0.8v0.8h-0.8zM103.7 92.3h0.8v0.8h-0.8zM96.9 88.4h0.8v0.8h-0.8zM107.4 82.9h0.8v0.8h-0.8zM101.7 86.0h0.8v0.8h-0.8zM106.3 80.2h0.8v0.8h-0.8zM103.8 87.7h0.8v0.8h-0.8zM103.7 77.4h0.8v0.8h-0.8zM94.9 81.8h0.8v0.8h-0.8zM103.0 89.5h0.8v0.8h-0.8zM106.6 80.5h0.8v0.8h-0.8zM100.0 92.9h0.8v0.8h-0.8zM94.9 87.6h0.8v0.8h-0.8zM97.9 88.2h0.8v0.8h-0.8zM104.2 80.0h0.8v0.8h-0.8zM95.7 90.9h0.8v0.8h-0.8zM99.0 92.0h0.8v0.8h-0.8zM101.2 91.1h0.8v0.8h-0.8zM99.6 87.3h0.8v0.8h-0.8zM98.6 90.2h0.8v0.8h-0.8zM97.6 90.8h0.8v0.8h-0.8zM108.8 83.7h0.8v0.8h-0.8zM99.9 88.9h0.8v0.8h-0.8zM105.8 94.0h0.8v0.8h-0.8zM104.3 79.6h0.8v0.8h-0.8zM105.2 85.4h0.8v0.8h-0.8zM101.4 88.8h0.8v0.8h-0.8zM94.7 89.6h0.8v0.8h-0.8zM103.7 90.5h0.8v0.8h-0.8zM102.9 89.1h0.8v0.8h-0.8zM97.2 82.9h0.8v0.8h-0.8zM104.7 86.5h0.8v0.8h-0.8zM100.9 88.4h0.8v0.8h-0.8zM101.3 88.0h0.8v0.8h-0.8zM103.1 87.5h0.8v0.8h-0.8zM97.9 84.3h0.8v0.8h-0.8zM105.8 85.2h0.8v0.8h-0.8zM102.5 88.7h0.8v0.8h-0.8zM102.6 73.7h0.8v0.8h-0.8zM102.5 83.5h0.8v0.8h-0.8zM97.7 90.0h0.8v0.8h-0.8zM98.1 87.3h0.8v0.8h-0.8zM101.5 87.8h0.8v0.8h-0.8zM111.4 81.0h0.8v0.8h-0.8zM105.0 87.5h0.8v0.8h-0.8zM101.4 83.6h0.8v0.8h-0.8zM101.4 87.1h0.8v0.8h-0.8zM95.6 92.6h0.8v0.8h-0.8zM98.9 85.3h0.8v0.8h-0.8zM96.6 85.8h0.8v0.8h-0.8zM100.9 91.9h0.8v0.8h-0.8zM105.6 86.0h0.8v0.8h-0.8zM107.2 88.4h0.8v0.8h-0.8zM104.2 96.1h0.8v0.8h-0.8zM101.6 81.7h0.8v0.8h-0.8zM101.0 93.6h0.8v0.8h-0.8zM101.1 92.0h0.8v0.8h-0.8zM102.1 91.4h0.8v0.8h-0.8zM106.5 87.3h0.8v0.8h-0.8zM96.5 84.5h0.8v0.8h-0.8zM100.4 80.7h0.8v0.8h-0.8zM99.7 89.6h0.8v0.8h-0.8zM97.2 78.0h0.8v0.8h-0.8zM105.5 84.1h0.8v0.8h-0.8zM97.9 92.1h0.8v0.8h-0.8zM104.7 89.8h0.8v0.8h-0.8zM107.4 76.0h0.8v0.8h-0.8zM102.7 89.2h0.8v0.8h-0.8zM96.2 85.8h0.8v0.8h-0.8zM103.1 86.9h0.8v0.8h-0.8zM102.8 91.6h0.8v0.8h-0.8zM101.9 85.8h0.8v0.8h-0.8zM95.4 90.2h0.8v0.8h-0.8zM98.8 87.4h0.8v0.8h-0.8zM105.5 92.1h0.8v0.8h-0.8zM97.0 84.8h0.8v0.8h-0.8zM101.4 78.9h0.8v0.8h-0.8zM97.6 88.3h0.8v0.8h-0.8zM102.9 86.4h0.8v0.8h-0.8zM103.8 82.1h0.8v0.8h-0.8zM98.9 85.1h0.8v0.8h-0.8zM104.6 86.5h0.8v0.8h-0.8zM100.2 88.0h0.8v0.8h-0.8zM108.5 83.3h0.8v0.8h-0.8zM102.9 88.3h0.8v0.8h-0.8zM100.7 87.8h0.8v0.8h-0.8zM94.3 84.4h0.8v0.8h-0.8zM102.4 81.3h0.8v0.8h-0.8zM104.5 87.4h0.8v0.8h-0.8zM99.0 89.6h0.8v0.8h-0.8zM99.2 82.6h0.8v0.8h-0.8zM102.9 91.6h0.8v0.8h-0.8zM109.2 87.5h0.8v0.8h-0.8zM98.5 78.7h0.8v0.8h-0.8zM97.0 85.7h0.8v0.8h-0.8zM101.5 83.7h0.8v0.8h-0.8zM98.9 82.6h0.8v0.8h-0.8zM98.2 91.4h0.8v0.8h-0.8zM101.4 93.4h0.8v0.8h-0.8zM103.0 91.1h0.8v0.8h-0.8zM104.8 90.2h0.8v0.8h-0.8zM105.0 93.6h0.8v0.8h-0.8zM107.4 90.1h0.8v0.8h-0.8zM94.7 96.5h0.8v0.8h-0.8zM99.5 88.7h0.8v0.8h-0.8zM101.1 83.4h0.8v0.8h-0.8zM104.6 82.6h0.8v0.8h-0.8zM98.6 92.6h0.8v0.8h-0.8zM100.5 90.5h0.8v0.8h-0.8zM103.0 89.3h0.8v0.8h-0.8zM100.8 89.6h0.8v0.8h-0.8zM97.0 88.1h0.8v0.8h-0.8zM98.7 82.2h0.8v0.8h-0.8zM101.3 80.4h0.8v0.8h-0.8zM93.8 85.9h0.8v0.8h-0.8zM102.1 90.3h0.8v0.8h-0.8zM108.8 90.4h0.8v0.8h-0.8zM105.1 84.6h0.8v0.8h-0.8zM105.6 82.9h0.8v0.8h-0.8zM109.8 85.3h0.8v0.8h-0.8zM98.7 89.5h0.8v0.8h-0.8zM91.5 89.7h0.8v0.8h-0.8zM97.7 86.4h0.8v0.8h-0.8zM104.5 88.7h0.8v0.8h-0.8zM105.4 85.9h0.8v0.8h-0.8zM106.8 78.3h0.8v0.8h-0.8zM107.7 85.9h0.8v0.8h-0.8zM98.3 85.8h0.8v0.8h-0.8zM108.4 86.0h0.8v0.8h-0.8zM101.8 85.3h0.8v0.8h-0.8zM100.1 80.1h0.8v0.8h-0.8zM102.3 90.6h0.8v0.8h-0.8zM98.3 86.8h0.8v0.8h-0.8zM102.3 89.0h0.8v0.8h-0.8zM100.7 86.8h0.8v0.8h-0.8zM103.9 82.6h0.8v0.8h-0.8zM99.6 90.0h0.8v0.8h-0.8zM97.3 91.7h0.8v0.8h-0.8zM102.2 81.8h0.8v0.8h-0.8zM102.4 80.7h0.8v0.8h-0.8zM105.9 80.8h0.8v0.8h-0.8zM101.7 85.8h0.8v0.8h-0.8zM99.6 88.2h0.8v0.8h-0.8zM103.2 84.8h0.8v0.8h-0.8zM104.9 86.0h0.8v0.8h-0.8zM102.4 93.7h0.8v0.8h-0.8zM101.2 91.2h0.8v0.8h-0.8zM95.7 87.5h0.8v0.8h-0.8zM96.3 84.2h0.8v0.8h-0.8zM107.9 76.3h0.8v0.8h-0.8zM99.8 82.5h0.8v0.8h-0.8zM98.0 85.7h0.8v0.8h-0.8zM105.3 82.7h0.8v0.8h-0.8zM102.0 78.1h0.8v0.8h-0.8zM102.1 77.0h0.8v0.8h-0.8zM95.3 86.9h0.8v0.8h-0.8zM105.7 84.5h0.8v0.8h-0.8zM103.7 84.0h0.8v0.8h-0.8zM102.4 95.6h0.8v0.8h-0.8zM94.0 80.0h0.8v0.8h-0.8zM99.8 84.0h0.8v0.8h-0.8zM104.4 95.5h0.8v0.8h-0.8zM100.3 89.5h0.8v0.8h-0.8zM96.2 83.5h0.8v0.8h-0.8zM100.5 85.8h0.8v0.8h-0.8zM104.8 80.6h0.8v0.8h-0.8zM94.3 94.6h0.8v0.8h-0.8zM95.1 84.8h0.8v0.8h-0.8zM103.1 89.8h0.8v0.8h-0.8zM104.0 80.0h0.8v0.8h-0.8zM102.1 79.6h0.8v0.8h-0.8zM107.7 90.8h0.8v0.8h-0.8zM103.6 88.6h0.8v0.8h-0.8zM98.1 91.3h0.8v0.8h-0.8zM103.4 90.6h0.8v0.8h-0.8zM102.2 90.7h0.8v0.8h-0.8zM99.7 88.3h0.8v0.8h-0.8zM102.0 85.8h0.8v0.8h-0.8zM100.3 96.7h0.8v0.8h-0.8zM91.9 90.3h0.8v0.8h-0.8zM97.9 91.3h0.8v0.8h-0.8zM98.0 84.7h0.8v0.8h-0.8zM105.0 87.8h0.8v0.8h-0.8zM104.4 82.1h0.8v0.8h-0.8zM94.7 92.4h0.8v0.8h-0.8zM102.0 86.6h0.8v0.8h-0.8zM98.0 80.6h0.8v0.8h-0.8zM97.7 85.3h0.8v0.8h-0.8zM101.8 84.1h0.8v0.8h-0.8zM98.8 86.4h0.8v0.8h-0.8zM107.6 82.3h0.8v0.8h-0.8zM94.6 89.8h0.8v0.8h-0.8zM96.9 83.2h0.8v0.8h-0.8zM98.9 94.7h0.8v0.8h-0.8zM98.6 71.9h0.8v0.8h-0.8zM99.4 91.3h0.8v0.8h-0.8zM103.1 83.6h0.8v0.8h-0.8zM105.2 78.3h0.8v0.8h-0.8zM101.9 94.1h0.8v0.8h-0.8zM99.3 90.0h0.8v0.8h-0.8zM95.3 91.7h0.8v0.8h-0.8zM100.3 82.6h0.8v0.8h-0.8zM101.4 78.3h0.8v0.8h-0.8zM100.6 96.2h0.8v0.8h-0.8zM96.6 84.1h0.8v0.8h-0.8zM103.8 85.0h0.8v0.8h-0.8zM95.3 86.2h0.8v0.8h-0.8zM104.7 88.5h0.8v0.8h-0.8zM98.0 84.2h0.8v0.8h-0.8zM94.6 84.1h0.8v0.8h-0.8zM103.9 93.1h0.8v0.8h-0.8zM100.3 88.5h0.8v0.8h-0.8zM99.3 86.7h0.8v0.8h-0.8zM98.9 86.7h0.8v0.8h-0.8zM99.2 87.0h0.8v0.8h-0.8zM103.8 87.6h0.8v0.8h-0.8zM96.0 87.3h0.8v0.8h-0.8zM101.2 84.4h0.8v0.8h-0.8zM104.6 84.0h0.8v0.8h-0.8zM103.7 90.4h0.8v0.8h-0.8zM99.9 82.9h0.8v0.8h-0.8zM102.3 82.8h0.8v0.8h-0.8zM108.1 78.4h0.8v0.8h-0.8zM102.4 85.5h0.8v0.8h-0.8zM96.5 88.1h0.8v0.8h-0.8zM98.9 88.1h0.8v0.8h-0.8zM100.2 85.0h0.8v0.8h-0.8zM101.7 91.5h0.8v0.8h-0.8zM104.8 88.0h0.8v0.8h-0.8zM107.0 87.3h0.8v0.8h-0.8zM99.4 77.1h0.8v0.8h-0.8zM97.6 81.3h0.8v0.8h-0.8zM94.5 85.9h0.8v0.8h-0.8zM101.5 86.7h0.8v0.8h-0.8zM102.3 86.6h0.8v0.8h-0.8zM100.9 85.1h0.8v0.8h-0.8zM103.2 82.1h0.8v0.8h-0.8zM103.4 95.0h0.8v0.8h-0.8zM97.9 96.5h0.8v0.8h-0.8zM96.5 89.4h0.8v0.8h-0.8zM94.7 87.3h0.8v0.8h-0.8zM97.1 90.1h0.8v0.8h-0.8zM100.2 91.0h0.8v0.8h-0.8zM102.6 89.8h0.8v0.8h-0.8zM97.9 93.2h0.8v0.8h-0.8zM101.8 89.3h0.8v0.8h-0.8zM106.7 87.5h0.8v0.8h-0.8zM105.7 93.7h0.8v0.8h-0.8zM103.8 80.7h0.8v0.8h-0.8zM106.1 87.0h0.8v0.8h-0.8zM101.5 87.5h0.8v0.8h-0.8zM103.7 90.7h0.8v0.8h-0.8zM95.9 81.7h0.8v0.8h-0.8zM102.3 88.0h0.8v0.8h-0.8zM103.2 90.2h0.8v0.8h-0.8zM108.1 85.8h0.8v0.8h-0.8zM105.3 90.1h0.8v0.8h-0.8zM101.3 90.1h0.8v0.8h-0.8zM99.0 89.4h0.8v0.8h-0.8zM99.5 89.6h0.8v0.8h-0.8zM96.8 90.8h0.8v0.8h-0.8zM97.0 82.1h0.8v0.8h-0.8zM100.8 87.8h0.8v0.8h-0.8zM99.1 84.1h0.8v0.8h-0.8zM100.6 91.6h0.8v0.8h-0.8zM106.6 86.4h0.8v0.8h-0.8zM101.6 85.4h0.8v0.8h-0.8zM96.7 83.0h0.8v0.8h-0.8zM107.4 82.5h0.8v0.8h-0.8zM109.8 94.6h0.8v0.8h-0.8zM107.1 89.8h0.8v0.8h-0.8zM92.5 85.7h0.8v0.8h-0.8zM107.8 86.4h0.8v0.8h-0.8zM104.6 91.7h0.8v0.8h-0.8zM102.9 91.0h0.8v0.8h-0.8zM102.4 90.3h0.8v0.8h-0.8zM104.8 90.1h0.8v0.8h-0.8zM102.9 89.5h0.8v0.8h-0.8zM103.2 83.3h0.8v0.8h-0.8zM96.6 80.2h0.8v0.8h-0.8zM99.3 78.9h0.8v0.8h-0.8zM104.2 86.3h0.8v0.8h-0.8zM100.9 101.8h0.8v0.8h-0.8zM104.8 85.8h0.8v0.8h-0.8zM103.0 86.4h0.8v0.8h-0.8zM99.1 96.1h0.8v0.8h-0.8zM104.9 94.3h0.8v0.8h-0.8zM99.6 94.8h0.8v0.8h-0.8zM102.8 91.7h0.8v0.8h-0.8zM98.2 82.7h0.8v0.8h-0.8zM102.3 86.1h0.8v0.8h-0.8zM102.6 77.6h0.8v0.8h-0.8zM98.9 85.4h0.8v0.8h-0.8zM104.1 82.6h0.8v0.8h-0.8zM98.0 94.4h0.8v0.8h-0.8zM104.9 78.6h0.8v0.8h-0.8zM100.7 86.6h0.8v0.8h-0.8zM105.5 89.3h0.8v0.8h-0.8zM105.6 90.0h0.8v0.8h-0.8zM103.3 94.1h0.8v0.8h-0.8zM106.4 89.6h0.8v0.8h-0.8zM97.5 104.4h0.8v0.8h-0.8zM96.7 86.1h0.8v0.8h-0.8zM104.1 84.4h0.8v0.8h-0.8zM104.5 87.2h0.8v0.8h-0.8zM103.8 88.7h0.8v0.8h-0.8zM96.4 90.1h0.8v0.8h-0.8zM106.9 93.3h0.8v0.8h-0.8zM105.0 79.8h0.8v0.8h-0.8zM102.5 87.1h0.8v0.8h-0.8zM101.5 77.6h0.8v0.8h-0.8zM101.4 91.6h0.8v0.8h-0.8zM100.3 97.5h0.8v0.8h-0.8zM94.1 85.9h0.8v0.8h-0.8zM99.0 92.9h0.8v0.8h-0.8zM102.7 82.6h0.8v0.8h-0.8zM100.4 88.6h0.8v0.8h-0.8zM100.0 82.5h0.8v0.8h-0.8zM100.9 90.9h0.8v0.8h-0.8zM99.8 88.6h0.8v0.8h-0.8zM100.1 84.7h0.8v0.8h-0.8zM100.5 91.2h0.8v0.8h-0.8zM107.1 88.3h0.8v0.8h-0.8zM99.8 95.8h0.8v0.8h-0.8zM104.8 86.4h0.8v0.8h-0.8zM105.0 81.3h0.8v0.8h-0.8zM95.2 80.9h0.8v0.8h-0.8zM100.9 80.2h0.8v0.8h-0.8zM105.6 86.2h0.8v0.8h-0.8zM101.5 87.3h0.8v0.8h-0.8zM102.4 81.5h0.8v0.8h-0.8zM111.2 80.8h0.8v0.8h-0.8zM100.1 89.8h0.8v0.8h-0.8zM100.8 86.1h0.8v0.8h-0.8zM102.0 88.3h0.8v0.8h-0.8zM98.5 91.0h0.8v0.8h-0.8zM100.8 93.9h0.8v0.8h-0.8zM104.8 78.4h0.8v0.8h-0.8zM96.4 82.5h0.8v0.8h-0.8zM105.5 80.4h0.8v0.8h-0.8zM97.4 91.5h0.8v0.8h-0.8zM103.6 84.2h0.8v0.8h-0.8zM100.8 87.2h0.8v0.8h-0.8zM100.4 85.0h0.8v0.8h-0.8zM98.8 87.0h0.8v0.8h-0.8zM104.6 95.1h0.8v0.8h-0.8zM93.4 95.2h0.8v0.8h-0.8zM103.1 80.7h0.8v0.8h-0.8zM95.9 85.6h0.8v0.8h-0.8zM103.2 84.4h0.8v0.8h-0.8zM98.9 84.9h0.8v0.8h-0.8zM101.2 90.1h0.8v0.8h-0.8zM107.0 77.3h0.8v0.8h-0.8zM98.9 87.2h0.8v0.8h-0.8zM101.4 90.8h0.8v0.8h-0.8zM93.7 91.7h0.8v0.8h-0.8zM97.5 84.5h0.8v0.8h-0.8zM100.5 84.2h0.8v0.8h-0.8zM97.4 89.4h0.8v0.8h-0.8zM103.5 89.4h0.8v0.8h-0.8zM97.9 82.5h0.8v0.8h-0.8zM100.5 88.5h0.8v0.8h-0.8zM99.8 85.0h0.8v0.8h-0.8zM110.4 90.4h0.8v0.8h-0.8zM104.2 75.9h0.8v0.8h-0.8zM96.2 92.9h0.8v0.8h-0.8zM106.2 82.8h0.8v0.8h-0.8zM103.8 88.6h0.8v0.8h-0.8zM97.3 89.3h0.8v0.8h-0.8zM99.7 84.8h0.8v0.8h-0.8zM101.1 87.8h0.8v0.8h-0.8zM99.4 87.6h0.8v0.8h-0.8zM101.1 87.7h0.8v0.8h-0.8zM103.7 84.6h0.8v0.8h-0.8zM96.7 84.8h0.8v0.8h-0.8zM105.1 89.8h0.8v0.8h-0.8zM103.3 84.0h0.8v0.8h-0.8zM99.3 80.1h0.8v0.8h-0.8zM98.8 84.1h0.8v0.8h-0.8zM96.2 84.4h0.8v0.8h-0.8zM94.9 87.7h0.8v0.8h-0.8zM104.0 79.3h0.8v0.8h-0.8zM99.1 87.2h0.8v0.8h-0.8zM101.5 90.7h0.8v0.8h-0.8zM100.4 85.8h0.8v0.8h-0.8zM99.7 88.9h0.8v0.8h-0.8zM99.2 85.3h0.8v0.8h-0.8zM102.4 85.5h0.8v0.8h-0.8zM95.5 91.3h0.8v0.8h-0.8zM104.5 83.6h0.8v0.8h-0.8zM109.3 86.0h0.8v0.8h-0.8zM98.9 84.2h0.8v0.8h-0.8zM100.9 94.0h0.8v0.8h-0.8zM105.2 90.9h0.8v0.8h-0.8zM100.5 89.8h0.8v0.8h-0.8zM99.7 82.8h0.8v0.8h-0.8zM102.9 88.4h0.8v0.8h-0.8zM103.8 82.8h0.8v0.8h-0.8zM104.5 81.0h0.8v0.8h-0.8zM104.5 88.1h0.8v0.8h-0.8zM99.9 84.0h0.8v0.8h-0.8zM106.1 103.8h0.8v0.8h-0.8zM96.8 91.8h0.8v0.8h-0.8zM89.6 88.0h0.8v0.8h-0.8zM101.0 88.0h0.8v0.8h-0.8zM100.1 80.0h0.8v0.8h-0.8zM102.9 85.2h0.8v0.8h-0.8zM101.4 92.0h0.8v0.8h-0.8zM100.1 89.0h0.8v0.8h-0.8zM101.6 88.1h0.8v0.8h-0.8zM99.2 87.2h0.8v0.8h-0.8zM102.7 87.7h0.8v0.8h-0.8zM102.1 80.0h0.8v0.8h-0.8zM95.2 92.2h0.8v0.8h-0.8zM104.4 89.4h0.8v0.8h-0.8zM102.6 86.6h0.8v0.8h-0.8zM102.2 91.8h0.8v0.8h-0.8zM100.0 87.9h0.8v0.8h-0.8zM107.1 81.3h0.8v0.8h-0.8zM99.0 83.2h0.8v0.8h-0.8zM98.0 83.5h0.8v0.8h-0.8zM99.1 84.1h0.8v0.8h-0.8zM104.8 82.4h0.8v0.8h-0.8zM99.5 92.9h0.8v0.8h-0.8zM103.9 81.8h0.8v0.8h-0.8zM97.4 91.1h0.8v0.8h-0.8zM101.4 83.8h0.8v0.8h-0.8zM105.2 84.8h0.8v0.8h-0.8zM96.6 88.1h0.8v0.8h-0.8zM102.4 84.1h0.8v0.8h-0.8zM101.2 92.2h0.8v0.8h-0.8zM104.9 88.7h0.8v0.8h-0.8zM102.2 89.6h0.8v0.8h-0.8zM93.6 92.1h0.8v0.8h-0.8zM100.0 83.6h0.8v0.8h-0.8zM100.0 81.7h0.8v0.8h-0.8zM105.1 88.3h0.8v0.8h-0.8zM102.2 78.3h0.8v0.8h-0.8zM102.0 86.9h0.8v0.8h-0.8zM98.0 85.1h0.8v0.8h-0.8zM94.1 87.4h0.8v0.8h-0.8zM96.4 87.5h0.8v0.8h-0.8zM105.0 77.9h0.8v0.8h-0.8zM98.5 82.7h0.8v0.8h-0.8zM103.1 90.4h0.8v0.8h-0.8zM100.9 94.8h0.8v0.8h-0.8zM101.2 84.3h0.8v0.8h-0.8zM96.5 80.1h0.8v0.8h-0.8zM104.6 84.0h0.8v0.8h-0.8zM96.9 89.9h0.8v0.8h-0.8zM90.7 89.8h0.8v0.8h-0.8zM108.6 80.8h0.8v0.8h-0.8zM103.0 87.4h0.8v0.8h-0.8zM105.0 86.5h0.8v0.8h-0.8zM98.7 92.8h0.8v0.8h-0.8zM98.7 87.9h0.8v0.8h-0.8zM103.7 87.2h0.8v0.8h-0.8zM103.6 90.2h0.8v0.8h-0.8zM106.9 80.6h0.8v0.8h-0.8zM97.3 86.8h0.8v0.8h-0.8zM103.1 94.5h0.8v0.8h-0.8zM102.6 83.7h0.8v0.8h-0.8zM100.6 77.1h0.8v0.8h-0.8zM98.7 88.7h0.8v0.8h-0.8zM103.4 80.4h0.8v0.8h-0.8zM100.9 87.0h0.8v0.8h-0.8zM96.5 92.2h0.8v0.8h-0.8zM101.1 92.1h0.8v0.8h-0.8zM103.2 82.8h0.8v0.8h-0.8zM103.3 93.0h0.8v0.8h-0.8zM101.4 80.4h0.8v0.8h-0.8zM105.0 85.5h0.8v0.8h-0.8zM97.5 85.1h0.8v0.8h-0.8zM104.4 84.3h0.8v0.8h-0.8zM99.9 91.2h0.8v0.8h-0.8zM106.4 81.1h0.8v0.8h-0.8zM101.0 95.4h0.8v0.8h-0.8zM104.6 87.6h0.8v0.8h-0.8zM105.1 80.6h0.8v0.8h-0.8zM100.2 83.9h0.8v0.8h-0.8zM108.5 89.5h0.8v0.8h-0.8zM95.4 92.9h0.8v0.8h-0.8zM108.2 81.3h0.8v0.8h-0.8zM103.3 79.4h0.8v0.8h-0.8zM108.5 78.4h0.8v0.8h-0.8zM109.4 84.6h0.8v0.8h-0.8zM94.5 94.7h0.8v0.8h-0.8zM102.6 89.1h0.8v0.8h-0.8zM105.8 83.7h0.8v0.8h-0.8zM104.8 86.8h0.8v0.8h-0.8zM102.8 88.5h0.8v0.8h-0.8zM108.1 83.1h0.8v0.8h-0.8zM95.6 88.0h0.8v0.8h-0.8zM108.6 92.2h0.8v0.8h-0.8zM99.7 89.6h0.8v0.8h-0.8zM97.1 85.8h0.8v0.8h-0.8zM95.4 85.3h0.8v0.8h-0.8zM101.2 95.1h0.8v0.8h-0.8zM98.2 90.3h0.8v0.8h-0.8zM107.6 84.0h0.8v0.8h-0.8zM103.3 78.5h0.8v0.8h-0.8zM97.7 87.7h0.8v0.8h-0.8zM94.9 83.1h0.8v0.8h-0.8zM101.6 94.0h0.8v0.8h-0.8zM92.2 85.4h0.8v0.8h-0.8zM102.9 76.2h0.8v0.8h-0.8zM97.0 88.2h0.8v0.8h-0.8zM100.2 89.9h0.8v0.8h-0.8zM99.3 89.3h0.8v0.8h-0.8zM99.6 81.5h0.8v0.8h-0.8zM103.5 79.1h0.8v0.8h-0.8zM106.0 87.3h0.8v0.8h-0.8zM99.4 81.9h0.8v0.8h-0.8zM97.9 86.2h0.8v0.8h-0.8zM98.7 90.1h0.8v0.8h-0.8zM97.5 85.1h0.8v0.8h-0.8zM96.9 83.0h0.8v0.8h-0.8zM106.2 88.0h0.8v0.8h-0.8zM104.5 87.7h0.8v0.8h-0.8zM99.0 81.7h0.8v0.8h-0.8zM97.0 86.9h0.8v0.8h-0.8zM97.5 99.8h0.8v0.8h-0.8zM105.7 92.6h0.8v0.8h-0.8zM97.8 86.2h0.8v0.8h-0.8zM94.6 95.9h0.8v0.8h-0.8zM97.0 91.0h0.8v0.8h-0.8zM95.5 88.5h0.8v0.8h-0.8zM97.9 83.3h0.8v0.8h-0.8zM101.7 87.7h0.8v0.8h-0.8zM101.3 86.5h0.8v0.8h-0.8zM98.6 85.3h0.8v0.8h-0.8zM102.6 82.7h0.8v0.8h-0.8zM103.0 88.3h0.8v0.8h-0.8zM96.7 91.6h0.8v0.8h-0.8zM102.4 77.9h0.8v0.8h-0.8zM106.3 86.8h0.8v0.8h-0.8zM105.7 90.6h0.8v0.8h-0.8zM96.6 90.6h0.8v0.8h-0.8zM101.5 91.4h0.8v0.8h-0.8zM99.0 93.7h0.8v0.8h-0.8zM105.0 86.6h0.8v0.8h-0.8zM96.3 84.8h0.8v0.8h-0.8zM103.1 82.7h0.8v0.8h-0.8zM98.3 93.1h0.8v0.8h-0.8zM98.0 91.1h0.8v0.8h-0.8zM99.7 81.5h0.8v0.8h-0.8zM104.8 87.3h0.8v0.8h-0.8zM100.5 91.6h0.8v0.8h-0.8zM108.9 83.5h0.8v0.8h-0.8zM103.0 88.6h0.8v0.8h-0.8zM99.0 94.8h0.8v0.8h-0.8zM101.5 84.0h0.8v0.8h-0.8zM106.3 78.7h0.8v0.8h-0.8zM104.0 83.5h0.8v0.8h-0.8zM103.6 84.0h0.8v0.8h-0.8zM103.5 86.4h0.8v0.8h-0.8zM98.0 88.3h0.8v0.8h-0.8zM106.4 80.8h0.8v0.8h-0.8zM97.4 84.1h0.8v0.8h-0.8zM97.9 92.1h0.8v0.8h-0.8zM106.0 90.9h0.8v0.8h-0.8zM105.6 86.8h0.8v0.8h-0.8zM96.2 86.5h0.8v0.8h-0.8zM92.8 91.7h0.8v0.8h-0.8zM100.4 92.2h0.8v0.8h-0.8zM101.7 79.1h0.8v0.8h-0.8zM99.9 88.7h0.8v0.8h-0.8zM101.4 84.4h0.8v0.8h-0.8zM101.9 86.1h0.8v0.8h-0.8zM108.2 82.9h0.8v0.8h-0.8zM93.9 83.7h0.8v0.8h-0.8zM104.7 80.5h0.8v0.8h-0.8zM100.5 88.7h0.8v0.8h-0.8zM102.0 88.6h0.8v0.8h-0.8zM101.1 79.6h0.8v0.8h-0.8zM105.1 86.5h0.8v0.8h-0.8zM94.2 91.9h0.8v0.8h-0.8zM108.3 75.6h0.8v0.8h-0.8zM109.9 90.7h0.8v0.8h-0.8zM94.3 89.0h0.8v0.8h-0.8zM100.5 92.7h0.8v0.8h-0.8zM104.0 79.6h0.8v0.8h-0.8zM101.4 84.8h0.8v0.8h-0.8zM102.6 86.4h0.8v0.8h-0.8zM105.2 82.2h0.8v0.8h-0.8zM100.3 83.9h0.8v0.8h-0.8zM105.4 79.9h0.8v0.8h-0.8zM97.6 97.2h0.8v0.8h-0.8zM93.5 89.1h0.8v0.8h-0.8zM100.1 91.3h0.8v0.8h-0.8zM101.1 88.0h0.8v0.8h-0.8zM101.9 89.3h0.8v0.8h-0.8zM97.4 84.8h0.8v0.8h-0.8zM105.3 95.3h0.8v0.8h-0.8zM99.9 81.7h0.8v0.8h-0.8zM99.1 91.2h0.8v0.8h-0.8zM105.4 85.4h0.8v0.8h-0.8zM93.3 83.7h0.8v0.8h-0.8zM93.8 90.0h0.8v0.8h-0.8zM105.3 91.6h0.8v0.8h-0.8zM102.5 90.0h0.8v0.8h-0.8zM105.9 93.9h0.8v0.8h-0.8zM108.1 83.6h0.8v0.8h-0.8zM99.6 86.2h0.8v0.8h-0.8zM94.2 82.8h0.8v0.8h-0.8zM101.4 86.5h0.8v0.8h-0.8zM110.3 89.1h0.8v0.8h-0.8zM100.8 86.1h0.8v0.8h-0.8zM102.4 80.2h0.8v0.8h-0.8zM105.1 88.3h0.8v0.8h-0.8zM102.5 87.4h0.8v0.8h-0.8zM101.2 78.9h0.8v0.8h-0.8zM99.5 88.8h0.8v0.8h-0.8zM99.7 89.9h0.8v0.8h-0.8zM99.1 84.6h0.8v0.8h-0.8zM102.0 86.6h0.8v0.8h-0.8zM99.6 93.3h0.8v0.8h-0.8zM99.7 86.9h0.8v0.8h-0.8zM98.2 88.4h0.8v0.8h-0.8zM103.3 83.9h0.8v0.8h-0.8zM99.8 80.4h0.8v0.8h-0.8zM100.1 87.1h0.8v0.8h-0.8zM99.8 85.7h0.8v0.8h-0.8zM98.1 97.2h0.8v0.8h-0.8zM101.7 98.4h0.8v0.8h-0.8zM101.4 87.9h0.8v0.8h-0.8zM107.4 90.9h0.8v0.8h-0.8zM104.4 85.4h0.8v0.8h-0.8zM98.2 89.5h0.8v0.8h-0.8zM100.3 83.2h0.8v0.8h-0.8zM95.7 86.3h0.8v0.8h-0.8zM100.1 89.1h0.8v0.8h-0.8zM100.3 80.3h0.8v0.8h-0.8zM105.1 88.3h0.8v0.8h-0.8zM105.8 82.8h0.8v0.8h-0.8zM100.9 74.2h0.8v0.8h-0.8zM100.8 91.5h0.8v0.8h-0.8zM103.1 96.2h0.8v0.8h-0.8zM96.8 79.8h0.8v0.8h-0.8zM100.8 82.7h0.8v0.8h-0.8zM101.9 83.1h0.8v0.8h-0.8zM96.3 84.8h0.8v0.8h-0.8zM103.0 83.6h0.8v0.8h-0.8zM103.5 81.2h0.8v0.8h-0.8zM100.7 84.9h0.8v0.8h-0.8zM99.9 85.9h0.8v0.8h-0.8zM99.1 79.4h0.8v0.8h-0.8zM97.3 89.0h0.8v0.8h-0.8zM99.5 81.6h0.8v0.8h-0.8zM108.5 88.2h0.8v0.8h-0.8zM101.4 82.5h0.8v0.8h-0.8zM105.5 90.9h0.8v0.8h-0.8zM99.7 94.1h0.8v0.8h-0.8zM99.9 78.0h0.8v0.8h-0.8zM104.4 90.1h0.8v0.8h-0.8zM98.3 89.6h0.8v0.8h-0.8zM97.9 95.2h0.8v0.8h-0.8zM96.4 86.8h0.8v0.8h-0.8zM103.3 91.9h0.8v0.8h-0.8zM100.7 84.6h0.8v0.8h-0.8zM98.7 89.3h0.8v0.8h-0.8zM100.1 85.7h0.8v0.8h-0.8zM105.0 87.6h0.8v0.8h-0.8zM102.3 86.6h0.8v0.8h-0.8zM104.9 77.1h0.8v0.8h-0.8zM97.5 87.2h0.8v0.8h-0.8zM100.1 83.3h0.8v0.8h-0.8zM97.9 96.9h0.8v0.8h-0.8zM100.2 81.7h0.8v0.8h-0.8zM94.4 86.6h0.8v0.8h-0.8zM102.4 83.1h0.8v0.8h-0.8zM98.3 90.6h0.8v0.8h-0.8zM104.2 89.7h0.8v0.8h-0.8zM103.7 92.7h0.8v0.8h-0.8zM98.5 89.7h0.8v0.8h-0.8zM100.6 90.4h0.8v0.8h-0.8zM98.9 96.5h0.8v0.8h-0.8zM96.4 86.8h0.8v0.8h-0.8zM93.9 95.6h0.8v0.8h-0.8zM100.1 84.6h0.8v0.8h-0.8zM101.3 86.6h0.8v0.8h-0.8zM107.2 88.7h0.8v0.8h-0.8zM100.5 91.8h0.8v0.8h-0.8zM108.0 84.5h0.8v0.8h-0.8zM104.5 81.4h0.8v0.8h-0.8zM100.7 93.6h0.8v0.8h-0.8zM99.9 84.9h0.8v0.8h-0.8zM104.7 90.2h0.8v0.8h-0.8zM104.8 85.8h0.8v0.8h-0.8zM100.8 84.8h0.8v0.8h-0.8zM109.1 82.2h0.8v0.8h-0.8zM97.0 93.0h0.8v0.8h-0.8zM102.8 81.9h0.8v0.8h-0.8zM102.5 86.1h0.8v0.8h-0.8zM100.1 88.8h0.8v0.8h-0.8zM106.4 81.2h0.8v0.8h-0.8zM99.6 93.6h0.8v0.8h-0.8zM96.8 84.7h0.8v0.8h-0.8zM96.2 88.3h0.8v0.8h-0.8zM98.9 84.3h0.8v0.8h-0.8zM99.1 88.3h0.8v0.8h-0.8zM99.0 79.0h0.8v0.8h-0.8zM99.8 93.0h0.8v0.8h-0.8zM98.9 88.0h0.8v0.8h-0.8zM102.0 87.6h0.8v0.8h-0.8zM102.1 84.4h0.8v0.8h-0.8zM98.5 91.8h0.8v0.8h-0.8zM100.8 93.0h0.8v0.8h-0.8zM98.6 86.4h0.8v0.8h-0.8zM101.2 80.2h0.8v0.8h-0.8zM104.8 86.7h0.8v0.8h-0.8zM104.4 80.9h0.8v0.8h-0.8zM100.6 85.9h0.8v0.8h-0.8zM98.3 90.8h0.8v0.8h-0.8zM102.7 88.0h0.8v0.8h-0.8zM102.8 85.1h0.8v0.8h-0.8zM99.3 84.7h0.8v0.8h-0.8zM98.1 84.8h0.8v0.8h-0.8zM99.1 91.6h0.8v0.8h-0.8zM95.9 96.9h0.8v0.8h-0.8zM99.3 86.7h0.8v0.8h-0.8zM102.2 84.1h0.8v0.8h-0.8zM103.9 78.9h0.8v0.8h-0.8zM106.0 85.6h0.8v0.8h-0.8zM104.1 78.8h0.8v0.8h-0.8zM105.3 81.9h0.8v0.8h-0.8zM107.6 83.9h0.8v0.8h-0.8zM97.7 88.8h0.8v0.8h-0.8zM108.8 79.7h0.8v0.8h-0.8zM92.9 91.8h0.8v0.8h-0.8zM105.2 80.6h0.8v0.8h-0.8zM98.7 89.3h0.8v0.8h-0.8zM97.5 93.0h0.8v0.8h-0.8zM98.6 86.6h0.8v0.8h-0.8zM102.9 94.8h0.8v0.8h-0.8zM101.2 89.7h0.8v0.8h-0.8zM100.2 86.1h0.8v0.8h-0.8zM98.7 87.8h0.8v0.8h-0.8zM105.8 83.4h0.8v0.8h-0.8zM97.2 85.5h0.8v0.8h-0.8zM107.8 90.3h0.8v0.8h-0.8zM101.8 86.8h0.8v0.8h-0.8zM96.7 81.6h0.8v0.8h-0.8zM109.8 79.4h0.8v0.8h-0.8zM109.4 83.7h0.8v0.8h-0.8zM104.0 100.9h0.8v0.8h-0.8zM106.6 88.0h0.8v0.8h-0.8zM104.2 85.1h0.8v0.8h-0.8zM99.4 87.1h0.8v0.8h-0.8zM89.6 85.3h0.8v0.8h-0.8zM102.0 81.6h0.8v0.8h-0.8zM99.3 89.3h0.8v0.8h-0.8zM98.1 87.4h0.8v0.8h-0.8zM96.5 85.5h0.8v0.8h-0.8zM96.1 88.7h0.8v0.8h-0.8zM96.7 88.2h0.8v0.8h-0.8zM94.2 85.1h0.8v0.8h-0.8zM106.4 84.5h0.8v0.8h-0.8zM102.8 83.0h0.8v0.8h-0.8zM101.7 90.7h0.8v0.8h-0.8zM103.1 94.1h0.8v0.8h-0.8zM106.9 85.2h0.8v0.8h-0.8zM100.8 89.3h0.8v0.8h-0.8zM104.0 81.2h0.8v0.8h-0.8zM104.1 100.6h0.8v0.8h-0.8zM105.7 75.3h0.8v0.8h-0.8zM107.8 88.2h0.8v0.8h-0.8zM110.7 85.0h0.8v0.8h-0.8zM101.8 91.0h0.8v0.8h-0.8zM96.9 83.5h0.8v0.8h-0.8zM101.9 90.3h0.8v0.8h-0.8zM106.8 75.6h0.8v0.8h-0.8zM92.5 85.4h0.8v0.8h-0.8zM109.2 81.9h0.8v0.8h-0.8zM101.1 91.4h0.8v0.8h-0.8zM100.5 78.5h0.8v0.8h-0.8zM102.9 85.1h0.8v0.8h-0.8zM101.3 85.7h0.8v0.8h-0.8zM100.4 88.0h0.8v0.8h-0.8zM99.5 86.0h0.8v0.8h-0.8zM100.7 82.2h0.8v0.8h-0.8zM103.8 83.5h0.8v0.8h-0.8zM103.1 87.3h0.8v0.8h-0.8zM104.0 90.7h0.8v0.8h-0.8zM94.5 84.2h0.8v0.8h-0.8zM103.4 88.1h0.8v0.8h-0.8zM99.7 91.6h0.8v0.8h-0.8zM105.8 81.6h0.8v0.8h-0.8zM100.0 91.4h0.8v0.8h-0.8zM103.9 81.3h0.8v0.8h-0.8zM103.0 90.4h0.8v0.8h-0.8zM104.9 89.0h0.8v0.8h-0.8zM100.3 90.7h0.8v0.8h-0.8zM94.7 93.1h0.8v0.8h-0.8zM102.3 88.3h0.8v0.8h-0.8zM102.6 91.2h0.8v0.8h-0.8zM92.2 88.2h0.8v0.8h-0.8zM102.2 83.1h0.8v0.8h-0.8zM102.8 92.1h0.8v0.8h-0.8zM103.6 84.5h0.8v0.8h-0.8zM103.2 82.6h0.8v0.8h-0.8zM111.0 87.0h0.8v0.8h-0.8zM101.6 95.1h0.8v0.8h-0.8zM99.2 83.3h0.8v0.8h-0.8zM94.0 82.9h0.8v0.8h-0.8zM96.5 85.8h0.8v0.8h-0.8zM100.5 86.5h0.8v0.8h-0.8zM102.2 84.7h0.8v0.8h-0.8zM101.8 86.6h0.8v0.8h-0.8zM99.3 84.5h0.8v0.8h-0.8zM101.4 80.3h0.8v0.8h-0.8zM104.2 78.4h0.8v0.8h-0.8zM103.1 87.3h0.8v0.8h-0.8zM99.9 92.1h0.8v0.8h-0.8zM105.2 86.0h0.8v0.8h-0.8zM100.5 92.5h0.8v0.8h-0.8zM100.1 88.3h0.8v0.8h-0.8zM104.4 82.7h0.8v0.8h-0.8zM102.9 85.4h0.8v0.8h-0.8zM99.7 88.4h0.8v0.8h-0.8zM105.0 83.6h0.8v0.8h-0.8zM100.7 85.6h0.8v0.8h-0.8zM97.4 87.2h0.8v0.8h-0.8zM101.7 83.4h0.8v0.8h-0.8zM104.6 87.6h0.8v0.8h-0.8zM97.4 84.9h0.8v0.8h-0.8zM100.2 87.8h0.8v0.8h-0.8zM108.1 92.0h0.8v0.8h-0.8zM106.5 87.8h0.8v0.8h-0.8zM102.1 89.6h0.8v0.8h-0.8zM100.5 87.7h0.8v0.8h-0.8zM98.6 89.3h0.8v0.8h-0.8zM95.4 93.3h0.8v0.8h-0.8zM90.8 75.9h0.8v0.8h-0.8zM100.2 88.2h0.8v0.8h-0.8zM104.4 79.7h0.8v0.8h-0.8zM104.2 83.3h0.8v0.8h-0.8zM102.6 85.1h0.8v0.8h-0.8zM102.8 79.6h0.8v0.8h-0.8zM97.7 82.6h0.8v0.8h-0.8zM97.2 86.5h0.8v0.8h-0.8zM96.1 86.0h0.8v0.8h-0.8zM104.4 84.1h0.8v0.8h-0.8zM98.5 84.0h0.8v0.8h-0.8zM101.7 94.0h0.8v0.8h-0.8zM108.5 89.8h0.8v0.8h-0.8zM103.1 88.4h0.8v0.8h-0.8zM102.9 81.9h0.8v0.8h-0.8zM98.2 91.3h0.8v0.8h-0.8zM107.0 85.8h0.8v0.8h-0.8zM92.7 93.2h0.8v0.8h-0.8zM100.6 88.8h0.8v0.8h-0.8zM103.6 78.5h0.8v0.8h-0.8zM103.9 82.8h0.8v0.8h-0.8zM101.3 83.6h0.8v0.8h-0.8zM96.5 97.2h0.8v0.8h-0.8zM109.6 79.9h0.8v0.8h-0.8zM96.8 82.6h0.8v0.8h-0.8zM97.7 89.4h0.8v0.8h-0.8zM107.8 85.4h0.8v0.8h-0.8zM103.5 86.5h0.8v0.8h-0.8zM92.6 89.6h0.8v0.8h-0.8zM108.6 85.3h0.8v0.8h-0.8zM104.3 85.2h0.8v0.8h-0.8zM101.7 84.6h0.8v0.8h-0.8zM100.7 86.8h0.8v0.8h-0.8zM98.7 87.2h0.8v0.8h-0.8zM95.5 88.8h0.8v0.8h-0.8zM101.0 77.3h0.8v0.8h-0.8zM104.7 86.3h0.8v0.8h-0.8zM98.0 90.2h0.8v0.8h-0.8zM98.0 95.4h0.8v0.8h-0.8zM105.0 80.9h0.8v0.8h-0.8zM100.6 83.1h0.8v0.8h-0.8zM97.5 93.9h0.8v0.8h-0.8zM107.8 97.8h0.8v0.8h-0.8zM101.9 89.8h0.8v0.8h-0.8zM105.4 77.1h0.8v0.8h-0.8zM102.8 97.4h0.8v0.8h-0.8zM99.5 86.0h0.8v0.8h-0.8zM99.2 85.0h0.8v0.8h-0.8zM100.1 80.6h0.8v0.8h-0.8zM108.6 79.6h0.8v0.8h-0.8zM106.6 82.9h0.8v0.8h-0.8zM103.7 77.4h0.8v0.8h-0.8zM105.1 83.1h0.8v0.8h-0.8zM111.3 85.7h0.8v0.8h-0.8zM101.0 90.0h0.8v0.8h-0.8zM99.3 81.8h0.8v0.8h-0.8zM96.7 87.9h0.8v0.8h-0.8zM100.6 91.7h0.8v0.8h-0.8zM97.9 80.8h0.8v0.8h-0.8zM101.6 84.6h0.8v0.8h-0.8zM100.5 92.2h0.8v0.8h-0.8zM103.0 83.4h0.8v0.8h-0.8zM102.3 83.5h0.8v0.8h-0.8zM96.0 94.3h0.8v0.8h-0.8zM100.6 95.8h0.8v0.8h-0.8zM100.6 86.2h0.8v0.8h-0.8zM96.5 86.3h0.8v0.8h-0.8zM102.6 90.8h0.8v0.8h-0.8zM97.1 85.8h0.8v0.8h-0.8zM105.2 85.8h0.8v0.8h-0.8zM104.5 85.4h0.8v0.8h-0.8zM102.2 84.2h0.8v0.8h-0.8zM97.5 81.2h0.8v0.8h-0.8zM102.3 85.7h0.8v0.8h-0.8zM102.2 84.2h0.8v0.8h-0.8zM104.6 87.1h0.8v0.8h-0.8zM103.4 85.1h0.8v0.8h-0.8zM105.9 87.9h0.8v0.8h-0.8zM99.2 97.2h0.8v0.8h-0.8zM105.3 80.3h0.8v0.8h-0.8zM98.4 87.4h0.8v0.8h-0.8zM99.2 78.5h0.8v0.8h-0.8zM103.4 79.6h0.8v0.8h-0.8zM104.3 90.1h0.8v0.8h-0.8zM98.2 91.8h0.8v0.8h-0.8zM100.9 80.6h0.8v0.8h-0.8zM104.3 88.0h0.8v0.8h-0.8zM98.8 91.1h0.8v0.8h-0.8zM99.7 89.5h0.8v0.8h-0.8zM100.1 92.2h0.8v0.8h-0.8zM103.9 85.3h0.8v0.8h-0.8zM107.0 87.0h0.8v0.8h-0.8zM109.3 83.2h0.8v0.8h-0.8zM105.1 76.8h0.8v0.8h-0.8zM100.9 93.4h0.8v0.8h-0.8zM99.2 88.4h0.8v0.8h-0.8zM98.2 92.9h0.8v0.8h-0.8zM101.8 88.8h0.8v0.8h-0.8zM107.5 81.3h0.8v0.8h-0.8zM103.4 88.2h0.8v0.8h-0.8zM105.7 88.5h0.8v0.8h-0.8zM103.4 87.3h0.8v0.8h-0.8zM98.7 83.3h0.8v0.8h-0.8zM102.8 80.6h0.8v0.8h-0.8zM101.9 84.6h0.8v0.8h-0.8zM107.9 88.0h0.8v0.8h-0.8zM101.5 87.4h0.8v0.8h-0.8zM106.3 80.4h0.8v0.8h-0.8zM92.7 91.7h0.8v0.8h-0.8zM99.9 81.8h0.8v0.8h-0.8zM104.8 89.6h0.8v0.8h-0.8zM97.3 89.1h0.8v0.8h-0.8zM94.8 92.6h0.8v0.8h-0.8zM99.7 87.9h0.8v0.8h-0.8zM98.1 95.4h0.8v0.8h-0.8zM98.2 85.2h0.8v0.8h-0.8zM111.9 80.3h0.8v0.8h-0.8zM99.2 87.4h0.8v0.8h-0.8zM99.8 88.5h0.8v0.8h-0.8zM107.1 83.2h0.8v0.8h-0.8zM96.9 91.9h0.8v0.8h-0.8zM112.3 77.3h0.8v0.8h-0.8zM101.5 91.9h0.8v0.8h-0.8zM100.4 82.1h0.8v0.8h-0.8zM97.7 84.5h0.8v0.8h-0.8zM96.2 88.5h0.8v0.8h-0.8zM98.1 88.3h0.8v0.8h-0.8zM94.5 88.8h0.8v0.8h-0.8zM102.0 91.8h0.8v0.8h-0.8zM98.5 97.4h0.8v0.8h-0.8zM104.5 88.2h0.8v0.8h-0.8zM107.4 87.2h0.8v0.8h-0.8zM99.2 94.3h0.8v0.8h-0.8zM99.7 86.2h0.8v0.8h-0.8zM101.9 87.9h0.8v0.8h-0.8zM98.8 91.0h0.8v0.8h-0.8zM109.3 87.8h0.8v0.8h-0.8zM97.0 82.9h0.8v0.8h-0.8zM98.6 79.4h0.8v0.8h-0.8zM96.0 90.3h0.8v0.8h-0.8zM100.7 90.2h0.8v0.8h-0.8zM99.3 91.2h0.8v0.8h-0.8zM97.8 92.1h0.8v0.8h-0.8zM104.0 88.9h0.8v0.8h-0.8zM98.1 80.1h0.8v0.8h-0.8zM103.9 82.5h0.8v0.8h-0.8zM101.0 85.9h0.8v0.8h-0.8zM107.1 85.5h0.8v0.8h-0.8zM102.5 84.9h0.8v0.8h-0.8zM98.0 87.8h0.8v0.8h-0.8zM106.9 81.6h0.8v0.8h-0.8zM102.8 98.6h0.8v0.8h-0.8zM101.0 89.3h0.8v0.8h-0.8zM98.4 83.7h0.8v0.8h-0.8zM102.5 86.8h0.8v0.8h-0.8zM107.4 84.6h0.8v0.8h-0.8zM99.6 88.9h0.8v0.8h-0.8zM101.5 85.6h0.8v0.8h-0.8zM100.2 88.5h0.8v0.8h-0.8zM90.5 96.0h0.8v0.8h-0.8zM105.6 83.0h0.8v0.8h-0.8zM100.0 80.6h0.8v0.8h-0.8zM105.8 79.1h0.8v0.8h-0.8zM110.6 87.4h0.8v0.8h-0.8zM93.2 94.3h0.8v0.8h-0.8zM100.5 89.0h0.8v0.8h-0.8zM101.1 85.4h0.8v0.8h-0.8zM111.5 80.6h0.8v0.8h-0.8zM103.4 83.8h0.8v0.8h-0.8zM100.2 86.1h0.8v0.8h-0.8zM94.0 87.3h0.8v0.8h-0.8zM101.1 89.5h0.8v0.8h-0.8zM98.1 89.4h0.8v0.8h-0.8zM98.5 89.7h0.8v0.8h-0.8zM104.9 91.3h0.8v0.8h-0.8zM96.3 85.3h0.8v0.8h-0.8zM94.6 94.2h0.8v0.8h-0.8zM104.1 81.4h0.8v0.8h-0.8zM94.0 90.8h0.8v0.8h-0.8zM97.2 87.4h0.8v0.8h-0.8zM100.4 85.8h0.8v0.8h-0.8zM99.8 86.3h0.8v0.8h-0.8zM108.2 84.9h0.8v0.8h-0.8zM102.3 89.6h0.8v0.8h-0.8zM100.8 81.1h0.8v0.8h-0.8zM97.3 88.3h0.8v0.8h-0.8zM100.2 91.6h0.8v0.8h-0.8zM102.4 87.8h0.8v0.8h-0.8zM101.0 87.9h0.8v0.8h-0.8zM100.4 89.9h0.8v0.8h-0.8zM96.6 90.5h0.8v0.8h-0.8zM107.0 88.4h0.8v0.8h-0.8zM105.2 82.3h0.8v0.8h-0.8zM104.0 80.6h0.8v0.8h-0.8zM104.6 88.3h0.8v0.8h-0.8zM103.2 93.2h0.8v0.8h-0.8zM97.5 89.5h0.8v0.8h-0.8zM103.0 98.6h0.8v0.8h-0.8zM100.1 89.1h0.8v0.8h-0.8zM98.1 88.9h0.8v0.8h-0.8zM101.0 94.0h0.8v0.8h-0.8zM100.7 86.9h0.8v0.8h-0.8zM103.3 86.7h0.8v0.8h-0.8zM112.0 79.6h0.8v0.8h-0.8zM96.3 82.5h0.8v0.8h-0.8zM103.7 87.8h0.8v0.8h-0.8zM105.2 80.6h0.8v0.8h-0.8zM102.5 90.0h0.8v0.8h-0.8zM105.6 92.5h0.8v0.8h-0.8zM100.4 82.8h0.8v0.8h-0.8zM98.2 83.3h0.8v0.8h-0.8zM99.0 92.3h0.8v0.8h-0.8zM106.9 89.2h0.8v0.8h-0.8zM103.6 86.8h0.8v0.8h-0.8zM96.0 87.6h0.8v0.8h-0.8zM101.4 78.8h0.8v0.8h-0.8zM96.0 92.4h0.8v0.8h-0.8zM95.2 91.4h0.8v0.8h-0.8zM96.7 84.8h0.8v0.8h-0.8zM103.7 85.7h0.8v0.8h-0.8zM98.0 85.6h0.8v0.8h-0.8zM106.0 91.8h0.8v0.8h-0.8zM101.1 89.6h0.8v0.8h-0.8zM103.2 94.2h0.8v0.8h-0.8zM101.8 82.6h0.8v0.8h-0.8zM97.8 85.9h0.8v0.8h-0.8zM100.3 86.5h0.8v0.8h-0.8zM95.2 97.1h0.8v0.8h-0.8zM96.6 92.3h0.8v0.8h-0.8zM99.6 82.3h0.8v0.8h-0.8zM99.1 80.6h0.8v0.8h-0.8zM97.0 81.1h0.8v0.8h-0.8zM99.4 89.6h0.8v0.8h-0.8zM94.5 86.6h0.8v0.8h-0.8zM100.9 86.7h0.8v0.8h-0.8zM93.1 86.3h0.8v0.8h-0.8zM101.8 92.7h0.8v0.8h-0.8zM98.3 91.9h0.8v0.8h-0.8zM103.0 82.9h0.8v0.8h-0.8zM101.5 91.8h0.8v0.8h-0.8zM102.2 87.0h0.8v0.8h-0.8zM99.4 89.5h0.8v0.8h-0.8zM94.6 85.9h0.8v0.8h-0.8zM97.7 82.9h0.8v0.8h-0.8zM100.0 92.6h0.8v0.8h-0.8zM102.8 82.7h0.8v0.8h-0.8zM110.1 91.7h0.8v0.8h-0.8zM92.2 83.0h0.8v0.8h-0.8zM99.8 83.2h0.8v0.8h-0.8zM101.5 97.6h0.8v0.8h-0.8zM103.8 81.0h0.8v0.8h-0.8zM104.1 88.3h0.8v0.8h-0.8zM99.6 87.2h0.8v0.8h-0.8zM97.0 86.2h0.8v0.8h-0.8zM100.6 92.5h0.8v0.8h-0.8zM109.2 86.6h0.8v0.8h-0.8zM103.9 83.8h0.8v0.8h-0.8zM99.9 92.1h0.8v0.8h-0.8zM104.0 86.3h0.8v0.8h-0.8zM106.1 93.0h0.8v0.8h-0.8zM105.4 88.7h0.8v0.8h-0.8zM106.2 87.9h0.8v0.8h-0.8zM104.3 88.1h0.8v0.8h-0.8zM103.8 80.0h0.8v0.8h-0.8zM103.8 90.6h0.8v0.8h-0.8zM99.1 86.4h0.8v0.8h-0.8zM102.4 90.4h0.8v0.8h-0.8zM91.8 90.8h0.8v0.8h-0.8zM94.7 93.9h0.8v0.8h-0.8zM105.0 88.9h0.8v0.8h-0.8zM101.6 88.4h0.8v0.8h-0.8zM97.5 93.0h0.8v0.8h-0.8zM99.8 83.6h0.8v0.8h-0.8zM103.1 79.5h0.8v0.8h-0.8zM106.8 82.9h0.8v0.8h-0.8zM105.0 92.9h0.8v0.8h-0.8zM109.3 86.8h0.8v0.8h-0.8zM101.0 84.5h0.8v0.8h-0.8zM105.5 83.9h0.8v0.8h-0.8zM103.9 76.2h0.8v0.8h-0.8zM101.1 87.8h0.8v0.8h-0.8zM109.6 85.7h0.8v0.8h-0.8zM103.8 90.6h0.8v0.8h-0.8zM106.2 83.1h0.8v0.8h-0.8zM90.0 80.3h0.8v0.8h-0.8zM104.4 88.8h0.8v0.8h-0.8zM102.9 98.2h0.8v0.8h-0.8zM99.5 84.2h0.8v0.8h-0.8zM109.3 81.4h0.8v0.8h-0.8zM92.1 84.9h0.8v0.8h-0.8zM100.0 94.0h0.8v0.8h-0.8zM103.9 87.6h0.8v0.8h-0.8zM102.3 78.0h0.8v0.8h-0.8zM104.1 84.8h0.8v0.8h-0.8zM99.5 87.8h0.8v0.8h-0.8zM94.3 83.9h0.8v0.8h-0.8zM95.9 94.9h0.8v0.8h-0.8zM99.1 91.7h0.8v0.8h-0.8zM100.4 78.5h0.8v0.8h-0.8zM105.0 86.4h0.8v0.8h-0.8zM94.9 89.9h0.8v0.8h-0.8zM105.9 79.8h0.8v0.8h-0.8zM97.3 95.5h0.8v0.8h-0.8zM103.9 80.9h0.8v0.8h-0.8zM96.1 92.0h0.8v0.8h-0.8zM105.5 91.9h0.8v0.8h-0.8zM94.7 88.6h0.8v0.8h-0.8zM99.3 83.5h0.8v0.8h-0.8zM97.8 91.0h0.8v0.8h-0.8zM102.2 90.1h0.8v0.8h-0.8zM100.6 84.0h0.8v0.8h-0.8zM106.1 85.5h0.8v0.8h-0.8zM99.4 89.0h0.8v0.8h-0.8zM99.1 91.1h0.8v0.8h-0.8zM102.2 90.5h0.8v0.8h-0.8zM110.4 87.4h0.8v0.8h-0.8zM110.8 83.8h0.8v0.8h-0.8zM102.6 74.6h0.8v0.8h-0.8zM100.3 82.4h0.8v0.8h-0.8zM101.7 93.4h0.8v0.8h-0.8zM110.4 87.4h0.8v0.8h-0.8zM105.4 87.4h0.8v0.8h-0.8zM101.6 65.7h0.8v0.8h-0.8zM103.3 77.6h0.8v0.8h-0.8zM105.9 83.7h0.8v0.8h-0.8zM104.7 84.7h0.8v0.8h-0.8zM104.6 83.2h0.8v0.8h-0.8zM99.7 95.6h0.8v0.8h-0.8zM104.9 81.1h0.8v0.8h-0.8zM98.3 86.4h0.8v0.8h-0.8zM106.2 82.3h0.8v0.8h-0.8zM100.8 78.3h0.8v0.8h-0.8zM107.1 90.4h0.8v0.8h-0.8zM103.2 85.3h0.8v0.8h-0.8zM107.2 91.9h0.8v0.8h-0.8zM99.0 92.2h0.8v0.8h-0.8zM103.9 86.3h0.8v0.8h-0.8zM100.0 86.4h0.8v0.8h-0.8zM108.6 82.2h0.8v0.8h-0.8zM94.3 87.8h0.8v0.8h-0.8zM102.7 94.8h0.8v0.8h-0.8zM105.9 80.7h0.8v0.8h-0.8zM104.0 88.7h0.8v0.8h-0.8zM100.4 78.2h0.8v0.8h-0.8zM95.7 85.2h0.8v0.8h-0.8zM96.2 86.8h0.8v0.8h-0.8zM99.7 89.6h0.8v0.8h-0.8zM105.9 83.8h0.8v0.8h-0.8zM98.8 89.7h0.8v0.8h-0.8zM97.4 90.6h0.8v0.8h-0.8zM101.9 91.7h0.8v0.8h-0.8zM97.9 89.6h0.8v0.8h-0.8zM100.2 87.6h0.8v0.8h-0.8zM104.5 85.1h0.8v0.8h-0.8zM105.1 75.9h0.8v0.8h-0.8zM97.8 88.8h0.8v0.8h-0.8zM101.0 75.8h0.8v0.8h-0.8zM96.8 83.6h0.8v0.8h-0.8zM102.8 90.1h0.8v0.8h-0.8zM95.6 86.8h0.8v0.8h-0.8zM95.2 90.2h0.8v0.8h-0.8zM103.8 84.4h0.8v0.8h-0.8zM99.8 85.9h0.8v0.8h-0.8zM97.3 91.4h0.8v0.8h-0.8zM103.4 84.6h0.8v0.8h-0.8zM105.2 81.1h0.8v0.8h-0.8zM102.4 85.5h0.8v0.8h-0.8zM99.4 85.8h0.8v0.8h-0.8zM104.6 80.4h0.8v0.8h-0.8zM97.7 100.8h0.8v0.8h-0.8zM105.1 85.1h0.8v0.8h-0.8zM99.8 94.9h0.8v0.8h-0.8zM94.8 93.0h0.8v0.8h-0.8zM96.9 95.1h0.8v0.8h-0.8zM96.7 90.5h0.8v0.8h-0.8zM97.2 91.8h0.8v0.8h-0.8zM103.9 89.5h0.8v0.8h-0.8zM96.7 90.6h0.8v0.8h-0.8zM104.5 82.3h0.8v0.8h-0.8zM103.6 86.7h0.8v0.8h-0.8zM102.6 82.1h0.8v0.8h-0.8zM100.6 91.0h0.8v0.8h-0.8zM97.0 89.4h0.8v0.8h-0.8zM94.8 85.0h0.8v0.8h-0.8zM103.9 82.8h0.8v0.8h-0.8zM104.1 81.0h0.8v0.8h-0.8zM107.2 91.0h0.8v0.8h-0.8zM106.7 83.9h0.8v0.8h-0.8zM93.6 83.6h0.8v0.8h-0.8zM106.2 87.8h0.8v0.8h-0.8zM104.7 90.1h0.8v0.8h-0.8zM100.7 92.1h0.8v0.8h-0.8zM100.0 84.2h0.8v0.8h-0.8zM104.4 90.3h0.8v0.8h-0.8zM101.3 81.1h0.8v0.8h-0.8zM111.9 73.8h0.8v0.8h-0.8zM104.7 87.3h0.8v0.8h-0.8zM96.2 87.0h0.8v0.8h-0.8zM99.2 97.9h0.8v0.8h-0.8zM106.6 75.6h0.8v0.8h-0.8zM96.8 89.1h0.8v0.8h-0.8zM99.8 85.9h0.8v0.8h-0.8zM98.6 93.3h0.8v0.8h-0.8zM102.7 86.5h0.8v0.8h-0.8zM97.4 90.6h0.8v0.8h-0.8zM98.3 87.8h0.8v0.8h-0.8zM101.5 90.8h0.8v0.8h-0.8zM103.5 89.1h0.8v0.8h-0.8zM106.8 92.9h0.8v0.8h-0.8zM100.3 81.7h0.8v0.8h-0.8zM96.7 92.0h0.8v0.8h-0.8zM95.0 92.6h0.8v0.8h-0.8zM103.8 84.6h0.8v0.8h-0.8zM98.1 85.1h0.8v0.8h-0.8zM104.0 87.4h0.8v0.8h-0.8zM103.5 88.5h0.8v0.8h-0.8zM106.8 86.2h0.8v0.8h-0.8zM102.8 81.4h0.8v0.8h-0.8zM101.9 81.8h0.8v0.8h-0.8z"/>
<path fill="#df3132" fill-opacity="0.78" d="M93.2 95.6h0.8v0.8h-0.8zM102.7 87.5h0.8v0.8h-0.8zM95.5 90.0h0.8v0.8h-0.8zM98.0 101.1h0.8v0.8h-0.8zM98.9 97.3h0.8v0.8h-0.8zM95.0 98.3h0.8v0.8h-0.8zM95.2 96.1h0.8v0.8h-0.8zM99.2 97.1h0.8v0.8h-0.8zM104.2 88.3h0.8v0.8h-0.8zM91.4 101.6h0.8v0.8h-0.8zM96.5 95.2h0.8v0.8h-0.8zM96.0 97.2h0.8v0.8h-0.8zM96.7 99.6h0.8v0.8h-0.8zM98.1 107.9h0.8v0.8h-0.8zM91.2 95.7h0.8v0.8h-0.8zM94.6 98.3h0.8v0.8h-0.8zM94.4 97.5h0.8v0.8h-0.8zM98.5 98.0h0.8v0.8h-0.8zM97.5 101.4h0.8v0.8h-0.8zM94.4 96.9h0.8v0.8h-0.8zM99.6 103.4h0.8v0.8h-0.8zM101.7 94.7h0.8v0.8h-0.8zM94.3 102.3h0.8v0.8h-0.8zM97.2 99.4h0.8v0.8h-0.8zM95.3 102.2h0.8v0.8h-0.8zM99.5 93.3h0.8v0.8h-0.8zM99.2 96.6h0.8v0.8h-0.8zM96.1 100.6h0.8v0.8h-0.8zM98.8 95.3h0.8v0.8h-0.8zM94.6 94.8h0.8v0.8h-0.8zM98.8 92.0h0.8v0.8h-0.8zM92.6 108.9h0.8v0.8h-0.8zM95.6 97.8h0.8v0.8h-0.8zM94.2 95.4h0.8v0.8h-0.8zM98.2 99.0h0.8v0.8h-0.8zM92.3 96.8h0.8v0.8h-0.8zM93.2 102.5h0.8v0.8h-0.8zM95.2 105.7h0.8v0.8h-0.8zM100.3 92.6h0.8v0.8h-0.8zM101.2 96.4h0.8v0.8h-0.8zM97.2 98.4h0.8v0.8h-0.8zM92.1 102.7h0.8v0.8h-0.8zM99.4 93.1h0.8v0.8h-0.8zM92.8 99.1h0.8v0.8h-0.8zM100.8 101.0h0.8v0.8h-0.8zM99.1 96.2h0.8v0.8h-0.8zM100.3 101.6h0.8v0.8h-0.8zM95.9 94.3h0.8v0.8h-0.8zM89.4 101.9h0.8v0.8h-0.8zM107.0 99.9h0.8v0.8h-0.8zM98.0 102.1h0.8v0.8h-0.8zM94.1 108.3h0.8v0.8h-0.8zM95.6 93.0h0.8v0.8h-0.8zM101.4 103.8h0.8v0.8h-0.8zM100.1 98.1h0.8v0.8h-0.8zM97.3 98.7h0.8v0.8h-0.8zM99.7 95.4h0.8v0.8h-0.8zM98.5 107.4h0.8v0.8h-0.8zM97.2 92.9h0.8v0.8h-0.8zM94.8 110.2h0.8v0.8h-0.8zM92.9 103.8h0.8v0.8h-0.8zM96.5 93.8h0.8v0.8h-0.8zM101.2 98.1h0.8v0.8h-0.8zM96.6 101.4h0.8v0.8h-0.8zM100.8 100.1h0.8v0.8h-0.8zM103.3 96.0h0.8v0.8h-0.8zM95.1 100.9h0.8v0.8h-0.8zM101.9 90.1h0.8v0.8h-0.8zM95.7 101.1h0.8v0.8h-0.8zM94.8 106.7h0.8v0.8h-0.8zM92.5 97.7h0.8v0.8h-0.8zM97.1 89.5h0.8v0.8h-0.8zM97.0 97.5h0.8v0.8h-0.8zM97.1 94.6h0.8v0.8h-0.8zM101.6 93.6h0.8v0.8h-0.8zM97.5 90.7h0.8v0.8h-0.8zM103.1 91.8h0.8v0.8h-0.8zM104.1 95.0h0.8v0.8h-0.8zM95.3 106.0h0.8v0.8h-0.8zM92.6 103.6h0.8v0.8h-0.8zM94.2 94.7h0.8v0.8h-0.8zM98.9 100.2h0.8v0.8h-0.8zM98.2 99.9h0.8v0.8h-0.8zM104.6 91.5h0.8v0.8h-0.8zM94.3 101.7h0.8v0.8h-0.8zM94.0 93.5h0.8v0.8h-0.8zM103.4 106.6h0.8v0.8h-0.8zM99.1 98.9h0.8v0.8h-0.8zM98.2 93.6h0.8v0.8h-0.8zM96.2 92.5h0.8v0.8h-0.8zM93.5 97.7h0.8v0.8h-0.8zM100.1 93.8h0.8v0.8h-0.8zM99.7 91.7h0.8v0.8h-0.8zM99.2 96.8h0.8v0.8h-0.8zM97.1 99.0h0.8v0.8h-0.8zM101.4 100.2h0.8v0.8h-0.8zM95.4 98.3h0.8v0.8h-0.8zM98.1 101.0h0.8v0.8h-0.8zM101.9 94.9h0.8v0.8h-0.8zM93.1 100.1h0.8v0.8h-0.8zM93.5 99.3h0.8v0.8h-0.8zM104.4 106.4h0.8v0.8h-0.8zM94.1 92.8h0.8v0.8h-0.8zM99.2 97.0h0.8v0.8h-0.8zM99.4 99.9h0.8v0.8h-0.8zM97.9 101.1h0.8v0.8h-0.8zM91.2 102.4h0.8v0.8h-0.8zM94.3 92.6h0.8v0.8h-0.8zM90.1 96.1h0.8v0.8h-0.8zM99.3 96.6h0.8v0.8h-0.8zM96.7 86.5h0.8v0.8h-0.8zM100.8 92.9h0.8v0.8h-0.8zM96.1 99.0h0.8v0.8h-0.8zM96.8 100.0h0.8v0.8h-0.8zM101.8 102.9h0.8v0.8h-0.8zM94.5 97.0h0.8v0.8h-0.8zM98.0 93.7h0.8v0.8h-0.8zM100.1 96.8h0.8v0.8h-0.8zM97.5 101.4h0.8v0.8h-0.8zM104.9 96.9h0.8v0.8h-0.8zM97.0 109.2h0.8v0.8h-0.8zM102.1 100.9h0.8v0.8h-0.8zM95.1 98.3h0.8v0.8h-0.8zM96.2 95.5h0.8v0.8h-0.8zM92.6 95.3h0.8v0.8h-0.8zM90.0 101.3h0.8v0.8h-0.8zM99.7 96.6h0.8v0.8h-0.8zM97.5 98.7h0.8v0.8h-0.8zM96.4 99.3h0.8v0.8h-0.8zM96.4 100.2h0.8v0.8h-0.8zM95.0 97.8h0.8v0.8h-0.8zM103.9 95.6h0.8v0.8h-0.8zM93.8 102.1h0.8v0.8h-0.8zM98.4 99.1h0.8v0.8h-0.8zM98.7 96.3h0.8v0.8h-0.8zM95.3 100.2h0.8v0.8h-0.8zM97.3 101.4h0.8v0.8h-0.8zM96.1 109.4h0.8v0.8h-0.8zM96.0 105.1h0.8v0.8h-0.8zM95.1 109.3h0.8v0.8h-0.8zM101.6 95.3h0.8v0.8h-0.8zM103.3 96.7h0.8v0.8h-0.8zM101.7 95.3h0.8v0.8h-0.8zM98.5 99.2h0.8v0.8h-0.8zM104.9 88.8h0.8v0.8h-0.8zM90.3 101.4h0.8v0.8h-0.8zM100.6 96.3h0.8v0.8h-0.8zM100.2 89.7h0.8v0.8h-0.8zM97.3 94.6h0.8v0.8h-0.8zM100.0 100.1h0.8v0.8h-0.8zM95.6 103.7h0.8v0.8h-0.8zM94.5 101.4h0.8v0.8h-0.8zM96.3 100.2h0.8v0.8h-0.8zM94.8 104.8h0.8v0.8h-0.8zM93.6 107.7h0.8v0.8h-0.8zM101.2 94.8h0.8v0.8h-0.8zM94.4 104.4h0.8v0.8h-0.8zM103.8 93.5h0.8v0.8h-0.8zM97.3 101.4h0.8v0.8h-0.8zM104.2 103.5h0.8v0.8h-0.8zM95.7 102.6h0.8v0.8h-0.8zM98.9 94.1h0.8v0.8h-0.8zM97.7 97.1h0.8v0.8h-0.8zM96.8 98.5h0.8v0.8h-0.8zM99.7 94.7h0.8v0.8h-0.8zM101.7 91.1h0.8v0.8h-0.8zM99.0 101.2h0.8v0.8h-0.8zM100.8 91.3h0.8v0.8h-0.8zM95.7 98.8h0.8v0.8h-0.8zM98.0 102.3h0.8v0.8h-0.8zM92.7 97.1h0.8v0.8h-0.8zM102.5 93.5h0.8v0.8h-0.8zM94.4 95.0h0.8v0.8h-0.8zM97.1 96.8h0.8v0.8h-0.8zM101.1 100.7h0.8v0.8h-0.8zM90.5 100.5h0.8v0.8h-0.8zM96.7 102.5h0.8v0.8h-0.8zM95.7 105.0h0.8v0.8h-0.8zM98.6 96.0h0.8v0.8h-0.8zM92.6 101.8h0.8v0.8h-0.8zM99.4 89.6h0.8v0.8h-0.8zM98.5 105.3h0.8v0.8h-0.8zM90.2 99.3h0.8v0.8h-0.8zM97.4 107.3h0.8v0.8h-0.8zM102.4 95.7h0.8v0.8h-0.8zM98.0 102.3h0.8v0.8h-0.8zM91.0 104.1h0.8v0.8h-0.8zM98.0 102.8h0.8v0.8h-0.8zM93.7 101.6h0.8v0.8h-0.8zM97.8 96.8h0.8v0.8h-0.8zM97.2 100.0h0.8v0.8h-0.8zM92.8 97.1h0.8v0.8h-0.8zM100.8 90.7h0.8v0.8h-0.8zM99.5 112.3h0.8v0.8h-0.8zM99.7 98.9h0.8v0.8h-0.8zM95.7 92.1h0.8v0.8h-0.8zM92.5 101.6h0.8v0.8h-0.8zM94.5 98.5h0.8v0.8h-0.8zM95.0 102.3h0.8v0.8h-0.8zM100.3 103.9h0.8v0.8h-0.8zM98.2 104.1h0.8v0.8h-0.8zM104.0 95.5h0.8v0.8h-0.8zM99.2 95.4h0.8v0.8h-0.8zM98.0 97.3h0.8v0.8h-0.8zM97.0 101.9h0.8v0.8h-0.8zM96.8 84.6h0.8v0.8h-0.8zM97.0 103.8h0.8v0.8h-0.8zM94.4 105.2h0.8v0.8h-0.8zM104.5 100.6h0.8v0.8h-0.8zM96.2 100.7h0.8v0.8h-0.8zM101.9 91.7h0.8v0.8h-0.8zM101.8 88.8h0.8v0.8h-0.8zM93.9 98.6h0.8v0.8h-0.8zM100.1 92.8h0.8v0.8h-0.8zM96.0 104.7h0.8v0.8h-0.8zM91.6 99.7h0.8v0.8h-0.8zM103.3 92.9h0.8v0.8h-0.8zM100.7 101.6h0.8v0.8h-0.8zM96.5 98.2h0.8v0.8h-0.8zM97.4 98.5h0.8v0.8h-0.8zM97.8 94.6h0.8v0.8h-0.8zM98.2 107.5h0.8v0.8h-0.8zM95.1 105.1h0.8v0.8h-0.8zM96.8 91.5h0.8v0.8h-0.8zM99.2 100.1h0.8v0.8h-0.8zM100.2 94.1h0.8v0.8h-0.8zM94.9 103.0h0.8v0.8h-0.8zM102.2 101.0h0.8v0.8h-0.8zM102.2 85.9h0.8v0.8h-0.8zM93.8 104.2h0.8v0.8h-0.8zM104.6 96.0h0.8v0.8h-0.8zM88.9 98.7h0.8v0.8h-0.8zM94.0 95.3h0.8v0.8h-0.8zM96.1 96.1h0.8v0.8h-0.8zM93.6 100.8h0.8v0.8h-0.8zM100.2 92.2h0.8v0.8h-0.8zM89.8 107.3h0.8v0.8h-0.8zM99.0 99.9h0.8v0.8h-0.8zM89.3 107.5h0.8v0.8h-0.8zM94.1 98.1h0.8v0.8h-0.8zM99.5 95.1h0.8v0.8h-0.8zM98.5 96.3h0.8v0.8h-0.8zM92.8 89.9h0.8v0.8h-0.8zM96.2 95.3h0.8v0.8h-0.8zM96.7 106.9h0.8v0.8h-0.8zM93.9 108.9h0.8v0.8h-0.8zM96.0 98.6h0.8v0.8h-0.8zM99.0 90.0h0.8v0.8h-0.8zM97.5 97.3h0.8v0.8h-0.8zM93.9 101.4h0.8v0.8h-0.8zM99.2 97.2h0.8v0.8h-0.8zM94.3 99.1h0.8v0.8h-0.8zM96.1 93.6h0.8v0.8h-0.8zM94.7 102.6h0.8v0.8h-0.8zM96.8 97.4h0.8v0.8h-0.8zM95.6 101.0h0.8v0.8h-0.8zM95.9 102.3h0.8v0.8h-0.8zM95.9 102.4h0.8v0.8h-0.8zM97.5 94.5h0.8v0.8h-0.8zM99.0 97.8h0.8v0.8h-0.8zM94.1 105.1h0.8v0.8h-0.8zM96.9 94.2h0.8v0.8h-0.8zM94.5 105.2h0.8v0.8h-0.8zM91.7 103.0h0.8v0.8h-0.8zM99.6 96.9h0.8v0.8h-0.8zM97.3 94.6h0.8v0.8h-0.8zM92.3 92.2h0.8v0.8h-0.8zM95.1 89.4h0.8v0.8h-0.8zM95.3 101.0h0.8v0.8h-0.8zM94.9 96.0h0.8v0.8h-0.8zM95.3 96.8h0.8v0.8h-0.8zM97.1 104.7h0.8v0.8h-0.8zM98.8 100.8h0.8v0.8h-0.8zM100.8 103.1h0.8v0.8h-0.8zM98.2 101.6h0.8v0.8h-0.8zM101.3 94.1h0.8v0.8h-0.8zM94.5 98.1h0.8v0.8h-0.8zM92.2 95.6h0.8v0.8h-0.8zM95.9 99.7h0.8v0.8h-0.8zM97.8 105.4h0.8v0.8h-0.8zM89.7 97.5h0.8v0.8h-0.8zM96.5 105.8h0.8v0.8h-0.8zM94.9 100.0h0.8v0.8h-0.8zM98.1 93.7h0.8v0.8h-0.8zM96.9 103.4h0.8v0.8h-0.8zM96.1 98.6h0.8v0.8h-0.8zM101.0 98.4h0.8v0.8h-0.8zM96.0 99.6h0.8v0.8h-0.8zM98.2 100.8h0.8v0.8h-0.8zM100.6 101.6h0.8v0.8h-0.8zM95.7 89.5h0.8v0.8h-0.8zM94.8 106.6h0.8v0.8h-0.8zM98.0 96.3h0.8v0.8h-0.8zM97.5 101.3h0.8v0.8h-0.8zM102.9 93.2h0.8v0.8h-0.8zM99.5 100.0h0.8v0.8h-0.8zM98.5 104.4h0.8v0.8h-0.8zM89.2 101.1h0.8v0.8h-0.8zM99.9 95.0h0.8v0.8h-0.8zM95.5 103.5h0.8v0.8h-0.8zM91.5 101.5h0.8v0.8h-0.8zM97.5 107.7h0.8v0.8h-0.8zM95.5 94.7h0.8v0.8h-0.8zM100.8 97.9h0.8v0.8h-0.8zM102.0 86.0h0.8v0.8h-0.8zM107.2 91.3h0.8v0.8h-0.8zM91.5 99.5h0.8v0.8h-0.8zM99.9 94.9h0.8v0.8h-0.8zM89.7 99.3h0.8v0.8h-0.8zM99.2 94.1h0.8v0.8h-0.8zM98.5 95.7h0.8v0.8h-0.8zM93.2 101.0h0.8v0.8h-0.8zM97.3 98.6h0.8v0.8h-0.8zM94.4 93.9h0.8v0.8h-0.8zM97.2 95.2h0.8v0.8h-0.8zM98.3 98.9h0.8v0.8h-0.8zM96.8 97.4h0.8v0.8h-0.8zM97.2 103.7h0.8v0.8h-0.8zM92.7 102.2h0.8v0.8h-0.8zM99.1 103.0h0.8v0.8h-0.8zM95.3 99.0h0.8v0.8h-0.8zM105.6 93.6h0.8v0.8h-0.8zM100.3 97.8h0.8v0.8h-0.8zM102.3 100.5h0.8v0.8h-0.8zM100.8 96.1h0.8v0.8h-0.8zM93.6 105.9h0.8v0.8h-0.8zM94.0 94.8h0.8v0.8h-0.8zM98.2 92.1h0.8v0.8h-0.8zM100.9 92.9h0.8v0.8h-0.8zM97.8 97.3h0.8v0.8h-0.8zM90.2 97.3h0.8v0.8h-0.8zM92.4 97.3h0.8v0.8h-0.8zM90.7 93.8h0.8v0.8h-0.8zM99.5 100.4h0.8v0.8h-0.8zM98.7 107.3h0.8v0.8h-0.8zM99.8 98.1h0.8v0.8h-0.8zM96.1 101.4h0.8v0.8h-0.8zM94.8 92.2h0.8v0.8h-0.8zM95.0 107.0h0.8v0.8h-0.8zM93.5 98.7h0.8v0.8h-0.8zM94.1 101.4h0.8v0.8h-0.8zM98.4 98.5h0.8v0.8h-0.8zM100.5 97.9h0.8v0.8h-0.8zM89.3 107.4h0.8v0.8h-0.8zM96.5 99.8h0.8v0.8h-0.8zM100.8 95.0h0.8v0.8h-0.8zM96.8 94.3h0.8v0.8h-0.8zM98.6 100.9h0.8v0.8h-0.8zM99.6 92.1h0.8v0.8h-0.8zM96.6 90.6h0.8v0.8h-0.8zM94.0 93.6h0.8v0.8h-0.8zM97.6 101.1h0.8v0.8h-0.8zM90.8 100.0h0.8v0.8h-0.8zM96.3 106.5h0.8v0.8h-0.8zM102.0 91.7h0.8v0.8h-0.8zM98.5 100.0h0.8v0.8h-0.8zM99.3 95.1h0.8v0.8h-0.8zM101.7 100.1h0.8v0.8h-0.8zM97.9 89.0h0.8v0.8h-0.8zM98.3 91.4h0.8v0.8h-0.8zM90.5 105.2h0.8v0.8h-0.8zM95.8 103.2h0.8v0.8h-0.8zM99.8 103.0h0.8v0.8h-0.8zM97.5 92.2h0.8v0.8h-0.8zM96.6 98.8h0.8v0.8h-0.8zM97.2 96.8h0.8v0.8h-0.8zM99.6 91.4h0.8v0.8h-0.8zM102.2 93.4h0.8v0.8h-0.8zM98.8 94.1h0.8v0.8h-0.8zM102.3 96.7h0.8v0.8h-0.8zM94.9 95.8h0.8v0.8h-0.8zM101.7 93.0h0.8v0.8h-0.8zM93.9 94.7h0.8v0.8h-0.8zM103.6 84.4h0.8v0.8h-0.8zM97.2 110.4h0.8v0.8h-0.8zM95.5 102.8h0.8v0.8h-0.8zM99.4 89.0h0.8v0.8h-0.8zM95.1 101.1h0.8v0.8h-0.8zM94.2 96.0h0.8v0.8h-0.8zM94.7 99.7h0.8v0.8h-0.8zM105.0 100.9h0.8v0.8h-0.8zM91.0 105.5h0.8v0.8h-0.8zM96.9 96.0h0.8v0.8h-0.8zM97.9 102.6h0.8v0.8h-0.8zM97.5 100.3h0.8v0.8h-0.8zM99.5 92.5h0.8v0.8h-0.8zM98.6 103.4h0.8v0.8h-0.8zM97.2 89.0h0.8v0.8h-0.8zM95.2 98.8h0.8v0.8h-0.8zM101.5 100.7h0.8v0.8h-0.8zM87.9 92.5h0.8v0.8h-0.8zM97.2 99.6h0.8v0.8h-0.8zM93.0 95.3h0.8v0.8h-0.8zM96.8 101.9h0.8v0.8h-0.8zM97.7 107.3h0.8v0.8h-0.8zM95.7 95.6h0.8v0.8h-0.8zM95.2 100.4h0.8v0.8h-0.8zM103.4 101.0h0.8v0.8h-0.8zM99.0 93.9h0.8v0.8h-0.8zM90.9 106.1h0.8v0.8h-0.8zM95.1 105.4h0.8v0.8h-0.8zM100.6 96.6h0.8v0.8h-0.8zM99.3 94.0h0.8v0.8h-0.8zM99.5 98.1h0.8v0.8h-0.8zM98.1 105.3h0.8v0.8h-0.8zM94.4 101.9h0.8v0.8h-0.8zM99.4 96.1h0.8v0.8h-0.8zM96.5 104.8h0.8v0.8h-0.8zM96.5 103.4h0.8v0.8h-0.8zM96.7 105.0h0.8v0.8h-0.8zM97.4 96.6h0.8v0.8h-0.8zM102.4 87.4h0.8v0.8h-0.8zM93.6 105.6h0.8v0.8h-0.8zM92.5 107.0h0.8v0.8h-0.8zM103.1 97.2h0.8v0.8h-0.8zM94.4 99.7h0.8v0.8h-0.8zM97.9 107.9h0.8v0.8h-0.8zM103.1 96.1h0.8v0.8h-0.8zM100.8 96.5h0.8v0.8h-0.8zM100.1 101.6h0.8v0.8h-0.8zM102.0 99.1h0.8v0.8h-0.8zM101.7 92.7h0.8v0.8h-0.8zM93.6 100.1h0.8v0.8h-0.8zM96.5 102.8h0.8v0.8h-0.8zM105.5 97.2h0.8v0.8h-0.8zM95.0 92.0h0.8v0.8h-0.8zM93.8 103.6h0.8v0.8h-0.8zM99.0 97.2h0.8v0.8h-0.8zM99.7 98.1h0.8v0.8h-0.8zM98.2 98.5h0.8v0.8h-0.8zM92.0 101.3h0.8v0.8h-0.8zM94.9 109.7h0.8v0.8h-0.8zM98.5 95.4h0.8v0.8h-0.8zM98.9 94.8h0.8v0.8h-0.8zM97.8 96.4h0.8v0.8h-0.8zM99.7 94.0h0.8v0.8h-0.8zM97.6 96.2h0.8v0.8h-0.8zM94.4 97.1h0.8v0.8h-0.8zM98.6 102.6h0.8v0.8h-0.8zM98.5 98.0h0.8v0.8h-0.8zM100.8 97.7h0.8v0.8h-0.8zM101.9 90.2h0.8v0.8h-0.8zM94.5 93.6h0.8v0.8h-0.8zM101.4 98.0h0.8v0.8h-0.8zM100.3 93.2h0.8v0.8h-0.8zM88.8 111.1h0.8v0.8h-0.8zM100.3 108.6h0.8v0.8h-0.8zM98.3 95.0h0.8v0.8h-0.8zM98.6 97.3h0.8v0.8h-0.8zM99.2 85.4h0.8v0.8h-0.8zM101.1 87.4h0.8v0.8h-0.8zM97.8 90.2h0.8v0.8h-0.8zM105.5 93.6h0.8v0.8h-0.8zM95.6 99.8h0.8v0.8h-0.8zM96.1 99.3h0.8v0.8h-0.8zM101.2 95.9h0.8v0.8h-0.8zM99.3 98.1h0.8v0.8h-0.8zM92.8 98.6h0.8v0.8h-0.8zM92.6 102.6h0.8v0.8h-0.8zM97.2 99.2h0.8v0.8h-0.8zM101.7 95.0h0.8v0.8h-0.8zM92.9 104.8h0.8v0.8h-0.8zM99.2 101.1h0.8v0.8h-0.8zM91.0 96.7h0.8v0.8h-0.8zM95.2 94.4h0.8v0.8h-0.8zM94.4 88.6h0.8v0.8h-0.8zM95.5 99.8h0.8v0.8h-0.8zM96.1 96.9h0.8v0.8h-0.8zM95.9 105.1h0.8v0.8h-0.8zM95.4 98.4h0.8v0.8h-0.8zM106.4 100.5h0.8v0.8h-0.8zM101.7 93.0h0.8v0.8h-0.8zM94.6 95.1h0.8v0.8h-0.8zM108.2 97.7h0.8v0.8h-0.8zM102.7 96.9h0.8v0.8h-0.8zM95.9 87.7h0.8v0.8h-0.8zM96.6 103.7h0.8v0.8h-0.8zM95.4 95.5h0.8v0.8h-0.8zM94.9 93.6h0.8v0.8h-0.8zM101.5 96.4h0.8v0.8h-0.8zM93.2 100.4h0.8v0.8h-0.8zM98.4 98.2h0.8v0.8h-0.8zM103.8 101.5h0.8v0.8h-0.8zM102.9 93.0h0.8v0.8h-0.8zM95.5 104.6h0.8v0.8h-0.8zM98.7 103.5h0.8v0.8h-0.8zM93.0 95.5h0.8v0.8h-0.8zM101.0 107.1h0.8v0.8h-0.8zM90.0 86.0h0.8v0.8h-0.8zM100.9 103.5h0.8v0.8h-0.8zM105.6 85.2h0.8v0.8h-0.8zM96.7 102.3h0.8v0.8h-0.8zM102.8 94.4h0.8v0.8h-0.8zM99.9 103.2h0.8v0.8h-0.8zM93.6 105.8h0.8v0.8h-0.8zM100.5 103.9h0.8v0.8h-0.8zM95.6 99.2h0.8v0.8h-0.8zM95.2 106.6h0.8v0.8h-0.8zM106.8 96.0h0.8v0.8h-0.8zM103.5 102.2h0.8v0.8h-0.8zM96.2 94.0h0.8v0.8h-0.8zM102.2 101.2h0.8v0.8h-0.8zM95.6 96.6h0.8v0.8h-0.8zM96.4 97.2h0.8v0.8h-0.8zM104.4 96.4h0.8v0.8h-0.8zM100.6 82.6h0.8v0.8h-0.8zM97.9 103.4h0.8v0.8h-0.8zM105.2 96.9h0.8v0.8h-0.8zM97.1 95.9h0.8v0.8h-0.8zM93.4 97.1h0.8v0.8h-0.8zM95.2 96.4h0.8v0.8h-0.8zM97.0 102.2h0.8v0.8h-0.8zM94.5 110.4h0.8v0.8h-0.8zM97.9 101.2h0.8v0.8h-0.8zM99.4 98.2h0.8v0.8h-0.8zM100.5 99.9h0.8v0.8h-0.8zM93.8 94.3h0.8v0.8h-0.8zM104.7 91.4h0.8v0.8h-0.8zM103.3 100.4h0.8v0.8h-0.8zM96.7 104.7h0.8v0.8h-0.8zM98.9 96.0h0.8v0.8h-0.8zM91.1 93.1h0.8v0.8h-0.8zM92.7 100.7h0.8v0.8h-0.8zM99.2 93.5h0.8v0.8h-0.8zM100.3 103.7h0.8v0.8h-0.8zM104.6 101.5h0.8v0.8h-0.8zM93.3 97.6h0.8v0.8h-0.8zM98.9 103.4h0.8v0.8h-0.8zM92.5 99.4h0.8v0.8h-0.8zM99.3 100.8h0.8v0.8h-0.8zM92.7 94.4h0.8v0.8h-0.8zM97.5 96.9h0.8v0.8h-0.8zM101.1 97.0h0.8v0.8h-0.8zM94.2 85.8h0.8v0.8h-0.8zM100.3 94.5h0.8v0.8h-0.8zM95.9 103.7h0.8v0.8h-0.8zM95.8 97.5h0.8v0.8h-0.8zM94.3 90.8h0.8v0.8h-0.8zM98.0 104.6h0.8v0.8h-0.8zM95.6 96.6h0.8v0.8h-0.8zM99.3 96.2h0.8v0.8h-0.8zM98.3 96.2h0.8v0.8h-0.8zM100.3 96.1h0.8v0.8h-0.8zM97.8 90.8h0.8v0.8h-0.8zM97.0 89.9h0.8v0.8h-0.8zM95.7 103.0h0.8v0.8h-0.8zM94.4 92.7h0.8v0.8h-0.8zM94.4 99.8h0.8v0.8h-0.8zM97.0 96.2h0.8v0.8h-0.8zM94.7 95.9h0.8v0.8h-0.8zM97.5 93.7h0.8v0.8h-0.8zM101.7 101.9h0.8v0.8h-0.8zM96.6 99.5h0.8v0.8h-0.8zM104.5 103.3h0.8v0.8h-0.8zM95.8 97.5h0.8v0.8h-0.8zM100.8 101.4h0.8v0.8h-0.8zM96.5 98.3h0.8v0.8h-0.8zM94.2 95.5h0.8v0.8h-0.8zM96.5 96.5h0.8v0.8h-0.8zM102.1 99.5h0.8v0.8h-0.8zM101.5 99.1h0.8v0.8h-0.8zM90.9 102.8h0.8v0.8h-0.8zM95.9 97.0h0.8v0.8h-0.8zM99.4 106.1h0.8v0.8h-0.8zM96.4 104.6h0.8v0.8h-0.8zM95.0 100.9h0.8v0.8h-0.8zM93.2 102.2h0.8v0.8h-0.8zM94.8 100.8h0.8v0.8h-0.8zM91.6 104.2h0.8v0.8h-0.8zM103.4 98.3h0.8v0.8h-0.8zM99.1 93.3h0.8v0.8h-0.8zM98.9 90.7h0.8v0.8h-0.8zM100.1 98.4h0.8v0.8h-0.8zM101.5 99.1h0.8v0.8h-0.8zM97.9 93.7h0.8v0.8h-0.8zM99.9 98.0h0.8v0.8h-0.8zM95.6 89.6h0.8v0.8h-0.8zM101.0 98.4h0.8v0.8h-0.8zM98.1 95.3h0.8v0.8h-0.8zM95.8 97.5h0.8v0.8h-0.8zM99.8 92.3h0.8v0.8h-0.8zM104.7 104.9h0.8v0.8h-0.8zM91.1 96.7h0.8v0.8h-0.8zM102.3 95.8h0.8v0.8h-0.8zM92.3 99.5h0.8v0.8h-0.8zM95.5 97.5h0.8v0.8h-0.8zM103.2 99.6h0.8v0.8h-0.8zM103.1 95.4h0.8v0.8h-0.8zM92.0 94.5h0.8v0.8h-0.8zM95.4 101.1h0.8v0.8h-0.8zM101.7 88.6h0.8v0.8h-0.8zM94.4 94.9h0.8v0.8h-0.8zM96.0 94.2h0.8v0.8h-0.8zM96.3 98.5h0.8v0.8h-0.8zM93.8 92.1h0.8v0.8h-0.8zM92.9 103.2h0.8v0.8h-0.8zM99.0 90.5h0.8v0.8h-0.8zM98.0 103.1h0.8v0.8h-0.8zM93.8 90.5h0.8v0.8h-0.8zM99.0 98.7h0.8v0.8h-0.8zM97.5 106.6h0.8v0.8h-0.8zM98.5 103.6h0.8v0.8h-0.8zM94.1 104.6h0.8v0.8h-0.8zM94.8 99.1h0.8v0.8h-0.8zM91.3 94.2h0.8v0.8h-0.8zM101.5 94.2h0.8v0.8h-0.8zM98.9 86.9h0.8v0.8h-0.8zM98.2 91.2h0.8v0.8h-0.8zM98.4 95.7h0.8v0.8h-0.8zM95.7 95.8h0.8v0.8h-0.8zM96.2 97.6h0.8v0.8h-0.8zM95.2 103.4h0.8v0.8h-0.8zM104.5 86.6h0.8v0.8h-0.8zM102.4 98.2h0.8v0.8h-0.8zM100.0 93.9h0.8v0.8h-0.8zM98.9 101.4h0.8v0.8h-0.8zM97.2 91.9h0.8v0.8h-0.8zM98.8 100.7h0.8v0.8h-0.8zM97.4 86.6h0.8v0.8h-0.8zM93.3 99.0h0.8v0.8h-0.8zM103.2 94.3h0.8v0.8h-0.8zM97.1 92.1h0.8v0.8h-0.8zM99.8 94.4h0.8v0.8h-0.8zM102.5 102.4h0.8v0.8h-0.8zM97.5 95.8h0.8v0.8h-0.8zM101.5 96.9h0.8v0.8h-0.8zM96.2 98.2h0.8v0.8h-0.8zM99.3 106.0h0.8v0.8h-0.8zM98.1 91.6h0.8v0.8h-0.8zM94.8 96.3h0.8v0.8h-0.8zM103.2 85.6h0.8v0.8h-0.8zM99.3 100.6h0.8v0.8h-0.8zM100.3 90.9h0.8v0.8h-0.8zM98.6 95.5h0.8v0.8h-0.8zM93.7 100.1h0.8v0.8h-0.8zM101.6 100.0h0.8v0.8h-0.8zM98.3 103.4h0.8v0.8h-0.8zM98.3 95.9h0.8v0.8h-0.8zM103.5 96.3h0.8v0.8h-0.8zM96.2 99.4h0.8v0.8h-0.8zM97.5 92.9h0.8v0.8h-0.8zM101.3 98.9h0.8v0.8h-0.8zM96.1 94.5h0.8v0.8h-0.8zM98.6 102.5h0.8v0.8h-0.8zM96.8 103.8h0.8v0.8h-0.8zM95.5 105.8h0.8v0.8h-0.8zM102.2 93.2h0.8v0.8h-0.8zM96.9 99.5h0.8v0.8h-0.8zM98.9 93.1h0.8v0.8h-0.8zM99.3 98.1h0.8v0.8h-0.8zM94.4 90.4h0.8v0.8h-0.8zM95.2 102.2h0.8v0.8h-0.8zM97.3 98.9h0.8v0.8h-0.8zM101.1 97.7h0.8v0.8h-0.8zM97.9 97.6h0.8v0.8h-0.8zM101.6 95.6h0.8v0.8h-0.8zM99.9 94.8h0.8v0.8h-0.8zM96.5 103.4h0.8v0.8h-0.8zM94.5 99.6h0.8v0.8h-0.8zM97.7 99.1h0.8v0.8h-0.8zM99.3 98.8h0.8v0.8h-0.8zM97.0 107.3h0.8v0.8h-0.8zM96.9 92.1h0.8v0.8h-0.8zM99.7 100.5h0.8v0.8h-0.8zM105.1 96.7h0.8v0.8h-0.8zM100.8 95.9h0.8v0.8h-0.8zM96.9 94.6h0.8v0.8h-0.8zM96.3 92.7h0.8v0.8h-0.8zM96.9 96.9h0.8v0.8h-0.8zM96.9 102.0h0.8v0.8h-0.8zM94.9 96.8h0.8v0.8h-0.8zM93.8 101.3h0.8v0.8h-0.8zM95.2 95.5h0.8v0.8h-0.8zM93.8 102.5h0.8v0.8h-0.8zM95.3 91.4h0.8v0.8h-0.8zM96.9 95.9h0.8v0.8h-0.8zM93.3 102.7h0.8v0.8h-0.8zM98.7 87.3h0.8v0.8h-0.8zM98.8 91.4h0.8v0.8h-0.8zM96.3 95.0h0.8v0.8h-0.8zM95.4 95.2h0.8v0.8h-0.8zM95.6 100.6h0.8v0.8h-0.8zM106.8 96.8h0.8v0.8h-0.8zM94.8 103.1h0.8v0.8h-0.8zM102.2 103.3h0.8v0.8h-0.8zM94.4 107.2h0.8v0.8h-0.8zM96.5 103.9h0.8v0.8h-0.8zM97.6 91.5h0.8v0.8h-0.8zM103.2 94.8h0.8v0.8h-0.8zM94.2 97.7h0.8v0.8h-0.8zM93.9 100.5h0.8v0.8h-0.8zM98.3 97.0h0.8v0.8h-0.8zM94.0 104.6h0.8v0.8h-0.8zM100.7 104.7h0.8v0.8h-0.8zM91.4 104.9h0.8v0.8h-0.8zM95.8 106.4h0.8v0.8h-0.8zM100.3 95.2h0.8v0.8h-0.8zM93.3 93.3h0.8v0.8h-0.8zM102.2 96.8h0.8v0.8h-0.8zM104.7 93.2h0.8v0.8h-0.8zM99.9 98.0h0.8v0.8h-0.8zM92.8 98.6h0.8v0.8h-0.8zM96.8 96.2h0.8v0.8h-0.8zM92.3 91.3h0.8v0.8h-0.8zM95.8 96.7h0.8v0.8h-0.8zM92.4 107.2h0.8v0.8h-0.8zM96.1 98.7h0.8v0.8h-0.8zM95.0 103.9h0.8v0.8h-0.8zM98.3 103.3h0.8v0.8h-0.8zM92.6 97.4h0.8v0.8h-0.8zM96.4 101.0h0.8v0.8h-0.8zM95.4 98.1h0.8v0.8h-0.8zM95.0 95.4h0.8v0.8h-0.8zM99.5 95.8h0.8v0.8h-0.8zM95.2 96.6h0.8v0.8h-0.8zM98.2 100.3h0.8v0.8h-0.8zM94.5 94.9h0.8v0.8h-0.8zM95.3 92.1h0.8v0.8h-0.8zM103.8 105.9h0.8v0.8h-0.8zM100.3 97.2h0.8v0.8h-0.8zM98.4 106.3h0.8v0.8h-0.8zM100.7 102.6h0.8v0.8h-0.8zM91.4 108.8h0.8v0.8h-0.8zM99.0 102.9h0.8v0.8h-0.8zM98.3 100.1h0.8v0.8h-0.8zM98.6 89.4h0.8v0.8h-0.8zM100.0 112.2h0.8v0.8h-0.8zM98.3 101.7h0.8v0.8h-0.8zM96.6 101.7h0.8v0.8h-0.8zM97.3 97.5h0.8v0.8h-0.8zM101.9 90.2h0.8v0.8h-0.8zM102.7 97.3h0.8v0.8h-0.8zM98.6 101.4h0.8v0.8h-0.8zM100.6 107.6h0.8v0.8h-0.8zM94.8 92.2h0.8v0.8h-0.8zM100.3 90.2h0.8v0.8h-0.8zM99.8 97.9h0.8v0.8h-0.8zM94.0 101.4h0.8v0.8h-0.8zM95.6 93.6h0.8v0.8h-0.8zM96.5 102.2h0.8v0.8h-0.8zM97.5 96.1h0.8v0.8h-0.8zM98.7 96.3h0.8v0.8h-0.8zM90.5 100.9h0.8v0.8h-0.8zM97.7 103.8h0.8v0.8h-0.8zM97.4 100.4h0.8v0.8h-0.8zM94.0 89.9h0.8v0.8h-0.8zM89.9 102.1h0.8v0.8h-0.8zM93.6 103.9h0.8v0.8h-0.8zM99.6 96.2h0.8v0.8h-0.8zM98.3 94.0h0.8v0.8h-0.8zM95.7 99.2h0.8v0.8h-0.8zM100.4 96.2h0.8v0.8h-0.8zM91.0 102.2h0.8v0.8h-0.8zM93.1 100.5h0.8v0.8h-0.8zM93.9 92.2h0.8v0.8h-0.8zM90.3 99.4h0.8v0.8h-0.8zM94.9 113.5h0.8v0.8h-0.8zM103.4 100.2h0.8v0.8h-0.8zM91.2 95.1h0.8v0.8h-0.8zM97.9 100.0h0.8v0.8h-0.8zM99.4 93.2h0.8v0.8h-0.8zM94.1 106.9h0.8v0.8h-0.8zM96.3 95.6h0.8v0.8h-0.8zM94.5 93.9h0.8v0.8h-0.8zM100.9 100.8h0.8v0.8h-0.8zM96.4 95.7h0.8v0.8h-0.8zM100.9 95.9h0.8v0.8h-0.8zM95.4 95.7h0.8v0.8h-0.8zM87.8 101.3h0.8v0.8h-0.8zM93.9 100.9h0.8v0.8h-0.8zM96.1 102.9h0.8v0.8h-0.8zM92.6 109.5h0.8v0.8h-0.8zM99.6 97.4h0.8v0.8h-0.8zM101.2 88.1h0.8v0.8h-0.8zM96.5 87.0h0.8v0.8h-0.8zM93.8 108.3h0.8v0.8h-0.8zM100.5 91.1h0.8v0.8h-0.8zM92.0 98.5h0.8v0.8h-0.8zM99.8 97.5h0.8v0.8h-0.8zM101.9 100.4h0.8v0.8h-0.8zM102.9 103.8h0.8v0.8h-0.8zM107.7 86.8h0.8v0.8h-0.8zM98.9 102.4h0.8v0.8h-0.8zM101.5 102.2h0.8v0.8h-0.8zM98.4 99.9h0.8v0.8h-0.8zM97.4 100.9h0.8v0.8h-0.8zM104.8 91.5h0.8v0.8h-0.8zM98.0 90.4h0.8v0.8h-0.8zM95.2 98.8h0.8v0.8h-0.8zM97.6 100.0h0.8v0.8h-0.8zM99.3 100.7h0.8v0.8h-0.8zM96.6 97.1h0.8v0.8h-0.8zM94.6 94.9h0.8v0.8h-0.8zM96.7 99.7h0.8v0.8h-0.8zM90.9 102.0h0.8v0.8h-0.8zM99.3 90.3h0.8v0.8h-0.8zM96.2 100.6h0.8v0.8h-0.8zM98.3 96.0h0.8v0.8h-0.8zM94.3 98.3h0.8v0.8h-0.8zM97.6 99.6h0.8v0.8h-0.8zM94.6 103.6h0.8v0.8h-0.8zM91.6 96.4h0.8v0.8h-0.8zM94.7 87.1h0.8v0.8h-0.8zM96.9 102.2h0.8v0.8h-0.8zM95.9 99.9h0.8v0.8h-0.8zM95.4 103.4h0.8v0.8h-0.8zM94.8 100.0h0.8v0.8h-0.8zM100.6 90.6h0.8v0.8h-0.8zM102.0 96.1h0.8v0.8h-0.8zM94.6 93.8h0.8v0.8h-0.8zM100.7 96.7h0.8v0.8h-0.8zM101.2 94.0h0.8v0.8h-0.8zM100.5 89.8h0.8v0.8h-0.8zM94.8 104.0h0.8v0.8h-0.8zM95.5 98.3h0.8v0.8h-0.8zM89.4 104.4h0.8v0.8h-0.8zM96.1 99.9h0.8v0.8h-0.8zM97.5 92.6h0.8v0.8h-0.8zM96.7 96.0h0.8v0.8h-0.8zM94.3 96.3h0.8v0.8h-0.8zM94.9 94.7h0.8v0.8h-0.8zM89.5 90.7h0.8v0.8h-0.8zM98.1 99.3h0.8v0.8h-0.8zM96.1 99.7h0.8v0.8h-0.8zM102.5 101.1h0.8v0.8h-0.8zM97.9 97.6h0.8v0.8h-0.8zM97.7 101.3h0.8v0.8h-0.8zM87.5 106.2h0.8v0.8h-0.8zM99.9 101.0h0.8v0.8h-0.8zM95.6 96.9h0.8v0.8h-0.8zM93.2 103.7h0.8v0.8h-0.8zM97.3 89.5h0.8v0.8h-0.8zM97.8 93.6h0.8v0.8h-0.8zM97.8 98.8h0.8v0.8h-0.8zM96.6 89.8h0.8v0.8h-0.8zM98.0 91.4h0.8v0.8h-0.8zM96.5 98.6h0.8v0.8h-0.8zM95.9 98.3h0.8v0.8h-0.8zM93.9 105.5h0.8v0.8h-0.8zM93.1 91.1h0.8v0.8h-0.8zM102.6 93.0h0.8v0.8h-0.8zM99.6 97.4h0.8v0.8h-0.8zM99.2 91.1h0.8v0.8h-0.8zM96.2 96.8h0.8v0.8h-0.8zM90.5 96.1h0.8v0.8h-0.8zM98.8 86.7h0.8v0.8h-0.8zM98.3 96.3h0.8v0.8h-0.8zM91.0 102.1h0.8v0.8h-0.8zM98.4 92.3h0.8v0.8h-0.8zM94.1 98.5h0.8v0.8h-0.8zM94.6 100.8h0.8v0.8h-0.8zM93.0 98.0h0.8v0.8h-0.8zM98.1 100.7h0.8v0.8h-0.8zM95.9 92.6h0.8v0.8h-0.8zM93.5 97.3h0.8v0.8h-0.8zM87.1 109.4h0.8v0.8h-0.8zM94.9 103.4h0.8v0.8h-0.8zM94.6 103.9h0.8v0.8h-0.8zM95.2 102.5h0.8v0.8h-0.8zM100.1 100.1h0.8v0.8h-0.8zM92.7 98.8h0.8v0.8h-0.8zM98.2 96.5h0.8v0.8h-0.8zM95.7 100.9h0.8v0.8h-0.8zM90.0 98.7h0.8v0.8h-0.8zM103.3 96.0h0.8v0.8h-0.8zM101.8 96.7h0.8v0.8h-0.8zM96.8 95.9h0.8v0.8h-0.8zM98.2 94.1h0.8v0.8h-0.8zM95.7 96.2h0.8v0.8h-0.8zM94.4 96.7h0.8v0.8h-0.8zM101.6 94.7h0.8v0.8h-0.8zM98.9 94.4h0.8v0.8h-0.8zM93.6 96.8h0.8v0.8h-0.8zM95.1 102.3h0.8v0.8h-0.8zM99.4 98.9h0.8v0.8h-0.8zM93.5 103.7h0.8v0.8h-0.8zM94.1 93.1h0.8v0.8h-0.8zM99.0 100.3h0.8v0.8h-0.8zM99.5 97.3h0.8v0.8h-0.8zM98.1 104.0h0.8v0.8h-0.8zM90.5 98.7h0.8v0.8h-0.8zM101.6 93.7h0.8v0.8h-0.8zM93.8 98.7h0.8v0.8h-0.8zM99.2 98.2h0.8v0.8h-0.8zM91.8 97.4h0.8v0.8h-0.8zM97.4 95.9h0.8v0.8h-0.8zM103.2 88.5h0.8v0.8h-0.8zM98.3 95.0h0.8v0.8h-0.8zM99.5 96.8h0.8v0.8h-0.8zM102.5 100.1h0.8v0.8h-0.8zM97.6 89.6h0.8v0.8h-0.8zM96.5 97.3h0.8v0.8h-0.8zM101.8 100.9h0.8v0.8h-0.8zM99.0 93.6h0.8v0.8h-0.8zM99.1 93.4h0.8v0.8h-0.8zM92.3 98.7h0.8v0.8h-0.8zM97.5 91.1h0.8v0.8h-0.8zM99.3 104.5h0.8v0.8h-0.8zM100.8 90.4h0.8v0.8h-0.8zM95.9 92.5h0.8v0.8h-0.8zM93.8 114.1h0.8v0.8h-0.8zM100.3 98.0h0.8v0.8h-0.8zM96.4 90.5h0.8v0.8h-0.8zM94.7 98.0h0.8v0.8h-0.8zM95.9 99.9h0.8v0.8h-0.8zM100.4 92.8h0.8v0.8h-0.8zM99.9 98.6h0.8v0.8h-0.8zM102.5 98.5h0.8v0.8h-0.8zM96.3 96.9h0.8v0.8h-0.8zM100.5 101.2h0.8v0.8h-0.8zM99.7 103.6h0.8v0.8h-0.8zM95.4 109.0h0.8v0.8h-0.8zM97.3 96.6h0.8v0.8h-0.8zM102.3 93.2h0.8v0.8h-0.8zM97.0 102.8h0.8v0.8h-0.8zM96.9 88.1h0.8v0.8h-0.8zM91.4 101.9h0.8v0.8h-0.8zM106.3 95.7h0.8v0.8h-0.8zM94.8 90.7h0.8v0.8h-0.8zM101.3 102.7h0.8v0.8h-0.8zM100.4 94.9h0.8v0.8h-0.8zM100.4 94.8h0.8v0.8h-0.8zM100.1 94.7h0.8v0.8h-0.8zM93.9 94.6h0.8v0.8h-0.8zM98.2 99.7h0.8v0.8h-0.8zM94.4 101.6h0.8v0.8h-0.8zM94.8 87.1h0.8v0.8h-0.8zM99.4 97.5h0.8v0.8h-0.8zM97.8 95.6h0.8v0.8h-0.8zM98.7 99.3h0.8v0.8h-0.8zM102.9 94.5h0.8v0.8h-0.8zM93.5 96.1h0.8v0.8h-0.8zM96.9 96.1h0.8v0.8h-0.8zM90.1 97.7h0.8v0.8h-0.8zM102.3 100.9h0.8v0.8h-0.8zM100.5 101.6h0.8v0.8h-0.8zM97.7 99.9h0.8v0.8h-0.8zM100.3 100.8h0.8v0.8h-0.8zM99.5 98.0h0.8v0.8h-0.8zM94.6 98.8h0.8v0.8h-0.8zM95.4 100.1h0.8v0.8h-0.8zM88.1 104.2h0.8v0.8h-0.8zM99.7 106.1h0.8v0.8h-0.8zM100.0 93.1h0.8v0.8h-0.8zM97.6 91.9h0.8v0.8h-0.8zM98.7 98.2h0.8v0.8h-0.8zM100.3 89.1h0.8v0.8h-0.8zM95.5 86.1h0.8v0.8h-0.8zM101.3 101.3h0.8v0.8h-0.8zM98.1 96.1h0.8v0.8h-0.8zM92.2 94.5h0.8v0.8h-0.8zM97.2 93.4h0.8v0.8h-0.8zM103.2 89.0h0.8v0.8h-0.8zM97.0 101.7h0.8v0.8h-0.8zM101.9 91.3h0.8v0.8h-0.8zM86.8 101.9h0.8v0.8h-0.8zM102.2 98.2h0.8v0.8h-0.8zM96.2 99.1h0.8v0.8h-0.8zM100.8 99.3h0.8v0.8h-0.8zM96.1 98.5h0.8v0.8h-0.8zM96.1 107.8h0.8v0.8h-0.8zM98.7 93.4h0.8v0.8h-0.8zM101.7 106.5h0.8v0.8h-0.8zM103.4 94.6h0.8v0.8h-0.8zM97.4 90.8h0.8v0.8h-0.8zM95.4 104.0h0.8v0.8h-0.8zM100.5 98.8h0.8v0.8h-0.8zM97.7 100.3h0.8v0.8h-0.8zM98.4 92.7h0.8v0.8h-0.8zM93.2 105.1h0.8v0.8h-0.8zM96.0 91.6h0.8v0.8h-0.8zM99.8 96.7h0.8v0.8h-0.8zM96.2 98.3h0.8v0.8h-0.8zM99.2 89.9h0.8v0.8h-0.8zM100.3 99.7h0.8v0.8h-0.8zM102.0 103.3h0.8v0.8h-0.8zM96.3 95.2h0.8v0.8h-0.8zM98.1 86.7h0.8v0.8h-0.8zM100.8 95.2h0.8v0.8h-0.8zM100.5 99.5h0.8v0.8h-0.8zM95.1 105.4h0.8v0.8h-0.8zM92.3 105.3h0.8v0.8h-0.8zM93.6 107.7h0.8v0.8h-0.8zM102.0 96.4h0.8v0.8h-0.8zM102.7 101.4h0.8v0.8h-0.8zM99.2 96.3h0.8v0.8h-0.8zM98.0 95.8h0.8v0.8h-0.8zM95.5 101.3h0.8v0.8h-0.8zM98.7 104.5h0.8v0.8h-0.8zM101.6 98.5h0.8v0.8h-0.8zM100.4 97.3h0.8v0.8h-0.8zM98.7 101.3h0.8v0.8h-0.8zM99.9 94.4h0.8v0.8h-0.8zM91.6 105.0h0.8v0.8h-0.8zM95.9 94.3h0.8v0.8h-0.8zM99.4 96.4h0.8v0.8h-0.8zM97.3 104.7h0.8v0.8h-0.8zM92.5 97.0h0.8v0.8h-0.8zM101.4 91.8h0.8v0.8h-0.8zM98.1 105.5h0.8v0.8h-0.8zM97.2 100.2h0.8v0.8h-0.8zM95.4 102.3h0.8v0.8h-0.8zM96.0 97.5h0.8v0.8h-0.8zM96.4 93.9h0.8v0.8h-0.8zM101.4 98.6h0.8v0.8h-0.8zM102.6 91.1h0.8v0.8h-0.8zM95.0 92.6h0.8v0.8h-0.8zM102.3 105.1h0.8v0.8h-0.8zM105.4 97.7h0.8v0.8h-0.8zM99.2 100.2h0.8v0.8h-0.8zM96.1 100.5h0.8v0.8h-0.8zM97.0 100.2h0.8v0.8h-0.8zM93.2 91.4h0.8v0.8h-0.8zM92.3 105.0h0.8v0.8h-0.8zM101.7 94.1h0.8v0.8h-0.8zM100.0 95.6h0.8v0.8h-0.8zM95.2 92.6h0.8v0.8h-0.8zM107.2 100.9h0.8v0.8h-0.8zM95.8 103.8h0.8v0.8h-0.8zM100.0 92.9h0.8v0.8h-0.8zM101.8 110.2h0.8v0.8h-0.8zM101.3 94.6h0.8v0.8h-0.8zM97.3 98.4h0.8v0.8h-0.8zM90.7 109.5h0.8v0.8h-0.8zM98.4 95.3h0.8v0.8h-0.8zM97.2 96.1h0.8v0.8h-0.8zM89.3 96.4h0.8v0.8h-0.8zM101.2 100.0h0.8v0.8h-0.8zM99.2 97.9h0.8v0.8h-0.8zM91.3 99.2h0.8v0.8h-0.8zM101.2 93.6h0.8v0.8h-0.8zM94.8 94.2h0.8v0.8h-0.8zM96.5 85.0h0.8v0.8h-0.8zM97.1 94.8h0.8v0.8h-0.8zM96.5 103.7h0.8v0.8h-0.8zM96.7 89.8h0.8v0.8h-0.8zM96.5 101.0h0.8v0.8h-0.8zM101.1 103.6h0.8v0.8h-0.8zM98.0 98.3h0.8v0.8h-0.8zM91.2 99.7h0.8v0.8h-0.8zM100.3 98.2h0.8v0.8h-0.8zM96.2 99.6h0.8v0.8h-0.8zM98.4 100.8h0.8v0.8h-0.8zM101.0 91.1h0.8v0.8h-0.8zM98.0 89.6h0.8v0.8h-0.8zM97.0 110.8h0.8v0.8h-0.8zM95.3 96.6h0.8v0.8h-0.8zM99.4 94.8h0.8v0.8h-0.8zM102.9 100.4h0.8v0.8h-0.8zM101.7 110.6h0.8v0.8h-0.8zM100.2 94.8h0.8v0.8h-0.8zM102.3 97.8h0.8v0.8h-0.8zM95.3 96.2h0.8v0.8h-0.8zM102.3 95.1h0.8v0.8h-0.8zM95.8 101.9h0.8v0.8h-0.8zM95.6 101.9h0.8v0.8h-0.8zM102.2 96.6h0.8v0.8h-0.8zM95.3 91.3h0.8v0.8h-0.8zM101.1 101.6h0.8v0.8h-0.8zM98.4 96.1h0.8v0.8h-0.8zM101.7 96.6h0.8v0.8h-0.8zM106.0 101.8h0.8v0.8h-0.8zM91.1 101.5h0.8v0.8h-0.8zM98.5 98.1h0.8v0.8h-0.8zM95.5 103.4h0.8v0.8h-0.8zM94.1 104.8h0.8v0.8h-0.8zM94.0 101.5h0.8v0.8h-0.8zM91.6 101.2h0.8v0.8h-0.8zM94.8 95.9h0.8v0.8h-0.8zM101.1 94.9h0.8v0.8h-0.8zM99.4 98.3h0.8v0.8h-0.8zM100.7 103.3h0.8v0.8h-0.8zM98.7 97.2h0.8v0.8h-0.8zM93.0 103.8h0.8v0.8h-0.8zM98.5 91.8h0.8v0.8h-0.8zM97.4 88.3h0.8v0.8h-0.8zM95.4 95.0h0.8v0.8h-0.8zM97.3 102.4h0.8v0.8h-0.8zM102.6 90.0h0.8v0.8h-0.8zM95.3 100.3h0.8v0.8h-0.8zM98.7 98.1h0.8v0.8h-0.8zM94.2 100.5h0.8v0.8h-0.8zM97.6 96.6h0.8v0.8h-0.8zM97.5 96.7h0.8v0.8h-0.8zM97.2 103.3h0.8v0.8h-0.8zM98.7 94.9h0.8v0.8h-0.8zM97.4 97.0h0.8v0.8h-0.8zM98.2 101.9h0.8v0.8h-0.8zM101.8 103.5h0.8v0.8h-0.8zM93.2 92.4h0.8v0.8h-0.8zM93.2 98.2h0.8v0.8h-0.8zM104.6 102.0h0.8v0.8h-0.8zM94.0 103.9h0.8v0.8h-0.8zM100.6 94.5h0.8v0.8h-0.8zM92.6 103.9h0.8v0.8h-0.8zM102.7 88.7h0.8v0.8h-0.8zM94.5 99.8h0.8v0.8h-0.8zM93.2 96.6h0.8v0.8h-0.8zM96.9 89.2h0.8v0.8h-0.8zM96.6 94.9h0.8v0.8h-0.8zM100.7 90.0h0.8v0.8h-0.8zM98.9 96.3h0.8v0.8h-0.8zM90.9 102.1h0.8v0.8h-0.8zM95.6 99.4h0.8v0.8h-0.8zM102.1 101.1h0.8v0.8h-0.8zM100.3 99.6h0.8v0.8h-0.8zM95.5 98.2h0.8v0.8h-0.8zM91.9 98.7h0.8v0.8h-0.8zM99.7 100.6h0.8v0.8h-0.8zM96.9 91.6h0.8v0.8h-0.8zM95.5 95.8h0.8v0.8h-0.8zM90.5 105.6h0.8v0.8h-0.8zM94.8 97.7h0.8v0.8h-0.8zM95.9 98.0h0.8v0.8h-0.8zM91.9 91.1h0.8v0.8h-0.8zM97.5 97.6h0.8v0.8h-0.8zM99.5 95.7h0.8v0.8h-0.8zM100.0 99.6h0.8v0.8h-0.8zM97.4 97.9h0.8v0.8h-0.8zM101.0 98.6h0.8v0.8h-0.8zM102.5 99.8h0.8v0.8h-0.8zM98.3 98.0h0.8v0.8h-0.8zM97.9 100.3h0.8v0.8h-0.8zM94.5 101.0h0.8v0.8h-0.8zM105.2 102.6h0.8v0.8h-0.8zM98.9 94.2h0.8v0.8h-0.8zM96.1 93.3h0.8v0.8h-0.8zM99.3 94.8h0.8v0.8h-0.8zM103.3 97.2h0.8v0.8h-0.8zM95.8 92.8h0.8v0.8h-0.8zM97.4 97.0h0.8v0.8h-0.8zM101.5 95.2h0.8v0.8h-0.8zM97.4 102.6h0.8v0.8h-0.8zM98.8 89.4h0.8v0.8h-0.8zM97.0 102.8h0.8v0.8h-0.8zM98.8 98.2h0.8v0.8h-0.8zM89.2 103.7h0.8v0.8h-0.8zM98.4 92.1h0.8v0.8h-0.8zM96.3 98.3h0.8v0.8h-0.8zM98.8 93.6h0.8v0.8h-0.8zM103.8 105.8h0.8v0.8h-0.8zM100.0 101.7h0.8v0.8h-0.8zM97.7 91.9h0.8v0.8h-0.8zM92.0 101.7h0.8v0.8h-0.8zM95.7 105.5h0.8v0.8h-0.8zM88.5 102.1h0.8v0.8h-0.8zM99.7 95.6h0.8v0.8h-0.8zM101.3 95.5h0.8v0.8h-0.8zM96.0 100.0h0.8v0.8h-0.8zM97.7 99.3h0.8v0.8h-0.8zM96.9 102.9h0.8v0.8h-0.8zM97.3 87.6h0.8v0.8h-0.8zM97.6 85.6h0.8v0.8h-0.8zM104.7 96.4h0.8v0.8h-0.8zM97.0 99.3h0.8v0.8h-0.8zM95.6 94.8h0.8v0.8h-0.8zM98.4 98.1h0.8v0.8h-0.8zM100.5 97.4h0.8v0.8h-0.8zM97.2 90.4h0.8v0.8h-0.8zM91.7 97.6h0.8v0.8h-0.8zM99.1 96.1h0.8v0.8h-0.8zM104.9 86.2h0.8v0.8h-0.8zM101.1 92.8h0.8v0.8h-0.8zM96.7 96.4h0.8v0.8h-0.8zM95.4 95.8h0.8v0.8h-0.8zM95.4 109.3h0.8v0.8h-0.8zM96.6 101.2h0.8v0.8h-0.8zM101.4 94.1h0.8v0.8h-0.8zM99.6 96.3h0.8v0.8h-0.8zM101.2 95.8h0.8v0.8h-0.8zM102.2 94.5h0.8v0.8h-0.8zM94.9 101.4h0.8v0.8h-0.8zM99.8 102.8h0.8v0.8h-0.8zM102.7 104.4h0.8v0.8h-0.8zM96.3 102.2h0.8v0.8h-0.8zM93.8 100.9h0.8v0.8h-0.8zM99.0 97.4h0.8v0.8h-0.8zM93.8 102.2h0.8v0.8h-0.8zM91.2 95.2h0.8v0.8h-0.8zM93.4 94.9h0.8v0.8h-0.8zM97.1 93.5h0.8v0.8h-0.8zM95.2 98.6h0.8v0.8h-0.8zM101.8 107.7h0.8v0.8h-0.8zM97.4 95.7h0.8v0.8h-0.8zM100.6 94.4h0.8v0.8h-0.8zM91.5 101.1h0.8v0.8h-0.8zM94.3 104.6h0.8v0.8h-0.8zM100.5 91.2h0.8v0.8h-0.8zM97.9 100.3h0.8v0.8h-0.8zM99.5 91.4h0.8v0.8h-0.8zM90.3 105.3h0.8v0.8h-0.8zM89.6 90.8h0.8v0.8h-0.8zM97.9 107.0h0.8v0.8h-0.8zM99.7 98.2h0.8v0.8h-0.8zM97.3 103.5h0.8v0.8h-0.8zM94.2 103.3h0.8v0.8h-0.8zM98.1 99.0h0.8v0.8h-0.8zM98.6 99.7h0.8v0.8h-0.8zM92.6 104.3h0.8v0.8h-0.8zM96.3 96.1h0.8v0.8h-0.8zM91.9 88.0h0.8v0.8h-0.8zM99.5 97.8h0.8v0.8h-0.8zM97.7 96.0h0.8v0.8h-0.8zM100.4 95.3h0.8v0.8h-0.8zM94.8 88.8h0.8v0.8h-0.8zM94.5 98.6h0.8v0.8h-0.8zM101.5 101.7h0.8v0.8h-0.8zM97.0 90.9h0.8v0.8h-0.8zM99.6 100.9h0.8v0.8h-0.8zM96.6 100.7h0.8v0.8h-0.8zM98.8 100.7h0.8v0.8h-0.8zM103.8 91.7h0.8v0.8h-0.8zM96.1 94.7h0.8v0.8h-0.8zM91.8 106.3h0.8v0.8h-0.8zM98.2 100.1h0.8v0.8h-0.8zM100.4 97.4h0.8v0.8h-0.8zM100.5 97.6h0.8v0.8h-0.8zM99.3 101.1h0.8v0.8h-0.8zM103.7 91.8h0.8v0.8h-0.8zM95.5 93.4h0.8v0.8h-0.8zM94.4 98.9h0.8v0.8h-0.8zM101.1 97.0h0.8v0.8h-0.8zM99.9 102.9h0.8v0.8h-0.8zM94.8 100.4h0.8v0.8h-0.8zM102.8 96.8h0.8v0.8h-0.8zM89.7 98.5h0.8v0.8h-0.8zM97.7 101.0h0.8v0.8h-0.8zM99.3 98.0h0.8v0.8h-0.8zM98.5 94.0h0.8v0.8h-0.8zM101.9 106.9h0.8v0.8h-0.8zM98.2 93.7h0.8v0.8h-0.8zM96.9 105.8h0.8v0.8h-0.8zM98.7 94.0h0.8v0.8h-0.8zM100.3 99.9h0.8v0.8h-0.8zM95.2 96.1h0.8v0.8h-0.8zM99.5 92.7h0.8v0.8h-0.8zM96.9 104.1h0.8v0.8h-0.8zM99.4 104.7h0.8v0.8h-0.8zM100.1 98.1h0.8v0.8h-0.8zM98.0 104.2h0.8v0.8h-0.8zM97.0 100.4h0.8v0.8h-0.8zM95.5 97.4h0.8v0.8h-0.8zM97.3 92.4h0.8v0.8h-0.8zM96.0 108.7h0.8v0.8h-0.8zM92.7 94.1h0.8v0.8h-0.8zM99.1 94.5h0.8v0.8h-0.8zM97.0 102.1h0.8v0.8h-0.8zM92.4 96.0h0.8v0.8h-0.8zM98.7 101.1h0.8v0.8h-0.8zM103.2 100.5h0.8v0.8h-0.8zM102.3 96.3h0.8v0.8h-0.8zM95.3 94.6h0.8v0.8h-0.8zM95.0 101.8h0.8v0.8h-0.8zM100.0 98.7h0.8v0.8h-0.8zM94.5 97.8h0.8v0.8h-0.8zM96.7 95.8h0.8v0.8h-0.8zM89.9 103.8h0.8v0.8h-0.8zM95.7 112.5h0.8v0.8h-0.8zM106.2 100.5h0.8v0.8h-0.8zM105.3 97.9h0.8v0.8h-0.8zM106.7 100.1h0.8v0.8h-0.8zM91.6 96.3h0.8v0.8h-0.8zM98.0 106.8h0.8v0.8h-0.8zM98.5 107.2h0.8v0.8h-0.8zM100.1 90.9h0.8v0.8h-0.8zM99.2 93.9h0.8v0.8h-0.8zM103.0 88.5h0.8v0.8h-0.8zM95.9 91.6h0.8v0.8h-0.8zM96.6 103.0h0.8v0.8h-0.8zM98.3 91.5h0.8v0.8h-0.8zM96.1 96.8h0.8v0.8h-0.8zM101.2 99.5h0.8v0.8h-0.8zM105.7 85.6h0.8v0.8h-0.8zM100.6 110.0h0.8v0.8h-0.8zM92.4 110.4h0.8v0.8h-0.8zM91.3 101.1h0.8v0.8h-0.8zM94.1 93.9h0.8v0.8h-0.8zM98.9 99.5h0.8v0.8h-0.8zM98.8 97.3h0.8v0.8h-0.8zM93.6 88.6h0.8v0.8h-0.8zM96.1 92.4h0.8v0.8h-0.8zM98.3 89.4h0.8v0.8h-0.8zM96.6 100.2h0.8v0.8h-0.8zM94.2 103.9h0.8v0.8h-0.8zM97.1 102.6h0.8v0.8h-0.8zM94.4 98.2h0.8v0.8h-0.8zM95.4 87.6h0.8v0.8h-0.8zM92.4 94.5h0.8v0.8h-0.8zM95.6 108.3h0.8v0.8h-0.8zM99.1 96.4h0.8v0.8h-0.8zM100.9 99.4h0.8v0.8h-0.8zM97.4 98.6h0.8v0.8h-0.8zM98.7 106.5h0.8v0.8h-0.8zM92.8 97.2h0.8v0.8h-0.8zM96.0 97.6h0.8v0.8h-0.8zM105.6 98.9h0.8v0.8h-0.8zM88.4 99.9h0.8v0.8h-0.8zM97.2 93.1h0.8v0.8h-0.8zM102.2 109.5h0.8v0.8h-0.8zM100.6 100.1h0.8v0.8h-0.8zM93.3 104.3h0.8v0.8h-0.8zM96.5 98.9h0.8v0.8h-0.8zM96.8 98.6h0.8v0.8h-0.8zM92.7 90.3h0.8v0.8h-0.8zM96.2 86.3h0.8v0.8h-0.8zM94.4 94.5h0.8v0.8h-0.8zM97.1 97.4h0.8v0.8h-0.8zM94.8 102.6h0.8v0.8h-0.8zM91.5 93.6h0.8v0.8h-0.8zM97.9 93.6h0.8v0.8h-0.8zM102.2 98.6h0.8v0.8h-0.8zM100.5 101.5h0.8v0.8h-0.8zM95.4 102.4h0.8v0.8h-0.8zM94.4 90.8h0.8v0.8h-0.8zM99.4 86.1h0.8v0.8h-0.8zM96.4 96.6h0.8v0.8h-0.8zM93.2 91.4h0.8v0.8h-0.8zM90.2 108.2h0.8v0.8h-0.8zM100.9 101.9h0.8v0.8h-0.8zM96.6 104.5h0.8v0.8h-0.8zM96.3 104.0h0.8v0.8h-0.8zM97.7 108.9h0.8v0.8h-0.8zM101.8 96.2h0.8v0.8h-0.8zM98.2 103.9h0.8v0.8h-0.8zM96.9 109.1h0.8v0.8h-0.8zM99.1 96.2h0.8v0.8h-0.8zM99.0 104.2h0.8v0.8h-0.8zM96.9 100.4h0.8v0.8h-0.8zM97.7 99.3h0.8v0.8h-0.8zM99.3 96.3h0.8v0.8h-0.8zM99.5 100.4h0.8v0.8h-0.8zM102.9 100.9h0.8v0.8h-0.8zM99.5 92.2h0.8v0.8h-0.8zM105.3 98.8h0.8v0.8h-0.8zM96.3 96.2h0.8v0.8h-0.8zM97.7 97.5h0.8v0.8h-0.8zM103.8 97.1h0.8v0.8h-0.8zM97.4 95.6h0.8v0.8h-0.8zM101.7 90.6h0.8v0.8h-0.8zM101.3 97.0h0.8v0.8h-0.8zM91.0 103.8h0.8v0.8h-0.8zM92.4 100.2h0.8v0.8h-0.8zM98.5 94.7h0.8v0.8h-0.8zM93.1 93.0h0.8v0.8h-0.8zM100.2 98.2h0.8v0.8h-0.8zM94.5 102.1h0.8v0.8h-0.8zM97.6 98.3h0.8v0.8h-0.8zM96.5 90.5h0.8v0.8h-0.8zM95.7 98.9h0.8v0.8h-0.8zM95.8 99.0h0.8v0.8h-0.8zM97.1 96.5h0.8v0.8h-0.8zM97.0 99.5h0.8v0.8h-0.8zM90.3 95.9h0.8v0.8h-0.8zM97.5 95.6h0.8v0.8h-0.8zM99.3 104.3h0.8v0.8h-0.8zM100.4 102.4h0.8v0.8h-0.8zM98.9 98.9h0.8v0.8h-0.8zM100.9 95.4h0.8v0.8h-0.8zM96.8 99.3h0.8v0.8h-0.8zM98.7 91.8h0.8v0.8h-0.8zM97.8 95.8h0.8v0.8h-0.8zM94.7 100.3h0.8v0.8h-0.8zM101.0 99.2h0.8v0.8h-0.8zM94.1 96.0h0.8v0.8h-0.8zM98.3 92.6h0.8v0.8h-0.8zM95.4 98.0h0.8v0.8h-0.8zM95.1 99.4h0.8v0.8h-0.8zM92.5 99.8h0.8v0.8h-0.8zM95.1 97.8h0.8v0.8h-0.8zM98.3 95.4h0.8v0.8h-0.8zM103.3 90.2h0.8v0.8h-0.8zM97.4 101.1h0.8v0.8h-0.8zM96.9 97.3h0.8v0.8h-0.8zM93.9 96.6h0.8v0.8h-0.8zM98.9 95.1h0.8v0.8h-0.8zM98.1 96.1h0.8v0.8h-0.8zM94.3 96.5h0.8v0.8h-0.8zM93.9 101.3h0.8v0.8h-0.8zM93.2 103.8h0.8v0.8h-0.8zM97.6 97.6h0.8v0.8h-0.8zM94.6 99.2h0.8v0.8h-0.8zM96.2 89.5h0.8v0.8h-0.8zM101.7 88.2h0.8v0.8h-0.8zM102.0 96.2h0.8v0.8h-0.8zM102.5 100.3h0.8v0.8h-0.8zM104.9 92.3h0.8v0.8h-0.8zM95.8 98.6h0.8v0.8h-0.8zM95.7 97.6h0.8v0.8h-0.8zM96.2 100.8h0.8v0.8h-0.8zM105.1 88.7h0.8v0.8h-0.8zM101.1 92.8h0.8v0.8h-0.8zM104.9 92.2h0.8v0.8h-0.8zM94.2 99.4h0.8v0.8h-0.8zM96.2 100.8h0.8v0.8h-0.8zM99.8 94.4h0.8v0.8h-0.8zM90.7 101.8h0.8v0.8h-0.8zM97.0 97.0h0.8v0.8h-0.8zM96.9 96.2h0.8v0.8h-0.8zM95.1 97.4h0.8v0.8h-0.8zM100.0 92.1h0.8v0.8h-0.8zM91.7 99.0h0.8v0.8h-0.8zM101.2 95.9h0.8v0.8h-0.8zM97.7 95.2h0.8v0.8h-0.8zM99.0 97.7h0.8v0.8h-0.8zM96.7 93.6h0.8v0.8h-0.8zM98.6 99.9h0.8v0.8h-0.8zM95.7 99.2h0.8v0.8h-0.8zM87.9 92.9h0.8v0.8h-0.8zM100.8 88.3h0.8v0.8h-0.8zM95.4 98.3h0.8v0.8h-0.8zM101.3 100.7h0.8v0.8h-0.8zM92.4 100.8h0.8v0.8h-0.8zM95.6 101.4h0.8v0.8h-0.8zM95.1 88.7h0.8v0.8h-0.8zM91.6 99.1h0.8v0.8h-0.8zM101.2 100.0h0.8v0.8h-0.8zM98.3 97.4h0.8v0.8h-0.8zM99.6 93.1h0.8v0.8h-0.8zM100.7 102.6h0.8v0.8h-0.8zM100.9 98.2h0.8v0.8h-0.8zM99.2 103.1h0.8v0.8h-0.8zM104.6 105.1h0.8v0.8h-0.8zM96.1 93.3h0.8v0.8h-0.8zM99.9 100.9h0.8v0.8h-0.8zM99.4 98.5h0.8v0.8h-0.8zM94.7 97.7h0.8v0.8h-0.8zM92.4 97.8h0.8v0.8h-0.8zM104.3 103.2h0.8v0.8h-0.8zM95.9 92.9h0.8v0.8h-0.8zM104.8 102.9h0.8v0.8h-0.8zM95.2 100.0h0.8v0.8h-0.8zM97.9 92.4h0.8v0.8h-0.8zM97.4 100.3h0.8v0.8h-0.8zM103.5 93.0h0.8v0.8h-0.8zM102.8 97.9h0.8v0.8h-0.8zM89.7 100.6h0.8v0.8h-0.8zM100.3 101.2h0.8v0.8h-0.8zM101.5 94.2h0.8v0.8h-0.8zM101.4 90.4h0.8v0.8h-0.8zM92.2 109.1h0.8v0.8h-0.8zM102.7 101.1h0.8v0.8h-0.8zM99.2 98.6h0.8v0.8h-0.8zM99.5 99.3h0.8v0.8h-0.8zM95.0 95.2h0.8v0.8h-0.8zM92.3 91.9h0.8v0.8h-0.8zM96.6 99.4h0.8v0.8h-0.8zM107.1 92.1h0.8v0.8h-0.8zM105.2 97.6h0.8v0.8h-0.8zM96.3 97.0h0.8v0.8h-0.8zM106.3 94.6h0.8v0.8h-0.8zM95.7 100.0h0.8v0.8h-0.8zM100.3 100.5h0.8v0.8h-0.8zM96.8 102.5h0.8v0.8h-0.8zM92.4 104.3h0.8v0.8h-0.8zM95.5 99.1h0.8v0.8h-0.8zM95.3 94.0h0.8v0.8h-0.8zM100.2 101.3h0.8v0.8h-0.8zM96.0 101.4h0.8v0.8h-0.8zM111.5 89.1h0.8v0.8h-0.8zM90.5 96.8h0.8v0.8h-0.8zM90.6 101.0h0.8v0.8h-0.8zM94.9 97.0h0.8v0.8h-0.8zM92.2 106.8h0.8v0.8h-0.8zM104.9 91.1h0.8v0.8h-0.8zM100.2 96.9h0.8v0.8h-0.8zM102.1 100.7h0.8v0.8h-0.8zM95.7 95.0h0.8v0.8h-0.8zM95.7 105.8h0.8v0.8h-0.8zM98.6 95.4h0.8v0.8h-0.8zM95.2 101.4h0.8v0.8h-0.8zM94.4 105.8h0.8v0.8h-0.8zM100.4 99.3h0.8v0.8h-0.8zM98.4 96.3h0.8v0.8h-0.8zM88.2 101.2h0.8v0.8h-0.8zM103.0 98.2h0.8v0.8h-0.8zM100.3 91.7h0.8v0.8h-0.8zM96.7 98.5h0.8v0.8h-0.8zM97.3 98.0h0.8v0.8h-0.8zM100.1 102.0h0.8v0.8h-0.8zM101.0 95.8h0.8v0.8h-0.8zM95.9 97.3h0.8v0.8h-0.8zM94.1 89.6h0.8v0.8h-0.8zM98.7 98.1h0.8v0.8h-0.8zM96.4 103.5h0.8v0.8h-0.8zM89.9 97.8h0.8v0.8h-0.8zM98.5 91.4h0.8v0.8h-0.8zM98.1 105.0h0.8v0.8h-0.8zM92.6 96.7h0.8v0.8h-0.8zM100.8 98.9h0.8v0.8h-0.8zM94.9 102.0h0.8v0.8h-0.8zM91.9 96.0h0.8v0.8h-0.8zM95.5 96.9h0.8v0.8h-0.8zM93.2 97.5h0.8v0.8h-0.8zM101.2 101.0h0.8v0.8h-0.8zM93.9 94.2h0.8v0.8h-0.8zM97.0 90.1h0.8v0.8h-0.8zM99.5 100.8h0.8v0.8h-0.8zM95.2 104.6h0.8v0.8h-0.8zM100.8 95.7h0.8v0.8h-0.8zM97.9 97.2h0.8v0.8h-0.8zM95.9 104.0h0.8v0.8h-0.8zM103.1 94.4h0.8v0.8h-0.8zM106.3 92.0h0.8v0.8h-0.8zM93.7 109.1h0.8v0.8h-0.8zM98.5 104.0h0.8v0.8h-0.8zM97.5 100.4h0.8v0.8h-0.8zM93.6 104.2h0.8v0.8h-0.8zM97.6 95.2h0.8v0.8h-0.8zM89.9 106.8h0.8v0.8h-0.8zM93.9 91.7h0.8v0.8h-0.8zM99.2 98.4h0.8v0.8h-0.8zM102.7 102.4h0.8v0.8h-0.8zM99.8 94.4h0.8v0.8h-0.8zM101.3 91.6h0.8v0.8h-0.8zM93.3 103.7h0.8v0.8h-0.8zM100.0 92.6h0.8v0.8h-0.8zM95.7 96.6h0.8v0.8h-0.8zM98.4 99.1h0.8v0.8h-0.8zM104.1 84.6h0.8v0.8h-0.8zM102.5 89.7h0.8v0.8h-0.8zM95.9 98.1h0.8v0.8h-0.8zM102.0 95.9h0.8v0.8h-0.8zM94.2 92.8h0.8v0.8h-0.8zM95.5 109.4h0.8v0.8h-0.8zM94.1 94.3h0.8v0.8h-0.8zM93.8 102.6h0.8v0.8h-0.8zM99.7 97.6h0.8v0.8h-0.8zM96.7 105.6h0.8v0.8h-0.8zM98.1 92.3h0.8v0.8h-0.8zM99.3 92.1h0.8v0.8h-0.8zM97.3 102.2h0.8v0.8h-0.8zM95.2 101.9h0.8v0.8h-0.8zM99.4 107.7h0.8v0.8h-0.8zM95.7 100.3h0.8v0.8h-0.8zM99.3 102.5h0.8v0.8h-0.8zM100.2 101.1h0.8v0.8h-0.8zM98.8 102.9h0.8v0.8h-0.8zM98.6 101.1h0.8v0.8h-0.8zM98.7 97.9h0.8v0.8h-0.8zM91.6 96.0h0.8v0.8h-0.8zM98.5 95.4h0.8v0.8h-0.8zM94.6 103.4h0.8v0.8h-0.8zM99.6 87.0h0.8v0.8h-0.8zM96.0 96.9h0.8v0.8h-0.8zM101.4 100.5h0.8v0.8h-0.8zM100.1 95.9h0.8v0.8h-0.8zM97.7 89.9h0.8v0.8h-0.8zM99.7 98.6h0.8v0.8h-0.8zM95.2 97.6h0.8v0.8h-0.8zM100.2 103.3h0.8v0.8h-0.8zM98.9 104.1h0.8v0.8h-0.8zM98.5 98.2h0.8v0.8h-0.8zM97.0 100.2h0.8v0.8h-0.8zM91.6 97.8h0.8v0.8h-0.8zM98.9 93.8h0.8v0.8h-0.8zM94.3 102.9h0.8v0.8h-0.8zM96.5 97.2h0.8v0.8h-0.8zM103.9 94.7h0.8v0.8h-0.8zM98.0 95.9h0.8v0.8h-0.8zM96.1 96.7h0.8v0.8h-0.8zM99.8 97.2h0.8v0.8h-0.8zM99.9 102.3h0.8v0.8h-0.8zM94.0 97.3h0.8v0.8h-0.8zM98.7 91.7h0.8v0.8h-0.8zM90.4 101.1h0.8v0.8h-0.8zM97.1 104.0h0.8v0.8h-0.8zM101.9 103.0h0.8v0.8h-0.8zM97.3 104.3h0.8v0.8h-0.8zM97.7 96.0h0.8v0.8h-0.8zM100.1 101.9h0.8v0.8h-0.8zM96.4 95.6h0.8v0.8h-0.8zM90.8 106.7h0.8v0.8h-0.8zM97.0 95.3h0.8v0.8h-0.8zM96.3 95.0h0.8v0.8h-0.8zM98.0 98.3h0.8v0.8h-0.8zM103.4 86.9h0.8v0.8h-0.8zM96.0 105.9h0.8v0.8h-0.8zM98.6 95.2h0.8v0.8h-0.8zM104.9 97.3h0.8v0.8h-0.8zM99.6 99.7h0.8v0.8h-0.8zM98.4 93.1h0.8v0.8h-0.8zM97.9 99.0h0.8v0.8h-0.8zM105.6 92.5h0.8v0.8h-0.8zM91.8 99.2h0.8v0.8h-0.8zM96.2 83.3h0.8v0.8h-0.8zM95.1 103.0h0.8v0.8h-0.8zM93.5 89.3h0.8v0.8h-0.8zM103.7 95.1h0.8v0.8h-0.8zM94.9 96.4h0.8v0.8h-0.8zM103.2 98.4h0.8v0.8h-0.8zM100.4 97.8h0.8v0.8h-0.8zM93.7 98.2h0.8v0.8h-0.8zM90.3 101.1h0.8v0.8h-0.8zM92.1 97.1h0.8v0.8h-0.8zM90.6 95.5h0.8v0.8h-0.8zM99.9 94.8h0.8v0.8h-0.8zM104.1 99.6h0.8v0.8h-0.8zM100.9 91.4h0.8v0.8h-0.8zM95.7 98.5h0.8v0.8h-0.8zM99.4 101.3h0.8v0.8h-0.8zM94.8 89.7h0.8v0.8h-0.8zM92.5 102.2h0.8v0.8h-0.8zM93.4 90.6h0.8v0.8h-0.8zM98.1 97.8h0.8v0.8h-0.8zM98.4 94.0h0.8v0.8h-0.8zM98.9 97.7h0.8v0.8h-0.8zM96.7 98.8h0.8v0.8h-0.8zM97.1 96.8h0.8v0.8h-0.8zM100.5 102.2h0.8v0.8h-0.8zM97.7 98.6h0.8v0.8h-0.8zM103.8 92.8h0.8v0.8h-0.8zM91.2 96.3h0.8v0.8h-0.8zM93.3 91.4h0.8v0.8h-0.8zM98.1 99.0h0.8v0.8h-0.8zM97.4 94.0h0.8v0.8h-0.8zM93.7 93.2h0.8v0.8h-0.8zM94.9 97.0h0.8v0.8h-0.8zM101.1 97.3h0.8v0.8h-0.8zM93.3 98.8h0.8v0.8h-0.8zM101.2 100.4h0.8v0.8h-0.8zM96.6 95.7h0.8v0.8h-0.8zM97.9 92.7h0.8v0.8h-0.8zM101.0 97.2h0.8v0.8h-0.8zM102.5 105.2h0.8v0.8h-0.8zM92.8 109.5h0.8v0.8h-0.8zM97.0 93.8h0.8v0.8h-0.8zM91.7 96.3h0.8v0.8h-0.8zM99.4 96.5h0.8v0.8h-0.8zM96.7 100.0h0.8v0.8h-0.8zM95.1 96.9h0.8v0.8h-0.8zM94.8 104.7h0.8v0.8h-0.8zM99.9 98.0h0.8v0.8h-0.8zM94.4 96.3h0.8v0.8h-0.8zM95.4 95.5h0.8v0.8h-0.8zM97.8 102.0h0.8v0.8h-0.8zM101.7 96.0h0.8v0.8h-0.8zM98.3 97.9h0.8v0.8h-0.8zM97.6 108.9h0.8v0.8h-0.8zM99.8 103.0h0.8v0.8h-0.8zM97.8 100.5h0.8v0.8h-0.8zM90.6 97.7h0.8v0.8h-0.8zM97.2 97.6h0.8v0.8h-0.8zM96.1 113.2h0.8v0.8h-0.8zM100.0 92.5h0.8v0.8h-0.8zM95.3 101.4h0.8v0.8h-0.8zM99.7 99.4h0.8v0.8h-0.8zM100.4 94.7h0.8v0.8h-0.8zM105.1 89.6h0.8v0.8h-0.8zM97.4 94.1h0.8v0.8h-0.8zM95.8 98.5h0.8v0.8h-0.8zM96.8 102.5h0.8v0.8h-0.8zM103.2 102.0h0.8v0.8h-0.8zM94.5 97.2h0.8v0.8h-0.8zM96.1 93.6h0.8v0.8h-0.8zM95.1 102.0h0.8v0.8h-0.8zM94.6 98.7h0.8v0.8h-0.8zM94.0 101.3h0.8v0.8h-0.8zM103.2 92.3h0.8v0.8h-0.8zM101.1 94.5h0.8v0.8h-0.8zM98.8 97.8h0.8v0.8h-0.8zM102.0 92.8h0.8v0.8h-0.8zM103.4 101.2h0.8v0.8h-0.8zM93.9 103.3h0.8v0.8h-0.8zM101.4 101.6h0.8v0.8h-0.8zM97.0 93.8h0.8v0.8h-0.8zM92.7 104.6h0.8v0.8h-0.8zM97.8 97.9h0.8v0.8h-0.8zM94.9 103.3h0.8v0.8h-0.8zM95.4 101.6h0.8v0.8h-0.8zM92.7 92.7h0.8v0.8h-0.8zM99.9 93.8h0.8v0.8h-0.8zM106.5 90.1h0.8v0.8h-0.8zM98.2 100.8h0.8v0.8h-0.8zM99.2 98.0h0.8v0.8h-0.8zM92.8 114.3h0.8v0.8h-0.8zM99.3 95.3h0.8v0.8h-0.8zM86.4 104.2h0.8v0.8h-0.8zM95.3 106.3h0.8v0.8h-0.8zM96.2 103.1h0.8v0.8h-0.8zM102.8 96.5h0.8v0.8h-0.8zM88.6 101.4h0.8v0.8h-0.8zM105.8 92.7h0.8v0.8h-0.8zM96.1 97.1h0.8v0.8h-0.8zM96.0 100.6h0.8v0.8h-0.8zM96.5 100.6h0.8v0.8h-0.8zM96.9 89.9h0.8v0.8h-0.8zM103.3 100.8h0.8v0.8h-0.8zM100.4 92.9h0.8v0.8h-0.8zM99.2 98.1h0.8v0.8h-0.8zM99.1 99.0h0.8v0.8h-0.8zM99.3 105.4h0.8v0.8h-0.8zM96.9 95.9h0.8v0.8h-0.8zM101.8 91.9h0.8v0.8h-0.8zM95.7 95.7h0.8v0.8h-0.8zM88.3 105.1h0.8v0.8h-0.8zM97.0 96.7h0.8v0.8h-0.8zM93.1 99.5h0.8v0.8h-0.8zM97.6 92.0h0.8v0.8h-0.8zM96.8 105.4h0.8v0.8h-0.8zM92.8 96.5h0.8v0.8h-0.8zM105.0 99.0h0.8v0.8h-0.8zM93.3 104.8h0.8v0.8h-0.8zM97.2 102.5h0.8v0.8h-0.8zM102.2 102.4h0.8v0.8h-0.8zM96.3 107.3h0.8v0.8h-0.8zM94.1 91.4h0.8v0.8h-0.8zM97.6 94.9h0.8v0.8h-0.8zM99.4 89.1h0.8v0.8h-0.8zM91.4 99.9h0.8v0.8h-0.8zM96.4 99.8h0.8v0.8h-0.8zM96.4 97.6h0.8v0.8h-0.8zM90.4 104.9h0.8v0.8h-0.8zM102.7 92.7h0.8v0.8h-0.8zM95.7 99.3h0.8v0.8h-0.8zM96.3 97.4h0.8v0.8h-0.8zM100.6 89.6h0.8v0.8h-0.8zM99.5 100.9h0.8v0.8h-0.8zM94.6 96.3h0.8v0.8h-0.8zM97.6 96.7h0.8v0.8h-0.8zM99.7 90.9h0.8v0.8h-0.8zM97.3 100.0h0.8v0.8h-0.8zM98.3 100.4h0.8v0.8h-0.8zM95.6 98.1h0.8v0.8h-0.8zM100.7 99.2h0.8v0.8h-0.8zM98.2 98.5h0.8v0.8h-0.8zM101.0 92.5h0.8v0.8h-0.8zM96.4 101.9h0.8v0.8h-0.8zM93.9 99.9h0.8v0.8h-0.8zM96.6 95.6h0.8v0.8h-0.8zM95.1 92.8h0.8v0.8h-0.8zM103.3 92.2h0.8v0.8h-0.8zM99.8 91.8h0.8v0.8h-0.8zM103.3 103.1h0.8v0.8h-0.8zM96.4 92.0h0.8v0.8h-0.8zM96.3 99.3h0.8v0.8h-0.8zM101.2 106.3h0.8v0.8h-0.8zM94.1 98.2h0.8v0.8h-0.8zM101.5 95.5h0.8v0.8h-0.8zM94.9 101.9h0.8v0.8h-0.8zM93.0 97.0h0.8v0.8h-0.8zM97.7 96.6h0.8v0.8h-0.8zM99.7 90.4h0.8v0.8h-0.8zM100.9 96.6h0.8v0.8h-0.8zM101.5 109.0h0.8v0.8h-0.8zM93.7 106.6h0.8v0.8h-0.8zM103.3 95.5h0.8v0.8h-0.8zM95.2 103.4h0.8v0.8h-0.8zM95.7 95.7h0.8v0.8h-0.8zM91.1 89.2h0.8v0.8h-0.8zM94.7 93.6h0.8v0.8h-0.8zM94.9 98.6h0.8v0.8h-0.8zM98.9 96.5h0.8v0.8h-0.8zM92.8 97.9h0.8v0.8h-0.8zM99.7 98.3h0.8v0.8h-0.8zM102.7 97.1h0.8v0.8h-0.8zM100.0 100.0h0.8v0.8h-0.8zM99.9 106.8h0.8v0.8h-0.8zM96.1 88.5h0.8v0.8h-0.8zM100.6 100.4h0.8v0.8h-0.8zM99.3 96.2h0.8v0.8h-0.8zM93.6 103.0h0.8v0.8h-0.8zM99.8 95.9h0.8v0.8h-0.8zM97.4 99.4h0.8v0.8h-0.8zM94.1 93.9h0.8v0.8h-0.8zM99.1 99.1h0.8v0.8h-0.8zM92.7 98.3h0.8v0.8h-0.8zM103.3 102.6h0.8v0.8h-0.8zM93.9 94.7h0.8v0.8h-0.8zM96.5 93.8h0.8v0.8h-0.8zM95.6 94.6h0.8v0.8h-0.8zM98.9 92.1h0.8v0.8h-0.8zM100.2 100.3h0.8v0.8h-0.8zM102.9 103.6h0.8v0.8h-0.8zM100.1 101.3h0.8v0.8h-0.8zM98.6 92.9h0.8v0.8h-0.8zM99.7 99.1h0.8v0.8h-0.8zM95.0 99.4h0.8v0.8h-0.8zM99.5 95.3h0.8v0.8h-0.8zM102.9 97.0h0.8v0.8h-0.8zM96.7 103.1h0.8v0.8h-0.8zM96.3 96.1h0.8v0.8h-0.8zM99.5 96.9h0.8v0.8h-0.8zM97.4 92.3h0.8v0.8h-0.8zM98.8 96.5h0.8v0.8h-0.8zM99.0 103.5h0.8v0.8h-0.8zM96.6 101.6h0.8v0.8h-0.8zM93.3 104.9h0.8v0.8h-0.8zM95.9 97.0h0.8v0.8h-0.8zM97.0 95.4h0.8v0.8h-0.8zM100.2 98.7h0.8v0.8h-0.8zM93.7 100.9h0.8v0.8h-0.8zM97.0 100.8h0.8v0.8h-0.8zM98.9 96.1h0.8v0.8h-0.8zM92.1 95.1h0.8v0.8h-0.8zM93.2 102.9h0.8v0.8h-0.8zM95.0 104.7h0.8v0.8h-0.8zM103.6 105.5h0.8v0.8h-0.8zM106.5 95.8h0.8v0.8h-0.8zM97.3 92.8h0.8v0.8h-0.8zM94.8 90.9h0.8v0.8h-0.8zM101.5 95.1h0.8v0.8h-0.8zM95.8 100.5h0.8v0.8h-0.8zM94.3 104.9h0.8v0.8h-0.8zM100.6 102.4h0.8v0.8h-0.8zM102.4 102.0h0.8v0.8h-0.8zM96.8 103.4h0.8v0.8h-0.8zM102.7 92.7h0.8v0.8h-0.8zM99.9 103.8h0.8v0.8h-0.8zM87.7 105.6h0.8v0.8h-0.8zM96.4 104.8h0.8v0.8h-0.8zM93.5 98.0h0.8v0.8h-0.8zM96.4 93.6h0.8v0.8h-0.8zM100.3 91.6h0.8v0.8h-0.8zM96.7 101.3h0.8v0.8h-0.8zM96.5 92.4h0.8v0.8h-0.8zM98.3 102.8h0.8v0.8h-0.8zM101.2 96.4h0.8v0.8h-0.8zM94.6 104.1h0.8v0.8h-0.8zM100.0 100.4h0.8v0.8h-0.8zM98.5 97.6h0.8v0.8h-0.8zM98.7 101.9h0.8v0.8h-0.8zM97.4 99.4h0.8v0.8h-0.8zM93.3 96.3h0.8v0.8h-0.8zM102.5 100.5h0.8v0.8h-0.8zM93.7 94.8h0.8v0.8h-0.8zM96.1 104.9h0.8v0.8h-0.8zM104.6 99.8h0.8v0.8h-0.8zM96.9 98.6h0.8v0.8h-0.8zM92.4 103.3h0.8v0.8h-0.8zM92.8 100.5h0.8v0.8h-0.8zM97.4 92.9h0.8v0.8h-0.8zM96.6 106.2h0.8v0.8h-0.8zM93.4 98.1h0.8v0.8h-0.8zM94.0 102.5h0.8v0.8h-0.8zM94.4 91.0h0.8v0.8h-0.8zM97.9 91.8h0.8v0.8h-0.8zM102.6 92.1h0.8v0.8h-0.8zM98.4 95.9h0.8v0.8h-0.8zM101.5 96.5h0.8v0.8h-0.8zM94.9 105.8h0.8v0.8h-0.8zM98.1 104.5h0.8v0.8h-0.8zM101.6 101.7h0.8v0.8h-0.8zM100.7 90.7h0.8v0.8h-0.8zM92.5 94.7h0.8v0.8h-0.8zM97.1 103.6h0.8v0.8h-0.8zM95.5 96.0h0.8v0.8h-0.8zM105.7 94.8h0.8v0.8h-0.8zM97.1 97.5h0.8v0.8h-0.8zM93.5 104.5h0.8v0.8h-0.8zM92.8 95.4h0.8v0.8h-0.8zM93.0 93.4h0.8v0.8h-0.8zM105.1 90.2h0.8v0.8h-0.8zM92.1 96.7h0.8v0.8h-0.8zM99.7 95.1h0.8v0.8h-0.8zM99.2 97.6h0.8v0.8h-0.8zM96.2 98.2h0.8v0.8h-0.8zM103.0 93.8h0.8v0.8h-0.8zM100.0 100.2h0.8v0.8h-0.8zM97.8 94.6h0.8v0.8h-0.8zM97.7 102.1h0.8v0.8h-0.8zM93.6 100.7h0.8v0.8h-0.8zM96.6 102.0h0.8v0.8h-0.8zM98.7 97.5h0.8v0.8h-0.8zM97.5 101.3h0.8v0.8h-0.8zM92.8 96.9h0.8v0.8h-0.8zM89.4 97.0h0.8v0.8h-0.8zM96.0 97.8h0.8v0.8h-0.8zM99.7 103.3h0.8v0.8h-0.8zM101.1 103.7h0.8v0.8h-0.8zM97.9 94.3h0.8v0.8h-0.8zM106.8 97.3h0.8v0.8h-0.8zM95.9 99.8h0.8v0.8h-0.8zM94.7 98.1h0.8v0.8h-0.8zM98.9 95.8h0.8v0.8h-0.8zM94.2 97.4h0.8v0.8h-0.8zM100.2 93.9h0.8v0.8h-0.8zM97.9 98.7h0.8v0.8h-0.8zM94.2 99.3h0.8v0.8h-0.8zM92.0 101.1h0.8v0.8h-0.8zM94.0 102.2h0.8v0.8h-0.8zM97.8 98.5h0.8v0.8h-0.8zM92.3 100.5h0.8v0.8h-0.8zM91.2 107.5h0.8v0.8h-0.8zM98.7 99.4h0.8v0.8h-0.8zM96.8 101.3h0.8v0.8h-0.8zM98.6 100.4h0.8v0.8h-0.8zM100.6 98.2h0.8v0.8h-0.8zM104.7 92.5h0.8v0.8h-0.8zM91.5 99.4h0.8v0.8h-0.8zM99.4 91.1h0.8v0.8h-0.8zM94.5 93.8h0.8v0.8h-0.8zM100.9 102.2h0.8v0.8h-0.8zM93.9 90.5h0.8v0.8h-0.8zM99.5 92.5h0.8v0.8h-0.8zM96.3 94.9h0.8v0.8h-0.8zM97.0 100.9h0.8v0.8h-0.8zM95.9 95.1h0.8v0.8h-0.8zM96.4 105.9h0.8v0.8h-0.8zM99.4 96.8h0.8v0.8h-0.8zM100.8 98.3h0.8v0.8h-0.8zM92.3 100.0h0.8v0.8h-0.8zM104.3 94.4h0.8v0.8h-0.8zM101.6 93.1h0.8v0.8h-0.8zM97.4 97.5h0.8v0.8h-0.8zM96.6 97.3h0.8v0.8h-0.8zM100.4 96.4h0.8v0.8h-0.8zM97.2 96.5h0.8v0.8h-0.8zM99.3 95.4h0.8v0.8h-0.8zM99.8 100.2h0.8v0.8h-0.8zM97.2 91.7h0.8v0.8h-0.8zM95.5 102.6h0.8v0.8h-0.8zM99.6 98.7h0.8v0.8h-0.8zM102.2 107.1h0.8v0.8h-0.8zM97.5 105.0h0.8v0.8h-0.8zM97.2 96.2h0.8v0.8h-0.8zM100.7 89.6h0.8v0.8h-0.8zM98.3 95.8h0.8v0.8h-0.8zM101.3 101.9h0.8v0.8h-0.8zM103.2 97.4h0.8v0.8h-0.8zM102.2 100.1h0.8v0.8h-0.8zM98.8 100.5h0.8v0.8h-0.8zM92.3 101.2h0.8v0.8h-0.8zM95.3 100.7h0.8v0.8h-0.8zM98.7 93.5h0.8v0.8h-0.8zM96.2 99.2h0.8v0.8h-0.8zM94.5 105.7h0.8v0.8h-0.8zM101.4 99.6h0.8v0.8h-0.8zM94.6 104.5h0.8v0.8h-0.8zM96.3 103.6h0.8v0.8h-0.8zM95.6 87.7h0.8v0.8h-0.8zM99.0 103.0h0.8v0.8h-0.8zM97.3 97.2h0.8v0.8h-0.8zM98.4 100.9h0.8v0.8h-0.8zM97.3 98.1h0.8v0.8h-0.8zM97.0 103.3h0.8v0.8h-0.8zM103.1 86.7h0.8v0.8h-0.8zM99.1 97.0h0.8v0.8h-0.8zM100.2 102.4h0.8v0.8h-0.8zM96.0 97.2h0.8v0.8h-0.8zM90.2 95.5h0.8v0.8h-0.8zM93.9 97.7h0.8v0.8h-0.8zM93.7 103.2h0.8v0.8h-0.8zM102.3 97.6h0.8v0.8h-0.8zM93.1 103.4h0.8v0.8h-0.8zM93.6 95.3h0.8v0.8h-0.8zM96.1 98.9h0.8v0.8h-0.8zM98.9 93.9h0.8v0.8h-0.8zM100.0 100.6h0.8v0.8h-0.8zM96.7 105.7h0.8v0.8h-0.8zM103.4 100.9h0.8v0.8h-0.8zM96.6 96.5h0.8v0.8h-0.8zM98.6 93.0h0.8v0.8h-0.8zM96.0 95.1h0.8v0.8h-0.8zM98.4 102.0h0.8v0.8h-0.8zM91.6 88.5h0.8v0.8h-0.8zM96.9 92.6h0.8v0.8h-0.8zM99.7 89.9h0.8v0.8h-0.8zM96.6 98.8h0.8v0.8h-0.8zM99.4 96.4h0.8v0.8h-0.8zM98.0 102.0h0.8v0.8h-0.8zM97.8 92.9h0.8v0.8h-0.8zM95.6 99.0h0.8v0.8h-0.8zM100.6 90.5h0.8v0.8h-0.8zM94.7 89.3h0.8v0.8h-0.8zM102.9 101.6h0.8v0.8h-0.8zM99.7 92.7h0.8v0.8h-0.8zM88.2 105.7h0.8v0.8h-0.8zM102.7 87.1h0.8v0.8h-0.8zM102.4 101.3h0.8v0.8h-0.8zM97.1 99.2h0.8v0.8h-0.8zM103.0 89.6h0.8v0.8h-0.8zM100.1 92.4h0.8v0.8h-0.8zM96.5 96.7h0.8v0.8h-0.8zM97.1 94.2h0.8v0.8h-0.8zM98.7 96.4h0.8v0.8h-0.8zM97.5 101.8h0.8v0.8h-0.8zM95.0 96.4h0.8v0.8h-0.8zM93.8 101.1h0.8v0.8h-0.8zM98.7 103.5h0.8v0.8h-0.8zM100.9 99.6h0.8v0.8h-0.8zM95.3 93.7h0.8v0.8h-0.8zM101.4 99.7h0.8v0.8h-0.8zM100.9 96.1h0.8v0.8h-0.8zM94.5 106.8h0.8v0.8h-0.8zM102.8 91.6h0.8v0.8h-0.8zM95.2 98.1h0.8v0.8h-0.8zM99.8 103.5h0.8v0.8h-0.8zM98.9 104.5h0.8v0.8h-0.8zM98.8 102.6h0.8v0.8h-0.8zM96.3 91.7h0.8v0.8h-0.8zM94.4 103.5h0.8v0.8h-0.8zM103.4 94.2h0.8v0.8h-0.8zM96.6 98.2h0.8v0.8h-0.8zM99.1 100.1h0.8v0.8h-0.8zM102.1 100.6h0.8v0.8h-0.8zM97.2 96.7h0.8v0.8h-0.8zM101.5 97.8h0.8v0.8h-0.8zM99.8 96.6h0.8v0.8h-0.8zM96.5 87.1h0.8v0.8h-0.8zM97.6 94.1h0.8v0.8h-0.8zM100.7 97.0h0.8v0.8h-0.8zM93.7 100.6h0.8v0.8h-0.8zM93.6 107.4h0.8v0.8h-0.8zM96.0 98.0h0.8v0.8h-0.8zM93.2 104.5h0.8v0.8h-0.8zM98.8 97.2h0.8v0.8h-0.8zM99.9 88.3h0.8v0.8h-0.8zM101.7 99.2h0.8v0.8h-0.8zM102.4 95.2h0.8v0.8h-0.8zM103.1 96.3h0.8v0.8h-0.8zM95.2 107.5h0.8v0.8h-0.8zM95.9 97.7h0.8v0.8h-0.8zM96.9 98.5h0.8v0.8h-0.8zM98.3 97.5h0.8v0.8h-0.8zM99.6 96.4h0.8v0.8h-0.8zM101.1 102.4h0.8v0.8h-0.8zM94.5 94.6h0.8v0.8h-0.8zM95.4 102.2h0.8v0.8h-0.8zM89.9 101.5h0.8v0.8h-0.8zM92.0 93.4h0.8v0.8h-0.8zM95.2 95.7h0.8v0.8h-0.8zM99.0 103.1h0.8v0.8h-0.8zM97.5 97.0h0.8v0.8h-0.8zM93.0 102.7h0.8v0.8h-0.8zM92.6 110.2h0.8v0.8h-0.8zM93.3 93.6h0.8v0.8h-0.8zM97.6 107.2h0.8v0.8h-0.8zM96.0 99.8h0.8v0.8h-0.8zM95.3 98.5h0.8v0.8h-0.8zM89.9 99.2h0.8v0.8h-0.8zM95.3 99.6h0.8v0.8h-0.8zM98.4 93.4h0.8v0.8h-0.8zM93.8 92.1h0.8v0.8h-0.8zM96.5 101.4h0.8v0.8h-0.8zM100.0 103.5h0.8v0.8h-0.8zM103.1 104.5h0.8v0.8h-0.8zM102.5 103.3h0.8v0.8h-0.8zM100.8 90.3h0.8v0.8h-0.8zM100.9 98.3h0.8v0.8h-0.8zM98.0 91.5h0.8v0.8h-0.8zM101.7 99.1h0.8v0.8h-0.8zM97.2 94.0h0.8v0.8h-0.8zM96.7 100.1h0.8v0.8h-0.8zM99.4 99.1h0.8v0.8h-0.8zM98.2 98.6h0.8v0.8h-0.8zM94.8 103.0h0.8v0.8h-0.8zM97.9 95.3h0.8v0.8h-0.8zM104.4 95.2h0.8v0.8h-0.8zM96.0 98.2h0.8v0.8h-0.8zM97.1 97.5h0.8v0.8h-0.8zM99.5 103.6h0.8v0.8h-0.8zM90.9 105.6h0.8v0.8h-0.8zM95.0 92.2h0.8v0.8h-0.8zM101.1 94.0h0.8v0.8h-0.8zM92.6 100.9h0.8v0.8h-0.8zM98.8 100.3h0.8v0.8h-0.8zM100.9 104.1h0.8v0.8h-0.8zM96.7 95.5h0.8v0.8h-0.8zM99.5 96.5h0.8v0.8h-0.8zM97.3 102.4h0.8v0.8h-0.8zM100.2 91.8h0.8v0.8h-0.8zM103.0 99.2h0.8v0.8h-0.8zM100.8 90.8h0.8v0.8h-0.8zM99.1 92.1h0.8v0.8h-0.8zM103.4 97.2h0.8v0.8h-0.8zM93.2 96.3h0.8v0.8h-0.8zM94.5 97.5h0.8v0.8h-0.8zM96.7 89.3h0.8v0.8h-0.8zM97.3 96.5h0.8v0.8h-0.8zM94.1 100.5h0.8v0.8h-0.8zM100.5 98.4h0.8v0.8h-0.8zM96.9 99.7h0.8v0.8h-0.8zM100.4 99.7h0.8v0.8h-0.8zM93.1 100.0h0.8v0.8h-0.8zM104.5 103.1h0.8v0.8h-0.8zM99.3 95.7h0.8v0.8h-0.8zM92.0 99.1h0.8v0.8h-0.8zM98.9 100.6h0.8v0.8h-0.8zM96.5 104.1h0.8v0.8h-0.8zM99.6 89.2h0.8v0.8h-0.8zM96.9 98.7h0.8v0.8h-0.8zM99.4 101.4h0.8v0.8h-0.8zM99.3 100.8h0.8v0.8h-0.8zM100.0 92.9h0.8v0.8h-0.8zM95.3 102.5h0.8v0.8h-0.8zM106.2 87.2h0.8v0.8h-0.8zM97.6 95.9h0.8v0.8h-0.8zM102.8 89.7h0.8v0.8h-0.8zM95.5 98.4h0.8v0.8h-0.8zM97.1 89.3h0.8v0.8h-0.8zM104.0 98.5h0.8v0.8h-0.8zM97.0 101.0h0.8v0.8h-0.8zM104.7 96.4h0.8v0.8h-0.8zM97.5 96.4h0.8v0.8h-0.8zM99.5 103.2h0.8v0.8h-0.8zM103.3 97.4h0.8v0.8h-0.8zM94.4 94.1h0.8v0.8h-0.8zM90.9 98.0h0.8v0.8h-0.8zM90.3 98.2h0.8v0.8h-0.8zM93.6 99.1h0.8v0.8h-0.8zM102.6 98.8h0.8v0.8h-0.8zM97.1 98.1h0.8v0.8h-0.8zM95.1 99.1h0.8v0.8h-0.8zM96.5 98.6h0.8v0.8h-0.8zM94.2 99.8h0.8v0.8h-0.8zM99.7 94.3h0.8v0.8h-0.8zM99.1 91.5h0.8v0.8h-0.8zM94.3 91.7h0.8v0.8h-0.8zM99.4 96.6h0.8v0.8h-0.8zM97.1 99.3h0.8v0.8h-0.8zM96.9 96.9h0.8v0.8h-0.8zM93.0 107.6h0.8v0.8h-0.8zM94.1 100.1h0.8v0.8h-0.8zM94.5 106.2h0.8v0.8h-0.8zM93.9 96.6h0.8v0.8h-0.8zM99.4 96.1h0.8v0.8h-0.8zM104.2 101.1h0.8v0.8h-0.8zM101.0 90.6h0.8v0.8h-0.8zM100.4 92.8h0.8v0.8h-0.8zM98.9 100.2h0.8v0.8h-0.8zM97.8 95.3h0.8v0.8h-0.8zM95.7 94.4h0.8v0.8h-0.8zM103.6 95.7h0.8v0.8h-0.8zM96.0 99.7h0.8v0.8h-0.8zM93.6 94.9h0.8v0.8h-0.8zM101.0 100.2h0.8v0.8h-0.8zM98.5 101.8h0.8v0.8h-0.8zM100.4 87.1h0.8v0.8h-0.8zM99.3 101.3h0.8v0.8h-0.8zM90.1 95.0h0.8v0.8h-0.8zM103.6 93.9h0.8v0.8h-0.8zM98.8 105.6h0.8v0.8h-0.8zM97.5 96.7h0.8v0.8h-0.8zM93.5 100.1h0.8v0.8h-0.8zM97.6 100.8h0.8v0.8h-0.8zM97.3 98.2h0.8v0.8h-0.8zM94.2 102.5h0.8v0.8h-0.8zM95.5 103.7h0.8v0.8h-0.8zM101.4 95.4h0.8v0.8h-0.8zM92.6 101.8h0.8v0.8h-0.8zM99.3 96.7h0.8v0.8h-0.8zM103.5 89.6h0.8v0.8h-0.8zM99.9 96.9h0.8v0.8h-0.8zM100.7 96.0h0.8v0.8h-0.8zM95.1 100.8h0.8v0.8h-0.8zM100.5 91.7h0.8v0.8h-0.8zM98.4 101.7h0.8v0.8h-0.8zM93.3 92.2h0.8v0.8h-0.8zM95.0 92.5h0.8v0.8h-0.8zM92.9 106.2h0.8v0.8h-0.8zM95.4 92.7h0.8v0.8h-0.8zM95.1 103.9h0.8v0.8h-0.8zM95.0 102.1h0.8v0.8h-0.8zM101.4 97.0h0.8v0.8h-0.8zM97.6 103.0h0.8v0.8h-0.8zM96.3 105.7h0.8v0.8h-0.8zM96.8 105.7h0.8v0.8h-0.8zM94.0 98.2h0.8v0.8h-0.8zM91.5 89.3h0.8v0.8h-0.8zM96.2 95.7h0.8v0.8h-0.8zM96.2 100.2h0.8v0.8h-0.8zM94.9 88.8h0.8v0.8h-0.8zM99.6 100.1h0.8v0.8h-0.8zM99.6 102.7h0.8v0.8h-0.8zM99.2 95.9h0.8v0.8h-0.8zM100.3 94.1h0.8v0.8h-0.8zM93.7 95.3h0.8v0.8h-0.8zM106.0 95.5h0.8v0.8h-0.8zM102.1 98.4h0.8v0.8h-0.8zM103.8 97.2h0.8v0.8h-0.8zM94.5 94.0h0.8v0.8h-0.8zM96.2 100.4h0.8v0.8h-0.8zM94.9 98.3h0.8v0.8h-0.8zM105.2 100.2h0.8v0.8h-0.8zM96.4 110.7h0.8v0.8h-0.8zM95.1 97.3h0.8v0.8h-0.8zM96.1 99.0h0.8v0.8h-0.8zM95.3 95.9h0.8v0.8h-0.8zM99.9 98.7h0.8v0.8h-0.8zM89.8 101.6h0.8v0.8h-0.8zM96.4 107.2h0.8v0.8h-0.8zM94.3 98.9h0.8v0.8h-0.8zM93.6 100.8h0.8v0.8h-0.8zM94.1 103.5h0.8v0.8h-0.8zM100.6 88.0h0.8v0.8h-0.8zM93.0 100.1h0.8v0.8h-0.8zM98.7 103.3h0.8v0.8h-0.8zM99.7 96.3h0.8v0.8h-0.8zM97.9 98.3h0.8v0.8h-0.8zM96.3 102.7h0.8v0.8h-0.8zM94.9 95.8h0.8v0.8h-0.8zM102.0 98.5h0.8v0.8h-0.8zM100.0 96.0h0.8v0.8h-0.8zM96.1 104.0h0.8v0.8h-0.8zM102.7 99.6h0.8v0.8h-0.8zM93.6 104.4h0.8v0.8h-0.8zM91.5 95.5h0.8v0.8h-0.8zM96.9 109.5h0.8v0.8h-0.8zM101.1 98.3h0.8v0.8h-0.8zM97.4 97.7h0.8v0.8h-0.8zM94.9 95.3h0.8v0.8h-0.8zM100.7 90.4h0.8v0.8h-0.8zM98.6 83.5h0.8v0.8h-0.8zM100.4 99.3h0.8v0.8h-0.8zM93.9 89.6h0.8v0.8h-0.8zM93.2 105.0h0.8v0.8h-0.8zM100.5 93.2h0.8v0.8h-0.8zM97.9 89.9h0.8v0.8h-0.8zM96.5 89.1h0.8v0.8h-0.8zM102.5 102.8h0.8v0.8h-0.8zM101.2 101.2h0.8v0.8h-0.8zM93.8 101.9h0.8v0.8h-0.8zM100.0 95.1h0.8v0.8h-0.8zM92.2 96.4h0.8v0.8h-0.8zM93.9 95.5h0.8v0.8h-0.8zM93.1 87.7h0.8v0.8h-0.8zM100.0 101.3h0.8v0.8h-0.8zM98.3 96.8h0.8v0.8h-0.8zM99.3 93.7h0.8v0.8h-0.8zM98.1 106.0h0.8v0.8h-0.8zM97.4 90.2h0.8v0.8h-0.8zM99.7 90.0h0.8v0.8h-0.8zM104.1 99.2h0.8v0.8h-0.8zM98.7 99.2h0.8v0.8h-0.8zM96.8 94.0h0.8v0.8h-0.8zM91.5 106.2h0.8v0.8h-0.8zM96.4 103.0h0.8v0.8h-0.8zM102.8 97.9h0.8v0.8h-0.8zM96.3 95.6h0.8v0.8h-0.8zM100.0 93.6h0.8v0.8h-0.8zM101.0 97.6h0.8v0.8h-0.8zM94.1 100.5h0.8v0.8h-0.8zM103.3 95.0h0.8v0.8h-0.8zM97.1 97.0h0.8v0.8h-0.8zM98.3 102.1h0.8v0.8h-0.8zM98.3 93.5h0.8v0.8h-0.8zM94.4 101.5h0.8v0.8h-0.8zM103.4 100.4h0.8v0.8h-0.8zM91.6 109.0h0.8v0.8h-0.8zM102.2 95.5h0.8v0.8h-0.8zM94.5 92.5h0.8v0.8h-0.8zM105.7 106.4h0.8v0.8h-0.8zM95.2 93.4h0.8v0.8h-0.8zM97.9 91.5h0.8v0.8h-0.8zM100.8 93.3h0.8v0.8h-0.8zM96.0 100.4h0.8v0.8h-0.8zM95.5 102.3h0.8v0.8h-0.8zM94.3 102.9h0.8v0.8h-0.8zM96.1 94.6h0.8v0.8h-0.8zM92.3 98.2h0.8v0.8h-0.8zM99.8 98.6h0.8v0.8h-0.8zM101.4 102.2h0.8v0.8h-0.8zM100.7 90.5h0.8v0.8h-0.8zM96.5 99.4h0.8v0.8h-0.8zM91.7 103.7h0.8v0.8h-0.8zM96.7 105.2h0.8v0.8h-0.8zM91.2 105.3h0.8v0.8h-0.8zM101.9 99.8h0.8v0.8h-0.8zM94.3 105.2h0.8v0.8h-0.8zM94.5 96.0h0.8v0.8h-0.8zM101.3 98.5h0.8v0.8h-0.8zM96.3 91.8h0.8v0.8h-0.8zM94.3 103.4h0.8v0.8h-0.8zM107.8 95.7h0.8v0.8h-0.8zM92.7 99.8h0.8v0.8h-0.8zM97.5 95.8h0.8v0.8h-0.8zM95.3 104.1h0.8v0.8h-0.8zM101.0 95.0h0.8v0.8h-0.8zM100.8 92.6h0.8v0.8h-0.8zM103.8 89.3h0.8v0.8h-0.8zM94.9 101.8h0.8v0.8h-0.8zM102.6 101.9h0.8v0.8h-0.8zM91.2 95.2h0.8v0.8h-0.8zM99.8 101.8h0.8v0.8h-0.8zM99.5 95.6h0.8v0.8h-0.8zM91.7 93.9h0.8v0.8h-0.8zM98.9 94.9h0.8v0.8h-0.8zM94.2 99.0h0.8v0.8h-0.8zM96.2 98.5h0.8v0.8h-0.8zM102.0 95.5h0.8v0.8h-0.8zM102.2 93.4h0.8v0.8h-0.8zM99.9 100.6h0.8v0.8h-0.8zM98.3 101.8h0.8v0.8h-0.8zM100.4 89.9h0.8v0.8h-0.8zM102.8 100.4h0.8v0.8h-0.8zM98.1 98.3h0.8v0.8h-0.8zM99.1 97.2h0.8v0.8h-0.8zM94.6 91.1h0.8v0.8h-0.8zM102.6 102.4h0.8v0.8h-0.8zM91.9 104.6h0.8v0.8h-0.8zM99.9 92.9h0.8v0.8h-0.8zM95.8 94.1h0.8v0.8h-0.8zM100.4 102.5h0.8v0.8h-0.8zM97.0 96.5h0.8v0.8h-0.8zM95.0 97.8h0.8v0.8h-0.8zM93.0 101.2h0.8v0.8h-0.8zM96.0 102.3h0.8v0.8h-0.8zM102.4 100.7h0.8v0.8h-0.8zM104.3 84.2h0.8v0.8h-0.8zM94.1 98.3h0.8v0.8h-0.8z"/>
<path fill="#e04040" fill-opacity="0.5" d="M91.0 99.4h0.8v0.8h-0.8zM97.1 90.3h0.8v0.8h-0.8zM85.4 94.1h0.8v0.8h-0.8zM92.4 101.8h0.8v0.8h-0.8zM101.3 92.8h0.8v0.8h-0.8zM103.7 91.7h0.8v0.8h-0.8zM94.2 90.6h0.8v0.8h-0.8zM94.3 100.6h0.8v0.8h-0.8zM97.5 82.6h0.8v0.8h-0.8zM103.3 101.8h0.8v0.8h-0.8zM96.1 92.7h0.8v0.8h-0.8zM85.5 102.8h0.8v0.8h-0.8zM101.1 74.2h0.8v0.8h-0.8zM96.4 96.2h0.8v0.8h-0.8zM101.3 95.4h0.8v0.8h-0.8zM100.1 91.4h0.8v0.8h-0.8zM98.6 90.3h0.8v0.8h-0.8zM111.4 97.2h0.8v0.8h-0.8zM104.5 76.1h0.8v0.8h-0.8zM96.8 96.8h0.8v0.8h-0.8zM106.2 81.2h0.8v0.8h-0.8zM93.9 104.9h0.8v0.8h-0.8zM97.9 90.5h0.8v0.8h-0.8zM101.8 92.7h0.8v0.8h-0.8zM97.3 86.3h0.8v0.8h-0.8zM88.8 90.8h0.8v0.8h-0.8zM99.9 98.2h0.8v0.8h-0.8zM93.3 94.4h0.8v0.8h-0.8zM97.1 77.5h0.8v0.8h-0.8zM105.1 83.3h0.8v0.8h-0.8zM91.9 87.4h0.8v0.8h-0.8zM92.6 104.2h0.8v0.8h-0.8zM98.5 110.9h0.8v0.8h-0.8zM103.7 79.6h0.8v0.8h-0.8zM90.9 92.3h0.8v0.8h-0.8zM90.0 93.5h0.8v0.8h-0.8zM102.4 98.9h0.8v0.8h-0.8zM86.5 98.4h0.8v0.8h-0.8zM104.9 103.6h0.8v0.8h-0.8zM113.1 90.0h0.8v0.8h-0.8zM95.5 99.0h0.8v0.8h-0.8zM99.9 106.1h0.8v0.8h-0.8zM99.4 86.6h0.8v0.8h-0.8zM99.2 86.3h0.8v0.8h-0.8zM99.8 89.8h0.8v0.8h-0.8zM104.4 88.1h0.8v0.8h-0.8zM105.4 87.7h0.8v0.8h-0.8zM101.8 104.3h0.8v0.8h-0.8zM98.9 90.6h0.8v0.8h-0.8zM99.1 96.6h0.8v0.8h-0.8zM91.2 96.3h0.8v0.8h-0.8zM91.6 79.8h0.8v0.8h-0.8zM91.6 91.9h0.8v0.8h-0.8zM100.2 72.0h0.8v0.8h-0.8zM105.7 89.6h0.8v0.8h-0.8zM95.8 94.5h0.8v0.8h-0.8zM98.8 97.7h0.8v0.8h-0.8zM90.8 92.7h0.8v0.8h-0.8zM101.6 100.1h0.8v0.8h-0.8zM110.1 83.2h0.8v0.8h-0.8zM108.6 82.9h0.8v0.8h-0.8zM91.9 92.1h0.8v0.8h-0.8zM107.8 106.1h0.8v0.8h-0.8zM97.5 92.9h0.8v0.8h-0.8zM107.5 84.4h0.8v0.8h-0.8zM98.1 87.0h0.8v0.8h-0.8zM103.4 99.0h0.8v0.8h-0.8zM96.9 102.8h0.8v0.8h-0.8zM99.5 84.6h0.8v0.8h-0.8zM108.1 79.2h0.8v0.8h-0.8zM100.0 92.7h0.8v0.8h-0.8zM89.4 91.2h0.8v0.8h-0.8zM90.3 101.9h0.8v0.8h-0.8zM100.2 101.0h0.8v0.8h-0.8zM103.7 94.1h0.8v0.8h-0.8zM102.8 99.3h0.8v0.8h-0.8zM98.7 102.0h0.8v0.8h-0.8zM113.4 82.3h0.8v0.8h-0.8zM99.9 79.8h0.8v0.8h-0.8zM90.0 95.8h0.8v0.8h-0.8zM93.9 89.1h0.8v0.8h-0.8zM92.9 99.3h0.8v0.8h-0.8zM106.7 96.1h0.8v0.8h-0.8zM96.3 86.6h0.8v0.8h-0.8zM101.7 79.0h0.8v0.8h-0.8zM91.5 91.9h0.8v0.8h-0.8zM99.3 94.3h0.8v0.8h-0.8zM102.2 87.1h0.8v0.8h-0.8zM100.5 84.1h0.8v0.8h-0.8zM105.0 76.7h0.8v0.8h-0.8zM100.6 95.2h0.8v0.8h-0.8zM95.9 92.9h0.8v0.8h-0.8zM103.8 94.7h0.8v0.8h-0.8zM105.6 105.5h0.8v0.8h-0.8zM99.6 91.1h0.8v0.8h-0.8zM95.1 81.8h0.8v0.8h-0.8zM99.2 93.8h0.8v0.8h-0.8zM96.0 106.5h0.8v0.8h-0.8zM99.7 96.4h0.8v0.8h-0.8zM100.1 83.3h0.8v0.8h-0.8zM96.3 90.9h0.8v0.8h-0.8zM100.5 99.2h0.8v0.8h-0.8zM93.4 89.8h0.8v0.8h-0.8zM106.2 82.3h0.8v0.8h-0.8zM101.0 80.4h0.8v0.8h-0.8zM91.9 100.5h0.8v0.8h-0.8zM94.8 110.5h0.8v0.8h-0.8zM90.7 98.0h0.8v0.8h-0.8zM101.8 79.4h0.8v0.8h-0.8zM99.0 94.6h0.8v0.8h-0.8zM93.9 101.7h0.8v0.8h-0.8zM94.9 97.9h0.8v0.8h-0.8zM99.9 88.2h0.8v0.8h-0.8zM97.8 101.7h0.8v0.8h-0.8zM103.0 104.5h0.8v0.8h-0.8zM93.1 78.9h0.8v0.8h-0.8zM94.0 101.6h0.8v0.8h-0.8zM88.2 90.4h0.8v0.8h-0.8zM90.2 96.8h0.8v0.8h-0.8zM104.7 92.1h0.8v0.8h-0.8zM103.7 100.8h0.8v0.8h-0.8zM93.9 103.9h0.8v0.8h-0.8zM110.0 95.5h0.8v0.8h-0.8zM99.0 95.6h0.8v0.8h-0.8zM103.9 90.7h0.8v0.8h-0.8zM94.3 101.7h0.8v0.8h-0.8zM94.5 103.0h0.8v0.8h-0.8zM95.5 106.8h0.8v0.8h-0.8zM109.4 85.9h0.8v0.8h-0.8zM102.8 91.8h0.8v0.8h-0.8zM93.1 98.5h0.8v0.8h-0.8zM102.8 98.6h0.8v0.8h-0.8zM100.1 107.6h0.8v0.8h-0.8zM98.8 98.2h0.8v0.8h-0.8zM97.2 105.5h0.8v0.8h-0.8zM94.2 90.6h0.8v0.8h-0.8zM93.7 86.1h0.8v0.8h-0.8zM101.4 90.4h0.8v0.8h-0.8zM95.2 89.5h0.8v0.8h-0.8zM99.1 111.2h0.8v0.8h-0.8zM101.2 87.0h0.8v0.8h-0.8zM101.2 88.0h0.8v0.8h-0.8zM98.5 98.7h0.8v0.8h-0.8zM110.7 90.0h0.8v0.8h-0.8zM100.1 85.8h0.8v0.8h-0.8zM106.7 86.9h0.8v0.8h-0.8zM100.7 109.4h0.8v0.8h-0.8zM86.8 98.5h0.8v0.8h-0.8zM110.3 97.5h0.8v0.8h-0.8zM93.0 108.9h0.8v0.8h-0.8zM97.7 91.6h0.8v0.8h-0.8zM92.1 96.4h0.8v0.8h-0.8zM107.6 88.7h0.8v0.8h-0.8zM101.6 98.2h0.8v0.8h-0.8zM107.1 94.6h0.8v0.8h-0.8zM94.0 93.3h0.8v0.8h-0.8zM101.7 91.4h0.8v0.8h-0.8zM92.0 96.3h0.8v0.8h-0.8zM93.3 80.8h0.8v0.8h-0.8zM101.5 81.7h0.8v0.8h-0.8zM105.5 80.6h0.8v0.8h-0.8zM96.5 95.8h0.8v0.8h-0.8zM107.9 88.3h0.8v0.8h-0.8zM96.9 102.9h0.8v0.8h-0.8zM93.4 94.4h0.8v0.8h-0.8zM101.6 103.6h0.8v0.8h-0.8zM97.3 95.5h0.8v0.8h-0.8zM93.4 95.9h0.8v0.8h-0.8zM102.2 89.3h0.8v0.8h-0.8zM109.5 102.1h0.8v0.8h-0.8zM94.1 91.6h0.8v0.8h-0.8zM103.9 85.2h0.8v0.8h-0.8zM91.9 97.2h0.8v0.8h-0.8zM98.4 92.2h0.8v0.8h-0.8zM104.8 92.4h0.8v0.8h-0.8zM93.7 81.3h0.8v0.8h-0.8zM98.3 91.0h0.8v0.8h-0.8zM98.9 85.0h0.8v0.8h-0.8zM90.0 87.8h0.8v0.8h-0.8zM100.1 95.7h0.8v0.8h-0.8zM94.2 117.6h0.8v0.8h-0.8zM94.0 85.9h0.8v0.8h-0.8zM105.8 73.6h0.8v0.8h-0.8zM102.5 93.2h0.8v0.8h-0.8zM115.5 97.5h0.8v0.8h-0.8zM98.0 92.6h0.8v0.8h-0.8zM99.2 87.0h0.8v0.8h-0.8zM103.5 97.3h0.8v0.8h-0.8zM101.0 91.2h0.8v0.8h-0.8zM89.8 85.7h0.8v0.8h-0.8zM88.4 83.8h0.8v0.8h-0.8zM101.1 91.2h0.8v0.8h-0.8zM94.9 105.7h0.8v0.8h-0.8zM98.9 101.8h0.8v0.8h-0.8zM97.7 89.5h0.8v0.8h-0.8zM87.4 102.3h0.8v0.8h-0.8zM104.7 94.1h0.8v0.8h-0.8zM100.4 95.5h0.8v0.8h-0.8zM104.4 99.2h0.8v0.8h-0.8zM100.8 84.1h0.8v0.8h-0.8zM91.8 69.6h0.8v0.8h-0.8zM94.2 102.0h0.8v0.8h-0.8zM95.4 89.6h0.8v0.8h-0.8zM97.6 106.8h0.8v0.8h-0.8zM86.6 87.5h0.8v0.8h-0.8zM93.8 98.5h0.8v0.8h-0.8zM101.1 78.0h0.8v0.8h-0.8zM90.5 75.1h0.8v0.8h-0.8zM99.2 83.4h0.8v0.8h-0.8zM86.1 106.4h0.8v0.8h-0.8zM91.4 87.6h0.8v0.8h-0.8zM104.9 94.7h0.8v0.8h-0.8zM87.8 89.3h0.8v0.8h-0.8zM94.9 103.5h0.8v0.8h-0.8zM98.2 78.8h0.8v0.8h-0.8zM99.4 82.9h0.8v0.8h-0.8zM97.9 98.2h0.8v0.8h-0.8zM98.3 92.1h0.8v0.8h-0.8zM95.7 79.3h0.8v0.8h-0.8zM96.4 104.5h0.8v0.8h-0.8zM96.4 113.6h0.8v0.8h-0.8zM98.9 73.6h0.8v0.8h-0.8zM97.6 94.6h0.8v0.8h-0.8zM99.0 75.8h0.8v0.8h-0.8zM110.7 79.6h0.8v0.8h-0.8zM99.0 100.3h0.8v0.8h-0.8zM105.6 94.4h0.8v0.8h-0.8zM104.1 92.2h0.8v0.8h-0.8zM98.9 104.6h0.8v0.8h-0.8zM102.9 78.4h0.8v0.8h-0.8zM108.7 69.0h0.8v0.8h-0.8zM107.5 89.9h0.8v0.8h-0.8zM93.0 99.7h0.8v0.8h-0.8zM101.9 98.1h0.8v0.8h-0.8zM93.6 97.4h0.8v0.8h-0.8zM100.2 89.9h0.8v0.8h-0.8zM93.0 95.0h0.8v0.8h-0.8zM91.1 101.8h0.8v0.8h-0.8zM91.6 81.3h0.8v0.8h-0.8zM104.0 79.1h0.8v0.8h-0.8zM112.1 84.4h0.8v0.8h-0.8zM96.3 88.1h0.8v0.8h-0.8zM95.8 104.1h0.8v0.8h-0.8zM97.6 87.6h0.8v0.8h-0.8zM105.4 94.6h0.8v0.8h-0.8zM102.5 94.3h0.8v0.8h-0.8zM97.4 86.6h0.8v0.8h-0.8zM95.3 84.4h0.8v0.8h-0.8zM99.5 92.4h0.8v0.8h-0.8zM102.4 94.8h0.8v0.8h-0.8zM103.0 86.2h0.8v0.8h-0.8zM87.2 97.9h0.8v0.8h-0.8zM108.8 93.2h0.8v0.8h-0.8zM105.5 86.9h0.8v0.8h-0.8zM92.6 94.1h0.8v0.8h-0.8zM101.5 98.7h0.8v0.8h-0.8zM104.2 95.1h0.8v0.8h-0.8zM97.5 93.0h0.8v0.8h-0.8zM94.7 88.1h0.8v0.8h-0.8zM92.7 80.1h0.8v0.8h-0.8zM104.1 89.4h0.8v0.8h-0.8zM89.4 79.3h0.8v0.8h-0.8zM102.8 93.3h0.8v0.8h-0.8zM96.5 97.1h0.8v0.8h-0.8zM105.5 92.0h0.8v0.8h-0.8zM94.5 109.1h0.8v0.8h-0.8zM103.1 89.1h0.8v0.8h-0.8zM95.3 87.3h0.8v0.8h-0.8zM110.1 77.8h0.8v0.8h-0.8zM103.0 90.2h0.8v0.8h-0.8zM101.4 95.1h0.8v0.8h-0.8zM91.4 85.8h0.8v0.8h-0.8zM88.3 87.9h0.8v0.8h-0.8zM92.0 98.6h0.8v0.8h-0.8zM88.0 91.6h0.8v0.8h-0.8zM94.6 86.8h0.8v0.8h-0.8zM84.6 104.5h0.8v0.8h-0.8zM97.1 92.7h0.8v0.8h-0.8zM115.3 82.4h0.8v0.8h-0.8zM100.4 84.8h0.8v0.8h-0.8zM98.1 88.6h0.8v0.8h-0.8zM99.2 99.4h0.8v0.8h-0.8zM95.7 102.2h0.8v0.8h-0.8zM100.1 81.5h0.8v0.8h-0.8zM87.2 96.4h0.8v0.8h-0.8zM95.4 95.8h0.8v0.8h-0.8zM104.7 86.4h0.8v0.8h-0.8zM103.5 100.7h0.8v0.8h-0.8zM105.4 101.1h0.8v0.8h-0.8zM90.9 95.2h0.8v0.8h-0.8zM103.0 81.1h0.8v0.8h-0.8zM103.8 91.9h0.8v0.8h-0.8zM96.4 106.5h0.8v0.8h-0.8zM106.6 91.4h0.8v0.8h-0.8zM99.7 102.1h0.8v0.8h-0.8zM96.5 101.6h0.8v0.8h-0.8zM102.8 89.9h0.8v0.8h-0.8zM106.6 93.0h0.8v0.8h-0.8zM97.0 88.6h0.8v0.8h-0.8zM86.2 98.0h0.8v0.8h-0.8zM96.9 75.6h0.8v0.8h-0.8zM106.0 75.3h0.8v0.8h-0.8zM95.0 98.0h0.8v0.8h-0.8zM99.3 96.2h0.8v0.8h-0.8zM99.5 84.3h0.8v0.8h-0.8zM98.0 99.3h0.8v0.8h-0.8zM95.6 100.3h0.8v0.8h-0.8zM88.0 80.9h0.8v0.8h-0.8zM85.6 84.5h0.8v0.8h-0.8zM102.7 82.5h0.8v0.8h-0.8zM95.8 90.8h0.8v0.8h-0.8zM94.8 89.2h0.8v0.8h-0.8zM103.6 94.2h0.8v0.8h-0.8zM102.9 97.9h0.8v0.8h-0.8zM95.5 92.2h0.8v0.8h-0.8zM104.9 89.5h0.8v0.8h-0.8zM91.8 101.3h0.8v0.8h-0.8zM101.3 99.2h0.8v0.8h-0.8zM96.2 90.1h0.8v0.8h-0.8zM99.5 96.5h0.8v0.8h-0.8zM106.1 85.1h0.8v0.8h-0.8zM105.9 85.9h0.8v0.8h-0.8zM94.7 86.9h0.8v0.8h-0.8zM92.9 100.1h0.8v0.8h-0.8zM99.3 111.8h0.8v0.8h-0.8zM94.4 92.6h0.8v0.8h-0.8zM110.1 80.8h0.8v0.8h-0.8zM97.8 109.2h0.8v0.8h-0.8zM105.7 88.2h0.8v0.8h-0.8zM97.6 93.6h0.8v0.8h-0.8zM97.6 82.9h0.8v0.8h-0.8zM107.0 87.4h0.8v0.8h-0.8zM107.0 85.6h0.8v0.8h-0.8zM100.3 72.6h0.8v0.8h-0.8zM80.2 103.4h0.8v0.8h-0.8zM96.1 88.2h0.8v0.8h-0.8zM106.9 82.2h0.8v0.8h-0.8zM95.5 101.7h0.8v0.8h-0.8zM98.9 105.9h0.8v0.8h-0.8zM101.8 80.0h0.8v0.8h-0.8zM97.2 96.8h0.8v0.8h-0.8zM93.8 88.2h0.8v0.8h-0.8zM92.6 110.3h0.8v0.8h-0.8zM97.1 85.0h0.8v0.8h-0.8zM99.2 87.0h0.8v0.8h-0.8zM100.1 88.4h0.8v0.8h-0.8zM93.8 84.7h0.8v0.8h-0.8zM83.8 102.9h0.8v0.8h-0.8zM106.2 94.0h0.8v0.8h-0.8zM97.8 98.5h0.8v0.8h-0.8zM102.6 85.8h0.8v0.8h-0.8zM91.7 97.6h0.8v0.8h-0.8zM96.0 95.5h0.8v0.8h-0.8zM94.1 99.0h0.8v0.8h-0.8zM97.1 94.3h0.8v0.8h-0.8zM106.9 77.1h0.8v0.8h-0.8zM99.9 104.9h0.8v0.8h-0.8zM100.3 78.5h0.8v0.8h-0.8zM102.9 86.0h0.8v0.8h-0.8zM89.1 103.5h0.8v0.8h-0.8zM100.8 83.5h0.8v0.8h-0.8zM90.6 93.4h0.8v0.8h-0.8zM99.3 96.4h0.8v0.8h-0.8zM94.3 85.0h0.8v0.8h-0.8zM99.5 89.3h0.8v0.8h-0.8zM99.8 89.9h0.8v0.8h-0.8zM97.8 93.9h0.8v0.8h-0.8zM98.5 104.1h0.8v0.8h-0.8zM103.7 75.8h0.8v0.8h-0.8zM110.1 82.6h0.8v0.8h-0.8zM96.7 102.7h0.8v0.8h-0.8zM98.3 104.4h0.8v0.8h-0.8zM92.7 110.5h0.8v0.8h-0.8zM105.7 80.0h0.8v0.8h-0.8zM103.2 91.1h0.8v0.8h-0.8zM106.1 88.6h0.8v0.8h-0.8zM106.5 83.5h0.8v0.8h-0.8zM97.3 91.2h0.8v0.8h-0.8zM106.7 87.9h0.8v0.8h-0.8zM97.3 102.2h0.8v0.8h-0.8zM84.8 102.1h0.8v0.8h-0.8zM97.5 94.1h0.8v0.8h-0.8zM109.0 95.4h0.8v0.8h-0.8zM99.0 104.0h0.8v0.8h-0.8zM103.1 105.1h0.8v0.8h-0.8zM94.3 94.6h0.8v0.8h-0.8zM94.2 80.0h0.8v0.8h-0.8zM97.7 89.5h0.8v0.8h-0.8zM97.6 85.3h0.8v0.8h-0.8zM111.0 84.7h0.8v0.8h-0.8zM104.7 83.1h0.8v0.8h-0.8zM102.5 86.1h0.8v0.8h-0.8zM94.9 73.1h0.8v0.8h-0.8zM101.5 104.6h0.8v0.8h-0.8zM97.5 90.6h0.8v0.8h-0.8zM104.5 80.4h0.8v0.8h-0.8zM94.0 118.0h0.8v0.8h-0.8zM100.5 78.2h0.8v0.8h-0.8zM95.4 91.5h0.8v0.8h-0.8zM92.2 106.2h0.8v0.8h-0.8zM103.4 88.9h0.8v0.8h-0.8zM101.0 89.2h0.8v0.8h-0.8zM90.3 103.7h0.8v0.8h-0.8zM99.1 87.5h0.8v0.8h-0.8zM106.8 92.6h0.8v0.8h-0.8zM110.9 72.6h0.8v0.8h-0.8zM105.2 84.4h0.8v0.8h-0.8zM94.1 99.2h0.8v0.8h-0.8zM114.0 76.7h0.8v0.8h-0.8zM106.4 92.3h0.8v0.8h-0.8zM93.2 100.2h0.8v0.8h-0.8zM99.4 87.6h0.8v0.8h-0.8zM97.9 90.3h0.8v0.8h-0.8zM92.9 100.5h0.8v0.8h-0.8zM109.7 87.9h0.8v0.8h-0.8zM95.4 90.3h0.8v0.8h-0.8zM94.2 91.9h0.8v0.8h-0.8zM99.3 92.7h0.8v0.8h-0.8zM93.8 93.7h0.8v0.8h-0.8zM92.8 87.1h0.8v0.8h-0.8zM97.6 92.6h0.8v0.8h-0.8zM103.4 92.4h0.8v0.8h-0.8zM92.1 94.2h0.8v0.8h-0.8zM95.7 98.6h0.8v0.8h-0.8zM103.2 107.8h0.8v0.8h-0.8zM101.0 84.3h0.8v0.8h-0.8zM100.2 91.3h0.8v0.8h-0.8zM98.6 78.6h0.8v0.8h-0.8zM107.2 86.4h0.8v0.8h-0.8zM101.1 103.0h0.8v0.8h-0.8zM92.5 94.2h0.8v0.8h-0.8zM102.0 80.4h0.8v0.8h-0.8zM94.8 92.5h0.8v0.8h-0.8zM105.5 88.1h0.8v0.8h-0.8zM94.6 100.6h0.8v0.8h-0.8zM98.2 86.1h0.8v0.8h-0.8zM89.3 93.3h0.8v0.8h-0.8zM97.4 83.2h0.8v0.8h-0.8zM98.1 85.5h0.8v0.8h-0.8zM115.4 92.8h0.8v0.8h-0.8zM106.0 83.2h0.8v0.8h-0.8zM102.1 96.8h0.8v0.8h-0.8zM90.5 110.2h0.8v0.8h-0.8zM96.4 81.8h0.8v0.8h-0.8zM89.5 68.4h0.8v0.8h-0.8zM94.9 90.6h0.8v0.8h-0.8zM102.8 93.1h0.8v0.8h-0.8zM97.0 83.1h0.8v0.8h-0.8zM108.3 91.5h0.8v0.8h-0.8zM108.0 94.6h0.8v0.8h-0.8zM97.6 88.7h0.8v0.8h-0.8zM99.0 99.9h0.8v0.8h-0.8zM95.2 95.9h0.8v0.8h-0.8zM96.1 76.7h0.8v0.8h-0.8zM91.3 85.8h0.8v0.8h-0.8zM93.1 97.0h0.8v0.8h-0.8zM97.8 88.3h0.8v0.8h-0.8zM100.8 79.8h0.8v0.8h-0.8zM86.8 106.0h0.8v0.8h-0.8zM105.4 81.5h0.8v0.8h-0.8zM91.1 93.2h0.8v0.8h-0.8zM93.1 69.7h0.8v0.8h-0.8zM97.5 86.8h0.8v0.8h-0.8zM105.4 84.9h0.8v0.8h-0.8zM90.6 93.8h0.8v0.8h-0.8zM93.0 91.9h0.8v0.8h-0.8zM89.5 86.0h0.8v0.8h-0.8zM111.9 83.7h0.8v0.8h-0.8zM98.5 91.3h0.8v0.8h-0.8zM99.6 91.4h0.8v0.8h-0.8zM104.2 88.1h0.8v0.8h-0.8zM93.0 92.3h0.8v0.8h-0.8zM104.5 77.9h0.8v0.8h-0.8zM103.4 90.5h0.8v0.8h-0.8zM103.6 94.1h0.8v0.8h-0.8zM92.9 87.1h0.8v0.8h-0.8zM99.3 102.1h0.8v0.8h-0.8zM95.8 97.3h0.8v0.8h-0.8zM104.7 97.0h0.8v0.8h-0.8zM104.3 100.2h0.8v0.8h-0.8zM96.8 80.5h0.8v0.8h-0.8zM89.6 105.0h0.8v0.8h-0.8zM107.1 86.9h0.8v0.8h-0.8zM92.8 109.4h0.8v0.8h-0.8zM94.1 91.1h0.8v0.8h-0.8zM94.3 98.8h0.8v0.8h-0.8zM87.7 92.0h0.8v0.8h-0.8zM96.4 102.2h0.8v0.8h-0.8zM99.7 96.3h0.8v0.8h-0.8zM92.7 93.1h0.8v0.8h-0.8zM91.0 106.4h0.8v0.8h-0.8zM100.1 93.3h0.8v0.8h-0.8zM99.1 93.4h0.8v0.8h-0.8zM94.7 97.1h0.8v0.8h-0.8zM100.8 85.1h0.8v0.8h-0.8zM101.2 100.2h0.8v0.8h-0.8zM105.5 91.1h0.8v0.8h-0.8zM99.4 106.6h0.8v0.8h-0.8zM100.9 96.9h0.8v0.8h-0.8zM102.4 79.6h0.8v0.8h-0.8zM93.3 90.3h0.8v0.8h-0.8zM102.6 98.7h0.8v0.8h-0.8zM95.1 93.4h0.8v0.8h-0.8zM99.8 86.4h0.8v0.8h-0.8zM96.0 99.5h0.8v0.8h-0.8zM93.6 87.2h0.8v0.8h-0.8zM101.0 84.1h0.8v0.8h-0.8zM92.4 94.7h0.8v0.8h-0.8zM109.6 96.9h0.8v0.8h-0.8zM91.5 104.7h0.8v0.8h-0.8zM104.3 77.3h0.8v0.8h-0.8zM100.8 75.7h0.8v0.8h-0.8zM92.9 104.0h0.8v0.8h-0.8zM100.4 123.0h0.8v0.8h-0.8zM104.6 91.6h0.8v0.8h-0.8zM96.2 88.3h0.8v0.8h-0.8zM95.3 83.1h0.8v0.8h-0.8zM100.0 94.3h0.8v0.8h-0.8zM99.9 91.6h0.8v0.8h-0.8zM89.2 94.7h0.8v0.8h-0.8zM96.4 99.3h0.8v0.8h-0.8zM102.0 84.7h0.8v0.8h-0.8zM101.3 100.7h0.8v0.8h-0.8zM95.2 98.1h0.8v0.8h-0.8zM102.1 89.5h0.8v0.8h-0.8zM101.7 86.8h0.8v0.8h-0.8zM106.7 91.3h0.8v0.8h-0.8zM98.7 109.0h0.8v0.8h-0.8zM97.0 98.3h0.8v0.8h-0.8zM111.2 79.8h0.8v0.8h-0.8zM108.1 101.3h0.8v0.8h-0.8zM91.7 91.9h0.8v0.8h-0.8zM109.5 97.2h0.8v0.8h-0.8zM102.9 103.8h0.8v0.8h-0.8zM94.2 94.6h0.8v0.8h-0.8zM109.7 89.2h0.8v0.8h-0.8zM100.5 88.4h0.8v0.8h-0.8zM96.2 90.2h0.8v0.8h-0.8zM89.1 83.9h0.8v0.8h-0.8zM92.1 82.0h0.8v0.8h-0.8zM92.7 100.2h0.8v0.8h-0.8zM90.4 98.0h0.8v0.8h-0.8zM98.4 85.7h0.8v0.8h-0.8zM89.2 91.1h0.8v0.8h-0.8zM95.9 99.1h0.8v0.8h-0.8zM100.8 74.7h0.8v0.8h-0.8zM97.8 104.7h0.8v0.8h-0.8zM98.3 93.8h0.8v0.8h-0.8zM100.4 95.7h0.8v0.8h-0.8zM112.2 96.3h0.8v0.8h-0.8zM98.8 101.0h0.8v0.8h-0.8zM105.8 79.7h0.8v0.8h-0.8zM101.4 90.7h0.8v0.8h-0.8zM90.8 98.7h0.8v0.8h-0.8zM93.9 95.0h0.8v0.8h-0.8zM93.2 96.5h0.8v0.8h-0.8zM107.7 88.1h0.8v0.8h-0.8zM91.9 99.1h0.8v0.8h-0.8zM91.0 99.9h0.8v0.8h-0.8zM102.9 86.0h0.8v0.8h-0.8zM92.0 102.7h0.8v0.8h-0.8zM102.5 95.5h0.8v0.8h-0.8zM96.7 102.1h0.8v0.8h-0.8zM94.4 94.6h0.8v0.8h-0.8zM97.3 104.5h0.8v0.8h-0.8zM97.0 90.7h0.8v0.8h-0.8zM100.4 91.5h0.8v0.8h-0.8zM95.7 96.9h0.8v0.8h-0.8zM96.6 89.8h0.8v0.8h-0.8zM99.5 94.3h0.8v0.8h-0.8zM96.8 91.5h0.8v0.8h-0.8zM94.1 84.7h0.8v0.8h-0.8zM97.6 82.7h0.8v0.8h-0.8zM100.8 112.6h0.8v0.8h-0.8zM97.5 91.7h0.8v0.8h-0.8zM98.7 89.7h0.8v0.8h-0.8zM93.1 99.3h0.8v0.8h-0.8zM104.6 83.2h0.8v0.8h-0.8zM101.8 86.4h0.8v0.8h-0.8zM103.8 87.7h0.8v0.8h-0.8zM102.0 87.4h0.8v0.8h-0.8zM96.5 95.5h0.8v0.8h-0.8zM105.7 82.8h0.8v0.8h-0.8zM97.8 85.2h0.8v0.8h-0.8zM89.0 92.0h0.8v0.8h-0.8zM98.1 90.1h0.8v0.8h-0.8zM89.5 106.0h0.8v0.8h-0.8zM100.8 70.0h0.8v0.8h-0.8zM95.8 94.6h0.8v0.8h-0.8zM93.2 89.9h0.8v0.8h-0.8zM87.1 86.8h0.8v0.8h-0.8zM101.2 85.3h0.8v0.8h-0.8zM95.5 82.3h0.8v0.8h-0.8zM92.9 100.5h0.8v0.8h-0.8zM100.6 87.9h0.8v0.8h-0.8zM93.8 98.3h0.8v0.8h-0.8zM97.3 84.4h0.8v0.8h-0.8zM102.5 94.0h0.8v0.8h-0.8zM105.9 93.0h0.8v0.8h-0.8zM95.7 95.7h0.8v0.8h-0.8zM99.4 93.4h0.8v0.8h-0.8zM95.3 85.7h0.8v0.8h-0.8zM95.8 87.4h0.8v0.8h-0.8zM107.5 87.6h0.8v0.8h-0.8zM99.7 97.1h0.8v0.8h-0.8zM87.7 98.4h0.8v0.8h-0.8zM98.6 96.2h0.8v0.8h-0.8zM96.8 101.2h0.8v0.8h-0.8zM102.2 88.1h0.8v0.8h-0.8zM97.4 84.7h0.8v0.8h-0.8zM96.6 84.5h0.8v0.8h-0.8zM97.1 101.0h0.8v0.8h-0.8zM94.7 100.8h0.8v0.8h-0.8zM102.5 100.2h0.8v0.8h-0.8zM96.7 69.0h0.8v0.8h-0.8zM102.7 98.6h0.8v0.8h-0.8zM93.1 84.3h0.8v0.8h-0.8zM99.7 93.0h0.8v0.8h-0.8zM91.9 90.1h0.8v0.8h-0.8zM91.4 88.2h0.8v0.8h-0.8zM100.9 95.9h0.8v0.8h-0.8zM93.8 96.8h0.8v0.8h-0.8zM109.3 93.7h0.8v0.8h-0.8zM102.9 81.3h0.8v0.8h-0.8zM106.8 80.9h0.8v0.8h-0.8zM94.9 99.7h0.8v0.8h-0.8zM110.1 67.1h0.8v0.8h-0.8zM100.6 71.6h0.8v0.8h-0.8zM100.8 80.3h0.8v0.8h-0.8zM107.0 106.1h0.8v0.8h-0.8zM94.1 88.5h0.8v0.8h-0.8zM96.2 100.7h0.8v0.8h-0.8zM103.9 100.4h0.8v0.8h-0.8zM100.2 64.8h0.8v0.8h-0.8zM93.5 80.6h0.8v0.8h-0.8zM106.0 83.1h0.8v0.8h-0.8zM103.1 101.2h0.8v0.8h-0.8zM96.7 99.5h0.8v0.8h-0.8zM92.0 99.9h0.8v0.8h-0.8zM100.5 88.0h0.8v0.8h-0.8zM99.9 74.3h0.8v0.8h-0.8zM95.3 96.4h0.8v0.8h-0.8zM97.5 88.2h0.8v0.8h-0.8zM99.8 118.9h0.8v0.8h-0.8zM88.1 100.5h0.8v0.8h-0.8zM98.4 92.4h0.8v0.8h-0.8zM94.9 89.1h0.8v0.8h-0.8zM98.9 96.6h0.8v0.8h-0.8zM96.9 87.3h0.8v0.8h-0.8zM97.9 106.0h0.8v0.8h-0.8zM94.9 96.1h0.8v0.8h-0.8zM101.4 96.8h0.8v0.8h-0.8zM93.6 91.3h0.8v0.8h-0.8zM101.9 83.6h0.8v0.8h-0.8zM98.8 92.6h0.8v0.8h-0.8zM90.4 104.9h0.8v0.8h-0.8zM102.3 86.2h0.8v0.8h-0.8zM105.5 92.3h0.8v0.8h-0.8zM96.4 81.1h0.8v0.8h-0.8zM107.2 84.8h0.8v0.8h-0.8zM99.0 97.0h0.8v0.8h-0.8zM93.5 97.7h0.8v0.8h-0.8zM104.1 93.8h0.8v0.8h-0.8zM96.7 98.1h0.8v0.8h-0.8zM95.4 103.5h0.8v0.8h-0.8zM102.2 94.6h0.8v0.8h-0.8zM100.7 89.8h0.8v0.8h-0.8zM103.9 87.8h0.8v0.8h-0.8zM101.6 82.3h0.8v0.8h-0.8zM110.2 99.1h0.8v0.8h-0.8zM97.5 96.5h0.8v0.8h-0.8zM85.9 101.7h0.8v0.8h-0.8zM88.2 95.0h0.8v0.8h-0.8zM94.5 98.1h0.8v0.8h-0.8zM101.2 95.8h0.8v0.8h-0.8zM104.6 91.8h0.8v0.8h-0.8zM100.6 90.5h0.8v0.8h-0.8zM97.8 82.6h0.8v0.8h-0.8zM95.9 107.3h0.8v0.8h-0.8zM95.4 87.2h0.8v0.8h-0.8zM93.8 94.7h0.8v0.8h-0.8zM87.6 90.6h0.8v0.8h-0.8zM97.3 83.1h0.8v0.8h-0.8zM99.3 94.6h0.8v0.8h-0.8zM96.8 103.1h0.8v0.8h-0.8zM88.2 99.3h0.8v0.8h-0.8zM94.8 113.5h0.8v0.8h-0.8zM104.4 99.2h0.8v0.8h-0.8zM87.7 91.4h0.8v0.8h-0.8zM104.3 102.0h0.8v0.8h-0.8zM101.4 82.4h0.8v0.8h-0.8zM102.7 80.7h0.8v0.8h-0.8zM95.5 87.9h0.8v0.8h-0.8zM102.4 88.1h0.8v0.8h-0.8zM98.2 92.3h0.8v0.8h-0.8zM98.3 98.1h0.8v0.8h-0.8zM101.8 91.1h0.8v0.8h-0.8zM101.0 87.7h0.8v0.8h-0.8zM93.7 85.8h0.8v0.8h-0.8zM103.8 75.9h0.8v0.8h-0.8zM101.6 96.9h0.8v0.8h-0.8zM93.0 81.4h0.8v0.8h-0.8zM99.9 72.3h0.8v0.8h-0.8zM88.2 93.1h0.8v0.8h-0.8zM82.1 107.3h0.8v0.8h-0.8zM101.7 107.8h0.8v0.8h-0.8zM98.0 103.0h0.8v0.8h-0.8zM108.1 86.8h0.8v0.8h-0.8zM108.9 88.8h0.8v0.8h-0.8zM103.7 70.3h0.8v0.8h-0.8zM101.4 77.8h0.8v0.8h-0.8zM109.5 99.5h0.8v0.8h-0.8zM104.5 90.1h0.8v0.8h-0.8zM102.0 98.7h0.8v0.8h-0.8zM95.0 96.4h0.8v0.8h-0.8zM99.8 81.2h0.8v0.8h-0.8zM92.2 75.6h0.8v0.8h-0.8zM96.4 109.8h0.8v0.8h-0.8zM97.7 86.7h0.8v0.8h-0.8zM105.9 93.5h0.8v0.8h-0.8zM100.2 93.3h0.8v0.8h-0.8zM89.3 77.1h0.8v0.8h-0.8zM99.9 93.9h0.8v0.8h-0.8zM100.6 81.0h0.8v0.8h-0.8zM100.0 90.4h0.8v0.8h-0.8zM93.8 88.9h0.8v0.8h-0.8zM94.0 110.8h0.8v0.8h-0.8zM106.8 86.9h0.8v0.8h-0.8zM106.9 80.9h0.8v0.8h-0.8zM88.1 81.9h0.8v0.8h-0.8zM106.7 102.0h0.8v0.8h-0.8zM93.7 94.7h0.8v0.8h-0.8zM88.0 87.3h0.8v0.8h-0.8zM96.7 80.4h0.8v0.8h-0.8zM98.6 85.1h0.8v0.8h-0.8zM103.6 82.5h0.8v0.8h-0.8zM99.3 97.0h0.8v0.8h-0.8zM101.1 99.3h0.8v0.8h-0.8zM99.4 102.5h0.8v0.8h-0.8zM102.4 103.6h0.8v0.8h-0.8zM108.4 83.5h0.8v0.8h-0.8zM93.2 104.3h0.8v0.8h-0.8zM93.3 97.7h0.8v0.8h-0.8zM100.5 105.6h0.8v0.8h-0.8zM94.6 93.5h0.8v0.8h-0.8zM96.1 97.7h0.8v0.8h-0.8zM88.5 88.6h0.8v0.8h-0.8zM104.8 94.5h0.8v0.8h-0.8zM100.1 106.2h0.8v0.8h-0.8zM100.5 89.3h0.8v0.8h-0.8zM98.8 81.5h0.8v0.8h-0.8zM96.7 90.2h0.8v0.8h-0.8zM105.5 88.5h0.8v0.8h-0.8zM95.0 90.8h0.8v0.8h-0.8zM93.9 102.8h0.8v0.8h-0.8zM94.8 104.5h0.8v0.8h-0.8zM106.1 70.8h0.8v0.8h-0.8zM100.6 82.9h0.8v0.8h-0.8zM101.1 84.8h0.8v0.8h-0.8zM104.2 91.8h0.8v0.8h-0.8zM90.9 109.4h0.8v0.8h-0.8zM98.1 88.1h0.8v0.8h-0.8zM94.7 98.1h0.8v0.8h-0.8zM99.8 93.3h0.8v0.8h-0.8zM106.4 89.5h0.8v0.8h-0.8zM100.2 100.8h0.8v0.8h-0.8zM101.6 88.9h0.8v0.8h-0.8zM94.7 101.7h0.8v0.8h-0.8zM79.9 100.5h0.8v0.8h-0.8zM91.0 98.8h0.8v0.8h-0.8zM100.2 97.1h0.8v0.8h-0.8zM102.7 89.4h0.8v0.8h-0.8zM107.1 95.9h0.8v0.8h-0.8zM103.5 92.3h0.8v0.8h-0.8zM93.8 101.1h0.8v0.8h-0.8zM93.4 90.6h0.8v0.8h-0.8zM98.5 77.7h0.8v0.8h-0.8zM103.8 94.5h0.8v0.8h-0.8zM88.9 88.8h0.8v0.8h-0.8zM108.2 105.5h0.8v0.8h-0.8zM96.4 95.2h0.8v0.8h-0.8zM96.4 94.1h0.8v0.8h-0.8zM97.3 94.0h0.8v0.8h-0.8zM93.7 99.0h0.8v0.8h-0.8zM96.9 76.1h0.8v0.8h-0.8zM91.4 83.9h0.8v0.8h-0.8zM97.6 97.5h0.8v0.8h-0.8zM106.9 81.0h0.8v0.8h-0.8zM88.5 95.1h0.8v0.8h-0.8zM106.3 100.9h0.8v0.8h-0.8zM95.0 101.0h0.8v0.8h-0.8zM104.6 103.8h0.8v0.8h-0.8zM100.5 90.4h0.8v0.8h-0.8zM96.8 88.0h0.8v0.8h-0.8zM91.2 93.4h0.8v0.8h-0.8zM104.9 91.9h0.8v0.8h-0.8zM100.9 99.6h0.8v0.8h-0.8zM98.0 91.9h0.8v0.8h-0.8zM108.6 88.8h0.8v0.8h-0.8zM96.0 87.9h0.8v0.8h-0.8z"/>
<path fill="#f09090" fill-opacity="0.5" d="M81.3 90.7h0.8v0.8h-0.8zM106.3 74.9h0.8v0.8h-0.8zM97.2 124.6h0.8v0.8h-0.8zM113.1 61.0h0.8v0.8h-0.8zM111.5 68.0h0.8v0.8h-0.8zM106.4 93.1h0.8v0.8h-0.8zM69.2 114.7h0.8v0.8h-0.8zM69.9 71.9h0.8v0.8h-0.8zM108.0 91.7h0.8v0.8h-0.8zM99.4 74.2h0.8v0.8h-0.8zM110.1 87.2h0.8v0.8h-0.8zM89.3 101.3h0.8v0.8h-0.8zM124.1 69.2h0.8v0.8h-0.8zM88.0 60.6h0.8v0.8h-0.8zM73.3 83.7h0.8v0.8h-0.8zM113.1 53.4h0.8v0.8h-0.8zM91.1 86.5h0.8v0.8h-0.8zM84.7 96.6h0.8v0.8h-0.8zM106.5 79.3h0.8v0.8h-0.8zM117.0 87.0h0.8v0.8h-0.8zM115.7 91.9h0.8v0.8h-0.8zM90.8 108.7h0.8v0.8h-0.8zM83.0 87.5h0.8v0.8h-0.8zM89.5 64.9h0.8v0.8h-0.8zM71.8 102.3h0.8v0.8h-0.8zM120.3 101.0h0.8v0.8h-0.8zM59.5 92.7h0.8v0.8h-0.8zM97.6 91.8h0.8v0.8h-0.8zM100.5 91.7h0.8v0.8h-0.8z"/>
<ellipse cx="91.5" cy="92.5" rx="21.9" ry="25.2" transform="rotate(19 91.5 92.5)" fill="none" stroke="#333" stroke-width="0.8"/>
<line x1="113.40" y1="90.50" x2="154.50" y2="90.50" stroke="#1a1a1a" stroke-width="1.0"/>
<path d="M157.7 90.5 L152.0 88.1 L153.3 90.5 L152.0 92.9 Z" fill="#111"/>
<rect x="36.6" y="46.0" width="100.30" height="95.90" fill="none" stroke="#1a1a1a" stroke-width="1.4" stroke-linejoin="round"/>
<line x1="33.20" y1="141.90" x2="36.60" y2="141.90" stroke="#1a1a1a" stroke-width="1"/>
<text x="26.40" y="146.00" font-size="8.5" text-anchor="end" fill="#111" font-weight="normal" stroke="#111" stroke-width="0.06" >10</text>
<text x="26.80" y="142.90" font-size="6.3" text-anchor="start" fill="#111" font-weight="normal" stroke="#111" stroke-width="0.06" >0</text>
<line x1="34.80" y1="134.68" x2="36.60" y2="134.68" stroke="#1a1a1a" stroke-width="0.7"/>
<line x1="34.80" y1="130.46" x2="36.60" y2="130.46" stroke="#1a1a1a" stroke-width="0.7"/>
<line x1="34.80" y1="127.47" x2="36.60" y2="127.47" stroke="#1a1a1a" stroke-width="0.7"/>
<line x1="34.80" y1="125.14" x2="36.60" y2="125.14" stroke="#1a1a1a" stroke-width="0.7"/>
<line x1="34.80" y1="123.24" x2="36.60" y2="123.24" stroke="#1a1a1a" stroke-width="0.7"/>
<line x1="34.80" y1="121.64" x2="36.60" y2="121.64" stroke="#1a1a1a" stroke-width="0.7"/>
<line x1="34.80" y1="120.25" x2="36.60" y2="120.25" stroke="#1a1a1a" stroke-width="0.7"/>
<line x1="34.80" y1="119.02" x2="36.60" y2="119.02" stroke="#1a1a1a" stroke-width="0.7"/>
<line x1="33.20" y1="117.93" x2="36.60" y2="117.93" stroke="#1a1a1a" stroke-width="1"/>
<text x="26.40" y="122.03" font-size="8.5" text-anchor="end" fill="#111" font-weight="normal" stroke="#111" stroke-width="0.06" >10</text>
<text x="26.80" y="118.93" font-size="6.3" text-anchor="start" fill="#111" font-weight="normal" stroke="#111" stroke-width="0.06" >1</text>
<line x1="34.80" y1="110.71" x2="36.60" y2="110.71" stroke="#1a1a1a" stroke-width="0.7"/>
<line x1="34.80" y1="106.49" x2="36.60" y2="106.49" stroke="#1a1a1a" stroke-width="0.7"/>
<line x1="34.80" y1="103.49" x2="36.60" y2="103.49" stroke="#1a1a1a" stroke-width="0.7"/>
<line x1="34.80" y1="101.17" x2="36.60" y2="101.17" stroke="#1a1a1a" stroke-width="0.7"/>
<line x1="34.80" y1="99.27" x2="36.60" y2="99.27" stroke="#1a1a1a" stroke-width="0.7"/>
<line x1="34.80" y1="97.66" x2="36.60" y2="97.66" stroke="#1a1a1a" stroke-width="0.7"/>
<line x1="34.80" y1="96.27" x2="36.60" y2="96.27" stroke="#1a1a1a" stroke-width="0.7"/>
<line x1="34.80" y1="95.05" x2="36.60" y2="95.05" stroke="#1a1a1a" stroke-width="0.7"/>
<line x1="33.20" y1="93.95" x2="36.60" y2="93.95" stroke="#1a1a1a" stroke-width="1"/>
<text x="26.40" y="98.05" font-size="8.5" text-anchor="end" fill="#111" font-weight="normal" stroke="#111" stroke-width="0.06" >10</text>
<text x="26.80" y="94.95" font-size="6.3" text-anchor="start" fill="#111" font-weight="normal" stroke="#111" stroke-width="0.06" >2</text>
<line x1="34.80" y1="86.73" x2="36.60" y2="86.73" stroke="#1a1a1a" stroke-width="0.7"/>
<line x1="34.80" y1="82.51" x2="36.60" y2="82.51" stroke="#1a1a1a" stroke-width="0.7"/>
<line x1="34.80" y1="79.52" x2="36.60" y2="79.52" stroke="#1a1a1a" stroke-width="0.7"/>
<line x1="34.80" y1="77.19" x2="36.60" y2="77.19" stroke="#1a1a1a" stroke-width="0.7"/>
<line x1="34.80" y1="75.29" x2="36.60" y2="75.29" stroke="#1a1a1a" stroke-width="0.7"/>
<line x1="34.80" y1="73.69" x2="36.60" y2="73.69" stroke="#1a1a1a" stroke-width="0.7"/>
<line x1="34.80" y1="72.30" x2="36.60" y2="72.30" stroke="#1a1a1a" stroke-width="0.7"/>
<line x1="34.80" y1="71.07" x2="36.60" y2="71.07" stroke="#1a1a1a" stroke-width="0.7"/>
<line x1="33.20" y1="69.97" x2="36.60" y2="69.97" stroke="#1a1a1a" stroke-width="1"/>
<text x="26.40" y="74.07" font-size="8.5" text-anchor="end" fill="#111" font-weight="normal" stroke="#111" stroke-width="0.06" >10</text>
<text x="26.80" y="70.97" font-size="6.3" text-anchor="start" fill="#111" font-weight="normal" stroke="#111" stroke-width="0.06" >3</text>
<line x1="34.80" y1="62.76" x2="36.60" y2="62.76" stroke="#1a1a1a" stroke-width="0.7"/>
<line x1="34.80" y1="58.54" x2="36.60" y2="58.54" stroke="#1a1a1a" stroke-width="0.7"/>
<line x1="34.80" y1="55.54" x2="36.60" y2="55.54" stroke="#1a1a1a" stroke-width="0.7"/>
<line x1="34.80" y1="53.22" x2="36.60" y2="53.22" stroke="#1a1a1a" stroke-width="0.7"/>
<line x1="34.80" y1="51.32" x2="36.60" y2="51.32" stroke="#1a1a1a" stroke-width="0.7"/>
<line x1="34.80" y1="49.71" x2="36.60" y2="49.71" stroke="#1a1a1a" stroke-width="0.7"/>
<line x1="34.80" y1="48.32" x2="36.60" y2="48.32" stroke="#1a1a1a" stroke-width="0.7"/>
<line x1="34.80" y1="47.10" x2="36.60" y2="47.10" stroke="#1a1a1a" stroke-width="0.7"/>
<line x1="33.20" y1="46.00" x2="36.60" y2="46.00" stroke="#1a1a1a" stroke-width="1"/>
<text x="26.40" y="50.10" font-size="8.5" text-anchor="end" fill="#111" font-weight="normal" stroke="#111" stroke-width="0.06" >10</text>
<text x="26.80" y="47.00" font-size="6.3" text-anchor="start" fill="#111" font-weight="normal" stroke="#111" stroke-width="0.06" >4</text>
<line x1="36.60" y1="141.90" x2="36.60" y2="145.50" stroke="#1a1a1a" stroke-width="1"/>
<text x="39.20" y="155.30" font-size="8.5" text-anchor="end" fill="#111" font-weight="normal" stroke="#111" stroke-width="0.06" >10</text>
<text x="39.60" y="152.20" font-size="6.3" text-anchor="start" fill="#111" font-weight="normal" stroke="#111" stroke-width="0.06" >0</text>
<line x1="44.15" y1="141.90" x2="44.15" y2="143.70" stroke="#1a1a1a" stroke-width="0.7"/>
<line x1="48.56" y1="141.90" x2="48.56" y2="143.70" stroke="#1a1a1a" stroke-width="0.7"/>
<line x1="51.70" y1="141.90" x2="51.70" y2="143.70" stroke="#1a1a1a" stroke-width="0.7"/>
<line x1="54.13" y1="141.90" x2="54.13" y2="143.70" stroke="#1a1a1a" stroke-width="0.7"/>
<line x1="56.11" y1="141.90" x2="56.11" y2="143.70" stroke="#1a1a1a" stroke-width="0.7"/>
<line x1="57.79" y1="141.90" x2="57.79" y2="143.70" stroke="#1a1a1a" stroke-width="0.7"/>
<line x1="59.24" y1="141.90" x2="59.24" y2="143.70" stroke="#1a1a1a" stroke-width="0.7"/>
<line x1="60.53" y1="141.90" x2="60.53" y2="143.70" stroke="#1a1a1a" stroke-width="0.7"/>
<line x1="61.68" y1="141.90" x2="61.68" y2="145.50" stroke="#1a1a1a" stroke-width="1"/>
<text x="64.28" y="155.30" font-size="8.5" text-anchor="end" fill="#111" font-weight="normal" stroke="#111" stroke-width="0.06" >10</text>
<text x="64.68" y="152.20" font-size="6.3" text-anchor="start" fill="#111" font-weight="normal" stroke="#111" stroke-width="0.06" >1</text>
<line x1="69.22" y1="141.90" x2="69.22" y2="143.70" stroke="#1a1a1a" stroke-width="0.7"/>
<line x1="73.64" y1="141.90" x2="73.64" y2="143.70" stroke="#1a1a1a" stroke-width="0.7"/>
<line x1="76.77" y1="141.90" x2="76.77" y2="143.70" stroke="#1a1a1a" stroke-width="0.7"/>
<line x1="79.20" y1="141.90" x2="79.20" y2="143.70" stroke="#1a1a1a" stroke-width="0.7"/>
<line x1="81.19" y1="141.90" x2="81.19" y2="143.70" stroke="#1a1a1a" stroke-width="0.7"/>
<line x1="82.87" y1="141.90" x2="82.87" y2="143.70" stroke="#1a1a1a" stroke-width="0.7"/>
<line x1="84.32" y1="141.90" x2="84.32" y2="143.70" stroke="#1a1a1a" stroke-width="0.7"/>
<line x1="85.60" y1="141.90" x2="85.60" y2="143.70" stroke="#1a1a1a" stroke-width="0.7"/>
<line x1="86.75" y1="141.90" x2="86.75" y2="145.50" stroke="#1a1a1a" stroke-width="1"/>
<text x="89.35" y="155.30" font-size="8.5" text-anchor="end" fill="#111" font-weight="normal" stroke="#111" stroke-width="0.06" >10</text>
<text x="89.75" y="152.20" font-size="6.3" text-anchor="start" fill="#111" font-weight="normal" stroke="#111" stroke-width="0.06" >2</text>
<line x1="94.30" y1="141.90" x2="94.30" y2="143.70" stroke="#1a1a1a" stroke-width="0.7"/>
<line x1="98.71" y1="141.90" x2="98.71" y2="143.70" stroke="#1a1a1a" stroke-width="0.7"/>
<line x1="101.85" y1="141.90" x2="101.85" y2="143.70" stroke="#1a1a1a" stroke-width="0.7"/>
<line x1="104.28" y1="141.90" x2="104.28" y2="143.70" stroke="#1a1a1a" stroke-width="0.7"/>
<line x1="106.26" y1="141.90" x2="106.26" y2="143.70" stroke="#1a1a1a" stroke-width="0.7"/>
<line x1="107.94" y1="141.90" x2="107.94" y2="143.70" stroke="#1a1a1a" stroke-width="0.7"/>
<line x1="109.39" y1="141.90" x2="109.39" y2="143.70" stroke="#1a1a1a" stroke-width="0.7"/>
<line x1="110.68" y1="141.90" x2="110.68" y2="143.70" stroke="#1a1a1a" stroke-width="0.7"/>
<line x1="111.83" y1="141.90" x2="111.83" y2="145.50" stroke="#1a1a1a" stroke-width="1"/>
<text x="114.43" y="155.30" font-size="8.5" text-anchor="end" fill="#111" font-weight="normal" stroke="#111" stroke-width="0.06" >10</text>
<text x="114.83" y="152.20" font-size="6.3" text-anchor="start" fill="#111" font-weight="normal" stroke="#111" stroke-width="0.06" >3</text>
<line x1="119.37" y1="141.90" x2="119.37" y2="143.70" stroke="#1a1a1a" stroke-width="0.7"/>
<line x1="123.79" y1="141.90" x2="123.79" y2="143.70" stroke="#1a1a1a" stroke-width="0.7"/>
<line x1="126.92" y1="141.90" x2="126.92" y2="143.70" stroke="#1a1a1a" stroke-width="0.7"/>
<line x1="129.35" y1="141.90" x2="129.35" y2="143.70" stroke="#1a1a1a" stroke-width="0.7"/>
<line x1="131.34" y1="141.90" x2="131.34" y2="143.70" stroke="#1a1a1a" stroke-width="0.7"/>
<line x1="133.02" y1="141.90" x2="133.02" y2="143.70" stroke="#1a1a1a" stroke-width="0.7"/>
<line x1="134.47" y1="141.90" x2="134.47" y2="143.70" stroke="#1a1a1a" stroke-width="0.7"/>
<line x1="135.75" y1="141.90" x2="135.75" y2="143.70" stroke="#1a1a1a" stroke-width="0.7"/>
<line x1="136.90" y1="141.90" x2="136.90" y2="145.50" stroke="#1a1a1a" stroke-width="1"/>
<text x="139.50" y="155.30" font-size="8.5" text-anchor="end" fill="#111" font-weight="normal" stroke="#111" stroke-width="0.06" >10</text>
<text x="139.90" y="152.20" font-size="6.3" text-anchor="start" fill="#111" font-weight="normal" stroke="#111" stroke-width="0.06" >4</text>
<text x="42.60" y="57.70" font-size="8.4" text-anchor="start" fill="#4fa8da" font-weight="normal" stroke="#4fa8da" stroke-width="0.12" >IgG</text>
<text x="78.00" y="57.50" font-size="8.1" text-anchor="start" fill="#cc2e2e" font-weight="normal" stroke="#cc2e2e" stroke-width="0.15" textLength="38.9" lengthAdjust="spacingAndGlyphs">CD41-APC</text>
<text x="100.80" y="125.60" font-size="8.1" text-anchor="start" fill="#111" font-weight="normal" stroke="#111" stroke-width="0.06" >CD41+</text>
<text x="105.90" y="134.50" font-size="8.1" text-anchor="start" fill="#111" font-weight="normal" stroke="#111" stroke-width="0.06" >99,3</text>
<text x="46.90" y="169.80" font-size="10.3" text-anchor="start" fill="#111" stroke="#111" stroke-width="0" font-weight="bold" textLength="15.6" lengthAdjust="spacingAndGlyphs">CD41</text>
<line x1="66.80" y1="166.50" x2="134.00" y2="166.50" stroke="#1a1a1a" stroke-width="1.0"/>
<path d="M139 166.5 L132.5 163.9 L133.8 166.5 L132.5 169.1 Z" fill="#111"/>
<defs><clipPath id="rc"><polygon points="178.5,141.6 180.0,138.7 183.0,136.2 185.0,131.8 185.9,129.6 187.1,125.1 187.9,121.7 188.8,123.4 189.6,120.9 191.0,120.4 192.2,121.7 193.4,120.5 194.7,121.7 196.1,123.4 197.0,122.1 198.2,124.3 199.5,123.4 200.7,126.0 201.9,124.9 203.4,125.0 204.9,125.9 206.8,124.0 208.3,123.0 209.7,124.0 211.2,121.5 212.7,119.6 214.1,121.5 215.1,123.5 216.5,121.1 218.5,120.1 220.0,119.6 221.4,118.6 222.6,120.6 223.8,122.5 225.5,123.0 226.8,124.0 228.2,125.0 229.7,125.9 231.1,125.9 232.6,127.9 234.1,130.3 236.0,131.8 238.0,133.2 240.2,135.4 242.6,137.2 244.8,138.2 247.7,139.1 250.7,139.7 253.6,140.3 256.5,141.0 259.4,141.6"/></clipPath></defs>
<polygon points="178.5,141.6 178.7,138.2 180.5,133.8 182.5,132.0 184.2,129.8 185.0,125.1 185.9,116.6 186.7,104.7 187.6,91.0 188.3,83.4 188.8,80.8 189.6,87.6 190.3,89.3 191.3,84.2 192.5,80.0 193.6,77.7 194.4,81.7 195.3,85.1 196.1,88.5 197.3,91.0 198.2,96.2 199.0,103.8 199.9,109.8 201.2,114.9 202.4,118.3 203.3,121.7 204.1,124.3 205.8,126.4 207.8,130.3 209.7,133.2 212.7,135.2 215.6,137.1 219.5,138.6 224.3,139.5 229.2,140.2 238.9,140.8 245.0,141.6" fill="#64b9dc" stroke="#2aa5dc" stroke-width="0.9"/>
<polygon points="178.5,141.6 180.0,138.7 183.0,136.2 185.0,131.8 185.9,129.6 187.1,125.1 187.9,121.7 188.8,123.4 189.6,120.9 191.0,120.4 192.2,121.7 193.4,120.5 194.7,121.7 196.1,123.4 197.0,122.1 198.2,124.3 199.5,123.4 200.7,126.0 201.9,124.9 203.4,125.0 204.9,125.9 206.8,124.0 208.3,123.0 209.7,124.0 211.2,121.5 212.7,119.6 214.1,121.5 215.1,123.5 216.5,121.1 218.5,120.1 220.0,119.6 221.4,118.6 222.6,120.6 223.8,122.5 225.5,123.0 226.8,124.0 228.2,125.0 229.7,125.9 231.1,125.9 232.6,127.9 234.1,130.3 236.0,131.8 238.0,133.2 240.2,135.4 242.6,137.2 244.8,138.2 247.7,139.1 250.7,139.7 253.6,140.3 256.5,141.0 259.4,141.6" fill="#d75f55"/>
<polygon points="178.5,141.6 178.7,138.2 180.5,133.8 182.5,132.0 184.2,129.8 185.0,125.1 185.9,116.6 186.7,104.7 187.6,91.0 188.3,83.4 188.8,80.8 189.6,87.6 190.3,89.3 191.3,84.2 192.5,80.0 193.6,77.7 194.4,81.7 195.3,85.1 196.1,88.5 197.3,91.0 198.2,96.2 199.0,103.8 199.9,109.8 201.2,114.9 202.4,118.3 203.3,121.7 204.1,124.3 205.8,126.4 207.8,130.3 209.7,133.2 212.7,135.2 215.6,137.1 219.5,138.6 224.3,139.5 229.2,140.2 238.9,140.8 245.0,141.6" fill="#a85252" stroke="#8a3b45" stroke-width="0.6" clip-path="url(#rc)"/>
<polyline points="178.5,141.6 180.0,138.7 183.0,136.2 185.0,131.8 185.9,129.6 187.1,125.1 187.9,121.7 188.8,123.4 189.6,120.9 191.0,120.4 192.2,121.7 193.4,120.5 194.7,121.7 196.1,123.4 197.0,122.1 198.2,124.3 199.5,123.4 200.7,126.0 201.9,124.9 203.4,125.0 204.9,125.9 206.8,124.0 208.3,123.0 209.7,124.0 211.2,121.5 212.7,119.6 214.1,121.5 215.1,123.5 216.5,121.1 218.5,120.1 220.0,119.6 221.4,118.6 222.6,120.6 223.8,122.5 225.5,123.0 226.8,124.0 228.2,125.0 229.7,125.9 231.1,125.9 232.6,127.9 234.1,130.3 236.0,131.8 238.0,133.2 240.2,135.4 242.6,137.2 244.8,138.2 247.7,139.1 250.7,139.7 253.6,140.3 256.5,141.0 259.4,141.6" fill="none" stroke="#d2281e" stroke-width="0.9"/>
<rect x="178.5" y="45.6" width="96.40" height="95.90" fill="none" stroke="#1a1a1a" stroke-width="1.4" stroke-linejoin="round"/>
<line x1="174.90" y1="141.20" x2="178.50" y2="141.20" stroke="#1a1a1a" stroke-width="1"/>
<text x="172.00" y="144.20" font-size="8.3" text-anchor="end" fill="#111" font-weight="normal" stroke="#111" stroke-width="0.06" >0</text>
<line x1="176.60" y1="134.34" x2="178.50" y2="134.34" stroke="#1a1a1a" stroke-width="0.7"/>
<line x1="176.60" y1="127.47" x2="178.50" y2="127.47" stroke="#1a1a1a" stroke-width="0.7"/>
<line x1="176.60" y1="120.61" x2="178.50" y2="120.61" stroke="#1a1a1a" stroke-width="0.7"/>
<line x1="174.90" y1="113.75" x2="178.50" y2="113.75" stroke="#1a1a1a" stroke-width="1"/>
<text x="172.00" y="116.75" font-size="8.3" text-anchor="end" fill="#111" font-weight="normal" stroke="#111" stroke-width="0.06" >100</text>
<line x1="176.60" y1="106.89" x2="178.50" y2="106.89" stroke="#1a1a1a" stroke-width="0.7"/>
<line x1="176.60" y1="100.02" x2="178.50" y2="100.02" stroke="#1a1a1a" stroke-width="0.7"/>
<line x1="176.60" y1="93.16" x2="178.50" y2="93.16" stroke="#1a1a1a" stroke-width="0.7"/>
<line x1="174.90" y1="86.30" x2="178.50" y2="86.30" stroke="#1a1a1a" stroke-width="1"/>
<text x="172.00" y="89.30" font-size="8.3" text-anchor="end" fill="#111" font-weight="normal" stroke="#111" stroke-width="0.06" >200</text>
<line x1="176.60" y1="79.44" x2="178.50" y2="79.44" stroke="#1a1a1a" stroke-width="0.7"/>
<line x1="176.60" y1="72.57" x2="178.50" y2="72.57" stroke="#1a1a1a" stroke-width="0.7"/>
<line x1="176.60" y1="65.71" x2="178.50" y2="65.71" stroke="#1a1a1a" stroke-width="0.7"/>
<line x1="174.90" y1="58.85" x2="178.50" y2="58.85" stroke="#1a1a1a" stroke-width="1"/>
<text x="172.00" y="61.85" font-size="8.3" text-anchor="end" fill="#111" font-weight="normal" stroke="#111" stroke-width="0.06" >300</text>
<line x1="176.60" y1="51.99" x2="178.50" y2="51.99" stroke="#1a1a1a" stroke-width="0.7"/>
<line x1="178.50" y1="141.50" x2="178.50" y2="145.10" stroke="#1a1a1a" stroke-width="1"/>
<text x="181.10" y="155.60" font-size="8.5" text-anchor="end" fill="#111" font-weight="normal" stroke="#111" stroke-width="0.06" >10</text>
<text x="181.50" y="152.50" font-size="6.3" text-anchor="start" fill="#111" font-weight="normal" stroke="#111" stroke-width="0.06" >0</text>
<line x1="216.55" y1="141.50" x2="216.55" y2="145.10" stroke="#1a1a1a" stroke-width="1"/>
<text x="219.15" y="155.60" font-size="8.5" text-anchor="end" fill="#111" font-weight="normal" stroke="#111" stroke-width="0.06" >10</text>
<text x="219.55" y="152.50" font-size="6.3" text-anchor="start" fill="#111" font-weight="normal" stroke="#111" stroke-width="0.06" >1</text>
<line x1="254.60" y1="141.50" x2="254.60" y2="145.10" stroke="#1a1a1a" stroke-width="1"/>
<text x="257.20" y="155.60" font-size="8.5" text-anchor="end" fill="#111" font-weight="normal" stroke="#111" stroke-width="0.06" >10</text>
<text x="257.60" y="152.50" font-size="6.3" text-anchor="start" fill="#111" font-weight="normal" stroke="#111" stroke-width="0.06" >2</text>
<line x1="189.95" y1="141.50" x2="189.95" y2="143.30" stroke="#1a1a1a" stroke-width="0.7"/>
<line x1="196.65" y1="141.50" x2="196.65" y2="143.30" stroke="#1a1a1a" stroke-width="0.7"/>
<line x1="201.41" y1="141.50" x2="201.41" y2="143.30" stroke="#1a1a1a" stroke-width="0.7"/>
<line x1="205.10" y1="141.50" x2="205.10" y2="143.30" stroke="#1a1a1a" stroke-width="0.7"/>
<line x1="208.11" y1="141.50" x2="208.11" y2="143.30" stroke="#1a1a1a" stroke-width="0.7"/>
<line x1="210.66" y1="141.50" x2="210.66" y2="143.30" stroke="#1a1a1a" stroke-width="0.7"/>
<line x1="212.86" y1="141.50" x2="212.86" y2="143.30" stroke="#1a1a1a" stroke-width="0.7"/>
<line x1="214.81" y1="141.50" x2="214.81" y2="143.30" stroke="#1a1a1a" stroke-width="0.7"/>
<line x1="228.00" y1="141.50" x2="228.00" y2="143.30" stroke="#1a1a1a" stroke-width="0.7"/>
<line x1="234.70" y1="141.50" x2="234.70" y2="143.30" stroke="#1a1a1a" stroke-width="0.7"/>
<line x1="239.46" y1="141.50" x2="239.46" y2="143.30" stroke="#1a1a1a" stroke-width="0.7"/>
<line x1="243.15" y1="141.50" x2="243.15" y2="143.30" stroke="#1a1a1a" stroke-width="0.7"/>
<line x1="246.16" y1="141.50" x2="246.16" y2="143.30" stroke="#1a1a1a" stroke-width="0.7"/>
<line x1="248.71" y1="141.50" x2="248.71" y2="143.30" stroke="#1a1a1a" stroke-width="0.7"/>
<line x1="250.91" y1="141.50" x2="250.91" y2="143.30" stroke="#1a1a1a" stroke-width="0.7"/>
<line x1="252.86" y1="141.50" x2="252.86" y2="143.30" stroke="#1a1a1a" stroke-width="0.7"/>
<line x1="266.05" y1="141.50" x2="266.05" y2="143.30" stroke="#1a1a1a" stroke-width="0.7"/>
<line x1="272.75" y1="141.50" x2="272.75" y2="143.30" stroke="#1a1a1a" stroke-width="0.7"/>
<text x="226.60" y="39.50" font-size="10.0" text-anchor="middle" fill="#111" font-weight="normal" stroke="#111" stroke-width="0.06" >3 h</text>
<text x="203.60" y="59.80" font-size="8.3" text-anchor="start" fill="#44a8d8" font-weight="normal" stroke="#44a8d8" stroke-width="0.12" textLength="44.2" lengthAdjust="spacingAndGlyphs">Unstimulated</text>
<text x="203.60" y="75.70" font-size="8.6" text-anchor="start" fill="#cc2e2e" font-weight="normal" stroke="#cc2e2e" stroke-width="0.15" textLength="14.6" lengthAdjust="spacingAndGlyphs">NS1</text>
<text x="184.90" y="169.80" font-size="10.3" text-anchor="start" fill="#111" stroke="#111" stroke-width="0" font-weight="bold" textLength="20.8" lengthAdjust="spacingAndGlyphs">CD62P</text>
<line x1="209.10" y1="166.70" x2="270.00" y2="166.70" stroke="#1a1a1a" stroke-width="1.0"/>
<path d="M275 166.7 L268.5 164.1 L269.8 166.7 L268.5 169.3 Z" fill="#111"/>
<line x1="347.50" y1="22.80" x2="347.50" y2="157.40" stroke="#1a1a1a" stroke-width="1.1"/>
<line x1="347.00" y1="157.40" x2="509.50" y2="157.40" stroke="#1a1a1a" stroke-width="1.1"/>
<line x1="343.80" y1="157.40" x2="347.50" y2="157.40" stroke="#1a1a1a" stroke-width="1"/>
<text x="340.90" y="160.50" font-size="8.8" text-anchor="end" fill="#111" font-weight="normal" stroke="#111" stroke-width="0.06" >0</text>
<line x1="343.80" y1="131.10" x2="347.50" y2="131.10" stroke="#1a1a1a" stroke-width="1"/>
<text x="340.90" y="134.20" font-size="8.8" text-anchor="end" fill="#111" font-weight="normal" stroke="#111" stroke-width="0.06" >10</text>
<line x1="343.80" y1="104.80" x2="347.50" y2="104.80" stroke="#1a1a1a" stroke-width="1"/>
<text x="340.90" y="107.90" font-size="8.8" text-anchor="end" fill="#111" font-weight="normal" stroke="#111" stroke-width="0.06" >20</text>
<line x1="343.80" y1="78.50" x2="347.50" y2="78.50" stroke="#1a1a1a" stroke-width="1"/>
<text x="340.90" y="81.60" font-size="8.8" text-anchor="end" fill="#111" font-weight="normal" stroke="#111" stroke-width="0.06" >30</text>
<line x1="343.80" y1="52.20" x2="347.50" y2="52.20" stroke="#1a1a1a" stroke-width="1"/>
<text x="340.90" y="55.30" font-size="8.8" text-anchor="end" fill="#111" font-weight="normal" stroke="#111" stroke-width="0.06" >40</text>
<line x1="343.80" y1="25.90" x2="347.50" y2="25.90" stroke="#1a1a1a" stroke-width="1"/>
<text x="340.90" y="29.00" font-size="8.8" text-anchor="end" fill="#111" font-weight="normal" stroke="#111" stroke-width="0.06" >50</text>
<text x="325.00" y="118.80" font-size="9.8" text-anchor="start" fill="#111" stroke="#111" stroke-width="0.08" font-weight="bold" textLength="58.3" lengthAdjust="spacingAndGlyphs" transform="rotate(-90 325.00 118.80)">CD41<tspan font-size="6.2" dy="-2.9">+</tspan><tspan dy="2.9">CD62P</tspan><tspan font-size="6.2" dy="-2.9">+</tspan><tspan dy="2.9"> (%)</tspan></text>
<line x1="357.50" y1="110.70" x2="357.50" y2="105.00" stroke="#222" stroke-width="1"/>
<line x1="354.30" y1="105.00" x2="360.70" y2="105.00" stroke="#222" stroke-width="1"/>
<rect x="350.25" y="110.70" width="14.50" height="46.70" fill="#6caae0"/>
<line x1="357.50" y1="157.40" x2="357.50" y2="160.00" stroke="#1a1a1a" stroke-width="1"/>
<line x1="377.60" y1="99.50" x2="377.60" y2="94.40" stroke="#222" stroke-width="1"/>
<line x1="374.40" y1="94.40" x2="380.80" y2="94.40" stroke="#222" stroke-width="1"/>
<rect x="370.35" y="99.50" width="14.50" height="57.90" fill="#a00028"/>
<line x1="377.60" y1="157.40" x2="377.60" y2="160.00" stroke="#1a1a1a" stroke-width="1"/>
<line x1="398.00" y1="82.00" x2="398.00" y2="71.70" stroke="#222" stroke-width="1"/>
<line x1="394.80" y1="71.70" x2="401.20" y2="71.70" stroke="#222" stroke-width="1"/>
<rect x="390.75" y="82.00" width="14.50" height="75.40" fill="#a00028"/>
<line x1="398.00" y1="157.40" x2="398.00" y2="160.00" stroke="#1a1a1a" stroke-width="1"/>
<line x1="418.00" y1="58.80" x2="418.00" y2="45.40" stroke="#222" stroke-width="1"/>
<line x1="414.80" y1="45.40" x2="421.20" y2="45.40" stroke="#222" stroke-width="1"/>
<rect x="410.75" y="58.80" width="14.50" height="98.60" fill="#a00028"/>
<line x1="418.00" y1="157.40" x2="418.00" y2="160.00" stroke="#1a1a1a" stroke-width="1"/>
<circle cx="418.00" cy="41.50" r="0.9" fill="#111"/>
<line x1="438.40" y1="117.50" x2="438.40" y2="113.80" stroke="#222" stroke-width="1"/>
<line x1="435.20" y1="113.80" x2="441.60" y2="113.80" stroke="#222" stroke-width="1"/>
<rect x="431.15" y="117.50" width="14.50" height="39.90" fill="#6caae0"/>
<line x1="438.40" y1="157.40" x2="438.40" y2="160.00" stroke="#1a1a1a" stroke-width="1"/>
<line x1="458.50" y1="90.10" x2="458.50" y2="74.30" stroke="#222" stroke-width="1"/>
<line x1="455.30" y1="74.30" x2="461.70" y2="74.30" stroke="#222" stroke-width="1"/>
<rect x="451.25" y="90.10" width="14.50" height="67.30" fill="#a00028"/>
<line x1="458.50" y1="157.40" x2="458.50" y2="160.00" stroke="#1a1a1a" stroke-width="1"/>
<line x1="478.70" y1="69.90" x2="478.70" y2="44.50" stroke="#222" stroke-width="1"/>
<line x1="475.50" y1="44.50" x2="481.90" y2="44.50" stroke="#222" stroke-width="1"/>
<rect x="471.45" y="69.90" width="14.50" height="87.50" fill="#a00028"/>
<line x1="478.70" y1="157.40" x2="478.70" y2="160.00" stroke="#1a1a1a" stroke-width="1"/>
<circle cx="478.70" cy="40.30" r="0.9" fill="#111"/>
<line x1="498.80" y1="53.90" x2="498.80" y2="38.20" stroke="#222" stroke-width="1"/>
<line x1="495.60" y1="38.20" x2="502.00" y2="38.20" stroke="#222" stroke-width="1"/>
<rect x="491.55" y="53.90" width="14.50" height="103.50" fill="#a00028"/>
<line x1="498.80" y1="157.40" x2="498.80" y2="160.00" stroke="#1a1a1a" stroke-width="1"/>
<circle cx="498.80" cy="34.20" r="0.9" fill="#111"/>
<text x="357.50" y="171.60" font-size="8.6" text-anchor="middle" fill="#111" font-weight="normal" stroke="#111" stroke-width="0.06" >0</text>
<text x="377.60" y="171.60" font-size="8.6" text-anchor="middle" fill="#111" font-weight="normal" stroke="#111" stroke-width="0.06" >0.5</text>
<text x="398.00" y="171.60" font-size="8.6" text-anchor="middle" fill="#111" font-weight="normal" stroke="#111" stroke-width="0.06" >5</text>
<text x="418.00" y="171.60" font-size="8.6" text-anchor="middle" fill="#111" font-weight="normal" stroke="#111" stroke-width="0.06" >50</text>
<text x="438.40" y="171.60" font-size="8.6" text-anchor="middle" fill="#111" font-weight="normal" stroke="#111" stroke-width="0.06" >0</text>
<text x="458.50" y="171.60" font-size="8.6" text-anchor="middle" fill="#111" font-weight="normal" stroke="#111" stroke-width="0.06" >0.5</text>
<text x="478.70" y="171.60" font-size="8.6" text-anchor="middle" fill="#111" font-weight="normal" stroke="#111" stroke-width="0.06" >5</text>
<text x="498.80" y="171.60" font-size="8.6" text-anchor="middle" fill="#111" font-weight="normal" stroke="#111" stroke-width="0.06" >50</text>
<text x="290.80" y="171.40" font-size="8.6" text-anchor="start" fill="#111" font-weight="normal" stroke="#111" stroke-width="0.06" textLength="50.2" lengthAdjust="spacingAndGlyphs">NS1 (µg/mL):</text>
<line x1="350.40" y1="182.30" x2="425.80" y2="182.30" stroke="#1a1a1a" stroke-width="1"/>
<line x1="350.40" y1="176.60" x2="350.40" y2="188.00" stroke="#1a1a1a" stroke-width="1"/>
<line x1="425.80" y1="176.60" x2="425.80" y2="188.00" stroke="#1a1a1a" stroke-width="1"/>
<line x1="433.80" y1="182.30" x2="508.20" y2="182.30" stroke="#1a1a1a" stroke-width="1"/>
<line x1="433.80" y1="176.60" x2="433.80" y2="188.00" stroke="#1a1a1a" stroke-width="1"/>
<line x1="508.20" y1="176.60" x2="508.20" y2="188.00" stroke="#1a1a1a" stroke-width="1"/>
<text x="388.20" y="198.80" font-size="8.6" text-anchor="middle" fill="#111" font-weight="normal" stroke="#111" stroke-width="0.06" >1.5 h</text>
<text x="471.00" y="198.80" font-size="8.6" text-anchor="middle" fill="#111" font-weight="normal" stroke="#111" stroke-width="0.06" >3 h</text>
<line x1="50.50" y1="233.90" x2="50.50" y2="373.20" stroke="#1a1a1a" stroke-width="1.1"/>
<line x1="47.30" y1="373.20" x2="220.00" y2="373.20" stroke="#1a1a1a" stroke-width="1.1"/>
<line x1="46.90" y1="373.20" x2="50.50" y2="373.20" stroke="#1a1a1a" stroke-width="1"/>
<text x="43.90" y="376.30" font-size="8.8" text-anchor="end" fill="#111" font-weight="normal" stroke="#111" stroke-width="0.06" >0</text>
<line x1="46.90" y1="339.09" x2="50.50" y2="339.09" stroke="#1a1a1a" stroke-width="1"/>
<text x="43.90" y="342.19" font-size="8.8" text-anchor="end" fill="#111" font-weight="normal" stroke="#111" stroke-width="0.06" >10</text>
<line x1="46.90" y1="304.98" x2="50.50" y2="304.98" stroke="#1a1a1a" stroke-width="1"/>
<text x="43.90" y="308.08" font-size="8.8" text-anchor="end" fill="#111" font-weight="normal" stroke="#111" stroke-width="0.06" >20</text>
<line x1="46.90" y1="270.86" x2="50.50" y2="270.86" stroke="#1a1a1a" stroke-width="1"/>
<text x="43.90" y="273.96" font-size="8.8" text-anchor="end" fill="#111" font-weight="normal" stroke="#111" stroke-width="0.06" >30</text>
<line x1="46.90" y1="236.75" x2="50.50" y2="236.75" stroke="#1a1a1a" stroke-width="1"/>
<text x="43.90" y="239.85" font-size="8.8" text-anchor="end" fill="#111" font-weight="normal" stroke="#111" stroke-width="0.06" >40</text>
<text x="29.00" y="333.30" font-size="9.8" text-anchor="start" fill="#111" stroke="#111" stroke-width="0.08" font-weight="bold" textLength="59.5" lengthAdjust="spacingAndGlyphs" transform="rotate(-90 29.00 333.30)">CD41<tspan font-size="6.2" dy="-2.9">+</tspan><tspan dy="2.9">CD62P</tspan><tspan font-size="6.2" dy="-2.9">+</tspan><tspan dy="2.9"> (%)</tspan></text>
<line x1="65.30" y1="323.00" x2="65.30" y2="316.20" stroke="#222" stroke-width="1"/>
<line x1="62.30" y1="316.20" x2="68.30" y2="316.20" stroke="#222" stroke-width="1"/>
<rect x="59.40" y="323.00" width="11.80" height="50.20" fill="#6caae0"/>
<line x1="79.90" y1="261.70" x2="79.90" y2="251.60" stroke="#222" stroke-width="1"/>
<line x1="76.90" y1="251.60" x2="82.90" y2="251.60" stroke="#222" stroke-width="1"/>
<rect x="74.00" y="261.70" width="11.80" height="111.50" fill="#a00028"/>
<circle cx="79.90" cy="247.20" r="0.9" fill="#111"/>
<line x1="72.50" y1="373.20" x2="72.50" y2="376.20" stroke="#1a1a1a" stroke-width="1"/>
<line x1="106.75" y1="324.30" x2="106.75" y2="317.00" stroke="#222" stroke-width="1"/>
<line x1="103.75" y1="317.00" x2="109.75" y2="317.00" stroke="#222" stroke-width="1"/>
<rect x="100.85" y="324.30" width="11.80" height="48.90" fill="#6caae0"/>
<line x1="121.35" y1="273.60" x2="121.35" y2="261.30" stroke="#222" stroke-width="1"/>
<line x1="118.35" y1="261.30" x2="124.35" y2="261.30" stroke="#222" stroke-width="1"/>
<rect x="115.45" y="273.60" width="11.80" height="99.60" fill="#a00028"/>
<circle cx="121.35" cy="256.80" r="0.9" fill="#111"/>
<line x1="113.95" y1="373.20" x2="113.95" y2="376.20" stroke="#1a1a1a" stroke-width="1"/>
<line x1="148.20" y1="319.10" x2="148.20" y2="311.10" stroke="#222" stroke-width="1"/>
<line x1="145.20" y1="311.10" x2="151.20" y2="311.10" stroke="#222" stroke-width="1"/>
<rect x="142.30" y="319.10" width="11.80" height="54.10" fill="#6caae0"/>
<line x1="162.80" y1="275.80" x2="162.80" y2="263.50" stroke="#222" stroke-width="1"/>
<line x1="159.80" y1="263.50" x2="165.80" y2="263.50" stroke="#222" stroke-width="1"/>
<rect x="156.90" y="275.80" width="11.80" height="97.40" fill="#a00028"/>
<circle cx="162.80" cy="258.60" r="0.9" fill="#111"/>
<line x1="155.40" y1="373.20" x2="155.40" y2="376.20" stroke="#1a1a1a" stroke-width="1"/>
<line x1="189.65" y1="317.80" x2="189.65" y2="310.30" stroke="#222" stroke-width="1"/>
<line x1="186.65" y1="310.30" x2="192.65" y2="310.30" stroke="#222" stroke-width="1"/>
<rect x="183.75" y="317.80" width="11.80" height="55.40" fill="#6caae0"/>
<line x1="204.25" y1="263.70" x2="204.25" y2="255.40" stroke="#222" stroke-width="1"/>
<line x1="201.25" y1="255.40" x2="207.25" y2="255.40" stroke="#222" stroke-width="1"/>
<rect x="198.35" y="263.70" width="11.80" height="109.50" fill="#a00028"/>
<circle cx="204.25" cy="250.60" r="0.9" fill="#111"/>
<line x1="196.85" y1="373.20" x2="196.85" y2="376.20" stroke="#1a1a1a" stroke-width="1"/>
<text x="72.50" y="387.20" font-size="8.6" text-anchor="middle" fill="#111" font-weight="normal" stroke="#111" stroke-width="0.06" >0</text>
<text x="113.95" y="387.20" font-size="8.6" text-anchor="middle" fill="#111" font-weight="normal" stroke="#111" stroke-width="0.06" >10</text>
<text x="155.40" y="387.20" font-size="8.6" text-anchor="middle" fill="#111" font-weight="normal" stroke="#111" stroke-width="0.06" >50</text>
<text x="196.85" y="387.20" font-size="8.6" text-anchor="middle" fill="#111" font-weight="normal" stroke="#111" stroke-width="0.06" >100</text>
<text x="101.00" y="401.30" font-size="10.3" text-anchor="start" fill="#111" stroke="#111" stroke-width="0.28" font-weight="normal" textLength="67.6" lengthAdjust="spacingAndGlyphs">Polymyxin B (µg/mL)</text>
<line x1="279.00" y1="232.30" x2="279.00" y2="373.10" stroke="#2a2a2a" stroke-width="1.4"/>
<line x1="275.80" y1="373.10" x2="447.80" y2="373.10" stroke="#1a1a1a" stroke-width="1.1"/>
<line x1="275.40" y1="373.10" x2="279.00" y2="373.10" stroke="#1a1a1a" stroke-width="1"/>
<text x="271.90" y="376.20" font-size="8.8" text-anchor="end" fill="#111" font-weight="normal" stroke="#111" stroke-width="0.06" >0</text>
<line x1="275.40" y1="327.15" x2="279.00" y2="327.15" stroke="#1a1a1a" stroke-width="1"/>
<text x="271.90" y="330.25" font-size="8.8" text-anchor="end" fill="#111" font-weight="normal" stroke="#111" stroke-width="0.06" >10</text>
<line x1="275.40" y1="281.20" x2="279.00" y2="281.20" stroke="#1a1a1a" stroke-width="1"/>
<text x="271.90" y="284.30" font-size="8.8" text-anchor="end" fill="#111" font-weight="normal" stroke="#111" stroke-width="0.06" >20</text>
<line x1="275.40" y1="235.25" x2="279.00" y2="235.25" stroke="#1a1a1a" stroke-width="1"/>
<text x="271.90" y="238.35" font-size="8.8" text-anchor="end" fill="#111" font-weight="normal" stroke="#111" stroke-width="0.06" >30</text>
<text x="256.70" y="332.30" font-size="9.8" text-anchor="start" fill="#111" stroke="#111" stroke-width="0.08" font-weight="bold" textLength="59.5" lengthAdjust="spacingAndGlyphs" transform="rotate(-90 256.70 332.30)">CD41<tspan font-size="6.2" dy="-2.9">+</tspan><tspan dy="2.9">CD62P</tspan><tspan font-size="6.2" dy="-2.9">+</tspan><tspan dy="2.9"> (%)</tspan></text>
<line x1="293.90" y1="305.50" x2="293.90" y2="296.50" stroke="#222" stroke-width="1"/>
<line x1="290.90" y1="296.50" x2="296.90" y2="296.50" stroke="#222" stroke-width="1"/>
<rect x="288.00" y="305.50" width="11.80" height="67.60" fill="#6caae0"/>
<line x1="308.40" y1="269.40" x2="308.40" y2="258.40" stroke="#222" stroke-width="1"/>
<line x1="305.40" y1="258.40" x2="311.40" y2="258.40" stroke="#222" stroke-width="1"/>
<rect x="302.50" y="269.40" width="11.80" height="103.70" fill="#2d4b7d"/>
<circle cx="308.40" cy="253.60" r="0.9" fill="#111"/>
<line x1="301.20" y1="373.10" x2="301.20" y2="376.10" stroke="#1a1a1a" stroke-width="1"/>
<line x1="335.30" y1="307.70" x2="335.30" y2="298.10" stroke="#222" stroke-width="1"/>
<line x1="332.30" y1="298.10" x2="338.30" y2="298.10" stroke="#222" stroke-width="1"/>
<rect x="329.40" y="307.70" width="11.80" height="65.40" fill="#6caae0"/>
<line x1="349.80" y1="286.30" x2="349.80" y2="271.60" stroke="#222" stroke-width="1"/>
<line x1="346.80" y1="271.60" x2="352.80" y2="271.60" stroke="#222" stroke-width="1"/>
<rect x="343.90" y="286.30" width="11.80" height="86.80" fill="#2d4b7d"/>
<line x1="342.60" y1="373.10" x2="342.60" y2="376.10" stroke="#1a1a1a" stroke-width="1"/>
<line x1="376.60" y1="300.50" x2="376.60" y2="289.50" stroke="#222" stroke-width="1"/>
<line x1="373.60" y1="289.50" x2="379.60" y2="289.50" stroke="#222" stroke-width="1"/>
<rect x="370.70" y="300.50" width="11.80" height="72.60" fill="#6caae0"/>
<line x1="391.10" y1="304.00" x2="391.10" y2="290.60" stroke="#222" stroke-width="1"/>
<line x1="388.10" y1="290.60" x2="394.10" y2="290.60" stroke="#222" stroke-width="1"/>
<rect x="385.20" y="304.00" width="11.80" height="69.10" fill="#2d4b7d"/>
<text x="391.10" y="287.60" font-size="7.6" text-anchor="middle" fill="#111" font-weight="normal" stroke="#111" stroke-width="0.15" >#</text>
<line x1="383.90" y1="373.10" x2="383.90" y2="376.10" stroke="#1a1a1a" stroke-width="1"/>
<line x1="418.00" y1="298.90" x2="418.00" y2="288.40" stroke="#222" stroke-width="1"/>
<line x1="415.00" y1="288.40" x2="421.00" y2="288.40" stroke="#222" stroke-width="1"/>
<rect x="412.10" y="298.90" width="11.80" height="74.20" fill="#6caae0"/>
<line x1="432.50" y1="313.10" x2="432.50" y2="302.10" stroke="#222" stroke-width="1"/>
<line x1="429.50" y1="302.10" x2="435.50" y2="302.10" stroke="#222" stroke-width="1"/>
<rect x="426.60" y="313.10" width="11.80" height="60.00" fill="#2d4b7d"/>
<text x="432.50" y="299.10" font-size="7.6" text-anchor="middle" fill="#111" font-weight="normal" stroke="#111" stroke-width="0.15" >#</text>
<line x1="425.30" y1="373.10" x2="425.30" y2="376.10" stroke="#1a1a1a" stroke-width="1"/>
<text x="301.20" y="387.20" font-size="8.6" text-anchor="middle" fill="#111" font-weight="normal" stroke="#111" stroke-width="0.06" >0</text>
<text x="342.60" y="387.20" font-size="8.6" text-anchor="middle" fill="#111" font-weight="normal" stroke="#111" stroke-width="0.06" >10</text>
<text x="383.90" y="387.20" font-size="8.6" text-anchor="middle" fill="#111" font-weight="normal" stroke="#111" stroke-width="0.06" >50</text>
<text x="425.30" y="387.20" font-size="8.6" text-anchor="middle" fill="#111" font-weight="normal" stroke="#111" stroke-width="0.06" >100</text>
<text x="329.30" y="401.30" font-size="10.3" text-anchor="start" fill="#111" stroke="#111" stroke-width="0.28" font-weight="normal" textLength="68.0" lengthAdjust="spacingAndGlyphs">Polymyxin B (µg/mL)</text>
<rect x="451.10" y="232.30" width="14.00" height="8.30" fill="#6caae0"/>
<text x="468.30" y="238.90" font-size="8.4" text-anchor="start" fill="#111" font-weight="normal" stroke="#111" stroke-width="0.06" textLength="43.8" lengthAdjust="spacingAndGlyphs">Unstimulated</text>
<rect x="451.10" y="244.25" width="14.00" height="8.30" fill="#a00028"/>
<text x="468.30" y="250.85" font-size="8.4" text-anchor="start" fill="#111" font-weight="normal" stroke="#111" stroke-width="0.06" textLength="14.4" lengthAdjust="spacingAndGlyphs">NS1</text>
<rect x="451.10" y="256.20" width="14.00" height="8.30" fill="#2d4b7d"/>
<text x="468.30" y="262.80" font-size="8.4" text-anchor="start" fill="#111" font-weight="normal" stroke="#111" stroke-width="0.06" textLength="14.4" lengthAdjust="spacingAndGlyphs">LPS</text>
<path d="M0 0H520V1.2H0Z M0 0H1.3V411H0Z M518.7 0H520V411H518.7Z M0 409.6H520V411H0Z" fill="#000"/>
<rect x="16.99" y="144.81" width="2.09" height="1.64" fill="#fff"/>
<rect x="19.83" y="144.81" width="2.02" height="1.64" fill="#fff"/>
<rect x="16.99" y="120.84" width="2.09" height="1.64" fill="#fff"/>
<rect x="19.83" y="120.84" width="2.02" height="1.64" fill="#fff"/>
<rect x="26.68" y="117.90" width="1.70" height="1.47" fill="#fff"/>
<rect x="28.94" y="117.90" width="1.66" height="1.47" fill="#fff"/>
<rect x="16.99" y="96.86" width="2.09" height="1.64" fill="#fff"/>
<rect x="19.83" y="96.86" width="2.02" height="1.64" fill="#fff"/>
<rect x="16.99" y="72.89" width="2.09" height="1.64" fill="#fff"/>
<rect x="19.83" y="72.89" width="2.02" height="1.64" fill="#fff"/>
<rect x="16.99" y="48.91" width="2.09" height="1.64" fill="#fff"/>
<rect x="19.83" y="48.91" width="2.02" height="1.64" fill="#fff"/>
<rect x="29.79" y="154.11" width="2.09" height="1.64" fill="#fff"/>
<rect x="32.63" y="154.11" width="2.02" height="1.64" fill="#fff"/>
<rect x="54.87" y="154.11" width="2.09" height="1.64" fill="#fff"/>
<rect x="57.71" y="154.11" width="2.02" height="1.64" fill="#fff"/>
<rect x="64.55" y="151.18" width="1.70" height="1.47" fill="#fff"/>
<rect x="66.82" y="151.18" width="1.66" height="1.47" fill="#fff"/>
<rect x="79.94" y="154.11" width="2.09" height="1.64" fill="#fff"/>
<rect x="82.78" y="154.11" width="2.02" height="1.64" fill="#fff"/>
<rect x="105.02" y="154.11" width="2.09" height="1.64" fill="#fff"/>
<rect x="107.86" y="154.11" width="2.02" height="1.64" fill="#fff"/>
<rect x="130.09" y="154.11" width="2.09" height="1.64" fill="#fff"/>
<rect x="132.93" y="154.11" width="2.02" height="1.64" fill="#fff"/>
<rect x="93.73" y="56.34" width="1.98" height="1.61" fill="#fff"/>
<rect x="96.41" y="56.34" width="1.92" height="1.61" fill="#fff"/>
<rect x="117.02" y="124.44" width="2.02" height="1.61" fill="#fff"/>
<rect x="119.76" y="124.44" width="1.96" height="1.61" fill="#fff"/>
<rect x="59.09" y="168.20" width="1.44" height="2.05" fill="#fff"/>
<rect x="61.37" y="168.20" width="1.36" height="2.05" fill="#fff"/>
<rect x="158.18" y="115.58" width="2.05" height="1.62" fill="#fff"/>
<rect x="160.97" y="115.58" width="1.99" height="1.62" fill="#fff"/>
<rect x="171.69" y="154.41" width="2.09" height="1.64" fill="#fff"/>
<rect x="174.53" y="154.41" width="2.02" height="1.64" fill="#fff"/>
<rect x="209.74" y="154.41" width="2.09" height="1.64" fill="#fff"/>
<rect x="212.58" y="154.41" width="2.02" height="1.64" fill="#fff"/>
<rect x="219.43" y="151.48" width="1.70" height="1.47" fill="#fff"/>
<rect x="221.69" y="151.48" width="1.66" height="1.47" fill="#fff"/>
<rect x="247.79" y="154.41" width="2.09" height="1.64" fill="#fff"/>
<rect x="250.63" y="154.41" width="2.02" height="1.64" fill="#fff"/>
<rect x="214.00" y="74.51" width="1.92" height="1.64" fill="#fff"/>
<rect x="216.58" y="74.51" width="1.86" height="1.64" fill="#fff"/>
<rect x="331.18" y="132.99" width="2.14" height="1.66" fill="#fff"/>
<rect x="334.10" y="132.99" width="2.07" height="1.66" fill="#fff"/>
<rect x="323.45" y="103.21" width="2.00" height="1.59" fill="#fff"/>
<rect x="323.45" y="100.75" width="2.00" height="1.50" fill="#fff"/>
<rect x="302.53" y="170.21" width="2.07" height="1.64" fill="#fff"/>
<rect x="305.35" y="170.21" width="2.01" height="1.64" fill="#fff"/>
<rect x="378.69" y="197.61" width="2.11" height="1.64" fill="#fff"/>
<rect x="381.56" y="197.61" width="2.04" height="1.64" fill="#fff"/>
<rect x="34.18" y="340.98" width="2.14" height="1.66" fill="#fff"/>
<rect x="37.10" y="340.98" width="2.07" height="1.66" fill="#fff"/>
<rect x="27.45" y="317.39" width="2.00" height="1.61" fill="#fff"/>
<rect x="27.45" y="314.89" width="2.00" height="1.52" fill="#fff"/>
<rect x="109.22" y="386.01" width="2.11" height="1.64" fill="#fff"/>
<rect x="112.09" y="386.01" width="2.04" height="1.64" fill="#fff"/>
<rect x="189.73" y="386.01" width="2.11" height="1.64" fill="#fff"/>
<rect x="192.60" y="386.01" width="2.04" height="1.64" fill="#fff"/>
<rect x="262.18" y="329.04" width="2.14" height="1.66" fill="#fff"/>
<rect x="265.10" y="329.04" width="2.07" height="1.66" fill="#fff"/>
<rect x="255.15" y="316.39" width="2.00" height="1.61" fill="#fff"/>
<rect x="255.15" y="313.89" width="2.00" height="1.52" fill="#fff"/>
<rect x="337.87" y="386.01" width="2.11" height="1.64" fill="#fff"/>
<rect x="340.74" y="386.01" width="2.04" height="1.64" fill="#fff"/>
<rect x="418.18" y="386.01" width="2.11" height="1.64" fill="#fff"/>
<rect x="421.05" y="386.01" width="2.04" height="1.64" fill="#fff"/>
<rect x="478.55" y="249.67" width="1.90" height="1.63" fill="#fff"/>
<rect x="481.10" y="249.67" width="1.84" height="1.63" fill="#fff"/>
</svg></body></html>
